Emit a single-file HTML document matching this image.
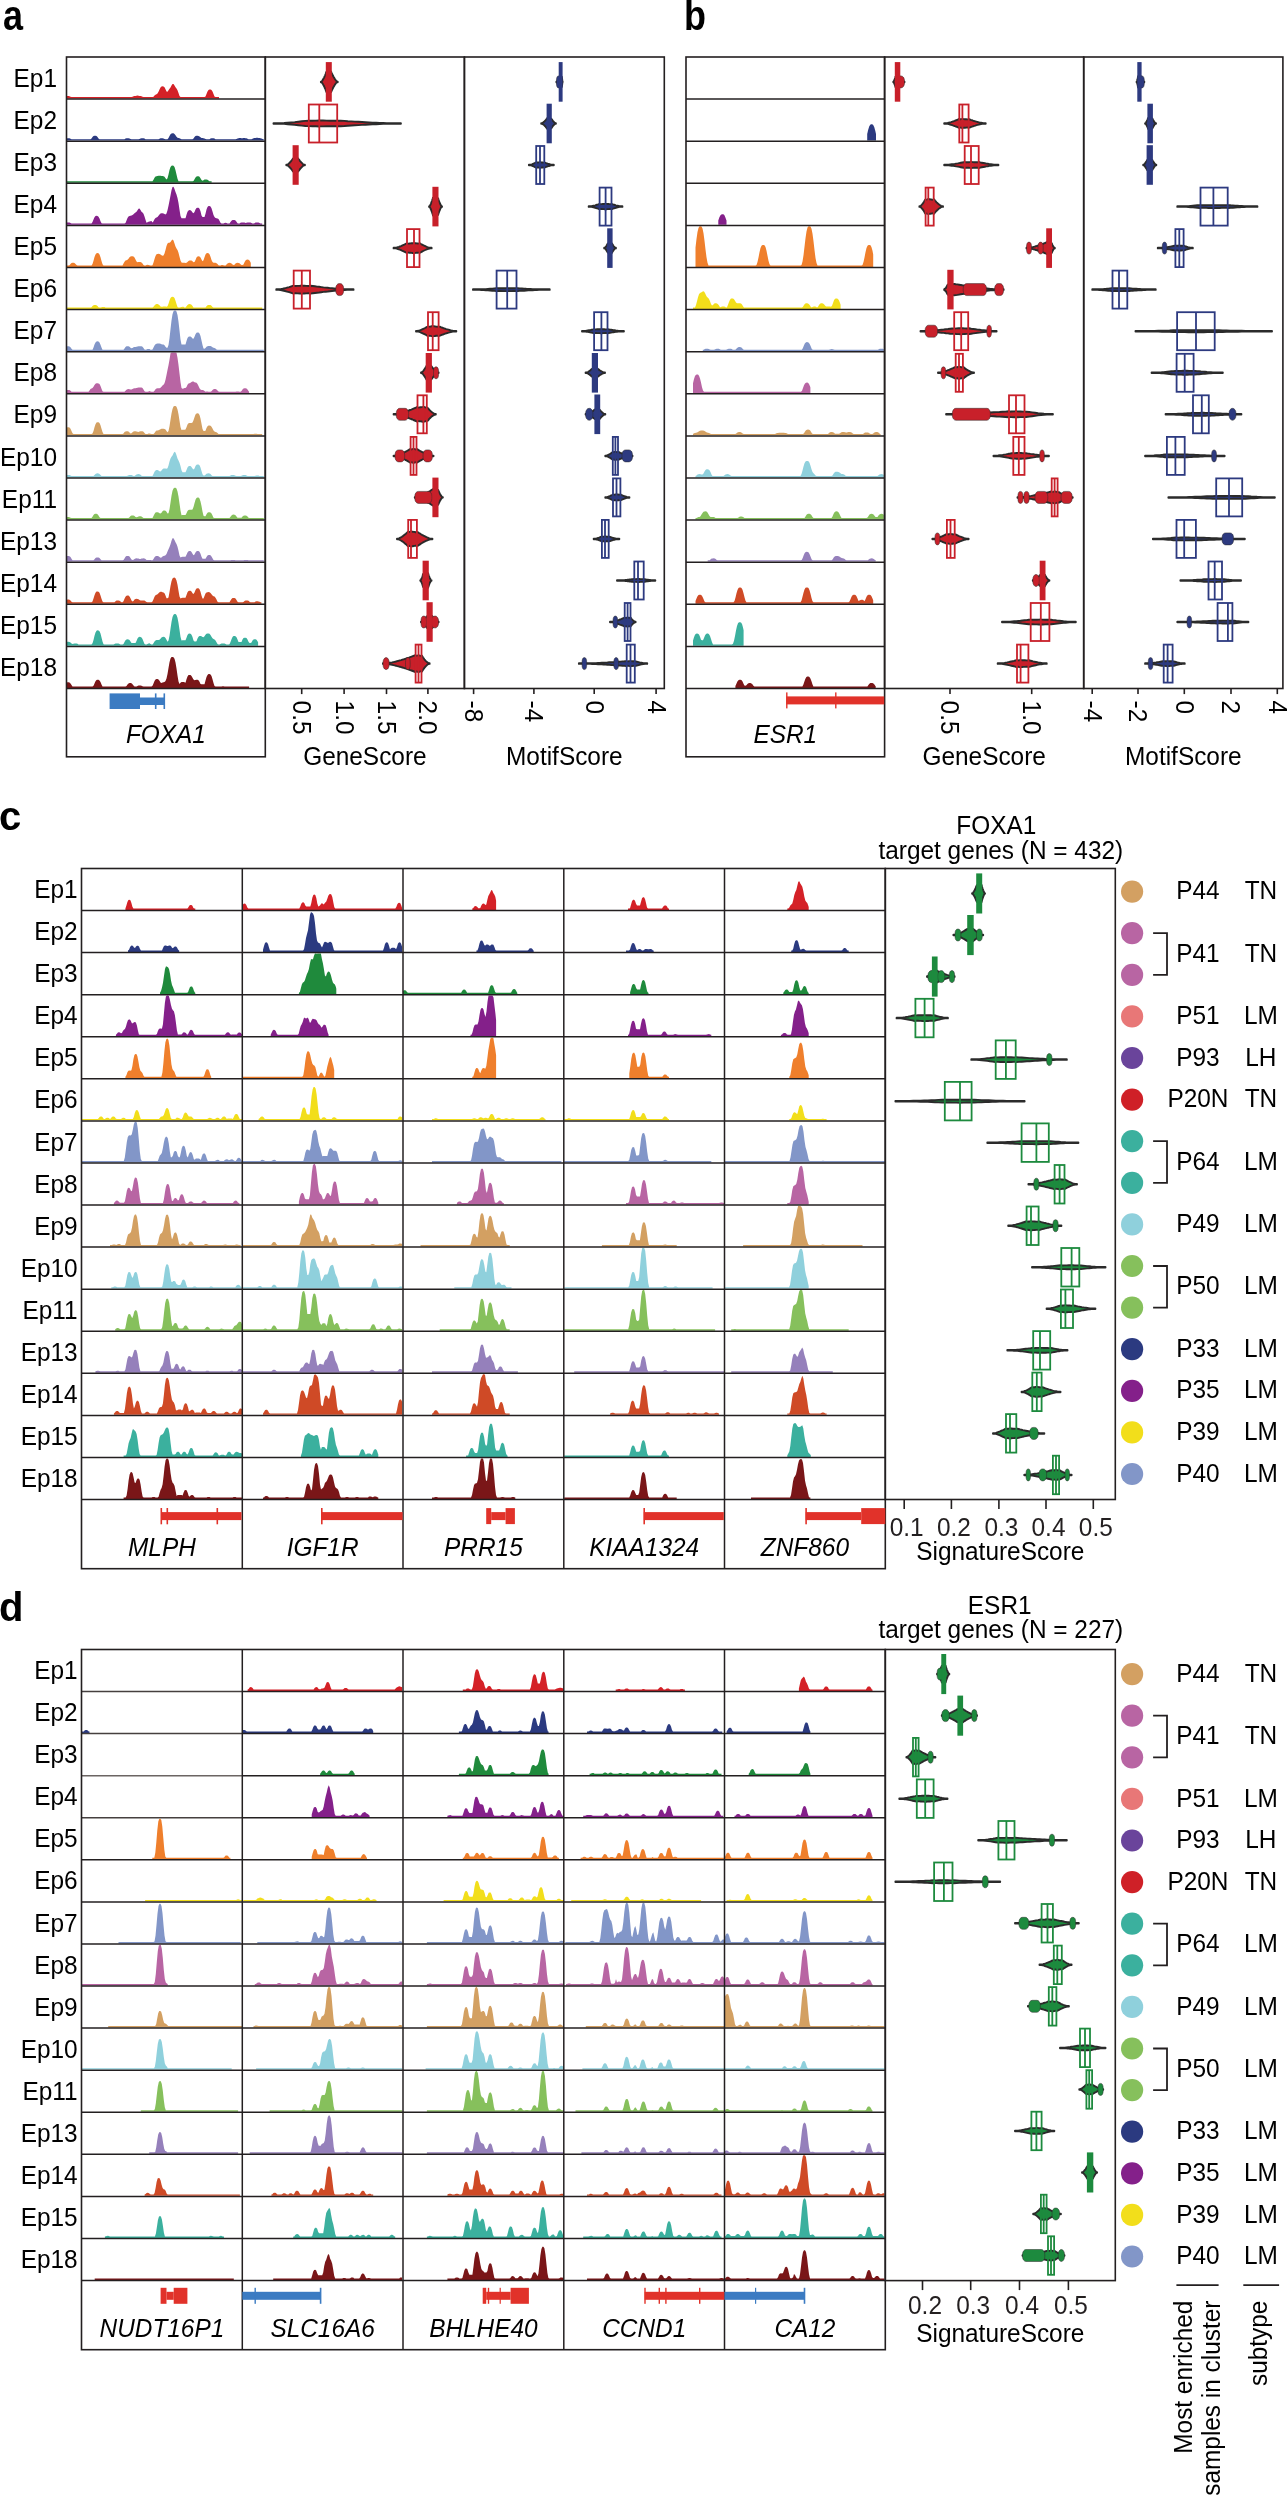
<!DOCTYPE html>
<html><head><meta charset="utf-8"><style>
html,body{margin:0;padding:0;background:#fff;}
svg{display:block;font-family:"Liberation Sans", sans-serif;will-change:transform;}
</style></head><body>
<svg width="1288" height="2495" viewBox="0 0 1288 2495">
<rect width="1288" height="2495" fill="#fff"/>
<text transform="translate(3,30.3) scale(0.9,1.07)" font-size="40" font-weight="bold">a</text>
<text transform="translate(57,86.5) scale(1,1.04)" font-size="24.4" text-anchor="end" font-style="normal" fill="#000" >Ep1</text>
<text transform="translate(57,128.6) scale(1,1.04)" font-size="24.4" text-anchor="end" font-style="normal" fill="#000" >Ep2</text>
<text transform="translate(57,170.8) scale(1,1.04)" font-size="24.4" text-anchor="end" font-style="normal" fill="#000" >Ep3</text>
<text transform="translate(57,212.9) scale(1,1.04)" font-size="24.4" text-anchor="end" font-style="normal" fill="#000" >Ep4</text>
<text transform="translate(57,255) scale(1,1.04)" font-size="24.4" text-anchor="end" font-style="normal" fill="#000" >Ep5</text>
<text transform="translate(57,297.1) scale(1,1.04)" font-size="24.4" text-anchor="end" font-style="normal" fill="#000" >Ep6</text>
<text transform="translate(57,339.2) scale(1,1.04)" font-size="24.4" text-anchor="end" font-style="normal" fill="#000" >Ep7</text>
<text transform="translate(57,381.2) scale(1,1.04)" font-size="24.4" text-anchor="end" font-style="normal" fill="#000" >Ep8</text>
<text transform="translate(57,423.4) scale(1,1.04)" font-size="24.4" text-anchor="end" font-style="normal" fill="#000" >Ep9</text>
<text transform="translate(57,465.5) scale(1,1.04)" font-size="24.4" text-anchor="end" font-style="normal" fill="#000" >Ep10</text>
<text transform="translate(57,507.6) scale(1,1.04)" font-size="24.4" text-anchor="end" font-style="normal" fill="#000" >Ep11</text>
<text transform="translate(57,549.6) scale(1,1.04)" font-size="24.4" text-anchor="end" font-style="normal" fill="#000" >Ep13</text>
<text transform="translate(57,591.8) scale(1,1.04)" font-size="24.4" text-anchor="end" font-style="normal" fill="#000" >Ep14</text>
<text transform="translate(57,633.9) scale(1,1.04)" font-size="24.4" text-anchor="end" font-style="normal" fill="#000" >Ep15</text>
<text transform="translate(57,675.9) scale(1,1.04)" font-size="24.4" text-anchor="end" font-style="normal" fill="#000" >Ep18</text>
<path d="M66.5,98.5L66.5,96.3 67.5,96.1 68.5,96.1 69.5,96.2 70.5,96.7 71.5,97.1 131.5,97.1 132.5,96.7 133.5,96.2 134.5,96 135.5,95.9 136.5,95.7 137.5,95.6 138.5,95.7 139.5,96 140.5,96.1 141.5,96.3 142.5,96.8 143.5,97.1 152.5,97.1 153.5,96.8 154.5,95.5 155.5,94.7 156.5,94.3 157.5,93.6 158.5,91.8 159.5,89.4 160.5,87.4 161.5,86.4 162.5,86.3 163.5,86.4 164.5,87.2 165.5,89.2 166.5,91.4 167.5,91.7 168.5,90.2 169.5,88.8 170.5,87.5 171.5,85.6 172.5,84 173.5,84.1 174.5,85.6 175.5,87.2 176.5,88.4 177.5,90.3 178.5,93.1 179.5,96 180.5,97.1 204.5,97.1 205.5,96.4 206.5,94 207.5,91.5 208.5,90 209.5,89.5 210.5,89.6 211.5,90 212.5,91.5 213.5,94 214.5,96.4 215.5,97.1 219,97.1 219,98.5Z" fill="#d42127"/>
<path d="M66.5,140.6L66.5,138.4 67.5,138.2 68.5,138.2 69.5,138.3 70.5,138.8 71.5,139.2 90.5,139.2 91.5,138.5 92.5,137 93.5,136 94.5,135.7 95.5,135.7 96.5,136 97.5,136.9 98.5,138.4 99.5,139.2 124.5,139.2 125.5,138.6 126.5,138.2 127.5,138.2 128.5,138.2 129.5,138.5 130.5,139.1 131.5,139.2 138.5,139.2 139.5,139.1 140.5,138.5 141.5,138.2 142.5,138.2 143.5,138.2 144.5,138.6 145.5,139.2 158.5,139.2 159.5,138.8 160.5,138.3 161.5,138.2 162.5,138.2 163.5,138.4 164.5,138.9 165.5,139.2 167.5,139.2 168.5,138.1 169.5,136 170.5,134.2 171.5,133.4 172.5,133.3 173.5,133.3 174.5,134 175.5,135.3 176.5,136.8 177.5,137.8 178.5,138.1 179.5,138.3 180.5,138.7 181.5,139.2 192.5,139.2 193.5,138.4 194.5,136.9 195.5,136 196.5,135.7 197.5,135.7 198.5,135.9 199.5,136.5 200.5,137.3 201.5,137.9 202.5,138.1 203.5,138.2 204.5,138.5 205.5,139.1 206.5,139.2 209.5,139.2 210.5,138.5 211.5,138.2 212.5,138.2 213.5,138.2 214.5,138.6 215.5,139.2 235.5,139.2 236.5,139.1 237.5,138.5 238.5,138.2 239.5,138.1 240.5,138.1 241.5,138.2 242.5,138.2 243.5,138.1 244.5,138.1 245.5,138.2 246.5,138.3 247.5,138.8 248.5,139.2 251.5,139.2 252.5,138.7 253.5,138.3 254.5,138.1 255.5,138 256.5,137.8 257.5,137.7 258.5,137.9 259.5,138.1 260.5,138.2 261.5,138.4 262.5,139.1 263.5,139.2 263.8,139.2 263.8,140.6Z" fill="#2b3a80"/>
<path d="M66.5,182.7L66.5,181.3 152.5,181.3 153.5,179.7 154.5,177.8 155.5,176.6 156.5,176.2 157.5,176.1 158.5,175.8 159.5,175.7 160.5,175.7 161.5,175.9 162.5,176.1 163.5,176.2 164.5,176.8 165.5,178.2 166.5,179.4 167.5,178.2 168.5,174.4 169.5,170.1 170.5,167 171.5,165.8 172.5,165.6 173.5,165.8 174.5,167.1 175.5,170.2 176.5,174.6 177.5,178.7 178.5,181.3 192.5,181.3 193.5,181.1 194.5,179.2 195.5,177.4 196.5,176.4 197.5,176.2 198.5,176.2 199.5,176.8 200.5,178.2 201.5,179.9 202.5,180.7 203.5,180.2 204.5,179.6 205.5,179.4 206.5,179.5 207.5,179.7 208.5,180.4 209.5,181.3 211.6,181.3 211.6,182.7Z" fill="#1f8a3c"/>
<path d="M66.5,224.8L66.5,222.6 67.5,222.4 68.5,222.4 69.5,222.5 70.5,223 71.5,223.4 91.5,223.4 92.5,222 93.5,219.4 94.5,217.2 95.5,216.1 96.5,215.8 97.5,215.9 98.5,216.7 99.5,218.6 100.5,221.2 101.5,223.3 102.5,223.4 124.5,223.4 125.5,222.9 126.5,220.5 127.5,218 128.5,216.4 129.5,215.9 130.5,215.7 131.5,215.5 132.5,215 133.5,214.2 134.5,213.2 135.5,212.5 136.5,211.8 137.5,210.3 138.5,208.7 139.5,208.6 140.5,210.1 141.5,211.7 142.5,212.6 143.5,213.8 144.5,216.4 145.5,219.8 146.5,222.7 147.5,222.3 148.5,221.7 149.5,221.5 150.5,221.3 151.5,221 152.5,222.5 153.5,221.3 154.5,219.2 155.5,217.9 156.5,217.4 157.5,216.9 158.5,215.8 159.5,214.4 160.5,213.4 161.5,213.2 162.5,213.3 163.5,213.4 164.5,213.9 165.5,214.5 166.5,213.6 167.5,210.3 168.5,205.8 169.5,200.8 170.5,195.5 171.5,190.3 172.5,186.9 173.5,186.7 174.5,189.1 175.5,192 176.5,194.6 177.5,197.9 178.5,203.1 179.5,209.7 180.5,216.1 181.5,218.3 182.5,218.2 183.5,218.2 184.5,218.2 185.5,218.2 186.5,214.7 187.5,211.8 188.5,210.4 189.5,210.1 190.5,210.2 191.5,211.1 192.5,212.6 193.5,213.3 194.5,211.9 195.5,209.5 196.5,208 197.5,207.7 198.5,207.8 199.5,208.7 200.5,211.3 201.5,215.4 202.5,217.1 203.5,217.1 204.5,217.1 205.5,213.8 206.5,209.5 207.5,207 208.5,206.1 209.5,206.1 210.5,206.5 211.5,208.3 212.5,211.5 213.5,214.9 214.5,217.1 215.5,218 216.5,218.2 217.5,218.4 218.5,219.1 219.5,220.8 220.5,222.7 221.5,223.4 223.5,223.4 224.5,223 225.5,222.7 226.5,223 227.5,223.4 229.5,223.4 230.5,222.1 231.5,220.7 232.5,220 233.5,219.9 234.5,220 235.5,220.5 236.5,221.7 237.5,223.2 238.5,223.4 239.5,223.4 240.5,222.8 241.5,222.4 242.5,222.4 243.5,222.4 244.5,222.6 245.5,222.9 246.5,222.8 247.5,222.5 248.5,222.4 249.5,222.4 250.5,222.5 251.5,223 252.5,223.4 253.5,223.4 254.5,223.2 255.5,222.6 256.5,222.4 257.5,222.4 258.5,222.5 259.5,222.9 260.5,223.4 262.2,223.4 262.2,224.8Z" fill="#84208a"/>
<path d="M66.5,266.9L66.5,265.5 68.5,265.5 69.5,265.2 70.5,263.9 71.5,263.1 72.5,262.8 73.5,262.8 74.5,263.1 75.5,263.9 76.5,265.1 77.5,265.5 91.5,265.5 92.5,264.1 93.5,260.8 94.5,257.1 95.5,254.4 96.5,253.2 97.5,253 98.5,253.2 99.5,254.5 100.5,257.2 101.5,261 102.5,264.2 103.5,265.5 121.5,265.5 122.5,265.4 123.5,263.5 124.5,261.7 125.5,260.6 126.5,260.3 127.5,259.8 128.5,258.7 129.5,257.3 130.5,256.4 131.5,256.2 132.5,256.3 133.5,256.4 134.5,257.4 135.5,259.4 136.5,261.5 137.5,262.3 138.5,262.1 139.5,262 140.5,262 141.5,262.4 142.5,263.4 143.5,264.9 144.5,265.5 145.5,265.5 146.5,264.9 147.5,264.7 148.5,264.9 149.5,265.3 150.5,265.5 151.5,265.5 152.5,265.2 153.5,262.5 154.5,258.9 155.5,255.9 156.5,254.2 157.5,253.9 158.5,253.8 159.5,254 160.5,254.6 161.5,255.3 162.5,255.7 163.5,255.4 164.5,253.6 165.5,250 166.5,246.1 167.5,243.6 168.5,242.8 169.5,242.7 170.5,242 171.5,240.5 172.5,239.5 173.5,240.6 174.5,243.5 175.5,246.6 176.5,248.4 177.5,249.9 178.5,252.7 179.5,256.8 180.5,260.6 181.5,262.6 182.5,262.8 183.5,262.8 184.5,262.8 185.5,262.9 186.5,262.7 187.5,262 188.5,261 189.5,260.5 190.5,260.4 191.5,260.5 192.5,261.3 193.5,262.3 194.5,262 195.5,259.9 196.5,257.6 197.5,256.5 198.5,256.3 199.5,256.4 200.5,257.4 201.5,259.4 202.5,261.2 203.5,260.3 204.5,257.2 205.5,254.5 206.5,253.2 207.5,253 208.5,253.2 209.5,254.3 210.5,256.8 211.5,259.9 212.5,262 213.5,262.7 214.5,262.8 215.5,262.8 216.5,263.2 217.5,264.1 218.5,265.3 219.5,265.5 220.5,265.4 221.5,265.1 222.5,265.1 223.5,265.2 224.5,265.5 225.5,265.5 226.5,264.6 227.5,263.5 228.5,262.9 229.5,262.8 230.5,262.9 231.5,263.4 232.5,264.4 233.5,265.1 234.5,264.7 235.5,263.6 236.5,263 237.5,262.8 238.5,262.9 239.5,263.3 240.5,264.3 241.5,265.1 242.5,265.1 243.5,264.4 244.5,262.3 245.5,260.5 246.5,259.7 247.5,259.6 248.5,259.7 249.5,260.5 250.5,262.3 250.8,262.9 250.8,266.9Z" fill="#ef7f2c"/>
<path d="M66.5,309L66.5,307.4 67.5,307.4 68.5,307.4 69.5,307.6 90.5,307.6 91.5,307.3 92.5,306.1 93.5,305.2 94.5,304.9 95.5,304.9 96.5,305.2 97.5,306 98.5,307.2 99.5,307.6 100.5,307.6 101.5,307.2 102.5,307.1 103.5,307 104.5,307.1 105.5,307.5 106.5,307.6 152.5,307.6 153.5,306.8 154.5,305.4 155.5,304.4 156.5,304.1 157.5,304.1 158.5,304.4 159.5,305.3 160.5,306.5 161.5,306.8 162.5,306.8 163.5,306.6 164.5,306.6 165.5,306.6 166.5,306.8 167.5,306.2 168.5,303.8 169.5,300.5 170.5,298 171.5,296.9 172.5,296.8 173.5,296.9 174.5,298.1 175.5,300.7 176.5,304 177.5,306.9 178.5,307.6 179.5,307.6 180.5,307.2 181.5,306.9 182.5,306.8 183.5,306.8 184.5,307.6 185.5,307.6 186.5,306.3 187.5,304.9 188.5,304.2 189.5,304.1 190.5,304.2 191.5,304.7 192.5,305.9 193.5,307.4 194.5,307.6 204.5,307.6 205.5,307.5 206.5,306.2 207.5,305.3 208.5,304.9 209.5,304.9 210.5,305.1 211.5,305.8 212.5,307.1 213.5,307.6 262.2,307.6 262.2,309Z" fill="#f2de1b"/>
<path d="M66.5,351.1L66.5,346.6 67.5,346.2 68.5,346.2 69.5,346.4 70.5,347.3 71.5,348.8 72.5,349.7 92.5,349.7 93.5,347.4 94.5,344.6 95.5,342.4 96.5,341.5 97.5,341.3 98.5,341.5 99.5,342.5 100.5,344.7 101.5,347.5 102.5,349.7 123.5,349.7 124.5,348.4 125.5,347.1 126.5,346.3 127.5,346.2 128.5,346.3 129.5,346.7 130.5,347.7 131.5,348.3 132.5,347.9 133.5,347.3 134.5,347 135.5,346.9 136.5,346.8 137.5,346.5 138.5,346.3 139.5,346.2 140.5,346.2 141.5,346.3 142.5,346.7 143.5,347.9 144.5,349.4 145.5,349.7 146.5,349.5 147.5,348.9 148.5,348.9 149.5,349.1 150.5,349.7 151.5,349.7 152.5,349.6 153.5,347.6 154.5,345.5 155.5,344.2 156.5,343.8 157.5,343.6 158.5,343.5 159.5,343.5 160.5,343.7 161.5,344.2 162.5,344.5 163.5,344.6 164.5,345.2 165.5,346.7 166.5,347.7 167.5,347.8 168.5,345.1 169.5,338.3 170.5,329.3 171.5,320.6 172.5,314.3 173.5,311.2 174.5,310.5 175.5,310.5 176.5,311.5 177.5,315 178.5,321.7 179.5,330.6 180.5,339.4 181.5,344.6 182.5,344.5 183.5,344.5 184.5,344.5 185.5,344.5 186.5,341 187.5,338.1 188.5,336.7 189.5,336.4 190.5,336.5 191.5,337.3 192.5,338.5 193.5,338.7 194.5,336.8 195.5,334.3 196.5,332.7 197.5,332.4 198.5,332.4 199.5,333.4 200.5,336.1 201.5,340.4 202.5,345.1 203.5,348.5 204.5,348.8 205.5,348 206.5,346.8 207.5,346.3 208.5,346.1 209.5,345.9 210.5,345.9 211.5,346.5 212.5,347.3 213.5,347.7 214.5,348 215.5,348.5 216.5,349.5 217.5,349.7 263.8,349.7 263.8,351.1Z" fill="#8296c8"/>
<path d="M66.5,393.2L66.5,390.2 67.5,390 68.5,389.9 69.5,390.1 70.5,390.7 71.5,391.7 72.5,391.8 88.5,391.8 89.5,390.4 90.5,389.1 91.5,388.4 92.5,388 93.5,386.8 94.5,385.1 95.5,383.7 96.5,383.2 97.5,383.3 98.5,383.5 99.5,384.1 100.5,386 101.5,388.7 102.5,391.2 103.5,391.8 124.5,391.8 125.5,390.8 126.5,389.7 127.5,389.2 128.5,389.1 129.5,389.2 130.5,389.4 131.5,389.5 132.5,389.1 133.5,388.5 134.5,388.3 135.5,388.2 136.5,388 137.5,387.7 138.5,387.4 139.5,387.4 140.5,387.5 141.5,387.5 142.5,388.1 143.5,389.4 144.5,391.2 145.5,391.8 147.5,391.8 148.5,391.5 149.5,391.1 150.5,391.5 151.5,391.8 153.5,391.8 154.5,390.8 155.5,389.3 156.5,388.5 157.5,388.3 158.5,388.3 159.5,388.2 160.5,387.8 161.5,386.8 162.5,385.6 163.5,384.7 164.5,383.2 165.5,379.8 166.5,375.1 167.5,370.1 168.5,365.3 169.5,359.7 170.5,353.2 171.5,352.6 172.5,352.6 173.5,352.6 174.5,352.6 175.5,352.6 176.5,352.7 177.5,357.8 178.5,364.9 179.5,373.5 180.5,382 181.5,388.1 182.5,388.7 183.5,388.5 184.5,388.1 185.5,387.9 186.5,387 187.5,384.7 188.5,383.6 189.5,383.3 190.5,382.8 191.5,382 192.5,381.4 193.5,381.6 194.5,382.2 195.5,382.5 196.5,382.8 197.5,384 198.5,386.1 199.5,388.2 200.5,389.5 201.5,389.9 202.5,390 203.5,390.2 204.5,391 205.5,391.8 206.5,391.5 207.5,391.5 208.5,391.7 209.5,391.7 210.5,391.8 211.5,391.3 212.5,390.1 213.5,389.3 214.5,389.1 215.5,389.1 216.5,389.5 217.5,390.4 218.5,391.6 219.5,391.8 235.5,391.8 236.5,391.6 237.5,391.6 238.5,391.6 239.5,391.7 240.5,391.7 241.5,390.9 242.5,389.6 243.5,388.6 244.5,388.3 245.5,388.3 246.5,388.6 247.5,389.5 248.5,391 249.1,391.8 249.1,393.2Z" fill="#b865a3"/>
<path d="M66.5,435.3L66.5,427.7 67.5,427.2 68.5,427.2 69.5,427.5 70.5,428.8 71.5,431 72.5,433.3 73.5,433.9 91.5,433.9 92.5,433.6 93.5,430.9 94.5,427.3 95.5,424.2 96.5,422.6 97.5,422.3 98.5,422.3 99.5,423.1 100.5,425.3 101.5,428.7 102.5,432.1 103.5,433.9 122.5,433.9 123.5,433.4 124.5,432.1 125.5,431.4 126.5,431.2 127.5,431.2 128.5,431.6 129.5,432.5 130.5,433.4 131.5,433.3 132.5,432.3 133.5,431.5 134.5,431.2 135.5,431.2 136.5,431.4 137.5,431.8 138.5,431.9 139.5,431.6 140.5,431.3 141.5,431.2 142.5,431.3 143.5,431.8 144.5,432.9 145.5,433.9 147.5,433.9 148.5,433.6 149.5,433.5 150.5,433.7 151.5,433.9 153.5,433.9 154.5,432.9 155.5,431.4 156.5,430.6 157.5,430.4 158.5,430.2 159.5,429.8 160.5,429.3 161.5,428.8 162.5,428.7 163.5,428.8 164.5,428.9 165.5,429.6 166.5,431.1 167.5,432.3 168.5,430.9 169.5,426.3 170.5,419.8 171.5,413.5 172.5,408.9 173.5,406.6 174.5,406 175.5,406 176.5,406.8 177.5,409.4 178.5,414.3 179.5,420.8 180.5,427.1 181.5,429.9 182.5,429.8 183.5,429.7 184.5,429.7 185.5,429.5 186.5,427.2 187.5,424.6 188.5,423.3 189.5,423 190.5,423 191.5,422.9 192.5,422.4 193.5,420.3 194.5,417.2 195.5,414.6 196.5,413.4 197.5,413.3 198.5,413.5 199.5,415.1 200.5,418.6 201.5,423.7 202.5,428.9 203.5,430.9 204.5,430.9 205.5,430.7 206.5,428 207.5,426.2 208.5,425.6 209.5,425.5 210.5,425.7 211.5,426.7 212.5,428.5 213.5,430.5 214.5,431.6 215.5,432 216.5,432.3 217.5,433.1 218.5,433.9 253.5,433.9 254.5,433.7 255.5,433.7 256.5,433.7 257.5,433.9 262.2,433.9 262.2,435.3Z" fill="#d3a062"/>
<path d="M66.5,477.4L66.5,475.2 67.5,475 68.5,475 69.5,475.1 70.5,475.6 71.5,476 93.5,476 94.5,475 95.5,473.9 96.5,473.4 97.5,473.3 98.5,473.4 99.5,473.9 100.5,475 101.5,476 126.5,476 127.5,475.7 128.5,475.2 129.5,475 130.5,475 131.5,475.1 132.5,475.6 133.5,476 134.5,476 135.5,475.3 136.5,474.5 137.5,474.2 138.5,474.1 139.5,474.3 140.5,474.8 141.5,475.8 142.5,476 151.5,476 152.5,475.9 153.5,473.9 154.5,471.8 155.5,470.5 156.5,470.1 157.5,470.1 158.5,470.4 159.5,471.2 160.5,471.5 161.5,470.6 162.5,469.2 163.5,468.5 164.5,468.4 165.5,468.5 166.5,468.8 167.5,468.2 168.5,465.5 169.5,461.6 170.5,458.5 171.5,456.8 172.5,455.5 173.5,453.3 174.5,451.7 175.5,452.4 176.5,455.3 177.5,458.5 178.5,460.6 179.5,462.7 180.5,466 181.5,470.3 182.5,472.3 183.5,472.3 184.5,472.3 185.5,472.3 186.5,470 187.5,467.4 188.5,466.2 189.5,466 190.5,466.1 191.5,467 192.5,468.6 193.5,469.6 194.5,468.4 195.5,466.1 196.5,464.7 197.5,464.4 198.5,464.4 199.5,465.3 200.5,467.5 201.5,471 202.5,474.3 203.5,475.6 204.5,475.6 205.5,474.8 206.5,473.8 207.5,473.4 208.5,473.3 209.5,473.4 210.5,474.1 211.5,475.2 212.5,476 229.5,476 230.5,475.5 231.5,475.1 232.5,475 233.5,475 234.5,475.2 235.5,475.8 236.5,476 240.5,476 241.5,475.8 242.5,475.2 243.5,475 244.5,475 245.5,475.1 246.5,475.5 247.5,476 254.5,476 255.5,475.7 256.5,475.5 257.5,475.4 258.5,475.5 259.5,475.9 260.5,476 263.8,476 263.8,477.4Z" fill="#8fd0dc"/>
<path d="M66.5,519.5L66.5,517.3 67.5,517.1 68.5,517.1 69.5,517.2 70.5,517.7 71.5,518.1 91.5,518.1 92.5,516.7 93.5,515 94.5,514 95.5,513.8 96.5,513.8 97.5,514.2 98.5,515.5 99.5,517.2 100.5,518.1 128.5,518.1 129.5,517.2 130.5,516.1 131.5,515.5 132.5,515.4 133.5,515.5 134.5,516 135.5,516.9 136.5,517.3 137.5,516.9 138.5,516.4 139.5,516.2 140.5,516.3 141.5,516.5 142.5,517.3 143.5,518.1 145.5,518.1 146.5,518 147.5,518 148.5,518.1 151.5,518.1 152.5,518 153.5,516 154.5,513.9 155.5,512.6 156.5,512.2 157.5,512.2 158.5,512.5 159.5,513.3 160.5,513.6 161.5,512.7 162.5,511.3 163.5,510.6 164.5,510.5 165.5,510.8 166.5,511.8 167.5,513.4 168.5,513.3 169.5,509.2 170.5,502.5 171.5,495.7 172.5,490.8 173.5,488.4 174.5,487.7 175.5,487.7 176.5,488.6 177.5,491.4 178.5,496.6 179.5,503.5 180.5,510.4 181.5,515.2 182.5,515.1 183.5,515.1 184.5,515.1 185.5,515 186.5,513.3 187.5,511 188.5,509.9 189.5,509.7 190.5,509.7 191.5,509.8 192.5,509.5 193.5,507.1 194.5,503.2 195.5,499.7 196.5,497.9 197.5,497.5 198.5,497.6 199.5,498.6 200.5,501.4 201.5,506.1 202.5,511.5 203.5,515.8 204.5,516.2 205.5,516.2 206.5,514.2 207.5,512.7 208.5,512.2 209.5,512.2 210.5,512.5 211.5,513.6 212.5,515.6 213.5,517.7 214.5,518.1 229.5,518.1 230.5,516.8 231.5,515.4 232.5,514.7 233.5,514.6 234.5,514.7 235.5,515.2 236.5,516.4 237.5,517.7 238.5,517.7 239.5,517.7 240.5,517.7 241.5,517.7 242.5,516.6 243.5,515.7 244.5,515.4 245.5,515.4 246.5,515.7 247.5,516.5 248.5,517.7 249.5,518.1 258.5,518.1 259.5,517.9 260.5,517.9 261.5,517.9 262.5,518.1 263.8,518.1 263.8,519.5Z" fill="#86c05c"/>
<path d="M66.5,561.6L66.5,556.3 67.5,555.9 68.5,555.9 69.5,556.2 70.5,557.1 71.5,558.8 72.5,560.2 93.5,560.2 94.5,559.2 95.5,558.1 96.5,557.6 97.5,557.5 98.5,557.6 99.5,558.1 100.5,559.2 101.5,560.2 122.5,560.2 123.5,560.1 124.5,558.4 125.5,556.8 126.5,556 127.5,555.9 128.5,556 129.5,556.5 130.5,557.9 131.5,559.6 132.5,560.1 133.5,559.8 134.5,558.9 135.5,558.4 136.5,558.3 137.5,558.4 138.5,558.6 139.5,559 140.5,558.9 141.5,558.5 142.5,558.4 143.5,558.3 144.5,558.5 145.5,559.1 146.5,560.1 147.5,560.1 148.5,560.1 149.5,560.1 150.5,560.1 151.5,560.2 152.5,560.2 153.5,559 154.5,557.3 155.5,556.2 156.5,555.9 157.5,555.9 158.5,556.2 159.5,557.1 160.5,557.8 161.5,557.4 162.5,556.5 163.5,555.9 164.5,555.8 165.5,555.2 166.5,553.9 167.5,551.6 168.5,549.2 169.5,546.9 170.5,544.2 171.5,540.8 172.5,538.3 173.5,538.2 174.5,540.1 175.5,542.3 176.5,544.1 177.5,546.7 178.5,550.8 179.5,555.4 180.5,557.5 181.5,556.9 182.5,556.8 183.5,556.8 184.5,556.8 185.5,556.8 186.5,554.8 187.5,552.4 188.5,551.2 189.5,551 190.5,551.1 191.5,552 192.5,553.8 193.5,555.2 194.5,554.5 195.5,552.6 196.5,551.3 197.5,551 198.5,551.1 199.5,551.8 200.5,553.8 201.5,556.8 202.5,558.7 203.5,558.7 204.5,558.7 205.5,558.7 206.5,557 207.5,555.6 208.5,555.1 209.5,555.1 210.5,555.3 211.5,556.4 212.5,558.2 213.5,560.1 214.5,560.2 230.5,560.2 231.5,560.1 232.5,560 233.5,560 234.5,560.1 235.5,560.2 243.5,560.2 244.5,560.1 245.5,560 246.5,560 247.5,560.1 248.5,560.2 263.8,560.2 263.8,561.6Z" fill="#9580bb"/>
<path d="M66.5,603.7L66.5,600 67.5,599.6 68.5,599.6 69.5,599.8 70.5,600.6 71.5,601.8 72.5,602.3 91.5,602.3 92.5,601.5 93.5,598.6 94.5,595.2 95.5,592.7 96.5,591.6 97.5,591.5 98.5,591.7 99.5,592.8 100.5,595.4 101.5,598.8 102.5,601.6 103.5,602.3 113.5,602.3 114.5,602.2 115.5,601.2 116.5,600.6 117.5,600.4 118.5,600.5 119.5,600.7 120.5,601.5 121.5,602.2 122.5,602.2 123.5,601.2 124.5,598.8 125.5,596.8 126.5,595.7 127.5,595.5 128.5,595.6 129.5,596.4 130.5,598.2 131.5,600.4 132.5,601.5 133.5,600.9 134.5,599.6 135.5,598.9 136.5,598.8 137.5,598.9 138.5,599.3 139.5,600.1 140.5,600.6 141.5,600.5 142.5,600.4 143.5,600.4 144.5,600.6 145.5,601.2 146.5,602.1 147.5,602.2 148.5,602.2 149.5,602.2 150.5,602.2 151.5,602.3 152.5,601.6 153.5,599.2 154.5,596.7 155.5,595.2 156.5,594.7 157.5,594.2 158.5,593.2 159.5,592.2 160.5,591.7 161.5,591.8 162.5,592.2 163.5,592.4 164.5,593.2 165.5,595.4 166.5,598.3 167.5,598.3 168.5,597.4 169.5,592.1 170.5,586 171.5,581.2 172.5,578.5 173.5,577.7 174.5,577.6 175.5,578.2 176.5,580.4 177.5,584.8 178.5,590.7 179.5,596.5 180.5,598.5 181.5,597.9 182.5,597.8 183.5,597.8 184.5,597.8 185.5,597.8 186.5,595 187.5,592.2 188.5,590.9 189.5,590.7 190.5,590.8 191.5,591.6 192.5,593.2 193.5,593.9 194.5,592.4 195.5,590.1 196.5,588.6 197.5,588.2 198.5,588.3 199.5,589.2 200.5,591.7 201.5,595.4 202.5,598.5 203.5,598.5 204.5,596 205.5,593.6 206.5,592.5 207.5,592.2 208.5,592.1 209.5,592.2 210.5,593 211.5,594.3 212.5,595.6 213.5,596.2 214.5,596.6 215.5,597.7 216.5,599.6 217.5,601.8 218.5,602.3 222.5,602.3 223.5,602.2 224.5,602.3 228.5,602.3 229.5,602.2 230.5,600.5 231.5,598.9 232.5,598.1 233.5,598 234.5,598.1 235.5,598.6 236.5,600 237.5,601.8 238.5,602.3 239.5,602.2 240.5,602.2 241.5,602.2 242.5,602.2 243.5,602 244.5,601.1 245.5,600.5 246.5,600.4 247.5,600.5 248.5,600.8 249.5,601.7 250.5,602.3 253.5,602.3 254.5,602.2 255.5,601.5 256.5,601.3 257.5,601.3 258.5,601.4 259.5,601.8 260.5,602.3 261.4,602.3 261.4,603.7Z" fill="#cf4a26"/>
<path d="M66.5,645.8L66.5,642.1 67.5,641.7 68.5,641.7 69.5,641.9 70.5,642.6 71.5,643.6 72.5,644 73.5,643.7 74.5,643.4 75.5,643.4 76.5,643.4 77.5,643.8 78.5,644.4 91.5,644.4 92.5,643.3 93.5,640 94.5,635.8 95.5,632.5 96.5,630.7 97.5,630.3 98.5,630.4 99.5,631.2 100.5,633.6 101.5,637.4 102.5,641.4 103.5,644.2 104.5,644.4 113.5,644.4 114.5,644.1 115.5,643.5 116.5,643.4 117.5,643.4 118.5,643.5 119.5,644 120.5,644.4 122.5,644.4 123.5,644 124.5,642.1 125.5,640.3 126.5,639.5 127.5,639.3 128.5,639.4 129.5,640 130.5,641.5 131.5,642.9 132.5,642.9 133.5,642.9 134.5,642.9 135.5,642.9 136.5,641 137.5,638.6 138.5,637.2 139.5,636.8 140.5,636.9 141.5,637.4 142.5,639.1 143.5,641.6 144.5,644 145.5,644.4 146.5,644.4 147.5,643.9 148.5,643.4 149.5,643.2 150.5,643.9 151.5,644.4 152.5,644.4 153.5,643.2 154.5,641.5 155.5,640.4 156.5,640.1 157.5,640 158.5,640 159.5,639.7 160.5,638.8 161.5,637.6 162.5,636.9 163.5,636.8 164.5,637 165.5,637.9 166.5,639.8 167.5,641.7 168.5,640.6 169.5,635.7 170.5,628.8 171.5,622 172.5,617.1 173.5,614.7 174.5,614 175.5,614 176.5,614.9 177.5,617.7 178.5,622.9 179.5,629.8 180.5,636.7 181.5,640.4 182.5,640.3 183.5,640.3 184.5,640.3 185.5,640.3 186.5,637.7 187.5,635.1 188.5,633.8 189.5,633.6 190.5,633.7 191.5,634.7 192.5,637.1 193.5,640.4 194.5,641.4 195.5,641.4 196.5,641.3 197.5,638.6 198.5,636.7 199.5,636.1 200.5,636 201.5,636.2 202.5,636.9 203.5,637.2 204.5,636.2 205.5,634.7 206.5,633.7 207.5,633.5 208.5,633.5 209.5,633.8 210.5,634.9 211.5,636.7 212.5,638.3 213.5,639.1 214.5,639.5 215.5,640.5 216.5,642.3 217.5,644.1 218.5,644.4 219.5,644.4 220.5,644.1 221.5,643.5 222.5,643.4 223.5,643.4 224.5,643.5 225.5,644 226.5,644.4 228.5,644.4 229.5,644.3 230.5,642 231.5,639.2 232.5,637.1 233.5,636.1 234.5,636 235.5,636.2 236.5,637.2 237.5,639.5 238.5,642.1 239.5,642.1 240.5,642.1 241.5,641.9 242.5,639.6 243.5,638.1 244.5,637.7 245.5,637.7 246.5,638.1 247.5,639.4 248.5,641.7 249.5,642.9 250.5,642.9 251.5,642.4 252.5,640.6 253.5,639.5 254.5,639.3 255.5,639.3 256.5,639.8 257.5,641.2 258.1,642.3 258.1,645.8Z" fill="#3bb09e"/>
<path d="M66.5,687.9L66.5,682.6 67.5,682.2 68.5,682.2 69.5,682.5 70.5,683.4 71.5,685.1 72.5,686.5 92.5,686.5 93.5,685.7 94.5,683.4 95.5,681.3 96.5,680 97.5,679.8 98.5,679.8 99.5,680.4 100.5,682 101.5,684.4 102.5,686.4 103.5,686.5 125.5,686.5 126.5,685.9 127.5,684.4 128.5,683.4 129.5,683 130.5,683 131.5,683.3 132.5,684.2 133.5,685.6 134.5,686.5 136.5,686.5 137.5,686.1 138.5,685.6 139.5,685.5 140.5,685.5 141.5,685.7 142.5,686.2 143.5,686.5 151.5,686.5 152.5,685.8 153.5,683.4 154.5,680.9 155.5,679.4 156.5,678.9 157.5,678.9 158.5,679.4 159.5,680.7 160.5,682.4 161.5,683.1 162.5,682.6 163.5,682.2 164.5,681.9 165.5,681 166.5,678.6 167.5,673.9 168.5,667.9 169.5,662.3 170.5,658.6 171.5,657.1 172.5,656.9 173.5,657.2 174.5,658.7 175.5,662.5 176.5,668.5 177.5,675.4 178.5,681.5 179.5,684 180.5,682.7 181.5,682.1 182.5,682 183.5,682 184.5,682.3 185.5,682.8 186.5,679.2 187.5,676.4 188.5,675.1 189.5,674.9 190.5,675 191.5,675.9 192.5,677.8 193.5,679.6 194.5,680.2 195.5,679.9 196.5,679.7 197.5,679.8 198.5,680.2 199.5,681.7 200.5,684 201.5,684.2 202.5,684.2 203.5,684.2 204.5,684.2 205.5,680.6 206.5,677.1 207.5,674.9 208.5,674.1 209.5,674 210.5,674.5 211.5,676.1 212.5,679.3 213.5,683.1 214.5,686 215.5,686.5 220.5,686.5 221.5,686.4 222.5,686.3 223.5,686.3 224.5,686.4 225.5,686.5 249.1,686.5 249.1,687.9Z" fill="#7a1618"/>
<line x1="66.5" y1="99.1" x2="265.3" y2="99.1" stroke="#231f20" stroke-width="1.5"/>
<line x1="66.5" y1="141.2" x2="265.3" y2="141.2" stroke="#231f20" stroke-width="1.5"/>
<line x1="66.5" y1="183.3" x2="265.3" y2="183.3" stroke="#231f20" stroke-width="1.5"/>
<line x1="66.5" y1="225.4" x2="265.3" y2="225.4" stroke="#231f20" stroke-width="1.5"/>
<line x1="66.5" y1="267.5" x2="265.3" y2="267.5" stroke="#231f20" stroke-width="1.5"/>
<line x1="66.5" y1="309.6" x2="265.3" y2="309.6" stroke="#231f20" stroke-width="1.5"/>
<line x1="66.5" y1="351.7" x2="265.3" y2="351.7" stroke="#231f20" stroke-width="1.5"/>
<line x1="66.5" y1="393.8" x2="265.3" y2="393.8" stroke="#231f20" stroke-width="1.5"/>
<line x1="66.5" y1="435.9" x2="265.3" y2="435.9" stroke="#231f20" stroke-width="1.5"/>
<line x1="66.5" y1="478" x2="265.3" y2="478" stroke="#231f20" stroke-width="1.5"/>
<line x1="66.5" y1="520.1" x2="265.3" y2="520.1" stroke="#231f20" stroke-width="1.5"/>
<line x1="66.5" y1="562.2" x2="265.3" y2="562.2" stroke="#231f20" stroke-width="1.5"/>
<line x1="66.5" y1="604.3" x2="265.3" y2="604.3" stroke="#231f20" stroke-width="1.5"/>
<line x1="66.5" y1="646.4" x2="265.3" y2="646.4" stroke="#231f20" stroke-width="1.5"/>
<line x1="66.5" y1="688.5" x2="265.3" y2="688.5" stroke="#231f20" stroke-width="1.5"/>
<path d="M320.9,81.6 L321.4,81.6 L321.8,81.2 L322.3,80.6 L322.8,79.9 L323.2,79.1 L323.7,78.3 L324.2,77.3 L324.6,76.3 L325.1,75.3 L325.6,74.1 L326,72.9 L326.5,71.7 L326.6,72.7 L327,72.5 L327.4,72.2 L327.9,72 L328.4,71.7 L328.8,71.5 L329,71.4 L329.3,71.6 L329.8,71.9 L330.2,72.2 L330.7,72.5 L331,72.7 L331.2,71.8 L331.6,72.9 L332.1,73.9 L332.6,74.9 L333,75.8 L333.5,76.7 L334,77.5 L334.4,78.3 L334.9,79.1 L335.4,79.7 L335.8,80.4 L336.3,80.9 L336.8,81.4 L337.2,81.6 L337.7,81.6 L337.7,82.2 L337.2,82.2 L336.8,82.4 L336.3,82.9 L335.8,83.4 L335.4,84.1 L334.9,84.7 L334.4,85.5 L334,86.3 L333.5,87.1 L333,88 L332.6,88.9 L332.1,89.9 L331.6,90.9 L331.2,92 L331,91.1 L330.7,91.3 L330.2,91.6 L329.8,91.9 L329.3,92.2 L329,92.4 L328.8,92.3 L328.4,92.1 L327.9,91.8 L327.4,91.6 L327,91.3 L326.6,91.1 L326.5,92.1 L326,90.9 L325.6,89.7 L325.1,88.5 L324.6,87.5 L324.2,86.5 L323.7,85.5 L323.2,84.7 L322.8,83.9 L322.3,83.2 L321.8,82.6 L321.4,82.2 L320.9,82.2 Z" fill="#c8202a" stroke="#2b2b2b" stroke-width="1.9" stroke-linejoin="round"/>
<rect x="326.6" y="62.9" width="4.4" height="38" fill="#c8202a" stroke="#c8202a" stroke-width="1.6"/>
<path d="M556.4,81.6 L556.6,81.6 L556.7,81.6 L556.9,81.5 L557.1,81.3 L557.3,81.1 L557.4,80.8 L557.6,80.5 L557.8,80.2 L558,79.8 L558.1,79.5 L558.3,79.1 L558.5,78.7 L558.6,78.3 L558.8,77.9 L559,77.5 L559.2,77 L559.3,76.6 L559.5,76.8 L559.7,76.7 L559.8,76.6 L560,76.5 L560.2,76.4 L560.4,76.3 L560.5,76.1 L560.6,76.1 L560.7,76.2 L560.9,76.3 L561,76.4 L561.2,76.5 L561.4,76.6 L561.6,76.7 L561.7,76.8 L561.8,76.8 L561.9,77.3 L562.1,78.9 L562.3,80.3 L562.4,81.3 L562.6,81.6 L562.6,82.2 L562.4,82.5 L562.3,83.5 L562.1,84.9 L561.9,86.5 L561.8,87 L561.7,87 L561.6,87.1 L561.4,87.2 L561.2,87.3 L561,87.4 L560.9,87.5 L560.7,87.6 L560.6,87.7 L560.5,87.7 L560.4,87.5 L560.2,87.4 L560,87.3 L559.8,87.2 L559.7,87.1 L559.5,87 L559.3,87.2 L559.2,86.8 L559,86.3 L558.8,85.9 L558.6,85.5 L558.5,85.1 L558.3,84.7 L558.1,84.3 L558,84 L557.8,83.6 L557.6,83.3 L557.4,83 L557.3,82.7 L557.1,82.5 L556.9,82.3 L556.7,82.2 L556.6,82.2 L556.4,82.2 Z" fill="#2d3a80" stroke="#2b2b2b" stroke-width="1.9" stroke-linejoin="round"/>
<rect x="556.4" y="75.9" width="4.2" height="12" rx="2.1" ry="5" fill="#2d3a80" stroke="#2b2b2b" stroke-width="0.5"/>
<rect x="559.5" y="62.9" width="2.3" height="38" fill="#2d3a80" stroke="#2d3a80" stroke-width="1.6"/>
<path d="M273.5,123.2 L277,123.2 L280.6,123.2 L284.1,123 L287.7,122.7 L291.2,122.4 L294.7,122.1 L298.3,121.7 L301.8,121.3 L305.4,120.9 L308.8,120.8 L308.9,120.8 L312.4,120.7 L316,120.6 L319.3,120.5 L319.5,120.5 L323,120.5 L326.6,120.6 L330.1,120.7 L333.7,120.7 L337.2,120.8 L340.7,120.7 L344.3,120.9 L347.8,121.2 L351.4,121.4 L354.9,121.6 L358.4,121.8 L362,122 L365.5,122.2 L369,122.4 L372.6,122.6 L376.1,122.7 L379.7,122.9 L383.2,123 L386.7,123.1 L390.3,123.2 L393.8,123.2 L397.4,123.2 L400.9,123.2 L400.9,123.8 L397.4,123.8 L393.8,123.8 L390.3,123.8 L386.7,123.8 L383.2,123.9 L379.7,124 L376.1,124.2 L372.6,124.3 L369,124.5 L365.5,124.7 L362,124.9 L358.4,125.1 L354.9,125.3 L351.4,125.5 L347.8,125.7 L344.3,126 L340.7,126.2 L337.2,126.1 L333.7,126.2 L330.1,126.2 L326.6,126.3 L323,126.4 L319.5,126.4 L319.3,126.5 L316,126.3 L312.4,126.2 L308.9,126.1 L308.8,126.1 L305.4,126 L301.8,125.6 L298.3,125.2 L294.7,124.8 L291.2,124.5 L287.7,124.2 L284.1,123.9 L280.6,123.8 L277,123.8 L273.5,123.8 Z" fill="#c8202a" stroke="#2b2b2b" stroke-width="1.9" stroke-linejoin="round"/>
<rect x="308.8" y="104.5" width="28.4" height="38" fill="none" stroke="#c8202a" stroke-width="1.8"/>
<line x1="319.3" y1="104.5" x2="319.3" y2="142.4" stroke="#c8202a" stroke-width="1.8"/>
<path d="M541.2,123.2 L541.6,123.2 L542,123.2 L542.4,123 L542.8,122.7 L543.2,122.4 L543.7,122.1 L544.1,121.7 L544.5,121.3 L544.9,120.9 L545.3,120.5 L545.7,120.1 L546.1,119.6 L546.5,119.1 L546.9,118.6 L547.3,118 L547.4,118.6 L547.7,118.5 L548.1,118.3 L548.5,118.2 L549,118 L549.2,118 L549.4,118 L549.8,118.2 L550.2,118.3 L550.6,118.5 L551,118.6 L551.4,118.6 L551.8,119.3 L552.2,119.9 L552.6,120.5 L553,121 L553.5,121.5 L553.9,122 L554.3,122.4 L554.7,122.8 L555.1,123.1 L555.5,123.2 L555.9,123.2 L555.9,123.8 L555.5,123.8 L555.1,123.8 L554.7,124.1 L554.3,124.5 L553.9,124.9 L553.5,125.4 L553,125.9 L552.6,126.4 L552.2,127 L551.8,127.6 L551.4,128.3 L551,128.3 L550.6,128.4 L550.2,128.6 L549.8,128.7 L549.4,128.9 L549.2,128.9 L549,128.9 L548.5,128.7 L548.1,128.6 L547.7,128.4 L547.4,128.3 L547.3,128.9 L546.9,128.3 L546.5,127.8 L546.1,127.3 L545.7,126.8 L545.3,126.4 L544.9,126 L544.5,125.6 L544.1,125.2 L543.7,124.8 L543.2,124.5 L542.8,124.2 L542.4,123.9 L542,123.8 L541.6,123.8 L541.2,123.8 Z" fill="#2d3a80" stroke="#2b2b2b" stroke-width="1.9" stroke-linejoin="round"/>
<rect x="547.4" y="104.5" width="3.6" height="38" fill="#2d3a80" stroke="#2d3a80" stroke-width="1.6"/>
<path d="M286.3,164.7 L286.8,164.7 L287.3,164.6 L287.9,164.3 L288.4,163.9 L288.9,163.5 L289.4,163 L289.9,162.5 L290.4,161.9 L290.9,161.3 L291.5,160.7 L292,160 L292.5,159.3 L293,158.6 L293.4,158.8 L293.5,158.8 L294.1,158.6 L294.6,158.4 L295.1,158.2 L295.6,158 L296.1,158.2 L296.6,158.4 L297.1,158.6 L297.7,158.8 L297.9,158.8 L298.2,158.4 L298.7,159.2 L299.2,159.9 L299.7,160.6 L300.2,161.2 L300.8,161.8 L301.3,162.4 L301.8,162.9 L302.3,163.4 L302.8,163.9 L303.3,164.3 L303.9,164.6 L304.4,164.7 L304.9,164.7 L304.9,165.3 L304.4,165.3 L303.9,165.4 L303.3,165.7 L302.8,166.1 L302.3,166.6 L301.8,167.1 L301.3,167.6 L300.8,168.2 L300.2,168.8 L299.7,169.4 L299.2,170.1 L298.7,170.8 L298.2,171.6 L297.9,171.2 L297.7,171.2 L297.1,171.4 L296.6,171.6 L296.1,171.8 L295.6,172 L295.1,171.8 L294.6,171.6 L294.1,171.4 L293.5,171.2 L293.4,171.2 L293,171.4 L292.5,170.7 L292,170 L291.5,169.3 L290.9,168.7 L290.4,168.1 L289.9,167.5 L289.4,167 L288.9,166.5 L288.4,166.1 L287.9,165.7 L287.3,165.4 L286.8,165.3 L286.3,165.3 Z" fill="#c8202a" stroke="#2b2b2b" stroke-width="1.9" stroke-linejoin="round"/>
<rect x="293.4" y="146" width="4.5" height="38" fill="#c8202a" stroke="#c8202a" stroke-width="1.6"/>
<path d="M528.9,164.7 L529.6,164.7 L530.3,164.7 L531,164.6 L531.7,164.4 L532.4,164.1 L533,163.8 L533.7,163.5 L534.4,163.2 L535.1,162.9 L535.8,162.5 L536.2,162.6 L536.5,162.6 L537.2,162.5 L537.9,162.5 L538.6,162.4 L539.3,162.4 L540,162.3 L540,162.3 L540.7,162.3 L541.3,162.4 L542,162.5 L542.7,162.5 L543.4,162.6 L544.1,162.6 L544.3,162.6 L544.8,162.5 L545.5,162.8 L546.2,163.1 L546.9,163.3 L547.6,163.6 L548.3,163.8 L549,164 L549.6,164.2 L550.3,164.4 L551,164.6 L551.7,164.7 L552.4,164.7 L553.1,164.7 L553.8,164.7 L553.8,165.3 L553.1,165.3 L552.4,165.3 L551.7,165.3 L551,165.4 L550.3,165.6 L549.6,165.8 L549,166 L548.3,166.2 L547.6,166.4 L546.9,166.7 L546.2,166.9 L545.5,167.2 L544.8,167.5 L544.3,167.4 L544.1,167.4 L543.4,167.4 L542.7,167.5 L542,167.5 L541.3,167.6 L540.7,167.7 L540,167.7 L540,167.7 L539.3,167.6 L538.6,167.6 L537.9,167.5 L537.2,167.5 L536.5,167.4 L536.2,167.4 L535.8,167.5 L535.1,167.1 L534.4,166.8 L533.7,166.5 L533,166.2 L532.4,165.9 L531.7,165.6 L531,165.4 L530.3,165.3 L529.6,165.3 L528.9,165.3 Z" fill="#2d3a80" stroke="#2b2b2b" stroke-width="1.9" stroke-linejoin="round"/>
<rect x="536.2" y="146" width="8.1" height="38" fill="none" stroke="#2d3a80" stroke-width="1.8"/>
<line x1="540" y1="146" x2="540" y2="184" stroke="#2d3a80" stroke-width="1.8"/>
<path d="M429.1,206.2 L429.5,206.2 L429.8,205.9 L430.2,205.3 L430.5,204.6 L430.9,203.8 L431.2,202.9 L431.6,202 L432,201 L432.3,199.9 L432.7,198.8 L433,197.6 L433.2,198.2 L433.4,198.1 L433.8,197.9 L434.1,197.7 L434.5,197.6 L434.8,197.4 L435.2,197.2 L435.5,197.1 L435.6,197.1 L435.9,197.3 L436.3,197.4 L436.6,197.6 L437,197.8 L437.3,198 L437.7,198.2 L438.1,198.2 L438.4,199.3 L438.8,200.4 L439.1,201.4 L439.5,202.3 L439.9,203.2 L440.2,204 L440.6,204.7 L440.9,205.4 L441.3,205.9 L441.6,206.2 L442,206.2 L442,206.9 L441.6,206.9 L441.3,207.2 L440.9,207.7 L440.6,208.4 L440.2,209.1 L439.9,209.9 L439.5,210.8 L439.1,211.7 L438.8,212.7 L438.4,213.8 L438.1,214.9 L437.7,214.9 L437.3,215.1 L437,215.3 L436.6,215.5 L436.3,215.7 L435.9,215.8 L435.6,216 L435.5,216.1 L435.2,215.9 L434.8,215.7 L434.5,215.5 L434.1,215.4 L433.8,215.2 L433.4,215 L433.2,214.9 L433,215.5 L432.7,214.3 L432.3,213.2 L432,212.1 L431.6,211.1 L431.2,210.2 L430.9,209.3 L430.5,208.5 L430.2,207.8 L429.8,207.2 L429.5,206.9 L429.1,206.9 Z" fill="#c8202a" stroke="#2b2b2b" stroke-width="1.9" stroke-linejoin="round"/>
<rect x="433.2" y="187.6" width="4.5" height="38" fill="#c8202a" stroke="#c8202a" stroke-width="1.6"/>
<path d="M588.7,206.2 L589.6,206.2 L590.6,206.2 L591.5,206.2 L592.4,206 L593.4,205.8 L594.3,205.6 L595.3,205.3 L596.2,205 L597.1,204.7 L598.1,204.4 L599,204.1 L599.6,204.2 L599.9,204.2 L600.9,204.1 L601.8,204.1 L602.7,204 L603.7,204 L604.6,203.9 L605.5,203.9 L605.6,203.9 L606.5,203.9 L607.4,204 L608.4,204 L609.3,204.1 L610.2,204.1 L611.2,204.2 L611.5,204.2 L612.1,204.1 L613,204.4 L614,204.7 L614.9,205 L615.8,205.3 L616.8,205.6 L617.7,205.8 L618.7,206 L619.6,206.2 L620.5,206.2 L621.5,206.2 L622.4,206.2 L622.4,206.9 L621.5,206.9 L620.5,206.9 L619.6,206.9 L618.7,207.1 L617.7,207.3 L616.8,207.5 L615.8,207.8 L614.9,208.1 L614,208.4 L613,208.7 L612.1,209 L611.5,208.9 L611.2,208.9 L610.2,209 L609.3,209 L608.4,209.1 L607.4,209.1 L606.5,209.2 L605.6,209.2 L605.5,209.2 L604.6,209.2 L603.7,209.1 L602.7,209.1 L601.8,209 L600.9,209 L599.9,208.9 L599.6,208.9 L599,209 L598.1,208.7 L597.1,208.4 L596.2,208.1 L595.3,207.8 L594.3,207.5 L593.4,207.3 L592.4,207.1 L591.5,206.9 L590.6,206.9 L589.6,206.9 L588.7,206.9 Z" fill="#2d3a80" stroke="#2b2b2b" stroke-width="1.9" stroke-linejoin="round"/>
<rect x="599.6" y="187.6" width="11.9" height="38" fill="none" stroke="#2d3a80" stroke-width="1.8"/>
<line x1="605.6" y1="187.6" x2="605.6" y2="225.6" stroke="#2d3a80" stroke-width="1.8"/>
<path d="M393.6,247.8 L394.7,247.8 L395.7,247.8 L396.8,247.5 L397.8,247.2 L398.9,246.9 L399.9,246.5 L401,246.1 L402,245.6 L403.1,245.1 L404.2,244.6 L405.2,244.1 L406.3,243.5 L407,243.7 L407.3,243.7 L408.4,243.6 L409.4,243.5 L410.5,243.4 L411.5,243.3 L412.6,243.2 L413.7,243.1 L414,243.1 L414.7,243.2 L415.8,243.3 L416.8,243.4 L417.9,243.5 L418.9,243.6 L419.5,243.7 L420,243.4 L421,244 L422.1,244.6 L423.2,245.2 L424.2,245.7 L425.3,246.2 L426.3,246.7 L427.4,247.1 L428.4,247.4 L429.5,247.7 L430.5,247.8 L431.6,247.8 L431.6,248.4 L430.5,248.4 L429.5,248.5 L428.4,248.8 L427.4,249.1 L426.3,249.5 L425.3,250 L424.2,250.5 L423.2,251 L422.1,251.6 L421,252.2 L420,252.8 L419.5,252.5 L418.9,252.6 L417.9,252.7 L416.8,252.8 L415.8,252.9 L414.7,253 L414,253.1 L413.7,253.1 L412.6,253 L411.5,252.9 L410.5,252.8 L409.4,252.7 L408.4,252.6 L407.3,252.5 L407,252.5 L406.3,252.7 L405.2,252.1 L404.2,251.6 L403.1,251.1 L402,250.6 L401,250.1 L399.9,249.7 L398.9,249.3 L397.8,249 L396.8,248.7 L395.7,248.4 L394.7,248.4 L393.6,248.4 Z" fill="#c8202a" stroke="#2b2b2b" stroke-width="1.9" stroke-linejoin="round"/>
<rect x="407" y="229.1" width="12.5" height="38" fill="none" stroke="#c8202a" stroke-width="1.8"/>
<line x1="414" y1="229.1" x2="414" y2="267.1" stroke="#c8202a" stroke-width="1.8"/>
<path d="M604.2,247.8 L604.5,247.8 L604.9,247.7 L605.2,247.5 L605.5,247.1 L605.8,246.7 L606.2,246.3 L606.5,245.8 L606.8,245.3 L607.1,244.7 L607.5,244.1 L607.8,243.5 L608,243.7 L608.1,243.7 L608.4,243.6 L608.8,243.5 L609.1,243.4 L609.4,243.3 L609.7,243.2 L610,243.1 L610,243.1 L610.4,243.2 L610.7,243.3 L611,243.4 L611.4,243.6 L611.7,243.7 L611.8,243.7 L612,243.5 L612.3,244 L612.6,244.6 L613,245.1 L613.3,245.6 L613.6,246 L614,246.5 L614.3,246.9 L614.6,247.2 L614.9,247.5 L615.2,247.8 L615.6,247.8 L615.9,247.8 L615.9,248.4 L615.6,248.4 L615.2,248.4 L614.9,248.7 L614.6,249 L614.3,249.3 L614,249.7 L613.6,250.2 L613.3,250.6 L613,251.1 L612.6,251.6 L612.3,252.2 L612,252.7 L611.8,252.5 L611.7,252.5 L611.4,252.6 L611,252.8 L610.7,252.9 L610.4,253 L610,253.1 L610,253.1 L609.7,253 L609.4,252.9 L609.1,252.8 L608.8,252.7 L608.4,252.6 L608.1,252.5 L608,252.5 L607.8,252.7 L607.5,252.1 L607.1,251.5 L606.8,250.9 L606.5,250.4 L606.2,249.9 L605.8,249.5 L605.5,249.1 L605.2,248.7 L604.9,248.5 L604.5,248.4 L604.2,248.4 Z" fill="#2d3a80" stroke="#2b2b2b" stroke-width="1.9" stroke-linejoin="round"/>
<rect x="608" y="229.1" width="3.8" height="38" fill="#2d3a80" stroke="#2d3a80" stroke-width="1.6"/>
<path d="M276.3,289.3 L278.4,289.3 L280.6,289.2 L282.7,288.8 L284.9,288.3 L287,287.7 L289.2,287.1 L291.3,286.4 L293.5,285.7 L293.7,286.1 L295.6,286 L297.7,285.9 L299.9,285.8 L301.8,285.6 L302,285.7 L304.2,285.8 L306.3,285.9 L308.5,286 L310,286.1 L310.6,285.7 L312.8,286 L314.9,286.3 L317,286.6 L319.2,286.8 L321.3,287.1 L323.5,287.4 L325.6,287.6 L327.8,287.8 L329.9,288.1 L332.1,288.3 L334.2,288.5 L336.3,288.7 L338.5,288.8 L340.6,289 L342.8,289.2 L344.9,289.3 L347.1,289.3 L349.2,289.3 L351.4,289.3 L353.5,289.3 L353.5,289.9 L351.4,289.9 L349.2,289.9 L347.1,289.9 L344.9,290 L342.8,290.1 L340.6,290.3 L338.5,290.5 L336.3,290.6 L334.2,290.8 L332.1,291 L329.9,291.2 L327.8,291.5 L325.6,291.7 L323.5,291.9 L321.3,292.2 L319.2,292.5 L317,292.7 L314.9,293 L312.8,293.3 L310.6,293.6 L310,293.2 L308.5,293.3 L306.3,293.4 L304.2,293.5 L302,293.6 L301.8,293.6 L299.9,293.5 L297.7,293.4 L295.6,293.3 L293.7,293.2 L293.5,293.6 L291.3,292.9 L289.2,292.2 L287,291.6 L284.9,291 L282.7,290.5 L280.6,290.1 L278.4,289.9 L276.3,289.9 Z" fill="#c8202a" stroke="#2b2b2b" stroke-width="1.9" stroke-linejoin="round"/>
<rect x="335.7" y="283.6" width="8" height="12" rx="3.5" ry="5" fill="#c8202a" stroke="#2b2b2b" stroke-width="0.5"/>
<rect x="293.7" y="270.6" width="16.3" height="38" fill="none" stroke="#c8202a" stroke-width="1.8"/>
<line x1="301.8" y1="270.6" x2="301.8" y2="308.6" stroke="#c8202a" stroke-width="1.8"/>
<path d="M473,289.3 L475.1,289.3 L477.3,289.3 L479.4,289.3 L481.5,289.3 L483.7,289.2 L485.8,289.1 L487.9,288.9 L490,288.7 L492.2,288.6 L494.3,288.4 L496.4,288.2 L496.6,288.3 L498.6,288.3 L500.7,288.3 L502.8,288.2 L505,288.2 L507.1,288.2 L507.2,288.1 L509.2,288.2 L511.4,288.2 L513.5,288.3 L515.6,288.3 L516.5,288.3 L517.7,288.2 L519.9,288.4 L522,288.5 L524.1,288.6 L526.3,288.8 L528.4,288.9 L530.5,289 L532.7,289.1 L534.8,289.2 L536.9,289.3 L539,289.3 L541.2,289.3 L543.3,289.3 L545.4,289.3 L547.6,289.3 L549.7,289.3 L549.7,289.9 L547.6,289.9 L545.4,289.9 L543.3,289.9 L541.2,289.9 L539,289.9 L536.9,290 L534.8,290.1 L532.7,290.2 L530.5,290.3 L528.4,290.4 L526.3,290.5 L524.1,290.7 L522,290.8 L519.9,290.9 L517.7,291.1 L516.5,291 L515.6,291 L513.5,291 L511.4,291.1 L509.2,291.1 L507.2,291.1 L507.1,291.1 L505,291.1 L502.8,291.1 L500.7,291 L498.6,291 L496.6,291 L496.4,291.1 L494.3,290.9 L492.2,290.7 L490,290.6 L487.9,290.4 L485.8,290.2 L483.7,290.1 L481.5,290 L479.4,289.9 L477.3,289.9 L475.1,289.9 L473,289.9 Z" fill="#2d3a80" stroke="#2b2b2b" stroke-width="1.9" stroke-linejoin="round"/>
<rect x="496.6" y="270.6" width="19.9" height="38" fill="none" stroke="#2d3a80" stroke-width="1.8"/>
<line x1="507.2" y1="270.6" x2="507.2" y2="308.6" stroke="#2d3a80" stroke-width="1.8"/>
<path d="M416,330.9 L417.1,330.9 L418.2,330.8 L419.4,330.5 L420.5,330.1 L421.6,329.6 L422.7,329.1 L423.8,328.6 L425,328 L426.1,327.4 L427.2,326.7 L428,326.8 L428.3,326.8 L429.4,326.6 L430.6,326.5 L431.7,326.3 L432.7,326.2 L432.8,326.2 L433.9,326.3 L435,326.4 L436.1,326.6 L437.3,326.7 L438.4,326.8 L438.6,326.8 L439.5,326.6 L440.6,327 L441.7,327.5 L442.9,327.9 L444,328.3 L445.1,328.7 L446.2,329.1 L447.3,329.4 L448.5,329.7 L449.6,330 L450.7,330.3 L451.8,330.6 L452.9,330.8 L454.1,330.9 L455.2,330.9 L456.3,330.9 L456.3,331.5 L455.2,331.5 L454.1,331.5 L452.9,331.6 L451.8,331.8 L450.7,332.1 L449.6,332.4 L448.5,332.7 L447.3,333 L446.2,333.3 L445.1,333.7 L444,334.1 L442.9,334.5 L441.7,334.9 L440.6,335.4 L439.5,335.8 L438.6,335.6 L438.4,335.6 L437.3,335.7 L436.1,335.8 L435,336 L433.9,336.1 L432.8,336.2 L432.7,336.2 L431.7,336.1 L430.6,335.9 L429.4,335.8 L428.3,335.6 L428,335.6 L427.2,335.7 L426.1,335 L425,334.4 L423.8,333.8 L422.7,333.3 L421.6,332.8 L420.5,332.3 L419.4,331.9 L418.2,331.6 L417.1,331.5 L416,331.5 Z" fill="#c8202a" stroke="#2b2b2b" stroke-width="1.9" stroke-linejoin="round"/>
<rect x="428" y="312.2" width="10.6" height="38" fill="none" stroke="#c8202a" stroke-width="1.8"/>
<line x1="432.7" y1="312.2" x2="432.7" y2="350.2" stroke="#c8202a" stroke-width="1.8"/>
<path d="M582,330.9 L583.2,330.9 L584.3,330.9 L585.5,330.9 L586.7,330.7 L587.8,330.5 L589,330.3 L590.1,330.1 L591.3,329.8 L592.5,329.6 L593.6,329.3 L594.1,329.4 L594.8,329.4 L596,329.4 L597.1,329.3 L598.3,329.3 L599.5,329.3 L600.6,329.2 L601.4,329.2 L601.8,329.2 L603,329.3 L604.1,329.3 L605.3,329.4 L606.4,329.4 L607.5,329.4 L607.6,329.2 L608.8,329.4 L609.9,329.6 L611.1,329.8 L612.3,330 L613.4,330.2 L614.6,330.3 L615.8,330.5 L616.9,330.6 L618.1,330.8 L619.2,330.9 L620.4,330.9 L621.6,330.9 L622.7,330.9 L623.9,330.9 L623.9,331.5 L622.7,331.5 L621.6,331.5 L620.4,331.5 L619.2,331.5 L618.1,331.6 L616.9,331.8 L615.8,331.9 L614.6,332.1 L613.4,332.2 L612.3,332.4 L611.1,332.6 L609.9,332.8 L608.8,333 L607.6,333.2 L607.5,333 L606.4,333 L605.3,333 L604.1,333.1 L603,333.1 L601.8,333.2 L601.4,333.2 L600.6,333.2 L599.5,333.1 L598.3,333.1 L597.1,333.1 L596,333 L594.8,333 L594.1,333 L593.6,333.1 L592.5,332.8 L591.3,332.6 L590.1,332.3 L589,332.1 L587.8,331.9 L586.7,331.7 L585.5,331.5 L584.3,331.5 L583.2,331.5 L582,331.5 Z" fill="#2d3a80" stroke="#2b2b2b" stroke-width="1.9" stroke-linejoin="round"/>
<rect x="594.1" y="312.2" width="13.4" height="38" fill="none" stroke="#2d3a80" stroke-width="1.8"/>
<line x1="601.4" y1="312.2" x2="601.4" y2="350.2" stroke="#2d3a80" stroke-width="1.8"/>
<path d="M421,372.4 L421.5,372.4 L422,372.2 L422.5,371.8 L423,371.3 L423.4,370.7 L423.9,370 L424.4,369.3 L424.9,368.6 L425.4,367.7 L425.9,366.9 L426.4,366 L426.5,366.6 L426.9,366.5 L427.4,366.3 L427.8,366.1 L428.3,365.9 L428.8,365.8 L428.8,365.8 L429.3,365.9 L429.8,366.1 L430.3,366.3 L430.8,366.5 L431.1,366.6 L431.3,366 L431.8,366.6 L432.2,367.3 L432.7,367.9 L433.2,368.5 L433.7,369.1 L434.2,369.6 L434.7,370.1 L435.2,370.6 L435.7,371 L436.2,371.4 L436.6,371.8 L437.1,372.1 L437.6,372.4 L438.1,372.4 L438.6,372.4 L438.6,373.1 L438.1,373.1 L437.6,373.1 L437.1,373.4 L436.6,373.7 L436.2,374.1 L435.7,374.5 L435.2,374.9 L434.7,375.4 L434.2,375.9 L433.7,376.4 L433.2,377 L432.7,377.6 L432.2,378.2 L431.8,378.9 L431.3,379.5 L431.1,378.9 L430.8,379 L430.3,379.2 L429.8,379.4 L429.3,379.6 L428.8,379.7 L428.8,379.8 L428.3,379.6 L427.8,379.4 L427.4,379.2 L426.9,379 L426.5,378.9 L426.4,379.5 L425.9,378.6 L425.4,377.8 L424.9,376.9 L424.4,376.2 L423.9,375.5 L423.4,374.8 L423,374.2 L422.5,373.7 L422,373.3 L421.5,373.1 L421,373.1 Z" fill="#c8202a" stroke="#2b2b2b" stroke-width="1.9" stroke-linejoin="round"/>
<rect x="433.5" y="366.8" width="5.1" height="12" rx="2.6" ry="5" fill="#c8202a" stroke="#2b2b2b" stroke-width="0.5"/>
<rect x="426.5" y="353.8" width="4.6" height="38" fill="#c8202a" stroke="#c8202a" stroke-width="1.6"/>
<path d="M585.6,372.4 L586.1,372.4 L586.7,372.4 L587.2,372.3 L587.8,372 L588.3,371.7 L588.8,371.3 L589.4,371 L589.9,370.6 L590.5,370.2 L591,369.7 L591.5,369.2 L592.1,368.8 L592.6,368.8 L592.6,368.8 L593.1,368.7 L593.7,368.5 L594.2,368.4 L594.8,368.3 L594.9,368.2 L595.3,368.3 L595.8,368.5 L596.4,368.6 L596.9,368.7 L597.2,368.8 L597.5,368.5 L598,368.9 L598.5,369.4 L599.1,369.8 L599.6,370.2 L600.1,370.5 L600.7,370.9 L601.2,371.2 L601.8,371.5 L602.3,371.8 L602.8,372.1 L603.4,372.3 L603.9,372.4 L604.5,372.4 L605,372.4 L605,373.1 L604.5,373.1 L603.9,373.1 L603.4,373.2 L602.8,373.4 L602.3,373.7 L601.8,374 L601.2,374.3 L600.7,374.6 L600.1,375 L599.6,375.3 L599.1,375.7 L598.5,376.1 L598,376.6 L597.5,377 L597.2,376.7 L596.9,376.8 L596.4,376.9 L595.8,377 L595.3,377.2 L594.9,377.2 L594.8,377.2 L594.2,377.1 L593.7,377 L593.1,376.8 L592.6,376.7 L592.6,376.7 L592.1,376.7 L591.5,376.3 L591,375.8 L590.5,375.3 L589.9,374.9 L589.4,374.5 L588.8,374.2 L588.3,373.8 L587.8,373.5 L587.2,373.2 L586.7,373.1 L586.1,373.1 L585.6,373.1 Z" fill="#2d3a80" stroke="#2b2b2b" stroke-width="1.9" stroke-linejoin="round"/>
<rect x="592.6" y="353.8" width="4.6" height="38" fill="#2d3a80" stroke="#2d3a80" stroke-width="1.6"/>
<path d="M393.6,414 L394.8,414 L395.9,414 L397.1,413.9 L398.3,413.6 L399.5,413.4 L400.6,413.1 L401.8,412.8 L403,412.5 L404.2,412.1 L405.3,411.7 L406.5,411.3 L407.7,410.9 L408.8,410.5 L410,410 L411.2,409.6 L412.4,409.1 L413.5,408.6 L414.7,408.1 L415.9,407.6 L417,407 L417.5,407.7 L418.2,407.6 L419.4,407.4 L420.6,407.2 L421.7,407.1 L422.9,406.9 L423.4,406.8 L424.1,407 L425.2,407.3 L426.4,407.6 L426.8,407.7 L427.6,407.8 L428.8,409.1 L429.9,410.4 L431.1,411.5 L432.3,412.5 L433.5,413.3 L434.6,413.9 L435.8,414 L435.8,414.6 L434.6,414.7 L433.5,415.3 L432.3,416.1 L431.1,417.1 L429.9,418.2 L428.8,419.5 L427.6,420.8 L426.8,420.9 L426.4,421 L425.2,421.3 L424.1,421.6 L423.4,421.8 L422.9,421.7 L421.7,421.5 L420.6,421.4 L419.4,421.2 L418.2,421 L417.5,420.9 L417,421.6 L415.9,421 L414.7,420.5 L413.5,420 L412.4,419.5 L411.2,419 L410,418.6 L408.8,418.1 L407.7,417.7 L406.5,417.3 L405.3,416.9 L404.2,416.5 L403,416.1 L401.8,415.8 L400.6,415.5 L399.5,415.2 L398.3,415 L397.1,414.7 L395.9,414.6 L394.8,414.6 L393.6,414.6 Z" fill="#c8202a" stroke="#2b2b2b" stroke-width="1.9" stroke-linejoin="round"/>
<rect x="396.2" y="408.3" width="12.4" height="12" rx="3.5" ry="5" fill="#c8202a" stroke="#2b2b2b" stroke-width="0.5"/>
<rect x="417.5" y="395.3" width="9.3" height="38" fill="none" stroke="#c8202a" stroke-width="1.8"/>
<line x1="423.4" y1="395.3" x2="423.4" y2="433.3" stroke="#c8202a" stroke-width="1.8"/>
<path d="M585.6,414 L586.1,414 L586.7,414 L587.2,413.9 L587.8,413.8 L588.3,413.5 L588.9,413.3 L589.4,413 L590,412.8 L590.5,412.5 L591.1,412.1 L591.6,411.8 L592.2,411.5 L592.7,411.1 L593.3,410.7 L593.8,410.3 L594.4,409.9 L594.9,409.5 L595.2,409.9 L595.5,409.8 L596,409.7 L596.5,409.5 L597.1,409.4 L597.3,409.3 L597.6,409.4 L598.2,409.6 L598.7,409.7 L599.3,409.9 L599.4,409.9 L599.8,409.8 L600.4,410.5 L600.9,411.1 L601.5,411.7 L602,412.2 L602.6,412.7 L603.1,413.2 L603.7,413.6 L604.2,413.9 L604.8,414 L605.3,414 L605.3,414.6 L604.8,414.6 L604.2,414.7 L603.7,415 L603.1,415.4 L602.6,415.9 L602,416.4 L601.5,416.9 L600.9,417.5 L600.4,418.1 L599.8,418.8 L599.4,418.7 L599.3,418.7 L598.7,418.9 L598.2,419 L597.6,419.2 L597.3,419.3 L597.1,419.2 L596.5,419.1 L596,418.9 L595.5,418.8 L595.2,418.7 L594.9,419.1 L594.4,418.7 L593.8,418.3 L593.3,417.9 L592.7,417.5 L592.2,417.1 L591.6,416.8 L591.1,416.5 L590.5,416.1 L590,415.8 L589.4,415.6 L588.9,415.3 L588.3,415.1 L587.8,414.8 L587.2,414.7 L586.7,414.6 L586.1,414.6 L585.6,414.6 Z" fill="#2d3a80" stroke="#2b2b2b" stroke-width="1.9" stroke-linejoin="round"/>
<rect x="585.6" y="408.3" width="7.3" height="12" rx="3.5" ry="5" fill="#2d3a80" stroke="#2b2b2b" stroke-width="0.5"/>
<rect x="595.2" y="395.3" width="4.2" height="38" fill="#2d3a80" stroke="#2d3a80" stroke-width="1.6"/>
<path d="M393.6,455.6 L394.7,455.6 L395.8,455.5 L396.9,455.2 L398,454.9 L399.1,454.5 L400.2,454.1 L401.4,453.7 L402.5,453.2 L403.6,452.7 L404.7,452.2 L405.8,451.6 L406.9,451 L408,450.4 L409.1,449.7 L410.2,449.1 L410.6,449.7 L411.3,449.5 L412.4,449.2 L413.5,448.9 L413.6,448.9 L414.7,449.2 L415.8,449.5 L416.5,449.7 L416.9,449.1 L418,449.7 L419.1,450.4 L420.2,451 L421.3,451.6 L422.4,452.2 L423.5,452.7 L424.6,453.2 L425.7,453.7 L426.9,454.1 L428,454.5 L429.1,454.9 L430.2,455.2 L431.3,455.5 L432.4,455.6 L433.5,455.6 L433.5,456.2 L432.4,456.2 L431.3,456.2 L430.2,456.5 L429.1,456.8 L428,457.2 L426.9,457.6 L425.7,458 L424.6,458.5 L423.5,459 L422.4,459.5 L421.3,460.1 L420.2,460.7 L419.1,461.3 L418,462 L416.9,462.6 L416.5,462 L415.8,462.2 L414.7,462.5 L413.6,462.8 L413.5,462.9 L412.4,462.5 L411.3,462.2 L410.6,462 L410.2,462.6 L409.1,462 L408,461.3 L406.9,460.7 L405.8,460.1 L404.7,459.5 L403.6,459 L402.5,458.5 L401.4,458 L400.2,457.6 L399.1,457.2 L398,456.8 L396.9,456.5 L395.8,456.2 L394.7,456.2 L393.6,456.2 Z" fill="#c8202a" stroke="#2b2b2b" stroke-width="1.9" stroke-linejoin="round"/>
<rect x="395" y="449.9" width="9.7" height="12" rx="3.5" ry="5" fill="#c8202a" stroke="#2b2b2b" stroke-width="0.5"/>
<rect x="423" y="449.9" width="9.4" height="12" rx="3.5" ry="5" fill="#c8202a" stroke="#2b2b2b" stroke-width="0.5"/>
<rect x="410.6" y="436.9" width="5.9" height="38" fill="none" stroke="#c8202a" stroke-width="1.8"/>
<line x1="413.5" y1="436.9" x2="413.5" y2="474.9" stroke="#c8202a" stroke-width="1.8"/>
<path d="M605.3,455.6 L606.1,455.6 L606.8,455.5 L607.6,455.2 L608.3,454.8 L609.1,454.4 L609.8,454 L610.6,453.5 L611.3,453 L612.1,452.4 L612.8,452.3 L612.9,452.3 L613.6,452.2 L614.4,452 L615.1,451.9 L615.4,451.9 L615.9,451.9 L616.6,452.1 L617.4,452.2 L618,452.3 L618.1,451.9 L618.9,452.2 L619.7,452.5 L620.4,452.8 L621.2,453.1 L621.9,453.4 L622.7,453.6 L623.4,453.9 L624.2,454.1 L624.9,454.3 L625.7,454.6 L626.5,454.8 L627.2,455 L628,455.2 L628.7,455.3 L629.5,455.5 L630.2,455.6 L631,455.6 L631.7,455.6 L632.5,455.6 L632.5,456.2 L631.7,456.2 L631,456.2 L630.2,456.2 L629.5,456.2 L628.7,456.4 L628,456.5 L627.2,456.7 L626.5,456.9 L625.7,457.1 L624.9,457.4 L624.2,457.6 L623.4,457.8 L622.7,458.1 L621.9,458.3 L621.2,458.6 L620.4,458.9 L619.7,459.2 L618.9,459.5 L618.1,459.8 L618,459.4 L617.4,459.5 L616.6,459.6 L615.9,459.8 L615.4,459.9 L615.1,459.8 L614.4,459.7 L613.6,459.5 L612.9,459.4 L612.8,459.4 L612.1,459.3 L611.3,458.7 L610.6,458.2 L609.8,457.7 L609.1,457.3 L608.3,456.9 L607.6,456.5 L606.8,456.2 L606.1,456.2 L605.3,456.2 Z" fill="#2d3a80" stroke="#2b2b2b" stroke-width="1.9" stroke-linejoin="round"/>
<rect x="622" y="449.9" width="10.5" height="12" rx="3.5" ry="5" fill="#2d3a80" stroke="#2b2b2b" stroke-width="0.5"/>
<rect x="612.8" y="436.9" width="5.2" height="38" fill="none" stroke="#2d3a80" stroke-width="1.8"/>
<line x1="615.4" y1="436.9" x2="615.4" y2="474.9" stroke="#2d3a80" stroke-width="1.8"/>
<path d="M414.8,497.1 L415.6,497.1 L416.4,497.1 L417.1,497 L417.9,496.8 L418.7,496.6 L419.5,496.3 L420.2,496 L421,495.7 L421.8,495.4 L422.6,495.1 L423.4,494.7 L424.1,494.3 L424.9,493.9 L425.7,493.5 L426.5,493.1 L427.2,492.7 L428,492.2 L428.8,491.8 L429.6,491.3 L430.4,490.8 L431.1,490.3 L431.9,489.8 L432.7,489.3 L433.2,489.9 L433.5,489.8 L434.2,489.5 L435,489.1 L435.5,488.9 L435.8,489 L436.6,489.4 L437.4,489.8 L437.7,489.9 L438.1,490 L438.9,491.7 L439.7,493.4 L440.5,494.8 L441.2,496 L442,496.9 L442.8,497.1 L442.8,497.7 L442,497.9 L441.2,498.8 L440.5,500 L439.7,501.4 L438.9,503.1 L438.1,504.8 L437.7,504.9 L437.4,505 L436.6,505.4 L435.8,505.8 L435.5,505.9 L435,505.7 L434.2,505.3 L433.5,505 L433.2,504.9 L432.7,505.5 L431.9,505 L431.1,504.5 L430.4,504 L429.6,503.5 L428.8,503 L428,502.6 L427.2,502.1 L426.5,501.7 L425.7,501.3 L424.9,500.9 L424.1,500.5 L423.4,500.1 L422.6,499.7 L421.8,499.4 L421,499.1 L420.2,498.8 L419.5,498.5 L418.7,498.2 L417.9,498 L417.1,497.8 L416.4,497.7 L415.6,497.7 L414.8,497.7 Z" fill="#c8202a" stroke="#2b2b2b" stroke-width="1.9" stroke-linejoin="round"/>
<rect x="414.8" y="491.4" width="17.2" height="12" rx="3.5" ry="5" fill="#c8202a" stroke="#2b2b2b" stroke-width="0.5"/>
<rect x="433.2" y="478.4" width="4.5" height="38" fill="#c8202a" stroke="#c8202a" stroke-width="1.6"/>
<path d="M605.3,497.1 L606,497.1 L606.6,497.1 L607.3,497 L608,496.8 L608.6,496.5 L609.3,496.3 L610,496 L610.7,495.7 L611.3,495.3 L612,495 L612.7,494.6 L613,494.8 L613.3,494.7 L614,494.7 L614.7,494.6 L615.3,494.5 L616,494.5 L616.5,494.4 L616.7,494.4 L617.3,494.5 L618,494.5 L618.7,494.6 L619.4,494.7 L620,494.7 L620.4,494.8 L620.7,494.5 L621.4,494.9 L622,495.2 L622.7,495.5 L623.4,495.8 L624,496 L624.7,496.3 L625.4,496.5 L626.1,496.7 L626.7,496.9 L627.4,497.1 L628.1,497.1 L628.7,497.1 L629.4,497.1 L629.4,497.7 L628.7,497.7 L628.1,497.7 L627.4,497.7 L626.7,497.9 L626.1,498.1 L625.4,498.3 L624.7,498.5 L624,498.8 L623.4,499 L622.7,499.3 L622,499.6 L621.4,499.9 L620.7,500.3 L620.4,500 L620,500.1 L619.4,500.1 L618.7,500.2 L618,500.3 L617.3,500.3 L616.7,500.4 L616.5,500.4 L616,500.3 L615.3,500.3 L614.7,500.2 L614,500.1 L613.3,500.1 L613,500 L612.7,500.2 L612,499.8 L611.3,499.5 L610.7,499.1 L610,498.8 L609.3,498.5 L608.6,498.3 L608,498 L607.3,497.8 L606.6,497.7 L606,497.7 L605.3,497.7 Z" fill="#2d3a80" stroke="#2b2b2b" stroke-width="1.9" stroke-linejoin="round"/>
<rect x="613" y="478.4" width="7.4" height="38" fill="none" stroke="#2d3a80" stroke-width="1.8"/>
<line x1="616.5" y1="478.4" x2="616.5" y2="516.4" stroke="#2d3a80" stroke-width="1.8"/>
<path d="M397,538.6 L398,538.6 L399,538.4 L399.9,537.9 L400.9,537.4 L401.9,536.8 L402.9,536.1 L403.9,535.3 L404.9,534.5 L405.9,533.7 L406.8,532.8 L407.8,531.8 L408.2,532.3 L408.8,532.2 L409.8,531.8 L410.8,531.5 L411,531.4 L411.8,531.6 L412.7,531.7 L413.7,531.9 L414.7,532 L415.7,532.2 L416.7,532.3 L416.9,532.3 L417.6,532 L418.6,532.7 L419.6,533.3 L420.6,534 L421.6,534.6 L422.6,535.2 L423.5,535.7 L424.5,536.2 L425.5,536.7 L426.5,537.2 L427.5,537.6 L428.5,538 L429.4,538.3 L430.4,538.6 L431.4,538.6 L432.4,538.6 L432.4,539.2 L431.4,539.2 L430.4,539.3 L429.4,539.6 L428.5,539.9 L427.5,540.3 L426.5,540.7 L425.5,541.2 L424.5,541.7 L423.5,542.2 L422.6,542.7 L421.6,543.3 L420.6,543.9 L419.6,544.6 L418.6,545.2 L417.6,545.9 L416.9,545.5 L416.7,545.6 L415.7,545.7 L414.7,545.9 L413.7,546 L412.7,546.2 L411.8,546.3 L411,546.4 L410.8,546.4 L409.8,546.1 L408.8,545.7 L408.2,545.5 L407.8,546.1 L406.8,545.1 L405.9,544.2 L404.9,543.4 L403.9,542.6 L402.9,541.8 L401.9,541.1 L400.9,540.5 L399.9,540 L399,539.5 L398,539.2 L397,539.2 Z" fill="#c8202a" stroke="#2b2b2b" stroke-width="1.9" stroke-linejoin="round"/>
<rect x="408.2" y="519.9" width="8.7" height="38" fill="none" stroke="#c8202a" stroke-width="1.8"/>
<line x1="411" y1="519.9" x2="411" y2="557.9" stroke="#c8202a" stroke-width="1.8"/>
<path d="M593.7,538.6 L594.4,538.6 L595.1,538.6 L595.8,538.6 L596.5,538.4 L597.3,538.2 L598,538 L598.7,537.8 L599.4,537.5 L600.1,537.2 L600.8,536.9 L601.5,536.6 L601.9,536.7 L602.2,536.7 L602.9,536.6 L603.7,536.6 L604.4,536.5 L605,536.4 L605.1,536.5 L605.8,536.5 L606.5,536.6 L607.2,536.6 L607.9,536.7 L608.6,536.7 L608.7,536.7 L609.3,536.7 L610.1,536.9 L610.8,537.1 L611.5,537.4 L612.2,537.6 L612.9,537.8 L613.6,538 L614.3,538.1 L615,538.3 L615.7,538.5 L616.5,538.6 L617.2,538.6 L617.9,538.6 L618.6,538.6 L619.3,538.6 L619.3,539.2 L618.6,539.2 L617.9,539.2 L617.2,539.2 L616.5,539.3 L615.7,539.4 L615,539.6 L614.3,539.8 L613.6,539.9 L612.9,540.1 L612.2,540.3 L611.5,540.5 L610.8,540.8 L610.1,541 L609.3,541.2 L608.7,541.1 L608.6,541.2 L607.9,541.2 L607.2,541.3 L606.5,541.3 L605.8,541.4 L605.1,541.4 L605,541.4 L604.4,541.4 L603.7,541.3 L602.9,541.3 L602.2,541.2 L601.9,541.1 L601.5,541.3 L600.8,541 L600.1,540.7 L599.4,540.4 L598.7,540.1 L598,539.9 L597.3,539.7 L596.5,539.5 L595.8,539.3 L595.1,539.2 L594.4,539.2 L593.7,539.2 Z" fill="#2d3a80" stroke="#2b2b2b" stroke-width="1.9" stroke-linejoin="round"/>
<rect x="601.9" y="519.9" width="6.8" height="38" fill="none" stroke="#2d3a80" stroke-width="1.8"/>
<line x1="605" y1="519.9" x2="605" y2="557.9" stroke="#2d3a80" stroke-width="1.8"/>
<path d="M420.3,580.2 L420.6,580.2 L420.9,579.8 L421.2,579.3 L421.5,578.6 L421.9,577.8 L422.2,577 L422.5,576.1 L422.8,575.1 L423.1,574.1 L423.4,573.9 L423.4,573.9 L423.7,573.8 L424,573.7 L424.3,573.5 L424.7,573.4 L425,573.3 L425.3,573.2 L425.6,573 L425.7,573 L425.9,573.1 L426.2,573.2 L426.5,573.3 L426.8,573.4 L427.1,573.6 L427.5,573.7 L427.8,573.8 L428,573.9 L428.1,573.2 L428.4,574.2 L428.7,575.1 L429,576 L429.3,576.8 L429.6,577.6 L429.9,578.3 L430.3,578.9 L430.6,579.5 L430.9,579.9 L431.2,580.2 L431.5,580.2 L431.5,580.8 L431.2,580.8 L430.9,581.1 L430.6,581.5 L430.3,582.1 L429.9,582.7 L429.6,583.4 L429.3,584.2 L429,585 L428.7,585.9 L428.4,586.8 L428.1,587.8 L428,587.1 L427.8,587.2 L427.5,587.3 L427.1,587.4 L426.8,587.6 L426.5,587.7 L426.2,587.8 L425.9,587.9 L425.7,588 L425.6,588 L425.3,587.8 L425,587.7 L424.7,587.6 L424.3,587.5 L424,587.3 L423.7,587.2 L423.4,587.1 L423.4,587.1 L423.1,586.9 L422.8,585.9 L422.5,584.9 L422.2,584 L421.9,583.2 L421.5,582.4 L421.2,581.7 L420.9,581.2 L420.6,580.8 L420.3,580.8 Z" fill="#c8202a" stroke="#2b2b2b" stroke-width="1.9" stroke-linejoin="round"/>
<rect x="423.4" y="561.5" width="4.6" height="38" fill="#c8202a" stroke="#c8202a" stroke-width="1.6"/>
<path d="M617,580.2 L618.1,580.2 L619.1,580.2 L620.2,580.2 L621.3,580.2 L622.3,580.2 L623.4,580.2 L624.4,580.1 L625.5,580 L626.6,579.9 L627.6,579.8 L628.7,579.7 L629.8,579.5 L630.8,579.4 L631.9,579.3 L633,579.2 L634,579 L634.3,579.2 L635.1,579.1 L636.1,579.1 L637.2,579 L638,579 L638.3,579 L639.3,579 L640.4,579.1 L641.5,579.1 L642.5,579.1 L643.6,579.2 L643.7,579.2 L644.7,579.2 L645.7,579.4 L646.8,579.6 L647.9,579.7 L648.9,579.9 L650,580 L651,580.2 L652.1,580.2 L653.2,580.2 L654.2,580.2 L655.3,580.2 L655.3,580.8 L654.2,580.8 L653.2,580.8 L652.1,580.8 L651,580.8 L650,581 L648.9,581.1 L647.9,581.3 L646.8,581.4 L645.7,581.6 L644.7,581.8 L643.7,581.8 L643.6,581.8 L642.5,581.9 L641.5,581.9 L640.4,581.9 L639.3,582 L638.3,582 L638,582 L637.2,582 L636.1,581.9 L635.1,581.9 L634.3,581.8 L634,582 L633,581.8 L631.9,581.7 L630.8,581.6 L629.8,581.5 L628.7,581.3 L627.6,581.2 L626.6,581.1 L625.5,581 L624.4,580.9 L623.4,580.8 L622.3,580.8 L621.3,580.8 L620.2,580.8 L619.1,580.8 L618.1,580.8 L617,580.8 Z" fill="#2d3a80" stroke="#2b2b2b" stroke-width="1.9" stroke-linejoin="round"/>
<rect x="634.3" y="561.5" width="9.4" height="38" fill="none" stroke="#2d3a80" stroke-width="1.8"/>
<line x1="638" y1="561.5" x2="638" y2="599.5" stroke="#2d3a80" stroke-width="1.8"/>
<path d="M421,621.8 L421.5,621.8 L422,621.7 L422.5,621.3 L423,620.9 L423.4,620.5 L423.9,620 L424.4,619.4 L424.9,618.9 L425.4,618.3 L425.9,617.6 L426.4,616.9 L426.9,616.2 L427.3,616.3 L427.4,616.3 L427.8,616.1 L428.3,616 L428.8,615.8 L429.3,615.6 L429.6,615.5 L429.8,615.6 L430.3,615.8 L430.8,615.9 L431.3,616.1 L431.8,616.3 L431.9,616.3 L432.2,616 L432.7,616.7 L433.2,617.4 L433.7,618 L434.2,618.6 L434.7,619.2 L435.2,619.7 L435.7,620.2 L436.2,620.6 L436.6,621 L437.1,621.4 L437.6,621.7 L438.1,621.8 L438.6,621.8 L438.6,622.3 L438.1,622.3 L437.6,622.4 L437.1,622.7 L436.6,623.1 L436.2,623.5 L435.7,623.9 L435.2,624.4 L434.7,624.9 L434.2,625.5 L433.7,626.1 L433.2,626.7 L432.7,627.4 L432.2,628.1 L431.9,627.8 L431.8,627.8 L431.3,628 L430.8,628.2 L430.3,628.3 L429.8,628.5 L429.6,628.5 L429.3,628.5 L428.8,628.3 L428.3,628.1 L427.8,628 L427.4,627.8 L427.3,627.8 L426.9,627.9 L426.4,627.2 L425.9,626.5 L425.4,625.8 L424.9,625.2 L424.4,624.7 L423.9,624.1 L423.4,623.6 L423,623.2 L422.5,622.8 L422,622.4 L421.5,622.3 L421,622.3 Z" fill="#c8202a" stroke="#2b2b2b" stroke-width="1.9" stroke-linejoin="round"/>
<rect x="421" y="616" width="5.5" height="12" rx="2.8" ry="5" fill="#c8202a" stroke="#2b2b2b" stroke-width="0.5"/>
<rect x="431.5" y="616" width="7.1" height="12" rx="3.5" ry="5" fill="#c8202a" stroke="#2b2b2b" stroke-width="0.5"/>
<rect x="427.3" y="603" width="4.6" height="38" fill="#c8202a" stroke="#c8202a" stroke-width="1.6"/>
<path d="M610,621.8 L610.7,621.8 L611.4,621.8 L612.1,621.8 L612.8,621.7 L613.6,621.5 L614.3,621.3 L615,621.2 L615.7,621 L616.4,620.8 L617.1,620.5 L617.8,620.3 L618.5,620.1 L619.2,619.8 L620,619.5 L620.7,619.3 L621.4,619 L622.1,618.7 L622.8,618.4 L623.5,618.1 L624.2,617.8 L624.7,618.1 L624.9,618 L625.6,617.9 L626.4,617.8 L627.1,617.6 L627.6,617.5 L627.8,617.6 L628.5,617.7 L629.2,617.8 L629.9,618 L630.5,618.1 L630.6,617.7 L631.3,618.6 L632,619.4 L632.8,620.2 L633.5,620.8 L634.2,621.4 L634.9,621.8 L635.6,621.8 L635.6,622.3 L634.9,622.3 L634.2,622.7 L633.5,623.3 L632.8,623.9 L632,624.7 L631.3,625.5 L630.6,626.4 L630.5,626 L629.9,626.1 L629.2,626.3 L628.5,626.4 L627.8,626.5 L627.6,626.5 L627.1,626.5 L626.4,626.3 L625.6,626.2 L624.9,626.1 L624.7,626 L624.2,626.3 L623.5,626 L622.8,625.7 L622.1,625.4 L621.4,625.1 L620.7,624.8 L620,624.6 L619.2,624.3 L618.5,624 L617.8,623.8 L617.1,623.6 L616.4,623.3 L615.7,623.1 L615,622.9 L614.3,622.8 L613.6,622.6 L612.8,622.4 L612.1,622.3 L611.4,622.3 L610.7,622.3 L610,622.3 Z" fill="#2d3a80" stroke="#2b2b2b" stroke-width="1.9" stroke-linejoin="round"/>
<rect x="613" y="616" width="4.7" height="12" rx="2.4" ry="5" fill="#2d3a80" stroke="#2b2b2b" stroke-width="0.5"/>
<rect x="624.7" y="603" width="5.8" height="38" fill="none" stroke="#2d3a80" stroke-width="1.8"/>
<line x1="627.6" y1="603" x2="627.6" y2="641" stroke="#2d3a80" stroke-width="1.8"/>
<path d="M383,663.3 L384.3,663.3 L385.6,663.3 L386.9,663.3 L388.2,663.1 L389.5,662.8 L390.8,662.6 L392.1,662.4 L393.4,662.1 L394.6,661.8 L395.9,661.5 L397.2,661.1 L398.5,660.8 L399.8,660.4 L401.1,660.1 L402.4,659.7 L403.7,659.3 L405,658.9 L406.3,658.5 L407.6,658 L408.9,657.6 L410.2,657.1 L411.5,656.7 L412.8,656.2 L414.1,655.7 L415.4,655.2 L415.6,656.1 L416.7,655.7 L418,655.3 L418.5,655.1 L419.2,655.4 L420.5,655.8 L421.5,656.1 L421.8,655.6 L423.1,657.5 L424.4,659.3 L425.7,660.8 L427,662.1 L428.3,663.1 L429.6,663.3 L429.6,663.9 L428.3,664.1 L427,665.1 L425.7,666.4 L424.4,667.9 L423.1,669.7 L421.8,671.6 L421.5,671.1 L420.5,671.4 L419.2,671.8 L418.5,672.1 L418,671.9 L416.7,671.5 L415.6,671.1 L415.4,672 L414.1,671.5 L412.8,671 L411.5,670.5 L410.2,670.1 L408.9,669.6 L407.6,669.2 L406.3,668.7 L405,668.3 L403.7,667.9 L402.4,667.5 L401.1,667.1 L399.8,666.8 L398.5,666.4 L397.2,666.1 L395.9,665.7 L394.6,665.4 L393.4,665.1 L392.1,664.8 L390.8,664.6 L389.5,664.4 L388.2,664.1 L386.9,663.9 L385.6,663.9 L384.3,663.9 L383,663.9 Z" fill="#c8202a" stroke="#2b2b2b" stroke-width="1.9" stroke-linejoin="round"/>
<rect x="383" y="657.6" width="6.2" height="12" rx="3.1" ry="5" fill="#c8202a" stroke="#2b2b2b" stroke-width="0.5"/>
<rect x="405.5" y="657.6" width="4.7" height="12" rx="2.3" ry="5" fill="#c8202a" stroke="#2b2b2b" stroke-width="0.5"/>
<rect x="415.6" y="644.6" width="5.9" height="38" fill="none" stroke="#c8202a" stroke-width="1.8"/>
<line x1="418.5" y1="644.6" x2="418.5" y2="682.6" stroke="#c8202a" stroke-width="1.8"/>
<path d="M578.9,663.3 L580.8,663.3 L582.7,663.3 L584.6,663.3 L586.5,663.3 L588.4,663.3 L590.3,663.3 L592.2,663.2 L594.1,663.2 L596,663.1 L597.9,663 L599.8,662.9 L601.7,662.8 L603.6,662.7 L605.5,662.6 L607.4,662.5 L609.3,662.3 L611.2,662.2 L613,662.1 L614.9,662 L616.8,661.8 L618.7,661.7 L620.6,661.6 L622.5,661.4 L624.4,661.3 L626.3,661.1 L626.7,661.4 L628.2,661.3 L630.1,661.1 L630.5,661.1 L632,661.2 L633.9,661.3 L634.8,661.4 L635.8,661.4 L637.7,661.9 L639.6,662.4 L641.5,662.8 L643.4,663.2 L645.3,663.3 L647.2,663.3 L647.2,663.9 L645.3,663.9 L643.4,664 L641.5,664.4 L639.6,664.8 L637.7,665.3 L635.8,665.8 L634.8,665.8 L633.9,665.9 L632,666 L630.5,666.1 L630.1,666.1 L628.2,665.9 L626.7,665.8 L626.3,666.1 L624.4,665.9 L622.5,665.8 L620.6,665.6 L618.7,665.5 L616.8,665.4 L614.9,665.2 L613,665.1 L611.2,665 L609.3,664.9 L607.4,664.7 L605.5,664.6 L603.6,664.5 L601.7,664.4 L599.8,664.3 L597.9,664.2 L596,664.1 L594.1,664 L592.2,664 L590.3,663.9 L588.4,663.9 L586.5,663.9 L584.6,663.9 L582.7,663.9 L580.8,663.9 L578.9,663.9 Z" fill="#2d3a80" stroke="#2b2b2b" stroke-width="1.9" stroke-linejoin="round"/>
<rect x="582" y="657.6" width="4.7" height="12" rx="2.4" ry="5" fill="#2d3a80" stroke="#2b2b2b" stroke-width="0.5"/>
<rect x="613.8" y="657.6" width="4.7" height="12" rx="2.4" ry="5" fill="#2d3a80" stroke="#2b2b2b" stroke-width="0.5"/>
<rect x="626.7" y="644.6" width="8.1" height="38" fill="none" stroke="#2d3a80" stroke-width="1.8"/>
<line x1="630.5" y1="644.6" x2="630.5" y2="682.6" stroke="#2d3a80" stroke-width="1.8"/>
<rect x="66.5" y="57" width="198.8" height="699.8" fill="none" stroke="#231f20" stroke-width="1.6"/>
<rect x="265.3" y="57" width="199.1" height="631.5" fill="none" stroke="#231f20" stroke-width="1.6"/>
<rect x="464.4" y="57" width="199.9" height="631.5" fill="none" stroke="#231f20" stroke-width="1.6"/>
<text transform="translate(684,30.3) scale(0.9,1.07)" font-size="40" font-weight="bold">b</text>
<path d="M867.2,140.6L867.2,133.9 868.2,129.8 869.2,126.5 870.2,124.8 871.2,124.3 872.2,124.3 873.2,125 874.2,127 875.2,130.6 876,133.9 876,140.6Z" fill="#2b3a80"/>
<path d="M718.3,224.8L718.3,220.5 719.3,217.6 720.3,215.4 721.3,214.4 722.3,214.2 723.3,214.3 724.3,215.1 725.3,217.2 726.3,220 726.5,220.5 726.5,224.8Z" fill="#84208a"/>
<path d="M695.5,266.9L695.5,247.5 696.5,238.9 697.5,231.9 698.5,227.9 699.5,226.3 700.5,226.3 701.5,226.5 702.5,228.5 703.5,233.2 704.5,240.7 705.5,249.4 706.5,257.3 707.5,262.7 708.5,265.5 755.5,265.5 756.5,265.1 757.5,262.1 758.5,257.5 759.5,252.3 760.5,248.1 761.5,245.7 762.5,244.9 763.5,244.9 764.5,245.3 765.5,247.1 766.5,250.8 767.5,255.8 768.5,260.7 769.5,264.3 770.5,265.5 800.5,265.5 801.5,264.9 802.5,261.4 803.5,255.2 804.5,246.8 805.5,238.2 806.5,231.5 807.5,227.6 808.5,226.3 809.5,226.3 810.5,226.6 811.5,228.8 812.5,233.7 813.5,241.3 814.5,250.1 815.5,257.9 816.5,263.1 817.5,265.5 861.5,265.5 862.5,265 863.5,262.1 864.5,257.4 865.5,252.3 866.5,248.1 867.5,245.7 868.5,244.9 869.5,244.9 870.5,245.3 871.5,247.2 872.5,250.8 873.2,254.4 873.2,266.9Z" fill="#ef7f2c"/>
<path d="M693,309L693,307.6 695,307.6 696,305.1 697,301.3 698,297.2 699,294.3 700,292.9 701,292.5 702,291.9 703,291.2 704,291.4 705,293 706,295.2 707,296.9 708,297.7 709,298.9 710,301.3 711,304 712,305.5 713,304.9 714,303.8 715,303.3 716,303.3 717,303.4 718,304.2 719,305.6 720,307.3 721,307.1 722,306.4 723,306.4 724,306.5 725,306.8 726,307.5 727,307.2 728,304.8 729,301.9 730,299.7 731,298.6 732,298.4 733,298.5 734,299.2 735,300.8 736,302.5 737,303.3 738,303.3 739,303.3 740,303.3 741,303.6 742,304.6 743,306.2 744,307.6 802,307.6 803,306.7 804,305 805,303.8 806,303.3 807,303.3 808,303.4 809,304.2 810,305.6 811,307.3 812,307.2 813,306.7 814,306.5 815,306.5 816,306.8 817,307.5 818,306.7 819,305 820,303.8 821,303.3 822,303.3 823,303.4 824,304.2 825,305.6 826,306.4 827,306.4 828,306.4 829,306.4 830,306.5 831,306.8 832,305.8 833,302.9 834,300.3 835,298.8 836,298.4 837,298.4 838,298.9 839,300.4 840,303 840.6,304.7 840.6,309Z" fill="#f2de1b"/>
<path d="M702.8,351.1L702.8,349.7 703.8,349.7 704.8,349 705.8,348.7 706.8,348.7 707.8,348.7 708.8,349 709.8,349.6 710.8,349.7 713.8,349.7 714.8,349.4 715.8,348.9 716.8,348.7 717.8,348.7 718.8,348.8 719.8,349.2 720.8,349.7 725.8,349.7 726.8,349.6 727.8,349 728.8,348.7 729.8,348.7 730.8,348.7 731.8,349 732.8,349.7 734.8,349.7 735.8,349.4 736.8,348.2 737.8,347.4 738.8,347 739.8,347 740.8,347.2 741.8,347.8 742.8,349 743.8,349.7 801.8,349.7 802.8,348.3 803.8,345.8 804.8,343.6 805.8,342.4 806.8,342.1 807.8,342.2 808.8,342.7 809.8,344.2 810.8,346.6 811.8,348.9 812.8,349.7 828.8,349.7 829.8,349.4 830.8,349.2 831.8,349.1 832.8,349.2 833.8,349.5 834.8,349.7 877.8,349.7 878.8,349.3 879.8,348.8 880.8,348.7 881.8,348.7 882.8,348.8 883.8,349.2 883.8,351.1Z" fill="#8296c8"/>
<path d="M693,393.2L693,383.3 694,379 695,376 696,374.7 697,374.4 698,374.6 699,375.7 700,378.4 701,382.6 702,387.2 703,390.6 704,391.8 801,391.8 802,390.8 803,388.1 804,385.3 805,383.4 806,382.7 807,382.6 808,382.8 809,384 810,386.3 810.4,387.4 810.4,393.2Z" fill="#b865a3"/>
<path d="M693,435.3L693,433.9 694,433.3 695,432.9 696,432.8 697,432.6 698,432.1 699,431.3 700,430.7 701,430.4 702,430.4 703,430.4 704,430.7 705,431.3 706,432.1 707,432.6 708,432.8 709,433 710,433.4 711,433.9 735,433.9 736,433.8 737,432.8 738,432.2 739,432 740,432 741,432.2 742,432.9 743,433.8 744,433.9 775,433.9 776,433.6 777,433 778,432.9 779,432.8 780,432.8 781,432.7 782,432.7 783,432.8 784,432.8 785,432.9 786,433.1 787,433.6 788,433.9 803,433.9 804,433.2 805,431.5 806,430.2 807,429.7 808,429.6 809,429.7 810,430.3 811,431.7 812,433.4 813,433.9 828,433.9 829,432.9 830,432.3 831,432.1 832,432 833,432.2 834,432.8 835,433.7 836,433.8 837,433.8 838,433.8 839,433.8 840,433.3 841,432.5 842,432.1 843,432 844,432.1 845,432.3 846,432.5 847,432.4 848,432.1 849,432 850,432 851,432.2 852,432.8 853,433.8 854,433.9 863,433.9 864,433.2 865,432.6 866,432.4 867,432.4 868,432.5 869,433 870,433.8 871,433.9 872,433.9 873,433.7 874,432.8 875,432.2 876,432 877,432 878,432.3 879,432.9 880,433.9 880.6,433.9 880.6,435.3Z" fill="#d3a062"/>
<path d="M695.5,477.4L695.5,476 696.5,475.5 697.5,474.6 698.5,474.2 699.5,474.1 700.5,474.2 701.5,474.4 702.5,474.5 703.5,473.5 704.5,471.6 705.5,470 706.5,469.3 707.5,469.2 708.5,469.4 709.5,470.3 710.5,472.1 711.5,474.4 712.5,476 723.5,476 724.5,475.2 725.5,474.5 726.5,474.2 727.5,474.1 728.5,474.2 729.5,474.7 730.5,475.6 731.5,476 800.5,476 801.5,474.1 802.5,470.5 803.5,466.4 804.5,463.2 805.5,461.5 806.5,461.1 807.5,461 808.5,461.3 809.5,462.8 810.5,465.7 811.5,469.3 812.5,471.9 813.5,473.2 814.5,474.2 815.5,475.4 816.5,476 831.5,476 832.5,475.5 833.5,473.8 834.5,472.4 835.5,471.8 836.5,471.7 837.5,471.7 838.5,471.9 839.5,472.4 840.5,473.2 841.5,473.9 842.5,474.1 843.5,474.3 844.5,474.8 845.5,475.7 846.5,476 877.5,476 878.5,475.3 879.5,474.5 880.5,474.2 881.5,474.1 882.5,474.2 883.5,474.7 883.8,474.9 883.8,477.4Z" fill="#8fd0dc"/>
<path d="M695.5,519.5L695.5,518.1 696.5,518.1 697.5,517.4 698.5,517.1 699.5,516.9 700.5,516.2 701.5,514.6 702.5,512.9 703.5,511.8 704.5,511.4 705.5,511.3 706.5,511.6 707.5,512.5 708.5,514.3 709.5,516.1 710.5,516.9 711.5,517 712.5,517.1 713.5,517.1 714.5,517.3 715.5,517.9 716.5,518.1 737.5,518.1 738.5,517.4 739.5,516.8 740.5,516.6 741.5,516.6 742.5,516.7 743.5,517.2 744.5,518 745.5,518.1 803.5,518.1 804.5,518 805.5,516.4 806.5,514.8 807.5,514 808.5,513.8 809.5,513.8 810.5,514.2 811.5,515.3 812.5,517 813.5,518.1 831.5,518.1 832.5,516.4 833.5,514.1 834.5,512.3 835.5,511.5 836.5,511.3 837.5,511.5 838.5,512.2 839.5,513.9 840.5,516.2 841.5,518.1 866.5,518.1 867.5,517.6 868.5,516 869.5,514.6 870.5,513.9 871.5,513.8 872.5,513.9 873.5,514.4 874.5,515.7 875.5,516.9 876.5,516.9 877.5,516.9 878.5,515.6 879.5,514.4 880.5,513.9 881.5,513.8 882.5,513.9 883.5,514.6 883.8,515 883.8,519.5Z" fill="#86c05c"/>
<path d="M707.7,561.6L707.7,560.2 709.7,560.2 710.7,559.3 711.7,558.6 712.7,558.4 713.7,558.3 714.7,558.5 715.7,559 716.7,559.9 717.7,560.2 800.7,560.2 801.7,560.1 802.7,557.9 803.7,555.2 804.7,553 805.7,552 806.7,551.8 807.7,551.9 808.7,552.6 809.7,554.5 810.7,557.1 811.7,559.6 812.7,560.2 831.7,560.2 832.7,559.3 833.7,557.6 834.7,556.4 835.7,555.9 836.7,555.9 837.7,555.9 838.7,556.2 839.7,556.8 840.7,557.6 841.7,558.1 842.7,558.3 843.7,558.5 844.7,559.1 845.7,560.1 846.7,560.2 867.7,560.2 868.7,559.5 869.7,558.7 870.7,558.4 871.7,558.3 872.7,558.4 873.7,558.9 874.7,559.7 875.7,560.2 875.7,561.6Z" fill="#9580bb"/>
<path d="M695.5,603.7L695.5,601 696.5,598.6 697.5,596.3 698.5,595.1 699.5,594.7 700.5,594.8 701.5,595.2 702.5,596.7 703.5,599.1 704.5,601.4 705.5,602.3 733.5,602.3 734.5,600.9 735.5,597.4 736.5,593.3 737.5,589.9 738.5,588 739.5,587.4 740.5,587.4 741.5,587.9 742.5,589.8 743.5,593.2 744.5,597.3 745.5,600.8 746.5,602.3 800.5,602.3 801.5,600.4 802.5,596.8 803.5,592.7 804.5,589.5 805.5,587.8 806.5,587.4 807.5,587.4 808.5,588.1 809.5,590.2 810.5,593.8 811.5,597.9 812.5,601.2 813.5,602.3 848.5,602.3 849.5,601.5 850.5,599.2 851.5,596.8 852.5,595.3 853.5,594.8 854.5,594.7 855.5,595 856.5,596.2 857.5,598.4 858.5,600.9 859.5,600.6 860.5,599.9 861.5,599.7 862.5,599.8 863.5,600.3 864.5,601.3 865.5,599.2 866.5,596.8 867.5,595.3 868.5,594.8 869.5,594.7 870.5,595 871.5,596.2 872.5,598.4 873.2,600.3 873.2,603.7Z" fill="#cf4a26"/>
<path d="M693,645.8L693,640.5 694,637.2 695,634.8 696,633.8 697,633.6 698,633.7 699,634.6 700,636.8 701,639.8 702,640.3 703,640.3 704,638.1 705,635.4 706,633.9 707,633.6 708,633.6 709,634.2 710,636.1 711,639.1 712,642.2 713,644.4 732,644.4 733,643.8 734,640.7 735,635.9 736,630.5 737,625.9 738,623.2 739,622.3 740,622.2 741,622.5 742,624.1 743,627.6 743.6,630.2 743.6,645.8Z" fill="#3bb09e"/>
<path d="M735.4,687.9L735.4,685.9 736.4,683.7 737.4,681.5 738.4,680.2 739.4,679.8 740.4,679.8 741.4,680.1 742.4,681.3 743.4,683.4 744.4,685.5 745.4,685.7 746.4,685.3 747.4,684 748.4,683.2 749.4,683 750.4,683 751.4,683.4 752.4,684.3 753.4,685.8 754.4,686.5 802.4,686.5 803.4,684.5 804.4,681.5 805.4,678.7 806.4,677 807.4,676.5 808.4,676.5 809.4,676.9 810.4,678.4 811.4,681.1 812.4,684.2 813.4,686.4 814.4,686.5 866.4,686.5 867.4,686.4 868.4,685 869.4,683.8 870.4,683.1 871.4,683 872.4,683.1 873.4,683.5 874.4,684.6 875.4,686 875.7,686.3 875.7,687.9Z" fill="#7a1618"/>
<line x1="686" y1="99.1" x2="884.6" y2="99.1" stroke="#231f20" stroke-width="1.5"/>
<line x1="686" y1="141.2" x2="884.6" y2="141.2" stroke="#231f20" stroke-width="1.5"/>
<line x1="686" y1="183.3" x2="884.6" y2="183.3" stroke="#231f20" stroke-width="1.5"/>
<line x1="686" y1="225.4" x2="884.6" y2="225.4" stroke="#231f20" stroke-width="1.5"/>
<line x1="686" y1="267.5" x2="884.6" y2="267.5" stroke="#231f20" stroke-width="1.5"/>
<line x1="686" y1="309.6" x2="884.6" y2="309.6" stroke="#231f20" stroke-width="1.5"/>
<line x1="686" y1="351.7" x2="884.6" y2="351.7" stroke="#231f20" stroke-width="1.5"/>
<line x1="686" y1="393.8" x2="884.6" y2="393.8" stroke="#231f20" stroke-width="1.5"/>
<line x1="686" y1="435.9" x2="884.6" y2="435.9" stroke="#231f20" stroke-width="1.5"/>
<line x1="686" y1="478" x2="884.6" y2="478" stroke="#231f20" stroke-width="1.5"/>
<line x1="686" y1="520.1" x2="884.6" y2="520.1" stroke="#231f20" stroke-width="1.5"/>
<line x1="686" y1="562.2" x2="884.6" y2="562.2" stroke="#231f20" stroke-width="1.5"/>
<line x1="686" y1="604.3" x2="884.6" y2="604.3" stroke="#231f20" stroke-width="1.5"/>
<line x1="686" y1="646.4" x2="884.6" y2="646.4" stroke="#231f20" stroke-width="1.5"/>
<line x1="686" y1="688.5" x2="884.6" y2="688.5" stroke="#231f20" stroke-width="1.5"/>
<path d="M893.3,81.6 L893.6,81.6 L893.9,81.1 L894.2,80.4 L894.5,79.6 L894.9,78.7 L895.2,77.7 L895.5,76.6 L895.6,76.8 L895.8,76.7 L896.1,76.6 L896.4,76.5 L896.7,76.4 L897,76.3 L897.3,76.2 L897.5,76.1 L897.7,76.2 L898,76.3 L898.3,76.4 L898.6,76.5 L898.9,76.6 L899.2,76.7 L899.5,76.8 L899.5,76.1 L899.8,76.7 L900.1,77.2 L900.5,77.7 L900.8,78.2 L901.1,78.6 L901.4,79.1 L901.7,79.5 L902,79.9 L902.3,80.2 L902.6,80.6 L902.9,80.9 L903.3,81.2 L903.6,81.4 L903.9,81.6 L904.2,81.6 L904.5,81.6 L904.5,82.2 L904.2,82.2 L903.9,82.2 L903.6,82.4 L903.3,82.6 L902.9,82.9 L902.6,83.2 L902.3,83.6 L902,83.9 L901.7,84.3 L901.4,84.7 L901.1,85.2 L900.8,85.6 L900.5,86.1 L900.1,86.6 L899.8,87.1 L899.5,87.7 L899.5,87 L899.2,87.1 L898.9,87.2 L898.6,87.3 L898.3,87.4 L898,87.5 L897.7,87.6 L897.5,87.7 L897.3,87.6 L897,87.5 L896.7,87.4 L896.4,87.3 L896.1,87.2 L895.8,87.1 L895.6,87 L895.5,87.2 L895.2,86.1 L894.9,85.1 L894.5,84.2 L894.2,83.4 L893.9,82.7 L893.6,82.2 L893.3,82.2 Z" fill="#c8202a" stroke="#2b2b2b" stroke-width="1.9" stroke-linejoin="round"/>
<rect x="897.5" y="75.9" width="7" height="12" rx="3.5" ry="5" fill="#c8202a" stroke="#2b2b2b" stroke-width="0.5"/>
<rect x="895.6" y="62.9" width="3.9" height="38" fill="#c8202a" stroke="#c8202a" stroke-width="1.6"/>
<path d="M1136.6,81.6 L1136.8,81.6 L1137,81 L1137.2,80.3 L1137.5,79.4 L1137.7,78.4 L1137.9,77.3 L1138.1,76.1 L1138.1,76.8 L1138.3,76.7 L1138.5,76.6 L1138.7,76.5 L1139,76.4 L1139.2,76.3 L1139.4,76.2 L1139.5,76.1 L1139.6,76.2 L1139.8,76.3 L1140,76.4 L1140.2,76.5 L1140.4,76.6 L1140.7,76.7 L1140.8,76.8 L1140.9,76.3 L1141.1,76.8 L1141.3,77.3 L1141.5,77.8 L1141.7,78.3 L1141.9,78.7 L1142.2,79.1 L1142.4,79.5 L1142.6,79.9 L1142.8,80.3 L1143,80.6 L1143.2,80.9 L1143.4,81.2 L1143.7,81.4 L1143.9,81.6 L1144.1,81.6 L1144.3,81.6 L1144.3,82.2 L1144.1,82.2 L1143.9,82.2 L1143.7,82.4 L1143.4,82.6 L1143.2,82.9 L1143,83.2 L1142.8,83.5 L1142.6,83.9 L1142.4,84.3 L1142.2,84.7 L1141.9,85.1 L1141.7,85.5 L1141.5,86 L1141.3,86.5 L1141.1,87 L1140.9,87.5 L1140.8,87 L1140.7,87.1 L1140.4,87.2 L1140.2,87.3 L1140,87.4 L1139.8,87.5 L1139.6,87.6 L1139.5,87.7 L1139.4,87.6 L1139.2,87.5 L1139,87.4 L1138.7,87.3 L1138.5,87.2 L1138.3,87.1 L1138.1,87 L1138.1,87.7 L1137.9,86.5 L1137.7,85.4 L1137.5,84.4 L1137.2,83.5 L1137,82.8 L1136.8,82.2 L1136.6,82.2 Z" fill="#2d3a80" stroke="#2b2b2b" stroke-width="1.9" stroke-linejoin="round"/>
<rect x="1139.5" y="75.9" width="4.8" height="12" rx="2.4" ry="5" fill="#2d3a80" stroke="#2b2b2b" stroke-width="0.5"/>
<rect x="1138.1" y="62.9" width="2.7" height="38" fill="#2d3a80" stroke="#2d3a80" stroke-width="1.6"/>
<path d="M944.2,123.2 L945.4,123.2 L946.5,123.2 L947.7,123 L948.8,122.7 L950,122.4 L951.1,122.1 L952.3,121.7 L953.4,121.3 L954.6,120.9 L955.7,120.4 L956.9,120 L958,119.5 L959.2,119 L959.3,119.5 L960.3,119.3 L961.5,119.1 L962.4,119 L962.6,119 L963.8,119.1 L965,119.2 L966.1,119.3 L967.3,119.4 L968.4,119.5 L968.6,119.5 L969.6,119.3 L970.7,119.8 L971.9,120.2 L973,120.6 L974.2,121 L975.3,121.3 L976.5,121.7 L977.6,122 L978.8,122.3 L979.9,122.6 L981.1,122.8 L982.2,123 L983.4,123.2 L984.5,123.2 L985.7,123.2 L985.7,123.8 L984.5,123.8 L983.4,123.8 L982.2,123.9 L981.1,124.1 L979.9,124.3 L978.8,124.6 L977.6,124.9 L976.5,125.2 L975.3,125.6 L974.2,125.9 L973,126.3 L971.9,126.7 L970.7,127.1 L969.6,127.6 L968.6,127.4 L968.4,127.4 L967.3,127.5 L966.1,127.6 L965,127.7 L963.8,127.8 L962.6,127.9 L962.4,128 L961.5,127.8 L960.3,127.6 L959.3,127.4 L959.2,127.9 L958,127.4 L956.9,126.9 L955.7,126.5 L954.6,126 L953.4,125.6 L952.3,125.2 L951.1,124.8 L950,124.5 L948.8,124.2 L947.7,123.9 L946.5,123.8 L945.4,123.8 L944.2,123.8 Z" fill="#c8202a" stroke="#2b2b2b" stroke-width="1.9" stroke-linejoin="round"/>
<rect x="959.3" y="104.5" width="9.3" height="38" fill="none" stroke="#c8202a" stroke-width="1.8"/>
<line x1="962.4" y1="104.5" x2="962.4" y2="142.4" stroke="#c8202a" stroke-width="1.8"/>
<path d="M1145.1,123.2 L1145.4,123.2 L1145.7,123 L1146,122.6 L1146.3,122.1 L1146.6,121.6 L1146.9,121 L1147.2,120.3 L1147.5,119.7 L1147.8,118.9 L1148.1,118.1 L1148.2,118.6 L1148.4,118.5 L1148.7,118.4 L1149,118.3 L1149.3,118.2 L1149.6,118.1 L1149.9,118 L1150.1,118 L1150.2,118 L1150.5,118.1 L1150.9,118.2 L1151.2,118.3 L1151.5,118.4 L1151.8,118.5 L1152.1,118.6 L1152.1,118.6 L1152.4,118.5 L1152.7,119.1 L1153,119.7 L1153.3,120.2 L1153.6,120.8 L1153.9,121.2 L1154.2,121.7 L1154.5,122.1 L1154.8,122.5 L1155.1,122.8 L1155.4,123.1 L1155.7,123.2 L1156,123.2 L1156,123.8 L1155.7,123.8 L1155.4,123.8 L1155.1,124.1 L1154.8,124.4 L1154.5,124.8 L1154.2,125.2 L1153.9,125.7 L1153.6,126.1 L1153.3,126.7 L1153,127.2 L1152.7,127.8 L1152.4,128.4 L1152.1,128.3 L1152.1,128.3 L1151.8,128.4 L1151.5,128.5 L1151.2,128.6 L1150.9,128.7 L1150.5,128.8 L1150.2,128.9 L1150.1,128.9 L1149.9,128.9 L1149.6,128.8 L1149.3,128.7 L1149,128.6 L1148.7,128.5 L1148.4,128.4 L1148.2,128.3 L1148.1,128.8 L1147.8,128 L1147.5,127.2 L1147.2,126.6 L1146.9,125.9 L1146.6,125.3 L1146.3,124.8 L1146,124.3 L1145.7,123.9 L1145.4,123.8 L1145.1,123.8 Z" fill="#2d3a80" stroke="#2b2b2b" stroke-width="1.9" stroke-linejoin="round"/>
<rect x="1148.2" y="104.5" width="3.9" height="38" fill="#2d3a80" stroke="#2d3a80" stroke-width="1.6"/>
<path d="M944.2,164.7 L945.7,164.7 L947.2,164.7 L948.7,164.7 L950.2,164.5 L951.7,164.3 L953.2,164.1 L954.7,163.9 L956.2,163.6 L957.8,163.4 L959.3,163.1 L960.8,162.8 L962.3,162.5 L963.8,162.2 L964.7,162.4 L965.3,162.3 L966.8,162.2 L968.3,162.2 L969.8,162.1 L971,162 L971.3,162 L972.8,162.1 L974.3,162.2 L975.8,162.2 L977.3,162.3 L978.7,162.4 L978.8,162 L980.3,162.4 L981.8,162.7 L983.3,163 L984.9,163.3 L986.4,163.6 L987.9,163.8 L989.4,164.1 L990.9,164.3 L992.4,164.5 L993.9,164.7 L995.4,164.7 L996.9,164.7 L998.4,164.7 L998.4,165.3 L996.9,165.3 L995.4,165.3 L993.9,165.3 L992.4,165.5 L990.9,165.7 L989.4,165.9 L987.9,166.2 L986.4,166.4 L984.9,166.7 L983.3,167 L981.8,167.3 L980.3,167.6 L978.8,168 L978.7,167.6 L977.3,167.7 L975.8,167.8 L974.3,167.8 L972.8,167.9 L971.3,168 L971,168 L969.8,167.9 L968.3,167.8 L966.8,167.8 L965.3,167.7 L964.7,167.6 L963.8,167.8 L962.3,167.5 L960.8,167.2 L959.3,166.9 L957.8,166.6 L956.2,166.4 L954.7,166.1 L953.2,165.9 L951.7,165.7 L950.2,165.5 L948.7,165.3 L947.2,165.3 L945.7,165.3 L944.2,165.3 Z" fill="#c8202a" stroke="#2b2b2b" stroke-width="1.9" stroke-linejoin="round"/>
<rect x="964.7" y="146" width="14" height="38" fill="none" stroke="#c8202a" stroke-width="1.8"/>
<line x1="971" y1="146" x2="971" y2="184" stroke="#c8202a" stroke-width="1.8"/>
<path d="M1143.2,164.7 L1143.6,164.7 L1143.9,164.6 L1144.3,164.3 L1144.7,163.9 L1145,163.4 L1145.4,162.9 L1145.7,162.4 L1146.1,161.8 L1146.5,161.2 L1146.8,160.6 L1147.2,159.9 L1147.4,160.2 L1147.6,160.1 L1147.9,160 L1148.3,159.9 L1148.7,159.8 L1149,159.7 L1149.4,159.6 L1149.8,159.5 L1149.8,159.5 L1150.1,159.6 L1150.5,159.7 L1150.8,159.8 L1151.2,159.9 L1151.6,160 L1151.9,160.1 L1152.1,160.2 L1152.3,159.9 L1152.7,160.6 L1153,161.2 L1153.4,161.8 L1153.8,162.4 L1154.1,162.9 L1154.5,163.4 L1154.8,163.9 L1155.2,164.3 L1155.6,164.6 L1155.9,164.7 L1156.3,164.7 L1156.3,165.3 L1155.9,165.3 L1155.6,165.4 L1155.2,165.7 L1154.8,166.1 L1154.5,166.6 L1154.1,167.1 L1153.8,167.6 L1153.4,168.2 L1153,168.8 L1152.7,169.4 L1152.3,170.1 L1152.1,169.8 L1151.9,169.9 L1151.6,170 L1151.2,170.1 L1150.8,170.2 L1150.5,170.3 L1150.1,170.4 L1149.8,170.5 L1149.8,170.5 L1149.4,170.4 L1149,170.3 L1148.7,170.2 L1148.3,170.1 L1147.9,170 L1147.6,169.9 L1147.4,169.8 L1147.2,170.1 L1146.8,169.4 L1146.5,168.8 L1146.1,168.2 L1145.7,167.6 L1145.4,167.1 L1145,166.6 L1144.7,166.1 L1144.3,165.7 L1143.9,165.4 L1143.6,165.3 L1143.2,165.3 Z" fill="#2d3a80" stroke="#2b2b2b" stroke-width="1.9" stroke-linejoin="round"/>
<rect x="1147.4" y="146" width="4.7" height="38" fill="#2d3a80" stroke="#2d3a80" stroke-width="1.6"/>
<path d="M919.4,206.2 L920.1,206.2 L920.7,205.8 L921.4,205.2 L922,204.5 L922.7,203.7 L923.3,202.8 L924,201.8 L924.6,200.7 L925.3,199.6 L925.6,200 L926,199.8 L926.6,199.6 L927.3,199.4 L927.9,199.2 L928.3,199.1 L928.6,199.1 L929.2,199.2 L929.9,199.3 L930.5,199.4 L931.2,199.5 L931.9,199.6 L932.5,199.8 L933.2,199.9 L933.7,200 L933.8,199.2 L934.5,200 L935.1,200.7 L935.8,201.4 L936.4,202.1 L937.1,202.8 L937.8,203.4 L938.4,204 L939.1,204.5 L939.7,205 L940.4,205.4 L941,205.8 L941.7,206.2 L942.3,206.2 L943,206.2 L943,206.9 L942.3,206.9 L941.7,206.9 L941,207.3 L940.4,207.7 L939.7,208.1 L939.1,208.6 L938.4,209.1 L937.8,209.7 L937.1,210.3 L936.4,211 L935.8,211.7 L935.1,212.4 L934.5,213.1 L933.8,213.9 L933.7,213.2 L933.2,213.2 L932.5,213.3 L931.9,213.5 L931.2,213.6 L930.5,213.7 L929.9,213.8 L929.2,213.9 L928.6,214 L928.3,214.1 L927.9,213.9 L927.3,213.7 L926.6,213.5 L926,213.3 L925.6,213.2 L925.3,213.5 L924.6,212.4 L924,211.3 L923.3,210.3 L922.7,209.4 L922,208.6 L921.4,207.9 L920.7,207.3 L920.1,206.9 L919.4,206.9 Z" fill="#c8202a" stroke="#2b2b2b" stroke-width="1.9" stroke-linejoin="round"/>
<rect x="925.6" y="187.6" width="8.1" height="38" fill="none" stroke="#c8202a" stroke-width="1.8"/>
<line x1="928.3" y1="187.6" x2="928.3" y2="225.6" stroke="#c8202a" stroke-width="1.8"/>
<path d="M1177.3,206.2 L1179.5,206.2 L1181.8,206.2 L1184,206.2 L1186.2,206.2 L1188.4,206.1 L1190.7,205.9 L1192.9,205.7 L1195.1,205.5 L1197.3,205.3 L1199.5,205.1 L1200.5,205.2 L1201.8,205.2 L1204,205.2 L1206.2,205.2 L1208.5,205.1 L1210.7,205.1 L1212.9,205.1 L1213.4,205.1 L1215.1,205.1 L1217.3,205.1 L1219.6,205.1 L1221.8,205.2 L1224,205.2 L1226.2,205.2 L1227.7,205.2 L1228.5,205.1 L1230.7,205.3 L1232.9,205.4 L1235.2,205.6 L1237.4,205.7 L1239.6,205.9 L1241.8,206 L1244.1,206.1 L1246.3,206.2 L1248.5,206.2 L1250.7,206.2 L1253,206.2 L1255.2,206.2 L1257.4,206.2 L1257.4,206.9 L1255.2,206.9 L1253,206.9 L1250.7,206.9 L1248.5,206.9 L1246.3,206.9 L1244.1,207 L1241.8,207.1 L1239.6,207.2 L1237.4,207.4 L1235.2,207.5 L1232.9,207.7 L1230.7,207.8 L1228.5,208 L1227.7,207.9 L1226.2,207.9 L1224,207.9 L1221.8,207.9 L1219.6,208 L1217.3,208 L1215.1,208 L1213.4,208.1 L1212.9,208 L1210.7,208 L1208.5,208 L1206.2,207.9 L1204,207.9 L1201.8,207.9 L1200.5,207.9 L1199.5,208 L1197.3,207.8 L1195.1,207.6 L1192.9,207.4 L1190.7,207.2 L1188.4,207 L1186.2,206.9 L1184,206.9 L1181.8,206.9 L1179.5,206.9 L1177.3,206.9 Z" fill="#2d3a80" stroke="#2b2b2b" stroke-width="1.9" stroke-linejoin="round"/>
<rect x="1200.5" y="187.6" width="27.2" height="38" fill="none" stroke="#2d3a80" stroke-width="1.8"/>
<line x1="1213.4" y1="187.6" x2="1213.4" y2="225.6" stroke="#2d3a80" stroke-width="1.8"/>
<path d="M1026.5,247.8 L1027.3,247.8 L1028.1,247.8 L1028.9,247.8 L1029.6,247.7 L1030.4,247.6 L1031.2,247.4 L1032,247.3 L1032.8,247.1 L1033.6,246.9 L1034.4,246.7 L1035.1,246.5 L1035.9,246.2 L1036.7,246 L1037.5,245.7 L1038.3,245.5 L1039.1,245.2 L1039.9,244.9 L1040.7,244.7 L1041.4,244.4 L1042.2,244.1 L1043,243.8 L1043.8,243.5 L1044.6,243.1 L1045.4,242.8 L1046.2,242.5 L1046.9,242.1 L1047,242.8 L1047.7,242.6 L1048.5,242.3 L1049,242.1 L1049.3,242.2 L1050.1,242.5 L1050.9,242.7 L1051.2,242.8 L1051.7,243.2 L1052.4,244.9 L1053.2,246.4 L1054,247.5 L1054.8,247.8 L1054.8,248.4 L1054,248.7 L1053.2,249.8 L1052.4,251.3 L1051.7,253 L1051.2,253.4 L1050.9,253.5 L1050.1,253.7 L1049.3,254 L1049,254.1 L1048.5,253.9 L1047.7,253.6 L1047,253.4 L1046.9,254.1 L1046.2,253.7 L1045.4,253.4 L1044.6,253.1 L1043.8,252.7 L1043,252.4 L1042.2,252.1 L1041.4,251.8 L1040.7,251.5 L1039.9,251.3 L1039.1,251 L1038.3,250.7 L1037.5,250.5 L1036.7,250.2 L1035.9,250 L1035.1,249.7 L1034.4,249.5 L1033.6,249.3 L1032.8,249.1 L1032,248.9 L1031.2,248.8 L1030.4,248.6 L1029.6,248.5 L1028.9,248.4 L1028.1,248.4 L1027.3,248.4 L1026.5,248.4 Z" fill="#c8202a" stroke="#2b2b2b" stroke-width="1.9" stroke-linejoin="round"/>
<rect x="1026.5" y="242.1" width="5" height="12" rx="2.5" ry="5" fill="#c8202a" stroke="#2b2b2b" stroke-width="0.5"/>
<rect x="1038" y="242.1" width="5.2" height="12" rx="2.6" ry="5" fill="#c8202a" stroke="#2b2b2b" stroke-width="0.5"/>
<rect x="1047" y="229.1" width="4.2" height="38" fill="#c8202a" stroke="#c8202a" stroke-width="1.6"/>
<path d="M1157.8,247.8 L1158.8,247.8 L1159.7,247.8 L1160.7,247.8 L1161.7,247.8 L1162.7,247.7 L1163.6,247.6 L1164.6,247.5 L1165.6,247.4 L1166.5,247.2 L1167.5,247.1 L1168.5,246.9 L1169.5,246.8 L1170.4,246.6 L1171.4,246.4 L1172.4,246.2 L1173.4,246 L1174.3,245.8 L1175.3,245.6 L1175.4,245.9 L1176.3,245.8 L1177.2,245.8 L1178.2,245.7 L1179.2,245.6 L1179.3,245.6 L1180.2,245.7 L1181.1,245.7 L1182.1,245.8 L1183.1,245.9 L1183.6,245.9 L1184,245.8 L1185,246.2 L1186,246.5 L1187,246.8 L1187.9,247.1 L1188.9,247.4 L1189.9,247.7 L1190.9,247.8 L1191.8,247.8 L1192.8,247.8 L1192.8,248.4 L1191.8,248.4 L1190.9,248.4 L1189.9,248.5 L1188.9,248.8 L1187.9,249.1 L1187,249.4 L1186,249.7 L1185,250 L1184,250.4 L1183.6,250.3 L1183.1,250.3 L1182.1,250.4 L1181.1,250.5 L1180.2,250.5 L1179.3,250.6 L1179.2,250.6 L1178.2,250.5 L1177.2,250.4 L1176.3,250.4 L1175.4,250.3 L1175.3,250.6 L1174.3,250.4 L1173.4,250.2 L1172.4,250 L1171.4,249.8 L1170.4,249.6 L1169.5,249.4 L1168.5,249.3 L1167.5,249.1 L1166.5,249 L1165.6,248.8 L1164.6,248.7 L1163.6,248.6 L1162.7,248.5 L1161.7,248.4 L1160.7,248.4 L1159.7,248.4 L1158.8,248.4 L1157.8,248.4 Z" fill="#2d3a80" stroke="#2b2b2b" stroke-width="1.9" stroke-linejoin="round"/>
<rect x="1162.2" y="242.1" width="4.7" height="12" rx="2.4" ry="5" fill="#2d3a80" stroke="#2b2b2b" stroke-width="0.5"/>
<rect x="1175.4" y="229.1" width="8.2" height="38" fill="none" stroke="#2d3a80" stroke-width="1.8"/>
<line x1="1179.3" y1="229.1" x2="1179.3" y2="267.1" stroke="#2d3a80" stroke-width="1.8"/>
<path d="M944.2,289.3 L945.9,288 L947.5,285 L948.1,284.4 L949.2,284.1 L950.5,283.6 L950.8,283.7 L952.5,284.3 L952.8,284.4 L954.1,283.9 L955.8,284.2 L957.4,284.4 L959.1,284.7 L960.7,285 L962.4,285.3 L964,285.5 L965.7,285.8 L967.3,286 L969,286.3 L970.6,286.5 L972.2,286.7 L973.9,287 L975.6,287.2 L977.2,287.4 L978.9,287.6 L980.5,287.8 L982.1,288 L983.8,288.2 L985.5,288.4 L987.1,288.5 L988.8,288.7 L990.4,288.9 L992.1,289 L993.7,289.1 L995.4,289.3 L997,289.3 L998.6,289.3 L1000.3,289.3 L1002,289.3 L1003.6,289.3 L1003.6,289.9 L1002,289.9 L1000.3,289.9 L998.6,289.9 L997,289.9 L995.4,290 L993.7,290.2 L992.1,290.3 L990.4,290.4 L988.8,290.6 L987.1,290.8 L985.5,290.9 L983.8,291.1 L982.1,291.3 L980.5,291.5 L978.9,291.7 L977.2,291.9 L975.6,292.1 L973.9,292.3 L972.2,292.6 L970.6,292.8 L969,293 L967.3,293.3 L965.7,293.5 L964,293.8 L962.4,294 L960.7,294.3 L959.1,294.6 L957.4,294.9 L955.8,295.1 L954.1,295.4 L952.8,294.9 L952.5,295 L950.8,295.6 L950.5,295.6 L949.2,295.2 L948.1,294.9 L947.5,294.3 L945.9,291.3 L944.2,289.9 Z" fill="#c8202a" stroke="#2b2b2b" stroke-width="1.9" stroke-linejoin="round"/>
<rect x="963.2" y="283.6" width="23.3" height="12" rx="3.5" ry="5" fill="#c8202a" stroke="#2b2b2b" stroke-width="0.5"/>
<rect x="994.6" y="283.6" width="9" height="12" rx="3.5" ry="5" fill="#c8202a" stroke="#2b2b2b" stroke-width="0.5"/>
<rect x="948.1" y="270.6" width="4.7" height="38" fill="#c8202a" stroke="#c8202a" stroke-width="1.6"/>
<path d="M1092.3,289.3 L1094.1,289.3 L1095.8,289.3 L1097.6,289.3 L1099.3,289.3 L1101.1,289.2 L1102.9,289.1 L1104.6,288.9 L1106.4,288.8 L1108.2,288.6 L1109.9,288.4 L1111.7,288.2 L1112.5,288.3 L1113.4,288.3 L1115.2,288.3 L1117,288.2 L1118.7,288.2 L1119,288.1 L1120.5,288.2 L1122.2,288.2 L1124,288.3 L1125.8,288.3 L1127.3,288.3 L1127.5,288.2 L1129.3,288.3 L1131,288.4 L1132.8,288.6 L1134.6,288.7 L1136.3,288.8 L1138.1,288.9 L1139.8,289 L1141.6,289.1 L1143.4,289.2 L1145.1,289.3 L1146.9,289.3 L1148.7,289.3 L1150.4,289.3 L1152.2,289.3 L1153.9,289.3 L1155.7,289.3 L1155.7,289.9 L1153.9,289.9 L1152.2,289.9 L1150.4,289.9 L1148.7,289.9 L1146.9,289.9 L1145.1,290 L1143.4,290.1 L1141.6,290.2 L1139.8,290.3 L1138.1,290.4 L1136.3,290.5 L1134.6,290.6 L1132.8,290.7 L1131,290.9 L1129.3,291 L1127.5,291.1 L1127.3,291 L1125.8,291 L1124,291 L1122.2,291.1 L1120.5,291.1 L1119,291.1 L1118.7,291.1 L1117,291.1 L1115.2,291 L1113.4,291 L1112.5,291 L1111.7,291.1 L1109.9,290.9 L1108.2,290.7 L1106.4,290.5 L1104.6,290.4 L1102.9,290.2 L1101.1,290.1 L1099.3,290 L1097.6,289.9 L1095.8,289.9 L1094.1,289.9 L1092.3,289.9 Z" fill="#2d3a80" stroke="#2b2b2b" stroke-width="1.9" stroke-linejoin="round"/>
<rect x="1112.5" y="270.6" width="14.8" height="38" fill="none" stroke="#2d3a80" stroke-width="1.8"/>
<line x1="1119" y1="270.6" x2="1119" y2="308.6" stroke="#2d3a80" stroke-width="1.8"/>
<path d="M920.5,330.9 L922.6,330.9 L924.7,330.9 L926.8,330.9 L929,330.8 L931.1,330.7 L933.2,330.5 L935.3,330.3 L937.4,330.1 L939.5,329.9 L941.6,329.7 L943.8,329.5 L945.9,329.2 L948,329 L950.1,328.7 L952.2,328.5 L954.2,328.6 L954.3,328.6 L956.4,328.4 L958.5,328.3 L960.7,328.2 L961.2,328.2 L962.8,328.3 L964.9,328.4 L967,328.5 L968.2,328.6 L969.1,328.3 L971.2,328.7 L973.3,329 L975.5,329.3 L977.6,329.6 L979.7,329.8 L981.8,330.1 L983.9,330.3 L986,330.5 L988.1,330.7 L990.3,330.9 L992.4,330.9 L994.5,330.9 L996.6,330.9 L996.6,331.5 L994.5,331.5 L992.4,331.5 L990.3,331.5 L988.1,331.7 L986,331.9 L983.9,332.1 L981.8,332.3 L979.7,332.6 L977.6,332.8 L975.5,333.1 L973.3,333.4 L971.2,333.7 L969.1,334.1 L968.2,333.8 L967,333.9 L964.9,334 L962.8,334.1 L961.2,334.2 L960.7,334.2 L958.5,334.1 L956.4,334 L954.3,333.8 L954.2,333.8 L952.2,333.9 L950.1,333.7 L948,333.4 L945.9,333.2 L943.8,332.9 L941.6,332.7 L939.5,332.5 L937.4,332.3 L935.3,332.1 L933.2,331.9 L931.1,331.7 L929,331.6 L926.8,331.5 L924.7,331.5 L922.6,331.5 L920.5,331.5 Z" fill="#c8202a" stroke="#2b2b2b" stroke-width="1.9" stroke-linejoin="round"/>
<rect x="925.1" y="325.2" width="12.5" height="12" rx="3.5" ry="5" fill="#c8202a" stroke="#2b2b2b" stroke-width="0.5"/>
<rect x="986.8" y="325.2" width="4.7" height="12" rx="2.4" ry="5" fill="#c8202a" stroke="#2b2b2b" stroke-width="0.5"/>
<rect x="954.2" y="312.2" width="14" height="38" fill="none" stroke="#c8202a" stroke-width="1.8"/>
<line x1="961.2" y1="312.2" x2="961.2" y2="350.2" stroke="#c8202a" stroke-width="1.8"/>
<path d="M1135.5,330.9 L1139.3,330.9 L1143.1,330.9 L1146.9,330.9 L1150.7,330.9 L1154.5,330.9 L1158.2,330.8 L1162,330.7 L1165.8,330.6 L1169.6,330.5 L1173.4,330.3 L1177.1,330.3 L1177.2,330.3 L1181,330.3 L1184.8,330.3 L1188.6,330.2 L1192.4,330.2 L1196,330.2 L1196.2,330.2 L1200,330.2 L1203.8,330.2 L1207.5,330.3 L1211.3,330.3 L1214.7,330.3 L1215.1,330.2 L1218.9,330.3 L1222.7,330.4 L1226.5,330.5 L1230.3,330.6 L1234.1,330.7 L1237.9,330.7 L1241.7,330.8 L1245.5,330.9 L1249.2,330.9 L1253,330.9 L1256.8,330.9 L1260.6,330.9 L1264.4,330.9 L1268.2,330.9 L1272,330.9 L1272,331.5 L1268.2,331.5 L1264.4,331.5 L1260.6,331.5 L1256.8,331.5 L1253,331.5 L1249.2,331.5 L1245.5,331.5 L1241.7,331.6 L1237.9,331.7 L1234.1,331.7 L1230.3,331.8 L1226.5,331.9 L1222.7,332 L1218.9,332.1 L1215.1,332.2 L1214.7,332.1 L1211.3,332.1 L1207.5,332.1 L1203.8,332.2 L1200,332.2 L1196.2,332.2 L1196,332.2 L1192.4,332.2 L1188.6,332.2 L1184.8,332.1 L1181,332.1 L1177.2,332.1 L1177.1,332.1 L1173.4,332.1 L1169.6,331.9 L1165.8,331.8 L1162,331.7 L1158.2,331.6 L1154.5,331.5 L1150.7,331.5 L1146.9,331.5 L1143.1,331.5 L1139.3,331.5 L1135.5,331.5 Z" fill="#2d3a80" stroke="#2b2b2b" stroke-width="1.9" stroke-linejoin="round"/>
<rect x="1177.1" y="312.2" width="37.6" height="38" fill="none" stroke="#2d3a80" stroke-width="1.8"/>
<line x1="1196" y1="312.2" x2="1196" y2="350.2" stroke="#2d3a80" stroke-width="1.8"/>
<path d="M938,372.4 L939,372.4 L940,372.4 L941,372.3 L942,372.1 L943,371.8 L944,371.6 L945,371.3 L946,370.9 L947,370.6 L948,370.2 L949,369.8 L950,369.4 L951,369 L952,368.5 L953,368.1 L954,367.6 L955,367.1 L955.7,367.5 L956,367.4 L957,367.2 L958,367 L959,366.8 L960,366.9 L961,367.1 L962,367.3 L962.9,367.5 L963,366.8 L964,367.6 L965,368.4 L966,369.1 L967,369.7 L968,370.4 L969,370.9 L970,371.5 L971,371.9 L972,372.3 L973,372.4 L974,372.4 L974,373.1 L973,373.1 L972,373.2 L971,373.6 L970,374 L969,374.6 L968,375.1 L967,375.8 L966,376.4 L965,377.1 L964,377.9 L963,378.7 L962.9,378 L962,378.2 L961,378.4 L960,378.6 L959,378.8 L958,378.5 L957,378.3 L956,378.1 L955.7,378 L955,378.4 L954,377.9 L953,377.4 L952,377 L951,376.5 L950,376.1 L949,375.7 L948,375.3 L947,374.9 L946,374.6 L945,374.2 L944,373.9 L943,373.7 L942,373.4 L941,373.2 L940,373.1 L939,373.1 L938,373.1 Z" fill="#c8202a" stroke="#2b2b2b" stroke-width="1.9" stroke-linejoin="round"/>
<rect x="941.1" y="366.8" width="4.7" height="12" rx="2.3" ry="5" fill="#c8202a" stroke="#2b2b2b" stroke-width="0.5"/>
<rect x="955.7" y="353.8" width="7.2" height="38" fill="none" stroke="#c8202a" stroke-width="1.8"/>
<line x1="959" y1="353.8" x2="959" y2="391.8" stroke="#c8202a" stroke-width="1.8"/>
<path d="M1151.6,372.4 L1153.6,372.4 L1155.6,372.4 L1157.5,372.4 L1159.5,372.4 L1161.5,372.3 L1163.5,372.1 L1165.4,371.9 L1167.4,371.7 L1169.4,371.5 L1171.4,371.3 L1173.4,371.1 L1175.3,370.9 L1176.6,371 L1177.3,371 L1179.3,370.9 L1181.3,370.9 L1183.2,370.8 L1184.7,370.8 L1185.2,370.8 L1187.2,370.8 L1189.2,370.9 L1191.2,370.9 L1193.1,371 L1193.6,371 L1195.1,370.9 L1197.1,371.1 L1199.1,371.3 L1201,371.5 L1203,371.6 L1205,371.8 L1207,372 L1209,372.1 L1210.9,372.2 L1212.9,372.4 L1214.9,372.4 L1216.9,372.4 L1218.8,372.4 L1220.8,372.4 L1222.8,372.4 L1222.8,373.1 L1220.8,373.1 L1218.8,373.1 L1216.9,373.1 L1214.9,373.1 L1212.9,373.1 L1210.9,373.3 L1209,373.4 L1207,373.5 L1205,373.7 L1203,373.9 L1201,374 L1199.1,374.2 L1197.1,374.4 L1195.1,374.6 L1193.6,374.5 L1193.1,374.5 L1191.2,374.6 L1189.2,374.6 L1187.2,374.7 L1185.2,374.7 L1184.7,374.8 L1183.2,374.7 L1181.3,374.6 L1179.3,374.6 L1177.3,374.5 L1176.6,374.5 L1175.3,374.6 L1173.4,374.4 L1171.4,374.2 L1169.4,374 L1167.4,373.8 L1165.4,373.6 L1163.5,373.4 L1161.5,373.2 L1159.5,373.1 L1157.5,373.1 L1155.6,373.1 L1153.6,373.1 L1151.6,373.1 Z" fill="#2d3a80" stroke="#2b2b2b" stroke-width="1.9" stroke-linejoin="round"/>
<rect x="1176.6" y="353.8" width="17" height="38" fill="none" stroke="#2d3a80" stroke-width="1.8"/>
<line x1="1184.7" y1="353.8" x2="1184.7" y2="391.8" stroke="#2d3a80" stroke-width="1.8"/>
<path d="M946.1,414 L949.1,414 L952,414 L955,414 L958,414 L960.9,414 L963.9,413.8 L966.9,413.7 L969.8,413.6 L972.8,413.5 L975.8,413.3 L978.7,413.2 L981.7,413 L984.7,412.9 L987.6,412.7 L990.6,412.5 L993.6,412.3 L996.5,412.1 L999.5,412 L1002.5,411.8 L1005.4,411.6 L1008.4,411.3 L1009,411.7 L1011.4,411.5 L1014.3,411.4 L1016,411.3 L1017.3,411.4 L1020.3,411.5 L1023.2,411.6 L1024.5,411.7 L1026.2,411.6 L1029.2,412 L1032.1,412.4 L1035.1,412.8 L1038.1,413.2 L1041,413.5 L1044,413.8 L1047,414 L1049.9,414 L1052.9,414 L1052.9,414.6 L1049.9,414.6 L1047,414.6 L1044,414.8 L1041,415.1 L1038.1,415.4 L1035.1,415.8 L1032.1,416.2 L1029.2,416.6 L1026.2,417 L1024.5,416.9 L1023.2,417 L1020.3,417.1 L1017.3,417.2 L1016,417.3 L1014.3,417.2 L1011.4,417.1 L1009,416.9 L1008.4,417.3 L1005.4,417 L1002.5,416.8 L999.5,416.6 L996.5,416.5 L993.6,416.3 L990.6,416.1 L987.6,415.9 L984.7,415.7 L981.7,415.6 L978.7,415.4 L975.8,415.3 L972.8,415.1 L969.8,415 L966.9,414.9 L963.9,414.8 L960.9,414.6 L958,414.6 L955,414.6 L952,414.6 L949.1,414.6 L946.1,414.6 Z" fill="#c8202a" stroke="#2b2b2b" stroke-width="1.9" stroke-linejoin="round"/>
<rect x="952.3" y="408.3" width="38.1" height="12" rx="3.5" ry="5" fill="#c8202a" stroke="#2b2b2b" stroke-width="0.5"/>
<rect x="1009" y="395.3" width="15.5" height="38" fill="none" stroke="#c8202a" stroke-width="1.8"/>
<line x1="1016" y1="395.3" x2="1016" y2="433.3" stroke="#c8202a" stroke-width="1.8"/>
<path d="M1165.6,414 L1167.7,414 L1169.8,414 L1171.9,414 L1174,414 L1176.1,413.9 L1178.2,413.8 L1180.3,413.7 L1182.4,413.6 L1184.5,413.4 L1186.7,413.3 L1188.8,413.1 L1190.9,413 L1193,412.8 L1193,413 L1195.1,412.9 L1197.2,412.9 L1199.3,412.9 L1201.4,412.8 L1201.8,412.8 L1203.5,412.8 L1205.6,412.9 L1207.7,413 L1208.8,413 L1209.8,412.9 L1211.9,413 L1214,413.1 L1216.1,413.3 L1218.2,413.4 L1220.3,413.5 L1222.5,413.6 L1224.6,413.7 L1226.7,413.8 L1228.8,413.9 L1230.9,414 L1233,414 L1235.1,414 L1237.2,414 L1239.3,414 L1241.4,414 L1241.4,414.6 L1239.3,414.6 L1237.2,414.6 L1235.1,414.6 L1233,414.6 L1230.9,414.6 L1228.8,414.7 L1226.7,414.8 L1224.6,414.9 L1222.5,415 L1220.3,415.1 L1218.2,415.2 L1216.1,415.3 L1214,415.5 L1211.9,415.6 L1209.8,415.7 L1208.8,415.6 L1207.7,415.6 L1205.6,415.7 L1203.5,415.8 L1201.8,415.8 L1201.4,415.8 L1199.3,415.7 L1197.2,415.7 L1195.1,415.7 L1193,415.6 L1193,415.8 L1190.9,415.6 L1188.8,415.5 L1186.7,415.3 L1184.5,415.2 L1182.4,415 L1180.3,414.9 L1178.2,414.8 L1176.1,414.7 L1174,414.6 L1171.9,414.6 L1169.8,414.6 L1167.7,414.6 L1165.6,414.6 Z" fill="#2d3a80" stroke="#2b2b2b" stroke-width="1.9" stroke-linejoin="round"/>
<rect x="1229" y="408.3" width="7" height="12" rx="3.5" ry="5" fill="#2d3a80" stroke="#2b2b2b" stroke-width="0.5"/>
<rect x="1193" y="395.3" width="15.8" height="38" fill="none" stroke="#2d3a80" stroke-width="1.8"/>
<line x1="1201.8" y1="395.3" x2="1201.8" y2="433.3" stroke="#2d3a80" stroke-width="1.8"/>
<path d="M993.5,455.6 L995,455.6 L996.6,455.6 L998.1,455.5 L999.7,455.3 L1001.2,455.1 L1002.7,454.9 L1004.3,454.6 L1005.8,454.4 L1007.4,454.1 L1008.9,453.8 L1010.4,453.5 L1012,453.1 L1013.3,453.2 L1013.5,453.2 L1015,453.1 L1016.6,453 L1018.1,452.9 L1018.8,452.9 L1019.7,452.9 L1021.2,453 L1022.7,453.1 L1024.3,453.2 L1024.5,453.2 L1025.8,453.1 L1027.4,453.4 L1028.9,453.6 L1030.4,453.9 L1032,454.1 L1033.5,454.3 L1035.1,454.6 L1036.6,454.8 L1038.1,455 L1039.7,455.2 L1041.2,455.3 L1042.7,455.5 L1044.3,455.6 L1045.8,455.6 L1047.4,455.6 L1048.9,455.6 L1048.9,456.2 L1047.4,456.2 L1045.8,456.2 L1044.3,456.2 L1042.7,456.2 L1041.2,456.4 L1039.7,456.5 L1038.1,456.7 L1036.6,456.9 L1035.1,457.1 L1033.5,457.4 L1032,457.6 L1030.4,457.8 L1028.9,458.1 L1027.4,458.3 L1025.8,458.6 L1024.5,458.5 L1024.3,458.5 L1022.7,458.6 L1021.2,458.7 L1019.7,458.8 L1018.8,458.9 L1018.1,458.8 L1016.6,458.7 L1015,458.6 L1013.5,458.5 L1013.3,458.5 L1012,458.6 L1010.4,458.2 L1008.9,457.9 L1007.4,457.6 L1005.8,457.3 L1004.3,457.1 L1002.7,456.8 L1001.2,456.6 L999.7,456.4 L998.1,456.2 L996.6,456.2 L995,456.2 L993.5,456.2 Z" fill="#c8202a" stroke="#2b2b2b" stroke-width="1.9" stroke-linejoin="round"/>
<rect x="1039.7" y="449.9" width="4.7" height="12" rx="2.4" ry="5" fill="#c8202a" stroke="#2b2b2b" stroke-width="0.5"/>
<rect x="1013.3" y="436.9" width="11.2" height="38" fill="none" stroke="#c8202a" stroke-width="1.8"/>
<line x1="1018.8" y1="436.9" x2="1018.8" y2="474.9" stroke="#c8202a" stroke-width="1.8"/>
<path d="M1145.1,455.6 L1147.3,455.6 L1149.5,455.6 L1151.7,455.6 L1153.9,455.5 L1156.1,455.3 L1158.3,455.1 L1160.6,455 L1162.8,454.8 L1165,454.5 L1166.9,454.5 L1167.2,454.5 L1169.4,454.5 L1171.6,454.4 L1173.8,454.4 L1175.4,454.4 L1176,454.4 L1178.2,454.4 L1180.4,454.4 L1182.6,454.5 L1184.7,454.5 L1184.8,454.4 L1187.1,454.5 L1189.3,454.6 L1191.5,454.7 L1193.7,454.8 L1195.9,454.9 L1198.1,455 L1200.3,455.1 L1202.5,455.2 L1204.7,455.3 L1206.9,455.4 L1209.1,455.5 L1211.3,455.6 L1213.6,455.6 L1215.8,455.6 L1218,455.6 L1220.2,455.6 L1222.4,455.6 L1224.6,455.6 L1224.6,456.2 L1222.4,456.2 L1220.2,456.2 L1218,456.2 L1215.8,456.2 L1213.6,456.2 L1211.3,456.2 L1209.1,456.2 L1206.9,456.3 L1204.7,456.4 L1202.5,456.5 L1200.3,456.6 L1198.1,456.7 L1195.9,456.8 L1193.7,456.9 L1191.5,457 L1189.3,457.1 L1187.1,457.2 L1184.8,457.3 L1184.7,457.2 L1182.6,457.2 L1180.4,457.3 L1178.2,457.3 L1176,457.3 L1175.4,457.4 L1173.8,457.3 L1171.6,457.3 L1169.4,457.2 L1167.2,457.2 L1166.9,457.2 L1165,457.2 L1162.8,456.9 L1160.6,456.7 L1158.3,456.6 L1156.1,456.4 L1153.9,456.2 L1151.7,456.2 L1149.5,456.2 L1147.3,456.2 L1145.1,456.2 Z" fill="#2d3a80" stroke="#2b2b2b" stroke-width="1.9" stroke-linejoin="round"/>
<rect x="1211.6" y="449.9" width="4.9" height="12" rx="2.5" ry="5" fill="#2d3a80" stroke="#2b2b2b" stroke-width="0.5"/>
<rect x="1166.9" y="436.9" width="17.8" height="38" fill="none" stroke="#2d3a80" stroke-width="1.8"/>
<line x1="1175.4" y1="436.9" x2="1175.4" y2="474.9" stroke="#2d3a80" stroke-width="1.8"/>
<path d="M1017.5,497.1 L1019,497.1 L1020.6,497.1 L1022.1,497.1 L1023.6,496.9 L1025.2,496.8 L1026.7,496.6 L1028.2,496.3 L1029.8,496.1 L1031.3,495.9 L1032.8,495.6 L1034.4,495.3 L1035.9,495 L1037.4,494.7 L1039,494.4 L1040.5,494.1 L1042,493.8 L1043.6,493.4 L1045.1,493.1 L1046.6,492.7 L1048.2,492.3 L1049.7,491.9 L1051.2,491.5 L1051.7,492.1 L1052.8,491.9 L1054.3,491.5 L1054.6,491.4 L1055.8,491.7 L1057.4,492.1 L1057.6,492.1 L1058.9,492.2 L1060.4,493 L1062,493.8 L1063.5,494.5 L1065,495.2 L1066.6,495.8 L1068.1,496.4 L1069.6,496.9 L1071.2,497.1 L1072.7,497.1 L1072.7,497.7 L1071.2,497.7 L1069.6,497.9 L1068.1,498.4 L1066.6,499 L1065,499.6 L1063.5,500.3 L1062,501 L1060.4,501.8 L1058.9,502.6 L1057.6,502.7 L1057.4,502.7 L1055.8,503.1 L1054.6,503.4 L1054.3,503.3 L1052.8,502.9 L1051.7,502.7 L1051.2,503.3 L1049.7,502.9 L1048.2,502.5 L1046.6,502.1 L1045.1,501.7 L1043.6,501.4 L1042,501 L1040.5,500.7 L1039,500.4 L1037.4,500.1 L1035.9,499.8 L1034.4,499.5 L1032.8,499.2 L1031.3,498.9 L1029.8,498.7 L1028.2,498.5 L1026.7,498.2 L1025.2,498 L1023.6,497.9 L1022.1,497.7 L1020.6,497.7 L1019,497.7 L1017.5,497.7 Z" fill="#c8202a" stroke="#2b2b2b" stroke-width="1.9" stroke-linejoin="round"/>
<rect x="1017.9" y="491.4" width="5.1" height="12" rx="2.6" ry="5" fill="#c8202a" stroke="#2b2b2b" stroke-width="0.5"/>
<rect x="1023.8" y="491.4" width="5.4" height="12" rx="2.7" ry="5" fill="#c8202a" stroke="#2b2b2b" stroke-width="0.5"/>
<rect x="1035" y="491.4" width="12.8" height="12" rx="3.5" ry="5" fill="#c8202a" stroke="#2b2b2b" stroke-width="0.5"/>
<rect x="1061" y="491.4" width="11.2" height="12" rx="3.5" ry="5" fill="#c8202a" stroke="#2b2b2b" stroke-width="0.5"/>
<rect x="1051.7" y="478.4" width="5.9" height="38" fill="none" stroke="#c8202a" stroke-width="1.8"/>
<line x1="1054.6" y1="478.4" x2="1054.6" y2="516.4" stroke="#c8202a" stroke-width="1.8"/>
<path d="M1168.4,497.1 L1171.4,497.1 L1174.3,497.1 L1177.3,497.1 L1180.2,497.1 L1183.2,497.1 L1186.1,497.1 L1189.1,497 L1192,496.9 L1195,496.8 L1198,496.7 L1200.9,496.6 L1203.9,496.4 L1206.8,496.3 L1209.8,496.2 L1212.7,496.1 L1215.7,495.9 L1216.2,496.1 L1218.6,496 L1221.6,496 L1224.6,496 L1227.5,495.9 L1229,495.9 L1230.5,495.9 L1233.4,496 L1236.4,496 L1239.3,496 L1242.2,496.1 L1242.3,495.9 L1245.2,496.1 L1248.2,496.3 L1251.2,496.5 L1254.1,496.6 L1257.1,496.8 L1260,496.9 L1263,497.1 L1265.9,497.1 L1268.9,497.1 L1271.8,497.1 L1274.8,497.1 L1274.8,497.7 L1271.8,497.7 L1268.9,497.7 L1265.9,497.7 L1263,497.7 L1260,497.9 L1257.1,498 L1254.1,498.2 L1251.2,498.3 L1248.2,498.5 L1245.2,498.7 L1242.3,498.9 L1242.2,498.7 L1239.3,498.8 L1236.4,498.8 L1233.4,498.8 L1230.5,498.9 L1229,498.9 L1227.5,498.9 L1224.6,498.8 L1221.6,498.8 L1218.6,498.8 L1216.2,498.7 L1215.7,498.9 L1212.7,498.7 L1209.8,498.6 L1206.8,498.5 L1203.9,498.4 L1200.9,498.2 L1198,498.1 L1195,498 L1192,497.9 L1189.1,497.8 L1186.1,497.7 L1183.2,497.7 L1180.2,497.7 L1177.3,497.7 L1174.3,497.7 L1171.4,497.7 L1168.4,497.7 Z" fill="#2d3a80" stroke="#2b2b2b" stroke-width="1.9" stroke-linejoin="round"/>
<rect x="1216.2" y="478.4" width="26" height="38" fill="none" stroke="#2d3a80" stroke-width="1.8"/>
<line x1="1229" y1="478.4" x2="1229" y2="516.4" stroke="#2d3a80" stroke-width="1.8"/>
<path d="M932.4,538.6 L933.4,538.6 L934.4,538.6 L935.4,538.5 L936.4,538.2 L937.4,537.9 L938.4,537.6 L939.4,537.3 L940.4,536.9 L941.5,536.5 L942.5,536.1 L943.5,535.6 L944.5,535.2 L945.5,534.7 L946.5,534.2 L946.9,534.5 L947.5,534.5 L948.5,534.3 L949.5,534.1 L950.5,533.9 L951.5,534.1 L952.5,534.2 L953.5,534.4 L954.5,534.5 L954.7,534.5 L955.5,534.4 L956.5,534.9 L957.5,535.4 L958.5,535.9 L959.5,536.3 L960.6,536.7 L961.6,537.1 L962.6,537.5 L963.6,537.9 L964.6,538.2 L965.6,538.4 L966.6,538.6 L967.6,538.6 L968.6,538.6 L968.6,539.2 L967.6,539.2 L966.6,539.2 L965.6,539.5 L964.6,539.7 L963.6,540 L962.6,540.4 L961.6,540.8 L960.6,541.2 L959.5,541.6 L958.5,542 L957.5,542.5 L956.5,543 L955.5,543.5 L954.7,543.3 L954.5,543.4 L953.5,543.5 L952.5,543.7 L951.5,543.8 L950.5,543.9 L949.5,543.8 L948.5,543.6 L947.5,543.4 L946.9,543.3 L946.5,543.7 L945.5,543.2 L944.5,542.7 L943.5,542.3 L942.5,541.8 L941.5,541.4 L940.4,541 L939.4,540.6 L938.4,540.3 L937.4,540 L936.4,539.7 L935.4,539.4 L934.4,539.2 L933.4,539.2 L932.4,539.2 Z" fill="#c8202a" stroke="#2b2b2b" stroke-width="1.9" stroke-linejoin="round"/>
<rect x="934.9" y="532.9" width="5" height="12" rx="2.5" ry="5" fill="#c8202a" stroke="#2b2b2b" stroke-width="0.5"/>
<rect x="946.9" y="519.9" width="7.8" height="38" fill="none" stroke="#c8202a" stroke-width="1.8"/>
<line x1="950.5" y1="519.9" x2="950.5" y2="557.9" stroke="#c8202a" stroke-width="1.8"/>
<path d="M1152.9,538.6 L1155.5,538.6 L1158,538.6 L1160.6,538.6 L1163.1,538.5 L1165.7,538.4 L1168.2,538.2 L1170.8,538 L1173.3,537.7 L1175.9,537.5 L1176.5,537.6 L1178.4,537.6 L1181,537.5 L1183.5,537.5 L1184.2,537.4 L1186.1,537.5 L1188.6,537.5 L1191.2,537.6 L1193.7,537.6 L1195.9,537.6 L1196.3,537.5 L1198.8,537.6 L1201.4,537.7 L1204,537.8 L1206.5,537.9 L1209.1,538 L1211.6,538.1 L1214.2,538.2 L1216.7,538.3 L1219.3,538.4 L1221.8,538.5 L1224.4,538.5 L1226.9,538.6 L1229.5,538.6 L1232,538.6 L1234.6,538.6 L1237.1,538.6 L1239.7,538.6 L1242.2,538.6 L1244.8,538.6 L1244.8,539.2 L1242.2,539.2 L1239.7,539.2 L1237.1,539.2 L1234.6,539.2 L1232,539.2 L1229.5,539.2 L1226.9,539.3 L1224.4,539.4 L1221.8,539.4 L1219.3,539.5 L1216.7,539.6 L1214.2,539.7 L1211.6,539.8 L1209.1,539.9 L1206.5,540 L1204,540.1 L1201.4,540.2 L1198.8,540.3 L1196.3,540.4 L1195.9,540.3 L1193.7,540.3 L1191.2,540.3 L1188.6,540.4 L1186.1,540.4 L1184.2,540.4 L1183.5,540.4 L1181,540.4 L1178.4,540.3 L1176.5,540.3 L1175.9,540.4 L1173.3,540.2 L1170.8,539.9 L1168.2,539.7 L1165.7,539.5 L1163.1,539.4 L1160.6,539.2 L1158,539.2 L1155.5,539.2 L1152.9,539.2 Z" fill="#2d3a80" stroke="#2b2b2b" stroke-width="1.9" stroke-linejoin="round"/>
<rect x="1222" y="532.9" width="11.6" height="12" rx="3.5" ry="5" fill="#2d3a80" stroke="#2b2b2b" stroke-width="0.5"/>
<rect x="1176.5" y="519.9" width="19.4" height="38" fill="none" stroke="#2d3a80" stroke-width="1.8"/>
<line x1="1184.2" y1="519.9" x2="1184.2" y2="557.9" stroke="#2d3a80" stroke-width="1.8"/>
<path d="M1032.8,580.2 L1033.3,580.2 L1033.7,580.2 L1034.2,580 L1034.6,579.8 L1035.1,579.5 L1035.6,579.2 L1036,578.9 L1036.5,578.5 L1037,578.1 L1037.4,577.7 L1037.9,577.3 L1038.3,576.8 L1038.8,576.4 L1039.3,575.9 L1039.7,575.4 L1040.2,574.9 L1040.5,575.2 L1040.6,575.2 L1041.1,575 L1041.6,574.9 L1042,574.7 L1042.5,574.5 L1042.6,574.5 L1042.9,574.6 L1043.4,574.8 L1043.9,574.9 L1044.3,575.1 L1044.7,575.2 L1044.8,574.7 L1045.2,575.5 L1045.7,576.3 L1046.2,577.1 L1046.6,577.8 L1047.1,578.4 L1047.6,579 L1048,579.5 L1048.5,580 L1048.9,580.2 L1049.4,580.2 L1049.4,580.8 L1048.9,580.8 L1048.5,581 L1048,581.5 L1047.6,582 L1047.1,582.6 L1046.6,583.2 L1046.2,583.9 L1045.7,584.7 L1045.2,585.5 L1044.8,586.3 L1044.7,585.8 L1044.3,585.9 L1043.9,586.1 L1043.4,586.2 L1042.9,586.4 L1042.6,586.5 L1042.5,586.5 L1042,586.3 L1041.6,586.1 L1041.1,586 L1040.6,585.8 L1040.5,585.8 L1040.2,586.1 L1039.7,585.6 L1039.3,585.1 L1038.8,584.6 L1038.3,584.2 L1037.9,583.7 L1037.4,583.3 L1037,582.9 L1036.5,582.5 L1036,582.1 L1035.6,581.8 L1035.1,581.5 L1034.6,581.2 L1034.2,581 L1033.7,580.8 L1033.3,580.8 L1032.8,580.8 Z" fill="#c8202a" stroke="#2b2b2b" stroke-width="1.9" stroke-linejoin="round"/>
<rect x="1032.8" y="574.5" width="6.5" height="12" rx="3.2" ry="5" fill="#c8202a" stroke="#2b2b2b" stroke-width="0.5"/>
<rect x="1040.5" y="561.5" width="4.2" height="38" fill="#c8202a" stroke="#c8202a" stroke-width="1.6"/>
<path d="M1180.4,580.2 L1182.1,580.2 L1183.8,580.2 L1185.5,580.2 L1187.1,580.2 L1188.8,580.2 L1190.5,580.2 L1192.2,580.1 L1193.9,580 L1195.6,579.9 L1197.2,579.8 L1198.9,579.7 L1200.6,579.6 L1202.3,579.5 L1204,579.3 L1205.7,579.2 L1207.3,579.1 L1208.5,579.2 L1209,579.2 L1210.7,579.1 L1212.4,579.1 L1214.1,579 L1214.7,579 L1215.8,579 L1217.4,579.1 L1219.1,579.1 L1220.8,579.2 L1222,579.2 L1222.5,579.1 L1224.2,579.2 L1225.8,579.4 L1227.5,579.6 L1229.2,579.8 L1230.9,579.9 L1232.6,580.1 L1234.3,580.2 L1236,580.2 L1237.6,580.2 L1239.3,580.2 L1241,580.2 L1241,580.8 L1239.3,580.8 L1237.6,580.8 L1236,580.8 L1234.3,580.8 L1232.6,580.9 L1230.9,581.1 L1229.2,581.2 L1227.5,581.4 L1225.8,581.6 L1224.2,581.8 L1222.5,581.9 L1222,581.8 L1220.8,581.8 L1219.1,581.9 L1217.4,581.9 L1215.8,582 L1214.7,582 L1214.1,582 L1212.4,581.9 L1210.7,581.9 L1209,581.8 L1208.5,581.8 L1207.3,581.9 L1205.7,581.8 L1204,581.7 L1202.3,581.5 L1200.6,581.4 L1198.9,581.3 L1197.2,581.2 L1195.6,581.1 L1193.9,581 L1192.2,580.9 L1190.5,580.8 L1188.8,580.8 L1187.1,580.8 L1185.5,580.8 L1183.8,580.8 L1182.1,580.8 L1180.4,580.8 Z" fill="#2d3a80" stroke="#2b2b2b" stroke-width="1.9" stroke-linejoin="round"/>
<rect x="1208.5" y="561.5" width="13.5" height="38" fill="none" stroke="#2d3a80" stroke-width="1.8"/>
<line x1="1214.7" y1="561.5" x2="1214.7" y2="599.5" stroke="#2d3a80" stroke-width="1.8"/>
<path d="M1002,621.8 L1004,621.8 L1006.1,621.8 L1008.1,621.8 L1010.2,621.7 L1012.2,621.5 L1014.3,621.3 L1016.4,621.2 L1018.4,621 L1020.5,620.8 L1022.5,620.5 L1024.5,620.3 L1026.6,620.1 L1028.7,619.8 L1030.7,619.8 L1032.8,619.8 L1034.8,619.7 L1036.8,619.7 L1038.9,619.6 L1040.8,619.5 L1041,619.6 L1043,619.6 L1045,619.7 L1047.1,619.8 L1049.1,619.8 L1049.4,619.8 L1051.2,619.8 L1053.2,620.1 L1055.3,620.3 L1057.3,620.6 L1059.4,620.8 L1061.5,621 L1063.5,621.3 L1065.5,621.4 L1067.6,621.6 L1069.6,621.8 L1071.7,621.8 L1073.8,621.8 L1075.8,621.8 L1075.8,622.3 L1073.8,622.3 L1071.7,622.3 L1069.6,622.3 L1067.6,622.5 L1065.5,622.7 L1063.5,622.8 L1061.5,623.1 L1059.4,623.3 L1057.3,623.5 L1055.3,623.8 L1053.2,624 L1051.2,624.3 L1049.4,624.2 L1049.1,624.3 L1047.1,624.3 L1045,624.4 L1043,624.5 L1041,624.5 L1040.8,624.5 L1038.9,624.5 L1036.8,624.4 L1034.8,624.4 L1032.8,624.3 L1030.7,624.2 L1028.7,624.3 L1026.6,624 L1024.5,623.8 L1022.5,623.6 L1020.5,623.3 L1018.4,623.1 L1016.4,622.9 L1014.3,622.8 L1012.2,622.6 L1010.2,622.4 L1008.1,622.3 L1006.1,622.3 L1004,622.3 L1002,622.3 Z" fill="#c8202a" stroke="#2b2b2b" stroke-width="1.9" stroke-linejoin="round"/>
<rect x="1030.7" y="603" width="18.7" height="38" fill="none" stroke="#c8202a" stroke-width="1.8"/>
<line x1="1040.8" y1="603" x2="1040.8" y2="641" stroke="#c8202a" stroke-width="1.8"/>
<path d="M1177.3,621.8 L1179.3,621.8 L1181.2,621.8 L1183.2,621.8 L1185.2,621.8 L1187.2,621.8 L1189.2,621.8 L1191.1,621.7 L1193.1,621.7 L1195.1,621.6 L1197,621.5 L1199,621.5 L1201,621.4 L1203,621.3 L1205,621.2 L1206.9,621.1 L1208.9,621 L1210.9,620.9 L1212.8,620.8 L1214.8,620.7 L1216.8,620.6 L1217.6,620.7 L1218.8,620.7 L1220.8,620.7 L1222.7,620.6 L1224.7,620.6 L1226.7,620.6 L1227.9,620.5 L1228.7,620.6 L1230.6,620.7 L1232.4,620.7 L1232.6,620.6 L1234.6,620.8 L1236.6,621.1 L1238.5,621.3 L1240.5,621.5 L1242.5,621.7 L1244.5,621.8 L1246.4,621.8 L1248.4,621.8 L1248.4,622.3 L1246.4,622.3 L1244.5,622.3 L1242.5,622.4 L1240.5,622.6 L1238.5,622.8 L1236.6,623 L1234.6,623.3 L1232.6,623.5 L1232.4,623.4 L1230.6,623.4 L1228.7,623.5 L1227.9,623.5 L1226.7,623.5 L1224.7,623.5 L1222.7,623.5 L1220.8,623.4 L1218.8,623.4 L1217.6,623.4 L1216.8,623.5 L1214.8,623.4 L1212.8,623.3 L1210.9,623.2 L1208.9,623.1 L1206.9,623 L1205,622.9 L1203,622.8 L1201,622.7 L1199,622.6 L1197,622.6 L1195.1,622.5 L1193.1,622.4 L1191.1,622.4 L1189.2,622.3 L1187.2,622.3 L1185.2,622.3 L1183.2,622.3 L1181.2,622.3 L1179.3,622.3 L1177.3,622.3 Z" fill="#2d3a80" stroke="#2b2b2b" stroke-width="1.9" stroke-linejoin="round"/>
<rect x="1187" y="616" width="4.7" height="12" rx="2.4" ry="5" fill="#2d3a80" stroke="#2b2b2b" stroke-width="0.5"/>
<rect x="1217.6" y="603" width="14.8" height="38" fill="none" stroke="#2d3a80" stroke-width="1.8"/>
<line x1="1227.9" y1="603" x2="1227.9" y2="641" stroke="#2d3a80" stroke-width="1.8"/>
<path d="M997.7,663.3 L999.1,663.3 L1000.4,663.3 L1001.8,663.3 L1003.1,663.1 L1004.5,662.9 L1005.9,662.6 L1007.2,662.4 L1008.6,662.1 L1010,661.8 L1011.3,661.5 L1012.7,661.2 L1014,660.9 L1015.4,660.5 L1016.8,660.2 L1017,660.5 L1018.1,660.4 L1019.5,660.2 L1020.6,660.1 L1020.8,660.1 L1022.2,660.2 L1023.6,660.3 L1024.9,660.3 L1026.3,660.4 L1027.6,660.5 L1028.4,660.5 L1029,660.3 L1030.4,660.6 L1031.7,661 L1033.1,661.4 L1034.5,661.7 L1035.8,662 L1037.2,662.3 L1038.5,662.6 L1039.9,662.8 L1041.3,663 L1042.6,663.2 L1044,663.3 L1045.3,663.3 L1046.7,663.3 L1046.7,663.9 L1045.3,663.9 L1044,663.9 L1042.6,664 L1041.3,664.2 L1039.9,664.4 L1038.5,664.6 L1037.2,664.9 L1035.8,665.2 L1034.5,665.5 L1033.1,665.8 L1031.7,666.2 L1030.4,666.6 L1029,666.9 L1028.4,666.7 L1027.6,666.7 L1026.3,666.8 L1024.9,666.9 L1023.6,666.9 L1022.2,667 L1020.8,667.1 L1020.6,667.1 L1019.5,667 L1018.1,666.8 L1017,666.7 L1016.8,667 L1015.4,666.7 L1014,666.3 L1012.7,666 L1011.3,665.7 L1010,665.4 L1008.6,665.1 L1007.2,664.8 L1005.9,664.6 L1004.5,664.3 L1003.1,664.1 L1001.8,663.9 L1000.4,663.9 L999.1,663.9 L997.7,663.9 Z" fill="#c8202a" stroke="#2b2b2b" stroke-width="1.9" stroke-linejoin="round"/>
<rect x="1017" y="644.6" width="11.4" height="38" fill="none" stroke="#c8202a" stroke-width="1.8"/>
<line x1="1020.6" y1="644.6" x2="1020.6" y2="682.6" stroke="#c8202a" stroke-width="1.8"/>
<path d="M1145.1,663.3 L1146.2,663.3 L1147.3,663.3 L1148.4,663.3 L1149.5,663.3 L1150.6,663.2 L1151.7,663.1 L1152.8,662.9 L1153.9,662.8 L1155,662.6 L1156.1,662.5 L1157.2,662.3 L1158.3,662.1 L1159.4,661.9 L1160.5,661.7 L1161.6,661.5 L1162.7,661.3 L1163.7,661.4 L1163.8,661.4 L1164.9,661.3 L1166,661.2 L1167.1,661.1 L1167.6,661.1 L1168.2,661.1 L1169.3,661.2 L1170.4,661.3 L1171.5,661.3 L1172.6,661.4 L1173.7,661.4 L1174.8,661.7 L1175.9,662 L1177,662.3 L1178.1,662.6 L1179.2,662.8 L1180.3,663.1 L1181.4,663.2 L1182.5,663.3 L1183.6,663.3 L1184.7,663.3 L1184.7,663.9 L1183.6,663.9 L1182.5,663.9 L1181.4,664 L1180.3,664.1 L1179.2,664.4 L1178.1,664.6 L1177,664.9 L1175.9,665.2 L1174.8,665.5 L1173.7,665.8 L1172.6,665.8 L1171.5,665.9 L1170.4,665.9 L1169.3,666 L1168.2,666.1 L1167.6,666.1 L1167.1,666.1 L1166,666 L1164.9,665.9 L1163.8,665.8 L1163.7,665.8 L1162.7,665.9 L1161.6,665.7 L1160.5,665.5 L1159.4,665.3 L1158.3,665.1 L1157.2,664.9 L1156.1,664.7 L1155,664.6 L1153.9,664.4 L1152.8,664.3 L1151.7,664.1 L1150.6,664 L1149.5,663.9 L1148.4,663.9 L1147.3,663.9 L1146.2,663.9 L1145.1,663.9 Z" fill="#2d3a80" stroke="#2b2b2b" stroke-width="1.9" stroke-linejoin="round"/>
<rect x="1148.2" y="657.6" width="4.7" height="12" rx="2.4" ry="5" fill="#2d3a80" stroke="#2b2b2b" stroke-width="0.5"/>
<rect x="1163.7" y="644.6" width="8.9" height="38" fill="none" stroke="#2d3a80" stroke-width="1.8"/>
<line x1="1167.6" y1="644.6" x2="1167.6" y2="682.6" stroke="#2d3a80" stroke-width="1.8"/>
<rect x="686" y="57" width="198.6" height="699.8" fill="none" stroke="#231f20" stroke-width="1.6"/>
<rect x="884.6" y="57" width="199.1" height="631.5" fill="none" stroke="#231f20" stroke-width="1.6"/>
<rect x="1083.7" y="57" width="199.2" height="631.5" fill="none" stroke="#231f20" stroke-width="1.6"/>
<line x1="301.7" y1="688.6" x2="301.7" y2="694.1" stroke="#231f20" stroke-width="1.6"/>
<text transform="translate(293.1,700.6) rotate(90) scale(1,1.04)" font-size="24.4" fill="#000">0.5</text>
<line x1="344.1" y1="688.6" x2="344.1" y2="694.1" stroke="#231f20" stroke-width="1.6"/>
<text transform="translate(335.5,700.6) rotate(90) scale(1,1.04)" font-size="24.4" fill="#000">1.0</text>
<line x1="386.5" y1="688.6" x2="386.5" y2="694.1" stroke="#231f20" stroke-width="1.6"/>
<text transform="translate(377.9,700.6) rotate(90) scale(1,1.04)" font-size="24.4" fill="#000">1.5</text>
<line x1="427.9" y1="688.6" x2="427.9" y2="694.1" stroke="#231f20" stroke-width="1.6"/>
<text transform="translate(419.3,700.6) rotate(90) scale(1,1.04)" font-size="24.4" fill="#000">2.0</text>
<line x1="473.6" y1="688.6" x2="473.6" y2="694.1" stroke="#231f20" stroke-width="1.6"/>
<text transform="translate(465,700.6) rotate(90) scale(1,1.04)" font-size="24.4" fill="#000">-8</text>
<line x1="533.9" y1="688.6" x2="533.9" y2="694.1" stroke="#231f20" stroke-width="1.6"/>
<text transform="translate(525.3,700.6) rotate(90) scale(1,1.04)" font-size="24.4" fill="#000">-4</text>
<line x1="594.2" y1="688.6" x2="594.2" y2="694.1" stroke="#231f20" stroke-width="1.6"/>
<text transform="translate(585.6,700.6) rotate(90) scale(1,1.04)" font-size="24.4" fill="#000">0</text>
<line x1="656.1" y1="688.6" x2="656.1" y2="694.1" stroke="#231f20" stroke-width="1.6"/>
<text transform="translate(647.5,700.6) rotate(90) scale(1,1.04)" font-size="24.4" fill="#000">4</text>
<line x1="950" y1="688.6" x2="950" y2="694.1" stroke="#231f20" stroke-width="1.6"/>
<text transform="translate(941.4,700.6) rotate(90) scale(1,1.04)" font-size="24.4" fill="#000">0.5</text>
<line x1="1031.7" y1="688.6" x2="1031.7" y2="694.1" stroke="#231f20" stroke-width="1.6"/>
<text transform="translate(1023.1,700.6) rotate(90) scale(1,1.04)" font-size="24.4" fill="#000">1.0</text>
<line x1="1092.2" y1="688.6" x2="1092.2" y2="694.1" stroke="#231f20" stroke-width="1.6"/>
<text transform="translate(1083.6,700.6) rotate(90) scale(1,1.04)" font-size="24.4" fill="#000">-4</text>
<line x1="1138" y1="688.6" x2="1138" y2="694.1" stroke="#231f20" stroke-width="1.6"/>
<text transform="translate(1129.4,700.6) rotate(90) scale(1,1.04)" font-size="24.4" fill="#000">-2</text>
<line x1="1184.3" y1="688.6" x2="1184.3" y2="694.1" stroke="#231f20" stroke-width="1.6"/>
<text transform="translate(1175.7,700.6) rotate(90) scale(1,1.04)" font-size="24.4" fill="#000">0</text>
<line x1="1231" y1="688.6" x2="1231" y2="694.1" stroke="#231f20" stroke-width="1.6"/>
<text transform="translate(1222.4,700.6) rotate(90) scale(1,1.04)" font-size="24.4" fill="#000">2</text>
<line x1="1277.3" y1="688.6" x2="1277.3" y2="694.1" stroke="#231f20" stroke-width="1.6"/>
<text transform="translate(1268.7,700.6) rotate(90) scale(1,1.04)" font-size="24.4" fill="#000">4</text>
<text transform="translate(364.9,764.6) scale(1,1.04)" font-size="24.4" text-anchor="middle" font-style="normal" fill="#000" >GeneScore</text>
<text transform="translate(564.3,764.6) scale(1,1.04)" font-size="24.4" text-anchor="middle" font-style="normal" fill="#000" >MotifScore</text>
<text transform="translate(984.2,764.6) scale(1,1.04)" font-size="24.4" text-anchor="middle" font-style="normal" fill="#000" >GeneScore</text>
<text transform="translate(1183.3,764.6) scale(1,1.04)" font-size="24.4" text-anchor="middle" font-style="normal" fill="#000" >MotifScore</text>
<rect x="109.6" y="693.4" width="30.4" height="15.6" fill="#3b7bc2"/>
<rect x="140" y="697.5" width="24.5" height="7.5" fill="#3b7bc2"/>
<rect x="154.9" y="693.4" width="1.6" height="15.6" fill="#3b7bc2"/>
<rect x="163.5" y="693.4" width="1.6" height="15.6" fill="#3b7bc2"/>
<text transform="translate(165.9,742.7) scale(1,1.04)" font-size="24.4" text-anchor="middle" font-style="italic" fill="#000" >FOXA1</text>
<rect x="786.2" y="696.4" width="98" height="8" fill="#e1322a"/>
<rect x="786.1" y="692.4" width="1.4" height="16" fill="#e1322a"/>
<rect x="835.1" y="692.4" width="1.4" height="16" fill="#e1322a"/>
<text transform="translate(785.3,743) scale(1,1.04)" font-size="24.4" text-anchor="middle" font-style="italic" fill="#000" >ESR1</text>
<text x="-1" y="829.8" font-size="40" text-anchor="start" font-weight="bold" font-style="normal" fill="#000" >c</text>
<text transform="translate(996.3,834.2) scale(1,1.04)" font-size="24.4" text-anchor="middle" font-style="normal" fill="#000" >FOXA1</text>
<text transform="translate(1000.8,859) scale(1,1.04)" font-size="24.4" text-anchor="middle" font-style="normal" fill="#000" >target genes (N = 432)</text>
<text transform="translate(77.6,898) scale(1,1.04)" font-size="24.4" text-anchor="end" font-style="normal" fill="#000" >Ep1</text>
<text transform="translate(77.6,940.1) scale(1,1.04)" font-size="24.4" text-anchor="end" font-style="normal" fill="#000" >Ep2</text>
<text transform="translate(77.6,982.2) scale(1,1.04)" font-size="24.4" text-anchor="end" font-style="normal" fill="#000" >Ep3</text>
<text transform="translate(77.6,1024.2) scale(1,1.04)" font-size="24.4" text-anchor="end" font-style="normal" fill="#000" >Ep4</text>
<text transform="translate(77.6,1066.3) scale(1,1.04)" font-size="24.4" text-anchor="end" font-style="normal" fill="#000" >Ep5</text>
<text transform="translate(77.6,1108.4) scale(1,1.04)" font-size="24.4" text-anchor="end" font-style="normal" fill="#000" >Ep6</text>
<text transform="translate(77.6,1150.5) scale(1,1.04)" font-size="24.4" text-anchor="end" font-style="normal" fill="#000" >Ep7</text>
<text transform="translate(77.6,1192.5) scale(1,1.04)" font-size="24.4" text-anchor="end" font-style="normal" fill="#000" >Ep8</text>
<text transform="translate(77.6,1234.6) scale(1,1.04)" font-size="24.4" text-anchor="end" font-style="normal" fill="#000" >Ep9</text>
<text transform="translate(77.6,1276.7) scale(1,1.04)" font-size="24.4" text-anchor="end" font-style="normal" fill="#000" >Ep10</text>
<text transform="translate(77.6,1318.7) scale(1,1.04)" font-size="24.4" text-anchor="end" font-style="normal" fill="#000" >Ep11</text>
<text transform="translate(77.6,1360.8) scale(1,1.04)" font-size="24.4" text-anchor="end" font-style="normal" fill="#000" >Ep13</text>
<text transform="translate(77.6,1402.9) scale(1,1.04)" font-size="24.4" text-anchor="end" font-style="normal" fill="#000" >Ep14</text>
<text transform="translate(77.6,1444.9) scale(1,1.04)" font-size="24.4" text-anchor="end" font-style="normal" fill="#000" >Ep15</text>
<text transform="translate(77.6,1487) scale(1,1.04)" font-size="24.4" text-anchor="end" font-style="normal" fill="#000" >Ep18</text>
<path d="M125.4,910L125.4,908.6 126.4,905.6 127.4,901.9 128.4,899.9 129.4,899.7 130.4,900.3 131.4,902.9 132.4,906.8 133.4,908.6 187.4,908.6 188.4,907.2 189.4,905.4 190.4,904.9 191.4,904.9 192.4,905.8 193.4,907.9 194.4,908.6 195.3,908.6 195.3,910Z" fill="#d42127"/>
<path d="M128,952L128,950.6 129,949.7 130,947.2 131,945.8 132,945.6 133,946 134,947.6 135,948 136,946.4 137,945.7 138,945.7 139,946.6 140,948.9 141,950.6 161,950.6 162,950.4 163,947.9 164,946.1 165,945.6 166,945.6 167,945.9 168,945.9 169,945.6 170,945.6 171,946.1 172,947.8 173,948.3 174,947 175,946.4 176,946.5 177,947.4 178,949.5 179,950.6 179.2,950.6 179.2,952Z" fill="#2b3a80"/>
<path d="M160,994.1L160,992.7 161,991.1 162,987.5 163,982.7 164,975.8 165,969 166,966.2 167,966.7 168,967.2 169,968.9 170,973.8 171,980.6 172,985.1 173,987.2 174,990 175,992.7 187,992.7 188,992.3 189,989.4 190,987 191,986.4 192,986.6 193,988 194,990.9 195,992.7 195.3,992.7 195.3,994.1Z" fill="#1f8a3c"/>
<path d="M115.9,1036.2L115.9,1034.8 116.9,1033.7 117.9,1032.6 118.9,1032.3 119.9,1032.5 120.9,1033.2 121.9,1033 122.9,1031 123.9,1029.8 124.9,1029.1 125.9,1026.7 126.9,1022.9 127.9,1020.3 128.9,1019.5 129.9,1019.6 130.9,1021 131.9,1023.2 132.9,1023.3 133.9,1022.3 134.9,1022.1 135.9,1022.6 136.9,1025.4 137.9,1030.5 138.9,1034.5 139.9,1034.8 155.9,1034.8 156.9,1033.9 157.9,1030.9 158.9,1028.9 159.9,1028.5 160.9,1028.6 161.9,1028.8 162.9,1024.6 163.9,1013.8 164.9,1002.7 165.9,996.6 166.9,995.6 167.9,995.6 168.9,996.1 169.9,999.7 170.9,1004.7 171.9,1008.6 172.9,1010.3 173.9,1011.3 174.9,1015.2 175.9,1022.5 176.9,1030.2 177.9,1034.5 178.9,1034.5 179.9,1034.5 180.9,1034.5 181.9,1034.3 182.9,1032.8 183.9,1032.3 184.9,1032.4 185.9,1033 186.9,1034.5 187.9,1034.5 188.9,1032.5 189.9,1030.4 190.9,1029.8 191.9,1029.9 192.9,1031 193.9,1033.4 194.9,1034.8 224.9,1034.8 225.9,1033.6 226.9,1032.5 227.9,1032.3 228.9,1032.5 229.9,1033.7 230.9,1034.7 231.9,1034.5 232.9,1034.5 233.9,1034.5 234.9,1034.5 235.9,1034.5 236.9,1034.4 237.9,1032.9 238.9,1032.4 239.9,1032.4 240.9,1032.9 241.9,1034.4 242,1034.5 242,1036.2Z" fill="#84208a"/>
<path d="M125.4,1078.2L125.4,1076.8 126.4,1075.3 127.4,1072.3 128.4,1070.8 129.4,1070.5 130.4,1070.7 131.4,1070.3 132.4,1066 133.4,1059.2 134.4,1054.9 135.4,1053.9 136.4,1054.1 137.4,1056.3 138.4,1061.4 139.4,1067.2 140.4,1070.8 141.4,1071.8 142.4,1073 143.4,1075.4 144.4,1076.8 161.4,1076.8 162.4,1072.5 163.4,1062.9 164.4,1051 165.4,1042.2 166.4,1038.9 167.4,1038.5 168.4,1039.8 169.4,1045.4 170.4,1055 171.4,1064.2 172.4,1069.1 173.4,1070.5 174.4,1071.8 175.4,1074.6 176.4,1076.8 203.4,1076.8 204.4,1075.1 205.4,1071.7 206.4,1069.6 207.4,1069.3 208.4,1069.6 209.4,1071.8 210.4,1075.2 211.2,1076.8 211.2,1078.2Z" fill="#ef7f2c"/>
<path d="M81.8,1120.3L81.8,1118.9 97.8,1118.9 98.8,1118.1 99.8,1116.8 100.8,1116.5 101.8,1116.6 102.8,1117.4 103.8,1118.9 104.8,1118.9 105.8,1118.3 106.8,1117.8 107.8,1117.8 108.8,1118.1 109.8,1118.9 110.8,1118.5 111.8,1117.1 112.8,1116.5 113.8,1116.5 114.8,1117.1 115.8,1118.5 116.8,1118.9 120.8,1118.9 121.8,1118.4 122.8,1117.8 123.8,1117.8 124.8,1118 125.8,1118.9 132.8,1118.9 133.8,1116.9 134.8,1113 135.8,1110.6 136.8,1110.1 137.8,1110.4 138.8,1112.4 139.8,1116.3 140.8,1118.9 158.8,1118.9 159.8,1118.1 160.8,1116.8 161.8,1116.5 162.8,1116.3 163.8,1115.1 164.8,1111.9 165.8,1108.9 166.8,1108 167.8,1108.2 168.8,1109.9 169.8,1114 170.8,1118.1 171.8,1118.9 174.8,1118.9 175.8,1118.7 176.8,1117.6 177.8,1117.8 178.8,1117.9 179.8,1118.6 180.8,1118.9 181.8,1118.9 182.8,1117.2 183.8,1114.2 184.8,1112.8 185.8,1112.6 186.8,1113.2 187.8,1115.1 188.8,1116.5 189.8,1116.5 190.8,1116.5 191.8,1116.7 192.8,1117.9 193.8,1118.9 206.8,1118.9 207.8,1118.8 208.8,1117.9 209.8,1117.8 210.8,1117.9 211.8,1118.5 212.8,1118.9 214.8,1118.9 215.8,1118.4 216.8,1117.8 217.8,1117.8 218.8,1118 219.8,1118.9 220.8,1118.9 221.8,1118.1 222.8,1116.8 223.8,1116.5 224.8,1116.6 225.8,1117.5 226.8,1118.9 227.8,1118.6 228.8,1118.6 229.8,1118.6 230.8,1118.6 231.8,1118.6 232.8,1118.9 233.8,1117.1 234.8,1114.8 235.8,1113.9 236.8,1114 237.8,1114.8 238.8,1117.1 239.8,1118.9 242,1118.9 242,1120.3Z" fill="#f2de1b"/>
<path d="M81.8,1162.4L81.8,1161 123.8,1161 124.8,1157.4 125.8,1150.1 126.8,1141.9 127.8,1136.9 128.8,1135.5 129.8,1135.3 130.8,1135.4 131.8,1134.2 132.8,1129.7 133.8,1124.4 134.8,1121.8 135.8,1121.8 136.8,1122.6 137.8,1128.5 138.8,1139.5 139.8,1151.4 140.8,1159 141.8,1161 157.8,1161 158.8,1158.2 159.8,1155.6 160.8,1154.5 161.8,1152.9 162.8,1148.6 163.8,1142.8 164.8,1138.4 165.8,1136.8 166.8,1136.8 167.8,1138.3 168.8,1143.5 169.8,1151.5 170.8,1157.2 171.8,1157.2 172.8,1155.8 173.8,1152.2 174.8,1150.9 175.8,1150.9 176.8,1152.1 177.8,1155.7 178.8,1157.2 179.8,1157.2 180.8,1153.1 181.8,1148 182.8,1145.9 183.8,1145.7 184.8,1146.7 185.8,1150.6 186.8,1156 187.8,1157.4 188.8,1154.4 189.8,1152.4 190.8,1152.1 191.8,1152.7 192.8,1155.2 193.8,1159.1 194.8,1159.8 195.8,1158.6 196.8,1158.4 197.8,1158.4 198.8,1158.4 199.8,1159.1 200.8,1160 201.8,1156.6 202.8,1154 203.8,1153.4 204.8,1153.6 205.8,1155.2 206.8,1158.6 207.8,1161 214.8,1161 215.8,1160.5 216.8,1159.9 217.8,1159.8 218.8,1160.1 219.8,1160.9 223.8,1161 224.8,1160.1 225.8,1159.4 226.8,1159.3 227.8,1159.6 228.8,1160.2 229.8,1160 230.8,1159.4 231.8,1159.3 232.8,1159.5 233.8,1160.5 234.8,1161 235.8,1161 236.8,1159.4 237.8,1158 238.8,1157.8 239.8,1158 240.8,1159.2 241.8,1161 242,1161 242,1162.4Z" fill="#8296c8"/>
<path d="M113.9,1204.5L113.9,1203.1 114.9,1202 115.9,1200.8 116.9,1200.6 117.9,1200.8 118.9,1201.8 119.9,1202.7 120.9,1202.7 121.9,1202.7 122.9,1202.7 123.9,1202.7 124.9,1201.3 125.9,1196 126.9,1190.6 127.9,1188.1 128.9,1187.8 129.9,1188.4 130.9,1190.7 131.9,1191.3 132.9,1186.2 133.9,1180.4 134.9,1177.8 135.9,1177.6 136.9,1178.5 137.9,1182.8 138.9,1190.6 139.9,1198.4 140.9,1202.9 141.9,1203.1 162.9,1203.1 163.9,1199.3 164.9,1192.6 165.9,1186.8 166.9,1184.2 167.9,1184 168.9,1184.8 169.9,1188.7 170.9,1195.4 171.9,1200.8 172.9,1200.9 173.9,1198.9 174.9,1198.1 175.9,1198.1 176.9,1198.9 177.9,1200.4 178.9,1200 179.9,1196.5 180.9,1194.5 181.9,1194.2 182.9,1194.7 183.9,1197.2 184.9,1201.1 185.9,1203.1 187.9,1203.1 188.9,1202.3 189.9,1201.5 190.9,1201.4 191.9,1201.6 192.9,1202.6 193.9,1203.1 200.9,1203.1 201.9,1202.2 202.9,1200.9 203.9,1200.6 204.9,1200.7 205.9,1201.6 206.9,1203.1 232.9,1203 233.9,1201.5 234.9,1200.7 235.9,1200.6 236.9,1201 237.9,1202.4 238.9,1203.1 239.4,1203.1 239.4,1204.5Z" fill="#b865a3"/>
<path d="M110,1246.5L110,1245.1 111,1245.1 112,1245.1 113,1244.5 114,1244.5 115,1244.6 116,1245 117,1244.7 118,1244.1 119,1244 120,1244.1 121,1244.9 122,1245.1 125,1245.1 126,1242.4 127,1237.7 128,1234.5 129,1233.7 130,1233.2 131,1231.8 132,1227.4 133,1220.7 134,1215.9 135,1214.5 136,1214.6 137,1216.9 138,1223.4 139,1233 140,1241.1 141,1245.1 157,1245.1 158,1242.5 159,1237.8 160,1234.5 161,1233.6 162,1232.8 163,1230.3 164,1225.2 165,1219.1 166,1215.3 167,1214.5 168,1214.9 169,1218 170,1225.5 171,1234.8 172,1239.6 173,1236.9 174,1233.5 175,1232.5 176,1232.6 177,1234.4 178,1238.8 179,1243.6 180,1245.1 181,1244.5 182,1243.6 183,1243.5 184,1243.6 185,1244.2 186,1245.1 187,1245.1 188,1244.5 189,1242.5 190,1241.5 191,1241.4 192,1241.9 193,1243.6 194,1245.1 203,1245.1 204,1244.9 205,1244.1 206,1244 207,1244.1 208,1244.8 209,1245.1 223,1245.1 224,1244.7 225,1244.5 226,1244.5 227,1245 228,1245.1 234,1245.1 235,1245.1 236,1244.5 237,1244.5 238,1244.7 239,1245.1 240.7,1245.1 240.7,1246.5Z" fill="#d3a062"/>
<path d="M111.3,1288.6L111.3,1287.2 112.3,1287.2 113.3,1287.1 114.3,1286.6 115.3,1286.6 116.3,1286.7 117.3,1287.2 124.3,1287.2 125.3,1285.7 126.3,1280.6 127.3,1275.1 128.3,1272.3 129.3,1271.9 130.3,1272.5 131.3,1275.2 132.3,1278 133.3,1276.2 134.3,1273 135.3,1272 136.3,1272.1 137.3,1274 138.3,1278.9 139.3,1284.6 140.3,1287.2 161.3,1287.2 162.3,1286.6 163.3,1281.6 164.3,1273.9 165.3,1267.4 166.3,1264.6 167.3,1264.3 168.3,1265 169.3,1269 170.3,1276 171.3,1281.7 172.3,1282 173.3,1281 174.3,1280.9 175.3,1281.5 176.3,1283.8 177.3,1284.6 178.3,1285.1 179.3,1285.1 180.3,1285.1 181.3,1282.9 182.3,1280.3 183.3,1279.6 184.3,1279.8 185.3,1281.3 186.3,1284.7 187.3,1287.2 192.3,1287.2 193.3,1286.8 194.3,1286.6 195.3,1286.6 196.3,1287.1 197.3,1287.2 209.3,1287.2 210.3,1286.6 211.3,1286.6 212.3,1286.7 213.3,1287.2 235.3,1287.2 236.3,1285.8 237.3,1284.9 238.3,1284.8 239.3,1285.1 240.3,1286.3 241.3,1287.2 242,1287.2 242,1288.6Z" fill="#8fd0dc"/>
<path d="M115.2,1330.7L115.2,1329.3 116.2,1328.6 117.2,1328.1 118.2,1328.1 119.2,1328.5 120.2,1329.3 124.2,1329.3 125.2,1328.4 126.2,1323.6 127.2,1317.9 128.2,1314.6 129.2,1314 130.2,1314.3 131.2,1316.3 132.2,1318.2 133.2,1315.7 134.2,1311.7 135.2,1310.2 136.2,1310.2 137.2,1311.8 138.2,1316.8 139.2,1323.7 140.2,1328.6 141.2,1329.3 161.2,1329.3 162.2,1327.3 163.2,1320.6 164.2,1311 165.2,1303 166.2,1299.2 167.2,1298.6 168.2,1299.2 169.2,1302.8 170.2,1310.8 171.2,1320.3 172.2,1326.2 173.2,1325.6 174.2,1323.5 175.2,1323 176.2,1323.1 177.2,1324.6 178.2,1327.6 179.2,1328.4 180.2,1328.4 181.2,1328.4 182.2,1328.4 183.2,1328.1 184.2,1326.2 185.2,1325.6 186.2,1325.6 187.2,1326.4 188.2,1328.3 189.2,1329.3 204.2,1329.3 205.2,1328.5 206.2,1327.2 207.2,1326.8 208.2,1326.9 209.2,1327.7 210.2,1329.3 219.2,1329.3 220.2,1328.9 221.2,1328.6 222.2,1328.7 223.2,1329.1 224.2,1329.3 232.2,1329.3 233.2,1328 234.2,1326.2 235.2,1325.5 236.2,1325.2 237.2,1324 238.2,1322.5 239.2,1321.7 240.2,1321.7 241.2,1322.3 242,1324.3 242,1330.7Z" fill="#86c05c"/>
<path d="M95.4,1372.7L95.4,1371.3 96.4,1371.1 97.4,1370.7 98.4,1370.7 99.4,1371 100.4,1371.3 115.4,1371.3 116.4,1370.9 117.4,1370.7 118.4,1370.7 119.4,1371.2 120.4,1371.3 124.4,1371.3 125.4,1369.4 126.4,1364 127.4,1358.8 128.4,1356.3 129.4,1356.1 130.4,1356.5 131.4,1357.6 132.4,1356.6 133.4,1352.8 134.4,1350.1 135.4,1349.7 136.4,1350.2 137.4,1353.7 138.4,1360.5 139.4,1367.5 140.4,1371.3 158.4,1371.3 159.4,1371.1 160.4,1368.6 161.4,1366.7 162.4,1365.6 163.4,1362.5 164.4,1357.2 165.4,1352.9 166.4,1351.1 167.4,1351 168.4,1352 169.4,1356.2 170.4,1363.2 171.4,1368.7 172.4,1368.7 173.4,1368.7 174.4,1366.9 175.4,1364.4 176.4,1363.8 177.4,1363.9 178.4,1365.6 179.4,1368.6 180.4,1369.4 181.4,1367.4 182.4,1366.4 183.4,1366.3 184.4,1367 185.4,1369.2 186.4,1371.2 187.4,1370.7 188.4,1369.8 189.4,1369.7 190.4,1369.8 191.4,1370.7 192.4,1371.3 205.4,1371.3 206.4,1370.8 207.4,1370.7 208.4,1370.8 209.4,1371.3 229.4,1371.3 230.4,1370.9 231.4,1370.7 232.4,1370.7 233.4,1371.2 234.4,1371.3 236.4,1371.3 237.4,1371 238.4,1369.5 239.4,1368.9 240.4,1368.9 241.4,1369.5 242,1370.2 242,1372.7Z" fill="#9580bb"/>
<path d="M113.9,1414.8L113.9,1413.4 114.9,1412.4 115.9,1411.2 116.9,1411 117.9,1411.1 118.9,1412.1 119.9,1413.1 120.9,1413.1 121.9,1413.1 122.9,1413.1 123.9,1413.1 124.9,1409.1 125.9,1401.2 126.9,1392.9 127.9,1388 128.9,1386.7 129.9,1386.8 130.9,1388.8 131.9,1394.8 132.9,1403.3 133.9,1408.5 134.9,1406.3 135.9,1402.4 136.9,1400.8 137.9,1400.8 138.9,1402 139.9,1405.9 140.9,1410.9 141.9,1413.4 143.9,1413.4 144.9,1413.2 145.9,1412.1 146.9,1411.7 147.9,1411.8 148.9,1412.4 149.9,1413.4 156.9,1413.4 157.9,1411.2 158.9,1408.4 159.9,1407.2 160.9,1407 161.9,1406.7 162.9,1403.5 163.9,1394.8 164.9,1384.8 165.9,1379.1 166.9,1377.7 167.9,1377.9 168.9,1380.5 169.9,1386.7 170.9,1394.1 171.9,1399.5 172.9,1401.6 173.9,1402.5 174.9,1405.3 175.9,1410 176.9,1410.5 177.9,1409.7 178.9,1409.6 179.9,1409.6 180.9,1409.6 181.9,1410.5 182.9,1409.3 183.9,1405.3 184.9,1403.4 185.9,1403.3 186.9,1404.1 187.9,1407.1 188.9,1410.9 189.9,1411.3 190.9,1410 191.9,1409.7 192.9,1409.8 193.9,1411 194.9,1413 195.9,1412.5 196.9,1412.5 197.9,1412.5 198.9,1412.5 199.9,1412.6 200.9,1413.1 201.9,1410.8 202.9,1408.9 203.9,1408.4 204.9,1408.6 205.9,1409.9 206.9,1412.4 207.9,1413.1 208.9,1413.1 209.9,1413.1 210.9,1413.1 211.9,1412.1 212.9,1411.1 213.9,1411 214.9,1411.2 215.9,1412.4 216.9,1413.4 223.9,1413.4 224.9,1412.5 225.9,1411.8 226.9,1411.7 227.9,1412 228.9,1413.1 229.9,1413.4 230.9,1413.4 231.9,1413.3 232.9,1412.2 233.9,1411.7 234.9,1411.8 235.9,1412.3 236.9,1413.3 237.9,1412.4 238.9,1409.9 239.9,1408.6 240.9,1408.4 241.9,1408.9 242,1409 242,1414.8Z" fill="#cf4a26"/>
<path d="M123.6,1456.9L123.6,1455.5 125.6,1455.5 126.6,1454 127.6,1448.8 128.6,1443.3 129.6,1440.3 130.6,1438 131.6,1433.5 132.6,1429.6 133.6,1429.3 134.6,1430.6 135.6,1431.4 136.6,1433.9 137.6,1440.1 138.6,1448.1 139.6,1454 140.6,1455.5 155.6,1455.5 156.6,1454.9 157.6,1450.1 158.6,1443 159.6,1437.4 160.6,1435.2 161.6,1434.8 162.6,1434.2 163.6,1433 164.6,1430.8 165.6,1428.4 166.6,1427.4 167.6,1427.5 168.6,1429 169.6,1434.3 170.6,1442.9 171.6,1450.9 172.6,1454.6 173.6,1454.6 174.6,1454.6 175.6,1454 176.6,1452.3 177.6,1451.8 178.6,1451.8 179.6,1452.8 180.6,1454.6 181.6,1454.6 182.6,1452.8 183.6,1451.8 184.6,1451.8 185.6,1452.2 186.6,1453.9 187.6,1454.6 188.6,1452.5 189.6,1449.4 190.6,1448 191.6,1447.9 192.6,1448.8 193.6,1451.6 194.6,1454.9 195.6,1455.5 212.6,1455.5 213.6,1454.2 214.6,1452.7 215.6,1452.3 216.6,1452.4 217.6,1453.3 218.6,1455.2 219.6,1455.5 220.6,1455 221.6,1454.8 222.6,1454.8 223.6,1454.8 224.6,1455.3 225.6,1455.5 226.6,1454.6 227.6,1452.6 228.6,1451.8 229.6,1451.8 230.6,1452.4 231.6,1454.3 232.6,1454.6 233.6,1454.6 234.6,1452.9 235.6,1451.9 236.6,1451.7 237.6,1451.9 238.6,1452.4 239.6,1452.9 240.6,1453 241.6,1453.2 242,1453.4 242,1456.9Z" fill="#3bb09e"/>
<path d="M123.6,1499L123.6,1497.5 125.6,1497.5 126.6,1495.5 127.6,1489 128.6,1480.6 129.6,1474.5 130.6,1472.2 131.6,1472.1 132.6,1473.2 133.6,1477.4 134.6,1482.6 135.6,1483.1 136.6,1480.1 137.6,1478.5 138.6,1478.5 139.6,1479.8 140.6,1484.4 141.6,1491.2 142.6,1496.5 143.6,1497.5 151.6,1497.5 152.6,1497 153.6,1496.9 154.6,1497 155.6,1497.5 157.6,1497.5 158.6,1496.7 159.6,1493 160.6,1489.7 161.6,1488 162.6,1484.3 163.6,1476.1 164.6,1466.6 165.6,1460.2 166.6,1458.4 167.6,1458.4 168.6,1459.8 169.6,1465.3 170.6,1473.2 171.6,1479.7 172.6,1482.8 173.6,1483.8 174.6,1486.1 175.6,1491.1 176.6,1496 177.6,1495.1 178.6,1494.9 179.6,1494.9 180.6,1494.9 181.6,1494.9 182.6,1495.4 183.6,1492.4 184.6,1490.3 185.6,1490 186.6,1490.3 187.6,1492.4 188.6,1495.7 189.6,1496.7 190.6,1495.6 191.6,1495.1 192.6,1495.1 193.6,1495.8 194.6,1497.3 195.6,1497.5 206.6,1497.5 207.6,1497 208.6,1496.9 209.6,1497 210.6,1497.5 231.6,1497.5 232.6,1497.4 233.6,1496.9 234.6,1496.9 235.6,1497.1 236.6,1497.5 242,1497.5 242,1499Z" fill="#7a1618"/>
<path d="M242.3,910L242.3,906.2 243.3,904.1 244.3,903.6 245.3,903.7 246.3,904.9 247.3,907.4 248.3,908.6 299.3,908.6 300.3,906.6 301.3,903.7 302.3,902.4 303.3,902.3 304.3,903 305.3,905.4 306.3,906.5 307.3,906.5 308.3,906.5 309.3,906.5 310.3,906.5 311.3,903 312.3,897.8 313.3,895 314.3,894.6 315.3,895.1 316.3,898.1 317.3,903.4 318.3,906.5 319.3,906.1 320.3,905 321.3,903.5 322.3,903.3 323.3,904.6 324.3,903.8 325.3,902.4 326.3,901.5 327.3,898.8 328.3,895.7 329.3,894.2 330.3,894 331.3,894.4 332.3,897 333.3,902.2 334.3,907.2 335.3,908.6 395.3,908.6 396.3,907.1 397.3,904.3 398.3,902.9 399.3,902.8 400.3,903.3 401.3,905.5 402.1,907.9 402.1,910Z" fill="#d42127"/>
<path d="M263,952L263,949.7 264,946.1 265,943.1 266,942.3 267,942.4 268,943.9 269,947.4 270,950.6 271,950.6 303,950.6 304,949.3 305,944.1 306,938.1 307,934.1 308,930.2 309,922.5 310,914.8 311,912 312,912.7 313,913.6 314,916.1 315,923.3 316,933.4 317,940.5 318,942.6 319,943 320,943.6 321,945.8 322,947.4 323,945.3 324,942.5 325,941.8 326,941.9 327,942.6 328,943.1 329,942.3 330,941.8 331,941.9 332,943.3 333,946.8 334,950.3 335,950.6 383,950.6 384,947.7 385,944.1 386,942.5 387,942.3 388,943 389,945.8 390,949.4 391,948.3 392,947.7 393,947.7 394,947.7 395,948 396,949.2 397,946.9 398,943.6 399,942.4 400,942.3 401,943.4 402,946.5 402.1,946.9 402.1,952Z" fill="#2b3a80"/>
<path d="M298.9,994.1L298.9,992.7 299.9,992 300.9,988 301.9,984.2 302.9,982.6 303.9,982 304.9,980.2 305.9,977 306.9,973.9 307.9,971.9 308.9,969 309.9,963.6 310.9,959.4 311.9,959.1 312.9,959.5 313.9,955.9 314.9,953.5 315.9,953.5 316.9,953.8 317.9,953.5 318.9,953.5 319.9,953.5 320.9,953.5 321.9,959 322.9,963.2 323.9,969 324.9,975.4 325.9,976.6 326.9,973.6 327.9,971.7 328.9,971.6 329.9,972.4 330.9,975.2 331.9,979.3 332.9,982.4 333.9,983.7 334.9,984.4 335.9,987.1 336.3,988.7 336.3,994.1Z" fill="#1f8a3c"/>
<path d="M270.7,1036.2L270.7,1034.8 271.7,1032.5 272.7,1030.4 273.7,1029.8 274.7,1029.9 275.7,1031 276.7,1033.4 277.7,1034.8 297.7,1034.8 298.7,1033.7 299.7,1029.6 300.7,1026 301.7,1024.2 302.7,1021.9 303.7,1018.4 304.7,1017.4 305.7,1018.5 306.7,1018.2 307.7,1017.4 308.7,1019.3 309.7,1022.5 310.7,1022.5 311.7,1020.1 312.7,1018.8 313.7,1019.1 314.7,1019.3 315.7,1019.4 316.7,1020.6 317.7,1022.7 318.7,1024.3 319.7,1024.8 320.7,1026.3 321.7,1027.7 322.7,1026.3 323.7,1024.8 324.7,1024.7 325.7,1025.3 326.7,1028.3 327.7,1032.6 328.6,1034.8 328.6,1036.2Z" fill="#84208a"/>
<path d="M242.3,1078.2L242.3,1076.8 302.3,1076.8 303.3,1075.3 304.3,1069.3 305.3,1061 306.3,1054.4 307.3,1051.6 308.3,1051.3 309.3,1052.1 310.3,1055.3 311.3,1059.9 312.3,1063.4 313.3,1064.9 314.3,1065.5 315.3,1066.9 316.3,1070.9 317.3,1075.4 318.3,1076.8 319.3,1075.2 320.3,1072.9 321.3,1072.5 322.3,1073.2 323.3,1074.9 324.3,1076.8 325.3,1075.9 326.3,1071.4 327.3,1066.4 328.3,1062.7 329.3,1059.1 330.3,1056.7 331.3,1058.3 332.3,1061.9 333.3,1065.5 334.2,1070 334.2,1078.2Z" fill="#ef7f2c"/>
<path d="M258.6,1120.3L258.6,1118.9 259.6,1118.3 260.6,1116.9 261.6,1116.5 262.6,1116.5 263.6,1117.3 264.6,1118.8 265.6,1118.9 299.6,1118.9 300.6,1116.7 301.6,1112.1 302.6,1108.5 303.6,1107.5 304.6,1107.6 305.6,1109.3 306.6,1113.5 307.6,1114.6 308.6,1114.6 309.6,1114.5 310.6,1105.8 311.6,1096 312.6,1089.4 313.6,1087.1 314.6,1087.1 315.6,1088.6 316.6,1094.3 317.6,1103.8 318.6,1113.1 319.6,1118.3 320.6,1118.9 321.6,1118.7 322.6,1117.6 323.6,1117.3 324.6,1117.3 325.6,1117.9 326.6,1118.9 331.6,1118.9 332.6,1117.8 333.6,1117.3 334.6,1117.3 335.6,1117.7 336.6,1118.8 337.6,1118.9 396.6,1118.9 397.6,1118.9 398.6,1117.3 399.6,1116.5 400.6,1116.5 401.6,1116.9 402.1,1117.4 402.1,1120.3Z" fill="#f2de1b"/>
<path d="M242.3,1162.4L242.3,1161 260.3,1161 261.3,1160.1 262.3,1159.8 263.3,1159.9 264.3,1160.5 265.3,1161 271.3,1161 272.3,1160.5 273.3,1159.9 274.3,1159.8 275.3,1160.1 276.3,1161 303.3,1161 304.3,1157.5 305.3,1152.8 306.3,1150.1 307.3,1149.6 308.3,1149.8 309.3,1150.8 310.3,1149.1 311.3,1141.9 312.3,1134.4 313.3,1130.9 314.3,1130.2 315.3,1129.8 316.3,1130.8 317.3,1135.1 318.3,1141.5 319.3,1145.8 320.3,1148.2 321.3,1152.4 322.3,1156.3 323.3,1156 324.3,1156 325.3,1156 326.3,1156 327.3,1156 328.3,1152 329.3,1148.9 330.3,1148.3 331.3,1148.4 332.3,1149.5 333.3,1150.7 334.3,1150.8 335.3,1150.8 336.3,1151 337.3,1152.9 338.3,1157 339.3,1160.7 340.3,1161 370.3,1161 371.3,1159.7 372.3,1155.5 373.3,1152 374.3,1150.9 375.3,1150.9 376.3,1152.3 377.3,1156.1 378.3,1160.1 379.3,1161 398.3,1161 399.3,1160.5 400.3,1160.3 401.3,1160.4 402.1,1160.9 402.1,1162.4Z" fill="#8296c8"/>
<path d="M298.9,1204.5L298.9,1201.4 299.9,1197.1 300.9,1193.9 301.9,1192.9 302.9,1193.1 303.9,1194.7 304.9,1198.6 305.9,1199.3 306.9,1199.3 307.9,1199.3 308.9,1199.3 309.9,1195.3 310.9,1183.8 311.9,1172.2 312.9,1165.3 313.9,1163.9 314.9,1163.9 315.9,1166.4 316.9,1174 317.9,1183.9 318.9,1190.9 319.9,1193.6 320.9,1194.3 321.9,1196 322.9,1199.3 323.9,1199.3 324.9,1198.3 325.9,1195.6 326.9,1193.3 327.9,1192.9 328.9,1193.4 329.9,1195.4 330.9,1195.9 331.9,1190.7 332.9,1184.6 333.9,1181.7 334.9,1181.4 335.9,1182.1 336.9,1185.9 337.9,1193 338.9,1199.8 339.9,1203.1 362.9,1203.1 363.9,1202.9 364.9,1200.4 365.9,1198.5 366.9,1198.1 367.9,1198.2 368.9,1199.6 369.9,1201.6 370.9,1201.6 371.9,1201.6 372.9,1200.9 373.9,1198.7 374.9,1198.1 375.9,1198.1 376.9,1199.2 377.9,1201.7 378.3,1202.7 378.3,1204.5Z" fill="#b865a3"/>
<path d="M242.3,1246.5L242.3,1245.1 270.3,1245.1 271.3,1244.8 272.3,1243 273.3,1242 274.3,1241.9 275.3,1242.3 276.3,1243.9 277.3,1245.1 299.3,1245.1 300.3,1242.3 301.3,1237.6 302.3,1234.5 303.3,1233.7 304.3,1233.1 305.3,1231.8 306.3,1229.7 307.3,1227.4 308.3,1224.5 309.3,1219.1 310.3,1214.5 311.3,1214.7 312.3,1217.7 313.3,1219.3 314.3,1220.7 315.3,1223.5 316.3,1227.2 317.3,1230.1 318.3,1231.2 319.3,1233.3 320.3,1238.1 321.3,1241.3 322.3,1241.3 323.3,1241 324.3,1237 325.3,1235.2 326.3,1235 327.3,1235.8 328.3,1238.8 329.3,1242.5 330.3,1242.5 331.3,1242.5 332.3,1239.9 333.3,1237.9 334.3,1237.6 335.3,1238 336.3,1240.2 337.3,1243.6 338.3,1245.1 370.3,1245.1 371.3,1244.3 372.3,1244 373.3,1244 374.3,1244.5 375.3,1245.1 393.3,1245.1 394.3,1244.8 395.3,1244.5 396.3,1244.5 397.3,1244.5 398.3,1244.2 399.3,1243.6 400.3,1243.5 401.3,1243.6 402.1,1244.3 402.1,1246.5Z" fill="#d3a062"/>
<path d="M242.3,1288.6L242.3,1287.2 257.3,1287.2 258.3,1286.6 259.3,1286.1 260.3,1286 261.3,1286.4 262.3,1287.2 271.3,1287.2 272.3,1285.7 273.3,1284.8 274.3,1284.8 275.3,1285.1 276.3,1286.4 277.3,1287.2 297.3,1287.2 298.3,1282.6 299.3,1273 300.3,1261.5 301.3,1253.4 302.3,1250.4 303.3,1250.2 304.3,1251.7 305.3,1257.7 306.3,1268.4 307.3,1275.1 308.3,1275.1 309.3,1272.1 310.3,1264.2 311.3,1260 312.3,1259.1 313.3,1258.6 314.3,1258.5 315.3,1260.1 316.3,1263.5 317.3,1266.7 318.3,1268.1 319.3,1270.5 320.3,1276 321.3,1281.3 322.3,1279.5 323.3,1277.6 324.3,1274.9 325.3,1274.5 326.3,1274.5 327.3,1274.5 328.3,1272.3 329.3,1268.3 330.3,1265.9 331.3,1265.3 332.3,1264.8 333.3,1265.6 334.3,1269.3 335.3,1273.6 336.3,1275.7 337.3,1277.9 338.3,1282.3 339.3,1286.5 340.3,1287.2 370.3,1287.2 371.3,1286.4 372.3,1282.6 373.3,1279.4 374.3,1278.4 375.3,1278.4 376.3,1279.7 377.3,1283.2 378.3,1286.7 379.3,1287.2 398.3,1287.2 399.3,1286.7 400.3,1286.6 401.3,1286.6 402.1,1287.1 402.1,1288.6Z" fill="#8fd0dc"/>
<path d="M242.3,1330.7L242.3,1329.3 262.3,1329.3 263.3,1329.2 264.3,1328.7 265.3,1328.6 266.3,1328.8 267.3,1329.3 270.3,1329.3 271.3,1328.7 272.3,1326.7 273.3,1325.6 274.3,1325.5 275.3,1326 276.3,1327.7 277.3,1329.3 297.3,1329.3 298.3,1327.5 299.3,1320.2 300.3,1308.6 301.3,1297.9 302.3,1292.2 303.3,1291 304.3,1291.3 305.3,1294.8 306.3,1303.8 307.3,1313.9 308.3,1313.9 309.3,1313.9 310.3,1313.9 311.3,1307.4 312.3,1298.3 313.3,1294.1 314.3,1293.5 315.3,1294 316.3,1297.6 317.3,1305.3 318.3,1314.8 319.3,1321 320.3,1323.6 321.3,1325 322.3,1323.5 323.3,1323.2 324.3,1323.2 325.3,1323.5 326.3,1326.3 327.3,1323.7 328.3,1318 329.3,1314.7 330.3,1314 331.3,1314.4 332.3,1317 333.3,1322 334.3,1324.9 335.3,1323.9 336.3,1323 337.3,1323 338.3,1324 339.3,1326.6 340.3,1329.3 344.3,1329.3 345.3,1328.8 346.3,1328.6 347.3,1328.7 348.3,1329.1 349.3,1329.3 369.3,1329.3 370.3,1328.5 371.3,1325.9 372.3,1324.5 373.3,1324.3 374.3,1324.6 375.3,1326.4 376.3,1329 377.3,1329.3 379.3,1329.3 380.3,1328.6 381.3,1328.4 382.3,1328.8 383.3,1329.3 385.3,1329.3 386.3,1327.7 387.3,1326 388.3,1325.6 389.3,1325.6 390.3,1326.7 391.3,1328.7 392.3,1329.3 397.3,1329.3 398.3,1328.8 399.3,1328.6 400.3,1328.7 401.3,1329.1 402.1,1329.3 402.1,1330.7Z" fill="#86c05c"/>
<path d="M242.3,1372.7L242.3,1371.3 271.3,1371.3 272.3,1370.4 273.3,1369.7 274.3,1369.7 275.3,1370 276.3,1371 277.3,1371.3 298.3,1371.3 299.3,1371.2 300.3,1369.1 301.3,1367.8 302.3,1367.5 303.3,1366.5 304.3,1364.4 305.3,1362.9 306.3,1362.5 307.3,1362.6 308.3,1363.7 309.3,1364.1 310.3,1359.4 311.3,1353.2 312.3,1350.1 313.3,1349.7 314.3,1350.3 315.3,1353.8 316.3,1360.5 317.3,1365.6 318.3,1365.4 319.3,1364 320.3,1363.8 321.3,1364.2 322.3,1364.2 323.3,1365.1 324.3,1361.9 325.3,1360.1 326.3,1359.5 327.3,1358 328.3,1355.3 329.3,1352.6 330.3,1351.1 331.3,1350.9 332.3,1350.8 333.3,1352.2 334.3,1356.2 335.3,1360.5 336.3,1362.4 337.3,1364.4 338.3,1368.1 339.3,1371.3 369.3,1371.3 370.3,1370.6 371.3,1369.8 372.3,1369.7 373.3,1369.9 374.3,1370.9 375.3,1371.3 397.3,1371.3 398.3,1370.3 399.3,1369.1 400.3,1368.9 401.3,1369.1 402.1,1369.9 402.1,1372.7Z" fill="#9580bb"/>
<path d="M263,1414.8L263,1413.4 264,1412 265,1410.2 266,1409.7 267,1409.8 268,1410.7 269,1412.7 270,1413.4 297,1413.4 298,1409.9 299,1402.9 300,1395.5 301,1391.4 302,1390.5 303,1390.5 304,1391.7 305,1394.5 306,1397.6 307,1398.3 308,1394.3 309,1388.5 310,1385.8 311,1385.7 312,1384.7 313,1380.3 314,1375.3 315,1374.2 316,1374.7 317,1376.1 318,1377.5 319,1383 320,1393.4 321,1404.4 322,1406.2 323,1405.4 324,1399.4 325,1396.1 326,1395.6 327,1395.9 328,1397.9 329,1399 330,1394.9 331,1388.9 332,1385.8 333,1385.3 334,1386 335,1389.6 336,1397.3 337,1405.9 338,1410.7 339,1410.5 340,1409.7 341,1409.7 342,1410.3 343,1412.1 344,1413.4 396,1413.4 397,1409.8 398,1404.3 399,1400.5 400,1399.5 401,1399.6 402,1401.5 402.1,1401.9 402.1,1414.8Z" fill="#cf4a26"/>
<path d="M300.9,1456.9L300.9,1455.5 301.9,1452.8 302.9,1446.3 303.9,1439.5 304.9,1435.8 305.9,1435 306.9,1434.2 307.9,1433.2 308.9,1433 309.9,1433.9 310.9,1434.8 311.9,1435 312.9,1435.5 313.9,1435.9 314.9,1435.5 315.9,1435 316.9,1435.1 317.9,1435.8 318.9,1439.5 319.9,1446.3 320.9,1449.7 321.9,1447 322.9,1447 323.9,1447.1 324.9,1447.4 325.9,1449.1 326.9,1449.5 327.9,1440.9 328.9,1432.8 329.9,1428.4 330.9,1427.4 331.9,1427.2 332.9,1428.3 333.9,1432.5 334.9,1439.4 335.9,1444.7 336.9,1447.4 337.9,1450.8 338.9,1454.6 339.9,1455.5 358.9,1455.5 359.9,1452.9 360.9,1450.2 361.9,1449.2 362.9,1449.2 363.9,1450.2 364.9,1452.9 365.9,1454.8 366.9,1453.7 367.9,1453.4 368.9,1453.4 369.9,1453.4 370.9,1453.9 371.9,1455.1 372.9,1452.3 373.9,1449.9 374.9,1449.2 375.9,1449.3 376.9,1450.6 377.9,1453.5 378.3,1454.6 378.3,1456.9Z" fill="#3bb09e"/>
<path d="M263,1499L263,1497.5 264,1497.4 265,1496.2 266,1495.9 267,1495.9 268,1496.5 269,1497.5 284,1497.5 285,1497.5 286,1497 287,1496.9 288,1497.1 289,1497.5 303,1497.5 304,1497 305,1492.7 306,1487.3 307,1484.2 308,1483.6 309,1483.9 310,1486.4 311,1490.5 312,1489.2 313,1479.9 314,1470 315,1464.4 316,1463.1 317,1463.3 318,1466.1 319,1473.8 320,1484.5 321,1489.5 322,1488.5 323,1488 324,1485.9 325,1482.8 326,1482 327,1480.5 328,1477.9 329,1475.6 330,1474.6 331,1474.5 332,1474.9 333,1477.4 334,1482.2 335,1486.4 336,1488.1 337,1488.6 338,1489.4 339,1492.1 340,1496 341,1497.5 345,1497.5 346,1497 347,1496.9 348,1497 349,1497.5 355,1497.5 356,1497.1 357,1496.9 358,1496.9 359,1497.4 360,1497.5 367,1497.5 368,1497.4 369,1496.6 370,1496.4 371,1496.5 372,1497 373,1497.2 374,1496.6 375,1496.4 376,1496.5 377,1497.1 378,1497.5 378.3,1497.5 378.3,1499Z" fill="#7a1618"/>
<path d="M472.3,910L472.3,908.6 473.3,907.9 474.3,906.6 475.3,906.1 476.3,906.2 477.3,906.9 478.3,908.2 479.3,908.2 480.3,908.1 481.3,905.5 482.3,903.9 483.3,903.6 484.3,903.8 485.3,905 486.3,904.5 487.3,899.9 488.3,895.9 489.3,894.2 490.3,892.3 491.3,889.9 492.3,890.4 493.3,893.1 494.3,894.6 495.3,896.8 496.1,900.8 496.1,910Z" fill="#d42127"/>
<path d="M476.4,952L476.4,950.6 477.4,950.6 478.4,948.1 479.4,943.8 480.4,941.1 481.4,940.5 482.4,940.8 483.4,942.7 484.4,945.3 485.4,945.4 486.4,944.5 487.4,944.4 488.4,944.8 489.4,945.7 490.4,945.4 491.4,944.5 492.4,944.4 493.4,944.8 494.4,946.9 495.4,949.9 496.4,950.6 527.4,950.6 528.4,950 529.4,948.6 530.4,948.2 531.4,948.3 532.4,949 533.4,950.6 533.7,950.6 533.7,952Z" fill="#2b3a80"/>
<path d="M403.1,994.1L403.1,990.9 404.1,990.3 405.1,990.3 406.1,990.8 407.1,992.3 408.1,992.7 461.1,992.7 462.1,990.9 463.1,989.7 464.1,989.5 465.1,989.7 466.1,991 467.1,992.7 488.1,992.7 489.1,989.8 490.1,986.6 491.1,985.2 492.1,985.2 493.1,986 494.1,988.8 495.1,992.1 496.1,992.7 510.1,992.7 511.1,992.6 512.1,990.5 513.1,989.2 514.1,989 515.1,989.3 516.1,990.7 517.1,992.7 517.3,992.7 517.3,994.1Z" fill="#1f8a3c"/>
<path d="M470.5,1036.2L470.5,1034.8 471.5,1034.8 472.5,1032.3 473.5,1028 474.5,1025.2 475.5,1024.6 476.5,1024.6 477.5,1024.5 478.5,1021.6 479.5,1015.1 480.5,1009.8 481.5,1008.1 482.5,1008 483.5,1009.6 484.5,1013.9 485.5,1016.9 486.5,1011.5 487.5,1001.7 488.5,995.6 489.5,995.6 490.5,995.6 491.5,995.6 492.5,995.6 493.5,997.5 494.5,1005.9 495.5,1014.3 496.1,1020.2 496.1,1036.2Z" fill="#84208a"/>
<path d="M472.3,1078.2L472.3,1076.8 473.3,1076.5 474.3,1073 475.3,1069.5 476.3,1068.1 477.3,1068 478.3,1069 479.3,1071.8 480.3,1073.3 481.3,1070.6 482.3,1068.4 483.3,1068 484.3,1068.2 485.3,1068.8 486.3,1066.1 487.3,1058.4 488.3,1050.6 489.3,1044.8 490.3,1038.8 491.3,1037.7 492.3,1037.7 493.3,1037.7 494.3,1043.7 495.3,1049.4 496.1,1055.3 496.1,1078.2Z" fill="#ef7f2c"/>
<path d="M432,1120.3L432,1118.9 433,1118.9 434,1118.9 435,1118.3 436,1118.3 437,1118.4 438,1118.9 472,1118.9 473,1118.5 474,1118.3 475,1118.3 476,1118.8 477,1118.9 478,1118.9 479,1117.9 480,1117.3 481,1117.3 482,1117.6 483,1118.3 484,1118.3 485,1117.8 486,1117.8 487,1118 488,1118.5 489,1117.5 490,1115.2 491,1114 492,1113.9 493,1114.5 494,1116.6 495,1118.9 496,1118.9 497,1118.3 498,1117.8 499,1117.8 500,1118.1 501,1118.9 504,1118.9 505,1118.5 506,1118.3 507,1118.3 508,1118.8 509,1118.9 510,1118.9 511,1118.8 512,1118.3 513,1118.3 514,1118.5 515,1118.9 539,1118.9 540,1118.5 541,1117.5 542,1117.2 543,1117.3 544,1118.1 545,1118.9 545.5,1118.9 545.5,1120.3Z" fill="#f2de1b"/>
<path d="M432,1162.4L432,1161 470,1161 471,1160.5 472,1155.7 473,1148.9 474,1143.7 475,1142 476,1141.8 477,1142 478,1141.6 479,1138.1 480,1132.7 481,1129.6 482,1128.9 483,1128.4 484,1128.7 485,1131.4 486,1136 487,1139.2 488,1139 489,1137.3 490,1136.4 491,1137 492,1137.8 493,1138.3 494,1140.9 495,1147.1 496,1154 497,1157 498,1157.2 499,1157.2 500,1157.2 501,1158 502,1159 503,1159.3 504,1159.8 505,1161 561.4,1161 561.4,1162.4Z" fill="#8296c8"/>
<path d="M456.9,1204.5L456.9,1203.1 457.9,1201.9 458.9,1201.4 459.9,1201.4 460.9,1201.8 461.9,1203 466.9,1203.1 467.9,1202.8 468.9,1201.3 469.9,1200.7 470.9,1200.5 471.9,1199.8 472.9,1197.1 473.9,1193.5 474.9,1191.8 475.9,1191.5 476.9,1191.2 477.9,1188.9 478.9,1182.1 479.9,1174 480.9,1169.4 481.9,1168.6 482.9,1169 483.9,1172.7 484.9,1181.1 485.9,1190.6 486.9,1193 487.9,1188 488.9,1183.8 489.9,1182.7 490.9,1182.9 491.9,1185.1 492.9,1190.8 493.9,1197.9 494.9,1202.6 495.9,1202.7 496.9,1202.7 497.9,1202 498.9,1200.8 499.9,1200.6 500.9,1200.8 501.9,1201.8 502.9,1203.1 503.8,1203.1 503.8,1204.5Z" fill="#b865a3"/>
<path d="M420.5,1246.5L420.5,1245.1 469.5,1245.1 470.5,1244.5 471.5,1240.4 472.5,1236 473.5,1233.9 474.5,1233.7 475.5,1234.4 476.5,1236.9 477.5,1237.5 478.5,1230.7 479.5,1221.3 480.5,1215.1 481.5,1213.3 482.5,1213.3 483.5,1215.2 484.5,1221.2 485.5,1229 486.5,1230.6 487.5,1224.4 488.5,1218.3 489.5,1216 490.5,1215.8 491.5,1216.9 492.5,1220.8 493.5,1226.2 494.5,1230.1 495.5,1231.8 496.5,1232.4 497.5,1233.6 498.5,1236.7 499.5,1237.6 500.5,1234.2 501.5,1231.6 502.5,1231.2 503.5,1231.6 504.5,1234.5 505.5,1239.8 506.5,1244.4 507.5,1245.1 509.7,1245.1 509.7,1246.5Z" fill="#d3a062"/>
<path d="M454.3,1288.6L454.3,1287.2 471.3,1287.2 472.3,1284 473.3,1278.9 474.3,1275.4 475.3,1274.5 476.3,1274.4 477.3,1274.5 478.3,1272.6 479.3,1266.9 480.3,1261.5 481.3,1259.3 482.3,1259.2 483.3,1260.4 484.3,1265 485.3,1271.6 486.3,1272.3 487.3,1264.6 488.3,1256.7 489.3,1253.1 490.3,1252.7 491.3,1253.6 492.3,1258.4 493.3,1267.9 494.3,1278.4 495.3,1284.8 496.3,1284.7 497.3,1282.8 498.3,1282.2 499.3,1282.3 500.3,1283.3 501.3,1284.8 502.3,1285 503.3,1284.8 504.3,1284.8 505.3,1285.4 506.3,1286.9 507.3,1287.2 511.5,1287.2 511.5,1288.6Z" fill="#8fd0dc"/>
<path d="M439.7,1330.7L439.7,1329.3 469.7,1329.3 470.7,1328.9 471.7,1325.3 472.7,1321.9 473.7,1320.5 474.7,1320.4 475.7,1321.4 476.7,1323.5 477.7,1321.8 478.7,1313.5 479.7,1304.7 480.7,1299.8 481.7,1298.7 482.7,1298.9 483.7,1301.4 484.7,1308.1 485.7,1315.5 486.7,1315.7 487.7,1309.3 488.7,1304.1 489.7,1302.5 490.7,1302.6 491.7,1304.3 492.7,1309.2 493.7,1315.2 494.7,1318.8 495.7,1320.1 496.7,1320.5 497.7,1321.9 498.7,1324.7 499.7,1324.5 500.7,1321.2 501.7,1319.3 502.7,1319.1 503.7,1319.9 504.7,1322.9 505.7,1327.2 506.7,1329.3 509.7,1329.3 509.7,1330.7Z" fill="#86c05c"/>
<path d="M432,1372.7L432,1371.3 471,1371.3 472,1370.8 473,1367.3 474,1363.8 475,1362.6 476,1362.4 477,1362.4 478,1360.7 479,1354.8 480,1348.3 481,1345 482,1344.6 483,1345.1 484,1348.5 485,1354.1 486,1357.7 487,1357.6 488,1357.1 489,1356.1 490,1355 491,1356.6 492,1359.7 493,1361.2 494,1363.3 495,1367.4 496,1369.9 497,1369.9 498,1369.3 499,1367.1 500,1366.4 501,1366.4 502,1367.4 503,1369.8 504,1371.3 517.9,1371.3 517.9,1372.7Z" fill="#9580bb"/>
<path d="M432,1414.8L432,1413.4 433,1413.3 434,1411.4 435,1410.3 436,1410.2 437,1410.5 438,1412 439,1413.4 470,1413.4 471,1411.5 472,1407.2 473,1404.1 474,1403.3 475,1403.4 476,1405 477,1406.7 478,1402 479,1391.4 480,1382.3 481,1378.1 482,1376.3 483,1374.2 484,1374.2 485,1374.8 486,1381.2 487,1385.1 488,1385.8 489,1386.5 490,1389 491,1392.2 492,1394 493,1395.4 494,1399.7 495,1406.5 496,1409 497,1409 498,1409 499,1405.8 500,1402.7 501,1402 502,1402.2 503,1404.4 504,1408.8 505,1412.9 506,1413.4 509.7,1413.4 509.7,1414.8Z" fill="#cf4a26"/>
<path d="M466.1,1456.9L466.1,1455.5 468.1,1455.5 469.1,1452.5 470.1,1449.3 471.1,1448 472.1,1447.9 473.1,1448.8 474.1,1451.6 475.1,1452.9 476.1,1452.9 477.1,1452.9 478.1,1450.1 479.1,1442.4 480.1,1435.8 481.1,1432.9 482.1,1432.5 483.1,1433.3 484.1,1437 485.1,1444 486.1,1445.9 487.1,1444.5 488.1,1434.9 489.1,1427.1 490.1,1423.9 491.1,1423.6 492.1,1424.5 493.1,1429 494.1,1437.8 495.1,1447.6 496.1,1450.6 497.1,1450.6 498.1,1450.6 499.1,1450.6 500.1,1447.7 501.1,1443.9 502.1,1442.8 503.1,1442.9 504.1,1444.6 505.1,1448.9 506.1,1453.8 507.1,1455.5 507.6,1455.5 507.6,1456.9Z" fill="#3bb09e"/>
<path d="M432,1499L432,1497.5 433,1497.5 434,1497.5 435,1497 436,1496.9 437,1497.1 438,1497.5 471,1497.5 472,1495 473,1489.7 474,1485.2 475,1483.6 476,1483.4 477,1482.8 478,1479.3 479,1470.8 480,1461.8 481,1458.4 482,1458.4 483,1458.4 484,1462.6 485,1473.1 486,1480.7 487,1480.7 488,1472.6 489,1462.9 490,1458.5 491,1458.4 492,1458.8 493,1464 494,1474.5 495,1486.7 496,1495 497,1497.5 500,1497.5 501,1497.2 502,1496.9 503,1496.9 504,1497.3 505,1497.5 510,1497.5 511,1497.4 512,1496.9 513,1496.9 514,1497.1 515,1497.5 515.3,1497.5 515.3,1499Z" fill="#7a1618"/>
<path d="M628,910L628,908.6 629,908.6 630,908.3 631,904.8 632,901.3 633,899.8 634,899.7 635,900.7 636,903.7 637,905.4 638,905.4 639,905.4 640,905.4 641,901.8 642,898.2 643,897.2 644,897.3 645,898.9 646,903 647,907.4 648,908.6 662,908.6 663,907.1 664,905.7 665,905.4 666,905.5 667,906.6 668,908.5 669,908.6 669,910Z" fill="#d42127"/>
<path d="M626,952L626,950.6 629,950.6 630,949.5 631,946.1 632,943.6 633,943.1 634,943.3 635,945 636,948.3 637,950.2 638,949.5 639,949 640,949 641,949.4 642,950.5 643,950.6 644,950 645,949.1 646,949 647,949.1 648,949.3 649,949.2 650,949 651,949 652,949.4 653,950.5 653.7,950.6 653.7,952Z" fill="#2b3a80"/>
<path d="M630.1,994.1L630.1,992.3 631.1,988.8 632.1,985.3 633.1,983.9 634.1,983.9 635.1,984.9 636.1,988.1 637.1,989.5 638.1,989.5 639.1,989.5 640.1,989.5 641.1,984.7 642.1,981 643.1,980 644.1,980.2 645.1,982 646.1,986.5 647.1,991.2 648.1,992.7 648.5,992.7 648.5,994.1Z" fill="#1f8a3c"/>
<path d="M628,1036.2L628,1034.8 629,1034.4 630,1030.1 631,1024.7 632,1021.5 633,1020.8 634,1021.1 635,1023.6 636,1028.7 637,1029.3 638,1029.3 639,1029.3 640,1029.3 641,1023.8 642,1019.5 643,1018.3 644,1018.4 645,1020.3 646,1025.3 647,1031.4 648,1034.8 661,1034.8 662,1033.8 663,1032.1 664,1031.6 665,1031.6 666,1032.4 667,1034.2 668,1034.8 673,1034.8 674,1034.4 675,1034.1 676,1034.2 677,1034.5 678,1034.8 706,1034.8 707,1034.6 708,1034.2 709,1034.1 710,1034.4 711,1034.8 711.3,1034.8 711.3,1036.2Z" fill="#84208a"/>
<path d="M629.3,1078.2L629.3,1073.6 630.3,1066.6 631.3,1058.7 632.3,1053.9 633.3,1052.7 634.3,1052.8 635.3,1054.9 636.3,1060.8 637.3,1066.7 638.3,1066.7 639.3,1066.7 640.3,1064.4 641.3,1057.1 642.3,1053.3 643.3,1052.6 644.3,1053 645.3,1056.1 646.3,1062.9 647.3,1070.8 648.3,1076 649.3,1076.8 662.3,1076.8 663.3,1075.5 664.3,1074.5 665.3,1074.4 666.3,1074.7 667.3,1075.9 668.3,1076.8 669,1076.8 669,1078.2Z" fill="#ef7f2c"/>
<path d="M564.2,1120.3L564.2,1118.9 567.2,1118.9 568.2,1118.3 569.2,1118.3 570.2,1118.4 571.2,1118.9 629.2,1118.9 630.2,1116.3 631.2,1112.5 632.2,1110.4 633.2,1110.1 634.2,1110.5 635.2,1113 636.2,1116.9 637.2,1117.1 638.2,1117.1 639.2,1117.1 640.2,1117.1 641.2,1115.7 642.2,1113.6 643.2,1113.1 644.2,1113.3 645.2,1114.8 646.2,1117.6 647.2,1118.9 662.2,1118.9 663.2,1117.7 664.2,1116.6 665.2,1116.5 666.2,1116.7 667.2,1117.8 668.2,1118.9 669,1118.9 669,1120.3Z" fill="#f2de1b"/>
<path d="M564.2,1162.4L564.2,1161 628.2,1161 629.2,1159.9 630.2,1155.2 631.2,1150 632.2,1147.4 633.2,1147 634.2,1147.6 635.2,1150.7 636.2,1155.5 637.2,1155.5 638.2,1155.5 639.2,1154.5 640.2,1145.9 641.2,1137.9 642.2,1133.8 643.2,1132.9 644.2,1133.2 645.2,1136 646.2,1142.9 647.2,1151.8 648.2,1158.6 649.2,1161 662.2,1161 663.2,1160.7 664.2,1159.9 665.2,1159.8 666.2,1160 667.2,1160.8 668.2,1161 711.3,1161 711.3,1162.4Z" fill="#8296c8"/>
<path d="M626,1204.5L626,1203.1 628,1203.1 629,1202 630,1197 631,1190.9 632,1187.3 633,1186.5 634,1186.8 635,1189.3 636,1194.8 637,1196.4 638,1196.4 639,1196.4 640,1196.4 641,1190.4 642,1183.7 643,1180.5 644,1180.1 645,1180.8 646,1184.4 647,1191.4 648,1198.8 649,1203 662,1203.1 663,1202.7 664,1201.6 665,1201.4 666,1201.5 667,1202.2 668,1203.1 670,1203.1 671,1203 672,1201.4 673,1200.7 674,1200.6 675,1201.1 676,1202.4 677,1203.1 680,1203 681,1202.5 682,1202.4 683,1202.6 684,1203.1 719,1203.1 720,1202.8 721,1202.4 722,1202.4 723,1202.7 724,1203.1 724.1,1203.1 724.1,1204.5Z" fill="#b865a3"/>
<path d="M601.9,1246.5L601.9,1245.1 628.9,1245.1 629.9,1241.9 630.9,1236.8 631.9,1233.3 632.9,1232.4 633.9,1232.6 634.9,1234.6 635.9,1239.2 636.9,1240.2 637.9,1240.2 638.9,1240.2 639.9,1240.2 640.9,1233.1 641.9,1226.2 642.9,1222.7 643.9,1222.2 644.9,1222.7 645.9,1226 646.9,1232.8 647.9,1240.3 648.9,1244.9 649.9,1245.1 662.9,1245.1 663.9,1244.7 664.9,1244.5 665.9,1244.5 666.9,1245 667.9,1245.1 676.7,1245.1 676.7,1246.5Z" fill="#d3a062"/>
<path d="M564.2,1288.6L564.2,1287.2 628.2,1287.2 629.2,1285.7 630.2,1280.5 631.2,1275 632.2,1272.3 633.2,1271.9 634.2,1272.5 635.2,1275.8 636.2,1281.1 637.2,1281.1 638.2,1281.1 639.2,1277 640.2,1264.7 641.2,1253.4 642.2,1248 643.2,1248 644.2,1248 645.2,1250.7 646.2,1260.4 647.2,1273.1 648.2,1283 649.2,1287.2 662.2,1287.2 663.2,1286.9 664.2,1286.2 665.2,1286 666.2,1286.2 667.2,1287 668.2,1287.2 673.2,1287.2 674.2,1286.7 675.2,1286.6 676.2,1286.6 677.2,1287.1 678.2,1287.2 712.6,1287.2 712.6,1288.6Z" fill="#8fd0dc"/>
<path d="M564.2,1330.7L564.2,1329.3 628.2,1329.3 629.2,1325.5 630.2,1318.6 631.2,1312.3 632.2,1309.3 633.2,1308.9 634.2,1309.5 635.2,1313.1 636.2,1319.8 637.2,1320.9 638.2,1320.9 639.2,1319.4 640.2,1307.5 641.2,1296.5 642.2,1290.8 643.2,1290.1 644.2,1290.1 645.2,1293.9 646.2,1303.3 647.2,1315.6 648.2,1325.2 649.2,1329.3 672.2,1329.3 673.2,1328.7 674.2,1328.6 675.2,1328.8 676.2,1329.3 715.1,1329.3 715.1,1330.7Z" fill="#86c05c"/>
<path d="M574.2,1372.7L574.2,1371.3 629.2,1371.3 630.2,1368 631.2,1363.8 632.2,1361.5 633.2,1361.2 634.2,1361.7 635.2,1364.3 636.2,1367.6 637.2,1367.6 638.2,1367.6 639.2,1367.6 640.2,1366.2 641.2,1360.4 642.2,1356.9 643.2,1356.1 644.2,1356.4 645.2,1358.8 646.2,1364 647.2,1369.4 648.2,1371.3 662.2,1371.3 663.2,1371 664.2,1370.3 665.2,1370.2 666.2,1370.3 667.2,1371.1 668.2,1371.3 724.1,1371.3 724.1,1372.7Z" fill="#9580bb"/>
<path d="M610.1,1414.8L610.1,1413.4 611.1,1413.1 612.1,1412.8 613.1,1412.8 614.1,1413.1 615.1,1413.4 628.1,1413.4 629.1,1411.4 630.1,1406.5 631.1,1402.3 632.1,1400.8 633.1,1400.8 634.1,1402 635.1,1406 636.1,1408.5 637.1,1408.5 638.1,1408.5 639.1,1408.5 640.1,1404.1 641.1,1395.2 642.1,1388.4 643.1,1385.6 644.1,1385.3 645.1,1386.2 646.1,1390.4 647.1,1398.4 648.1,1407 649.1,1412.5 650.1,1413.4 665.1,1413.4 666.1,1412.8 667.1,1412.3 668.1,1412.3 669.1,1412.6 670.1,1413.4 686.1,1413.4 687.1,1412.9 688.1,1412.8 689.1,1412.8 690.1,1413.4 692.1,1413.4 693.1,1413.1 694.1,1412.8 695.1,1412.8 696.1,1413.1 697.1,1413.4 703.1,1413.4 704.1,1413.2 705.1,1412.4 706.1,1412.2 707.1,1412.4 708.1,1413.1 709.1,1413.4 714.1,1413.4 715.1,1413 716.1,1412.8 717.1,1412.8 718.1,1413.2 719,1413.4 719,1414.8Z" fill="#cf4a26"/>
<path d="M564.2,1456.9L564.2,1455.5 629.2,1455.5 630.2,1452.1 631.2,1447.9 632.2,1445.7 633.2,1445.4 634.2,1445.9 635.2,1448.5 636.2,1451.7 637.2,1451.7 638.2,1451.7 639.2,1451.7 640.2,1450.3 641.2,1444.5 642.2,1441 643.2,1440.2 644.2,1440.5 645.2,1442.9 646.2,1448.2 647.2,1453.6 648.2,1455.5 660.2,1455.5 661.2,1455.3 662.2,1452.8 663.2,1450.9 664.2,1450.5 665.2,1450.6 666.2,1452 667.2,1454.5 668.2,1455.5 669,1455.5 669,1456.9Z" fill="#3bb09e"/>
<path d="M564.2,1499L564.2,1497.5 629.2,1497.5 630.2,1495.6 631.2,1492.2 632.2,1490.3 633.2,1490 634.2,1490.4 635.2,1492.7 636.2,1494.9 637.2,1494.9 638.2,1494.9 639.2,1492.6 640.2,1484.7 641.2,1477 642.2,1472.9 643.2,1472.1 644.2,1472.4 645.2,1475.1 646.2,1481.8 647.2,1490.1 648.2,1496.1 649.2,1497.5 661.2,1497.5 662.2,1497.4 663.2,1495.3 664.2,1494 665.2,1493.8 666.2,1494.1 667.2,1495.5 668.2,1497.5 676.7,1497.5 676.7,1499Z" fill="#7a1618"/>
<path d="M787.3,910L787.3,908.6 788.3,908.6 789.3,907.6 790.3,905.6 791.3,904.6 792.3,903.4 793.3,899.7 794.3,895 795.3,891.9 796.3,889.9 797.3,885.8 798.3,881.7 799.3,881.3 800.3,883.5 801.3,884.9 802.3,886.7 803.3,891.1 804.3,896.6 805.3,900.5 806.3,901.9 807.3,903 808.3,905.8 808.7,907.1 808.7,910Z" fill="#d42127"/>
<path d="M791.2,952L791.2,950.6 792.2,950.6 793.2,948.7 794.2,944.3 795.2,941 796.2,940.2 797.2,940.3 798.2,942 799.2,946 800.2,949.5 801.2,949.6 802.2,948.9 803.2,948.7 804.2,949 805.2,950 806.2,950.6 841.2,950.6 842.2,950.2 843.2,948.7 844.2,948.1 845.2,948.1 846.2,948.7 847.2,950.2 848.2,950.6 848.7,950.6 848.7,952Z" fill="#2b3a80"/>
<path d="M783.3,994.1L783.3,992.7 784.3,991.6 785.3,990 786.3,989.5 787.3,989.6 788.3,990.5 789.3,992 790.3,992 791.3,992 792.3,992 793.3,989.3 794.3,984.3 795.3,981 796.3,980.2 797.3,980.4 798.3,982.6 799.3,987.3 800.3,990.5 801.3,990.5 802.3,989 803.3,986.7 804.3,986.1 805.3,986.3 806.3,987.8 807.3,990.9 808.3,992.7 808.7,992.7 808.7,994.1Z" fill="#1f8a3c"/>
<path d="M780.9,1036.2L780.9,1034.8 781.9,1034.8 782.9,1033.6 783.9,1032.9 784.9,1032.9 785.9,1033.2 786.9,1034.4 787.9,1034.7 788.9,1034.7 789.9,1034.7 790.9,1034.4 791.9,1029.7 792.9,1022.1 793.9,1015.1 794.9,1011.5 795.9,1009.6 796.9,1005.6 797.9,1001.3 798.9,1000.4 799.9,1002.4 800.9,1004.1 801.9,1005.3 802.9,1009.1 803.9,1015.8 804.9,1022.9 805.9,1027 806.9,1028.5 807.9,1030.7 808.7,1033.3 808.7,1036.2Z" fill="#84208a"/>
<path d="M789.3,1078.2L789.3,1076.8 790.3,1075.3 791.3,1069.7 792.3,1063.2 793.3,1059.3 794.3,1058.4 795.3,1058.1 796.3,1057.3 797.3,1054.3 798.3,1048.7 799.3,1044.1 800.3,1042.7 801.3,1042.8 802.3,1044.9 803.3,1050.8 804.3,1059.3 805.3,1066.6 806.3,1069.7 807.3,1071.3 808.3,1074.1 808.7,1075.3 808.7,1078.2Z" fill="#ef7f2c"/>
<path d="M789.3,1120.3L789.3,1118.9 790.3,1118.9 791.3,1118.3 792.3,1115.2 793.3,1112.9 794.3,1112.3 795.3,1112.5 796.3,1113.6 797.3,1113.9 798.3,1110.2 799.3,1106.3 800.3,1105.1 801.3,1105.2 802.3,1106.9 803.3,1111.2 804.3,1115.8 805.3,1118 806.3,1118.3 807.3,1118.7 808.3,1118.9 821.3,1118.9 822.3,1118.7 823.3,1118.7 824.3,1118.9 826.6,1118.9 826.6,1120.3Z" fill="#f2de1b"/>
<path d="M724.5,1162.4L724.5,1161 789.5,1161 790.5,1157.6 791.5,1150.9 792.5,1144.4 793.5,1141.1 794.5,1140.5 795.5,1140.1 796.5,1139.1 797.5,1135.7 798.5,1130.2 799.5,1126.3 800.5,1125.3 801.5,1125 802.5,1126.3 803.5,1131.7 804.5,1140.4 805.5,1147 806.5,1150.2 807.5,1154.2 808.5,1158.9 809.5,1161 821.5,1161 822.5,1160.8 823.5,1160.8 824.5,1161 885.3,1161 885.3,1162.4Z" fill="#8296c8"/>
<path d="M787.3,1204.5L787.3,1203.1 789.3,1203.1 790.3,1201.8 791.3,1196.5 792.3,1190.1 793.3,1186.3 794.3,1185.4 795.3,1185 796.3,1183.8 797.3,1179.8 798.3,1173.1 799.3,1167.8 800.3,1166.2 801.3,1165.8 802.3,1166.7 803.3,1171.5 804.3,1180.2 805.3,1188 806.3,1191.7 807.3,1195.3 808.3,1200.1 808.7,1201.7 808.7,1204.5Z" fill="#b865a3"/>
<path d="M743.1,1246.5L743.1,1245.1 790.1,1245.1 791.1,1243.3 792.1,1236.9 793.1,1228.4 794.1,1221.8 795.1,1218.7 796.1,1216 797.1,1210.1 798.1,1206 799.1,1206 800.1,1206 801.1,1206.5 802.1,1208.2 803.1,1213.5 804.1,1223.3 805.1,1232.9 806.1,1237.8 807.1,1240.7 808.1,1243.9 809.1,1245.1 820.1,1245.1 821.1,1245.1 822.1,1244.6 823.1,1244.5 824.1,1244.7 825.1,1245.1 862.5,1245.1 862.5,1246.5Z" fill="#d3a062"/>
<path d="M725,1288.6L725,1287.2 789,1287.2 790,1285 791,1278.5 792,1270.7 793,1265.3 794,1263.6 795,1263.3 796,1262.8 797,1260.7 798,1256.1 799,1251.3 800,1249.1 801,1248.8 802,1249 803,1252.6 804,1261 805,1270 806,1274.9 807,1278.2 808,1282.9 808.7,1285.9 808.7,1288.6Z" fill="#8fd0dc"/>
<path d="M731.2,1330.7L731.2,1329.3 733.2,1329.3 734.2,1329.1 735.2,1329.1 736.2,1329.3 789.2,1329.3 790.2,1325.7 791.2,1318.5 792.2,1310.7 793.2,1306.1 794.2,1304.9 795.2,1304.6 796.2,1303.8 797.2,1301 798.2,1295.8 799.2,1291.3 800.2,1290.1 801.2,1290.1 802.2,1290.2 803.2,1295 804.2,1304.4 805.2,1313.2 806.2,1317.5 807.2,1321.1 808.2,1325.9 809.2,1329.3 848.7,1329.3 848.7,1330.7Z" fill="#86c05c"/>
<path d="M731.2,1372.7L731.2,1371.3 789.2,1371.3 790.2,1370.4 791.2,1365.4 792.2,1359 793.2,1354.8 794.2,1353.8 795.2,1353.8 796.2,1355.2 797.2,1356.9 798.2,1355.5 799.2,1352.3 800.2,1350.7 801.2,1349.2 802.2,1347.6 803.2,1349.3 804.2,1354.1 805.2,1357.5 806.2,1360.2 807.2,1364.9 808.2,1369.8 809.2,1371.3 832.8,1371.3 832.8,1372.7Z" fill="#9580bb"/>
<path d="M787.3,1414.8L787.3,1413.4 789.3,1413.4 790.3,1410.8 791.3,1404.4 792.3,1397.3 793.3,1393.3 794.3,1392.4 795.3,1392.2 796.3,1392.1 797.3,1390.9 798.3,1387.5 799.3,1384.1 800.3,1381.9 801.3,1378.6 802.3,1375.8 803.3,1378.2 804.3,1384.8 805.3,1390.4 806.3,1394.9 807.3,1401.3 808.3,1408.6 809.3,1413.1 810.3,1413.4 820.3,1413.4 821.3,1412.9 822.3,1412.4 823.3,1412.4 824.3,1412.7 825.3,1413.4 826.6,1413.4 826.6,1414.8Z" fill="#cf4a26"/>
<path d="M787.3,1456.9L787.3,1455.2 788.3,1453.5 789.3,1451.4 790.3,1445.9 791.3,1436.9 792.3,1428.5 793.3,1424.1 794.3,1423.2 795.3,1423.1 796.3,1424.1 797.3,1425.9 798.3,1427 799.3,1427 800.3,1426.8 801.3,1425.9 802.3,1425.2 803.3,1428.6 804.3,1435.7 805.3,1441.5 806.3,1445.1 807.3,1449 808.3,1452.4 809.3,1453.6 810.3,1454.6 810.8,1455.3 810.8,1456.9Z" fill="#3bb09e"/>
<path d="M751,1499L751,1497.5 790,1497.5 791,1495 792,1488.5 793,1481.5 794,1477.4 795,1476.2 796,1474.2 797,1469.7 798,1464.2 799,1460.5 800,1459.2 801,1459.1 802,1459.4 803,1463 804,1471.3 805,1480.4 806,1485.2 807,1488.5 808,1493.2 809,1497.2 810,1497.5 810.4,1497.5 810.4,1499Z" fill="#7a1618"/>
<line x1="81.5" y1="910.6" x2="885.3" y2="910.6" stroke="#231f20" stroke-width="1.5"/>
<line x1="81.5" y1="952.6" x2="885.3" y2="952.6" stroke="#231f20" stroke-width="1.5"/>
<line x1="81.5" y1="994.7" x2="885.3" y2="994.7" stroke="#231f20" stroke-width="1.5"/>
<line x1="81.5" y1="1036.8" x2="885.3" y2="1036.8" stroke="#231f20" stroke-width="1.5"/>
<line x1="81.5" y1="1078.8" x2="885.3" y2="1078.8" stroke="#231f20" stroke-width="1.5"/>
<line x1="81.5" y1="1120.9" x2="885.3" y2="1120.9" stroke="#231f20" stroke-width="1.5"/>
<line x1="81.5" y1="1163" x2="885.3" y2="1163" stroke="#231f20" stroke-width="1.5"/>
<line x1="81.5" y1="1205.1" x2="885.3" y2="1205.1" stroke="#231f20" stroke-width="1.5"/>
<line x1="81.5" y1="1247.1" x2="885.3" y2="1247.1" stroke="#231f20" stroke-width="1.5"/>
<line x1="81.5" y1="1289.2" x2="885.3" y2="1289.2" stroke="#231f20" stroke-width="1.5"/>
<line x1="81.5" y1="1331.3" x2="885.3" y2="1331.3" stroke="#231f20" stroke-width="1.5"/>
<line x1="81.5" y1="1373.3" x2="885.3" y2="1373.3" stroke="#231f20" stroke-width="1.5"/>
<line x1="81.5" y1="1415.4" x2="885.3" y2="1415.4" stroke="#231f20" stroke-width="1.5"/>
<line x1="81.5" y1="1457.5" x2="885.3" y2="1457.5" stroke="#231f20" stroke-width="1.5"/>
<line x1="81.5" y1="1499.5" x2="885.3" y2="1499.5" stroke="#231f20" stroke-width="1.5"/>
<line x1="242.3" y1="868.5" x2="242.3" y2="1568.8" stroke="#231f20" stroke-width="1.5"/>
<line x1="403" y1="868.5" x2="403" y2="1568.8" stroke="#231f20" stroke-width="1.5"/>
<line x1="563.8" y1="868.5" x2="563.8" y2="1568.8" stroke="#231f20" stroke-width="1.5"/>
<line x1="724.5" y1="868.5" x2="724.5" y2="1568.8" stroke="#231f20" stroke-width="1.5"/>
<path d="M972.1,893.2 L972.5,893.2 L972.8,893 L973.2,892.6 L973.5,892.1 L973.9,891.5 L974.2,890.9 L974.6,890.2 L975,889.5 L975.3,888.7 L975.7,887.9 L976,887 L976.4,886.1 L976.8,885.2 L977,885.6 L977.1,885.5 L977.5,885.3 L977.8,885.2 L978.2,885 L978.5,884.8 L978.9,884.6 L979.2,884.5 L979.3,884.5 L979.6,884.7 L980,884.9 L980.3,885.1 L980.7,885.2 L981.1,885.4 L981.4,885.6 L981.4,884.6 L981.8,885.9 L982.1,887.1 L982.5,888.3 L982.9,889.3 L983.2,890.3 L983.6,891.2 L983.9,892 L984.3,892.7 L984.6,893.2 L985,893.2 L985,893.8 L984.6,893.8 L984.3,894.3 L983.9,895 L983.6,895.8 L983.2,896.7 L982.9,897.7 L982.5,898.7 L982.1,899.9 L981.8,901.1 L981.4,902.4 L981.4,901.4 L981.1,901.6 L980.7,901.8 L980.3,901.9 L980,902.1 L979.6,902.3 L979.3,902.5 L979.2,902.5 L978.9,902.4 L978.5,902.2 L978.2,902 L977.8,901.8 L977.5,901.7 L977.1,901.5 L977,901.4 L976.8,901.8 L976.4,900.9 L976,900 L975.7,899.1 L975.3,898.3 L975,897.5 L974.6,896.8 L974.2,896.1 L973.9,895.5 L973.5,894.9 L973.2,894.4 L972.8,894 L972.5,893.8 L972.1,893.8 Z" fill="#1d8a3e" stroke="#2b2b2b" stroke-width="1.9" stroke-linejoin="round"/>
<rect x="977" y="874.2" width="4.4" height="38.5" fill="#1d8a3e" stroke="#1d8a3e" stroke-width="1.6"/>
<path d="M953.4,934.7 L954.2,934.7 L955.1,934.7 L955.9,934.6 L956.7,934.3 L957.5,934 L958.4,933.7 L959.2,933.4 L960,933 L960.9,932.7 L961.7,932.3 L962.5,931.8 L963.3,931.4 L964.2,930.9 L965,930.4 L965.8,929.9 L966.6,929.4 L967.5,928.9 L968,929.3 L968.3,929.2 L969.1,928.9 L970,928.7 L970.4,928.5 L970.8,928.6 L971.6,928.9 L972.4,929.2 L972.9,929.3 L973.3,928.9 L974.1,929.6 L974.9,930.3 L975.8,931 L976.6,931.7 L977.4,932.3 L978.2,932.9 L979.1,933.4 L979.9,933.8 L980.7,934.3 L981.5,934.6 L982.4,934.7 L983.2,934.7 L983.2,935.3 L982.4,935.3 L981.5,935.4 L980.7,935.8 L979.9,936.2 L979.1,936.7 L978.2,937.2 L977.4,937.8 L976.6,938.4 L975.8,939 L974.9,939.7 L974.1,940.4 L973.3,941.2 L972.9,940.8 L972.4,940.9 L971.6,941.2 L970.8,941.4 L970.4,941.5 L970,941.4 L969.1,941.1 L968.3,940.8 L968,940.8 L967.5,941.2 L966.6,940.6 L965.8,940.1 L965,939.6 L964.2,939.1 L963.3,938.7 L962.5,938.2 L961.7,937.8 L960.9,937.4 L960,937 L959.2,936.7 L958.4,936.3 L957.5,936 L956.7,935.7 L955.9,935.5 L955.1,935.3 L954.2,935.3 L953.4,935.3 Z" fill="#1d8a3e" stroke="#2b2b2b" stroke-width="1.9" stroke-linejoin="round"/>
<rect x="955" y="929" width="5.9" height="12" rx="2.9" ry="5" fill="#1d8a3e" stroke="#2b2b2b" stroke-width="0.5"/>
<rect x="976.4" y="929" width="5.9" height="12" rx="2.9" ry="5" fill="#1d8a3e" stroke="#2b2b2b" stroke-width="0.5"/>
<rect x="968" y="915.8" width="4.9" height="38.5" fill="#1d8a3e" stroke="#1d8a3e" stroke-width="1.6"/>
<path d="M927,976.3 L927.8,976.3 L928.5,975.7 L929.3,975 L930.1,974.2 L930.8,973.3 L931.6,972.2 L932.4,971.1 L932.7,971.3 L933.1,971.1 L933.9,970.8 L934.7,970.6 L934.7,970.6 L935.4,970.8 L936.2,971.1 L936.8,971.3 L937,970.6 L937.7,971 L938.5,971.4 L939.3,971.8 L940,972.1 L940.8,972.5 L941.6,972.8 L942.3,973.1 L943.1,973.4 L943.9,973.8 L944.6,974 L945.4,974.3 L946.2,974.6 L946.9,974.9 L947.7,975.1 L948.5,975.3 L949.2,975.6 L950,975.8 L950.8,976 L951.5,976.1 L952.3,976.3 L953.1,976.3 L953.8,976.3 L954.6,976.3 L954.6,976.9 L953.8,976.9 L953.1,976.9 L952.3,976.9 L951.5,977 L950.8,977.2 L950,977.3 L949.2,977.6 L948.5,977.8 L947.7,978 L946.9,978.3 L946.2,978.5 L945.4,978.8 L944.6,979.1 L943.9,979.4 L943.1,979.7 L942.3,980 L941.6,980.3 L940.8,980.7 L940,981 L939.3,981.4 L938.5,981.7 L937.7,982.1 L937,982.5 L936.8,981.8 L936.2,982 L935.4,982.3 L934.7,982.6 L934.7,982.5 L933.9,982.3 L933.1,982 L932.7,981.8 L932.4,982 L931.6,980.9 L930.8,979.9 L930.1,978.9 L929.3,978.1 L928.5,977.4 L927.8,976.9 L927,976.9 Z" fill="#1d8a3e" stroke="#2b2b2b" stroke-width="1.9" stroke-linejoin="round"/>
<rect x="927.9" y="970.6" width="8" height="12" rx="3.5" ry="5" fill="#1d8a3e" stroke="#2b2b2b" stroke-width="0.5"/>
<rect x="937.7" y="970.6" width="7.1" height="12" rx="3.5" ry="5" fill="#1d8a3e" stroke="#2b2b2b" stroke-width="0.5"/>
<rect x="949.3" y="970.6" width="5.3" height="12" rx="2.7" ry="5" fill="#1d8a3e" stroke="#2b2b2b" stroke-width="0.5"/>
<rect x="932.7" y="957.3" width="4.1" height="38.5" fill="#1d8a3e" stroke="#1d8a3e" stroke-width="1.6"/>
<path d="M896.6,1017.8 L898,1017.8 L899.5,1017.8 L900.9,1017.8 L902.3,1017.6 L903.7,1017.4 L905.1,1017.2 L906.6,1016.9 L908,1016.7 L909.4,1016.4 L910.9,1016.1 L912.3,1015.8 L913.7,1015.5 L915.1,1015.2 L915.4,1015.5 L916.5,1015.4 L918,1015.3 L919.4,1015.3 L920.8,1015.2 L922.2,1015.2 L923.7,1015.1 L924.6,1015.1 L925.1,1015.1 L926.5,1015.2 L928,1015.2 L929.4,1015.3 L930.8,1015.3 L932.2,1015.4 L933.6,1015.5 L933.6,1015.1 L935.1,1015.5 L936.5,1016 L937.9,1016.3 L939.4,1016.7 L940.8,1017 L942.2,1017.3 L943.6,1017.6 L945,1017.8 L946.5,1017.8 L947.9,1017.8 L947.9,1018.4 L946.5,1018.4 L945,1018.4 L943.6,1018.6 L942.2,1018.8 L940.8,1019.1 L939.4,1019.5 L937.9,1019.8 L936.5,1020.2 L935.1,1020.6 L933.6,1021.1 L933.6,1020.7 L932.2,1020.8 L930.8,1020.8 L929.4,1020.9 L928,1021 L926.5,1021 L925.1,1021.1 L924.6,1021.1 L923.7,1021.1 L922.2,1021 L920.8,1020.9 L919.4,1020.9 L918,1020.8 L916.5,1020.8 L915.4,1020.7 L915.1,1021 L913.7,1020.7 L912.3,1020.4 L910.9,1020.1 L909.4,1019.8 L908,1019.5 L906.6,1019.2 L905.1,1019 L903.7,1018.8 L902.3,1018.6 L900.9,1018.4 L899.5,1018.4 L898,1018.4 L896.6,1018.4 Z" fill="#1d8a3e" stroke="#2b2b2b" stroke-width="1.9" stroke-linejoin="round"/>
<rect x="915.4" y="998.8" width="18.2" height="38.5" fill="none" stroke="#1d8a3e" stroke-width="1.8"/>
<line x1="924.6" y1="998.8" x2="924.6" y2="1037.3" stroke="#1d8a3e" stroke-width="1.8"/>
<path d="M971.3,1059.3 L974,1059.3 L976.6,1059.3 L979.3,1059.2 L981.9,1058.9 L984.6,1058.6 L987.2,1058.3 L989.9,1058 L992.5,1057.6 L995.2,1057.2 L995.7,1057.4 L997.8,1057.4 L1000.5,1057.3 L1003.1,1057.2 L1005.8,1057.1 L1005.9,1057.1 L1008.4,1057.2 L1011.1,1057.3 L1013.7,1057.4 L1015.7,1057.4 L1016.4,1057.2 L1019,1057.4 L1021.7,1057.5 L1024.4,1057.7 L1027,1057.9 L1029.7,1058.1 L1032.3,1058.2 L1035,1058.4 L1037.6,1058.5 L1040.3,1058.7 L1042.9,1058.8 L1045.6,1059 L1048.2,1059.1 L1050.9,1059.2 L1053.5,1059.3 L1056.2,1059.3 L1058.8,1059.3 L1061.5,1059.3 L1064.1,1059.3 L1066.8,1059.3 L1066.8,1059.9 L1064.1,1059.9 L1061.5,1059.9 L1058.8,1059.9 L1056.2,1059.9 L1053.5,1060 L1050.9,1060.1 L1048.2,1060.2 L1045.6,1060.3 L1042.9,1060.4 L1040.3,1060.6 L1037.6,1060.7 L1035,1060.8 L1032.3,1061 L1029.7,1061.2 L1027,1061.3 L1024.4,1061.5 L1021.7,1061.7 L1019,1061.9 L1016.4,1062.1 L1015.7,1061.8 L1013.7,1061.9 L1011.1,1062 L1008.4,1062 L1005.9,1062.1 L1005.8,1062.1 L1003.1,1062 L1000.5,1062 L997.8,1061.9 L995.7,1061.8 L995.2,1062 L992.5,1061.6 L989.9,1061.3 L987.2,1060.9 L984.6,1060.6 L981.9,1060.3 L979.3,1060.1 L976.6,1059.9 L974,1059.9 L971.3,1059.9 Z" fill="#1d8a3e" stroke="#2b2b2b" stroke-width="1.9" stroke-linejoin="round"/>
<rect x="1046.6" y="1053.6" width="5.4" height="12" rx="2.7" ry="5" fill="#1d8a3e" stroke="#2b2b2b" stroke-width="0.5"/>
<rect x="995.7" y="1040.4" width="20" height="38.5" fill="none" stroke="#1d8a3e" stroke-width="1.8"/>
<line x1="1005.9" y1="1040.4" x2="1005.9" y2="1078.9" stroke="#1d8a3e" stroke-width="1.8"/>
<path d="M895.4,1100.9 L899,1100.9 L902.6,1100.9 L906.2,1100.9 L909.8,1100.9 L913.3,1100.8 L916.9,1100.7 L920.5,1100.6 L924.1,1100.5 L927.7,1100.4 L931.3,1100.2 L934.9,1100.1 L938.5,1099.9 L942.1,1099.8 L944.8,1099.8 L945.6,1099.8 L949.2,1099.8 L952.8,1099.7 L956.4,1099.7 L960,1099.7 L963.6,1099.7 L967.2,1099.8 L970.8,1099.8 L971.6,1099.8 L974.4,1099.8 L977.9,1099.9 L981.5,1100.1 L985.1,1100.2 L988.7,1100.3 L992.3,1100.4 L995.9,1100.6 L999.5,1100.7 L1003.1,1100.8 L1006.7,1100.9 L1010.2,1100.9 L1013.8,1100.9 L1017.4,1100.9 L1021,1100.9 L1024.6,1100.9 L1024.6,1101.5 L1021,1101.5 L1017.4,1101.5 L1013.8,1101.5 L1010.2,1101.5 L1006.7,1101.5 L1003.1,1101.5 L999.5,1101.6 L995.9,1101.7 L992.3,1101.9 L988.7,1102 L985.1,1102.1 L981.5,1102.2 L977.9,1102.4 L974.4,1102.5 L971.6,1102.5 L970.8,1102.5 L967.2,1102.5 L963.6,1102.6 L960,1102.7 L956.4,1102.6 L952.8,1102.6 L949.2,1102.5 L945.6,1102.5 L944.8,1102.5 L942.1,1102.5 L938.5,1102.4 L934.9,1102.2 L931.3,1102.1 L927.7,1101.9 L924.1,1101.8 L920.5,1101.7 L916.9,1101.6 L913.3,1101.5 L909.8,1101.5 L906.2,1101.5 L902.6,1101.5 L899,1101.5 L895.4,1101.5 Z" fill="#1d8a3e" stroke="#2b2b2b" stroke-width="1.9" stroke-linejoin="round"/>
<rect x="944.8" y="1081.9" width="26.8" height="38.5" fill="none" stroke="#1d8a3e" stroke-width="1.8"/>
<line x1="960" y1="1081.9" x2="960" y2="1120.4" stroke="#1d8a3e" stroke-width="1.8"/>
<path d="M987.3,1142.4 L989.8,1142.4 L992.4,1142.4 L994.9,1142.4 L997.4,1142.4 L1000,1142.3 L1002.5,1142.2 L1005,1142.1 L1007.5,1142 L1010.1,1141.9 L1012.6,1141.7 L1015.1,1141.6 L1017.7,1141.4 L1020.2,1141.3 L1021.6,1141.4 L1022.7,1141.3 L1025.3,1141.3 L1027.8,1141.3 L1030.3,1141.3 L1032.8,1141.2 L1035.4,1141.2 L1036.4,1141.2 L1037.9,1141.2 L1040.4,1141.2 L1043,1141.3 L1045.5,1141.3 L1048,1141.3 L1048.8,1141.4 L1050.6,1141.3 L1053.1,1141.5 L1055.6,1141.7 L1058.2,1141.8 L1060.7,1142 L1063.2,1142.1 L1065.7,1142.3 L1068.3,1142.4 L1070.8,1142.4 L1073.3,1142.4 L1075.9,1142.4 L1078.4,1142.4 L1078.4,1143 L1075.9,1143 L1073.3,1143 L1070.8,1143 L1068.3,1143 L1065.7,1143.1 L1063.2,1143.2 L1060.7,1143.4 L1058.2,1143.5 L1055.6,1143.7 L1053.1,1143.9 L1050.6,1144 L1048.8,1144 L1048,1144 L1045.5,1144 L1043,1144.1 L1040.4,1144.1 L1037.9,1144.2 L1036.4,1144.2 L1035.4,1144.2 L1032.8,1144.1 L1030.3,1144.1 L1027.8,1144.1 L1025.3,1144 L1022.7,1144 L1021.6,1144 L1020.2,1144.1 L1017.7,1143.9 L1015.1,1143.8 L1012.6,1143.6 L1010.1,1143.5 L1007.5,1143.4 L1005,1143.2 L1002.5,1143.1 L1000,1143 L997.4,1143 L994.9,1143 L992.4,1143 L989.8,1143 L987.3,1143 Z" fill="#1d8a3e" stroke="#2b2b2b" stroke-width="1.9" stroke-linejoin="round"/>
<rect x="1021.6" y="1123.4" width="27.2" height="38.5" fill="none" stroke="#1d8a3e" stroke-width="1.8"/>
<line x1="1036.4" y1="1123.4" x2="1036.4" y2="1161.9" stroke="#1d8a3e" stroke-width="1.8"/>
<path d="M1028.4,1183.9 L1029.8,1183.9 L1031.1,1183.9 L1032.5,1183.9 L1033.8,1183.7 L1035.2,1183.6 L1036.5,1183.4 L1037.9,1183.1 L1039.2,1182.9 L1040.6,1182.6 L1041.9,1182.4 L1043.2,1182.1 L1044.6,1181.8 L1046,1181.5 L1047.3,1181.1 L1048.7,1180.8 L1050,1180.5 L1051.4,1180.1 L1052.7,1179.7 L1054,1179.4 L1054.6,1179.8 L1055.4,1179.7 L1056.8,1179.6 L1058.1,1179.4 L1059.5,1179.2 L1059.6,1179.2 L1060.8,1179.4 L1062.2,1179.5 L1063.5,1179.7 L1064.5,1179.8 L1064.8,1179.4 L1066.2,1180.2 L1067.5,1180.9 L1068.9,1181.6 L1070.2,1182.2 L1071.6,1182.8 L1073,1183.3 L1074.3,1183.7 L1075.7,1183.9 L1077,1183.9 L1077,1184.5 L1075.7,1184.5 L1074.3,1184.7 L1073,1185.1 L1071.6,1185.6 L1070.2,1186.2 L1068.9,1186.8 L1067.5,1187.5 L1066.2,1188.2 L1064.8,1189 L1064.5,1188.6 L1063.5,1188.7 L1062.2,1188.9 L1060.8,1189.1 L1059.6,1189.2 L1059.5,1189.2 L1058.1,1189 L1056.8,1188.9 L1055.4,1188.7 L1054.6,1188.6 L1054,1189.1 L1052.7,1188.7 L1051.4,1188.3 L1050,1188 L1048.7,1187.6 L1047.3,1187.3 L1046,1187 L1044.6,1186.6 L1043.2,1186.3 L1041.9,1186.1 L1040.6,1185.8 L1039.2,1185.5 L1037.9,1185.3 L1036.5,1185.1 L1035.2,1184.9 L1033.8,1184.7 L1032.5,1184.5 L1031.1,1184.5 L1029.8,1184.5 L1028.4,1184.5 Z" fill="#1d8a3e" stroke="#2b2b2b" stroke-width="1.9" stroke-linejoin="round"/>
<rect x="1033.8" y="1178.2" width="5.1" height="12" rx="2.6" ry="5" fill="#1d8a3e" stroke="#2b2b2b" stroke-width="0.5"/>
<rect x="1054.6" y="1165" width="9.9" height="38.5" fill="none" stroke="#1d8a3e" stroke-width="1.8"/>
<line x1="1059.6" y1="1165" x2="1059.6" y2="1203.5" stroke="#1d8a3e" stroke-width="1.8"/>
<path d="M1008.2,1225.4 L1009.7,1225.4 L1011.2,1225.4 L1012.6,1225.2 L1014.1,1224.9 L1015.6,1224.6 L1017.1,1224.2 L1018.5,1223.8 L1020,1223.4 L1021.5,1223 L1023,1222.5 L1024.5,1222 L1025.9,1221.5 L1026.6,1221.8 L1027.4,1221.7 L1028.9,1221.5 L1030.4,1221.3 L1031,1221.2 L1031.8,1221.3 L1033.3,1221.4 L1034.8,1221.5 L1036.3,1221.6 L1037.8,1221.7 L1038.6,1221.8 L1039.2,1221.4 L1040.7,1221.9 L1042.2,1222.3 L1043.7,1222.7 L1045.1,1223 L1046.6,1223.4 L1048.1,1223.7 L1049.6,1224.1 L1051.1,1224.4 L1052.5,1224.6 L1054,1224.9 L1055.5,1225.1 L1057,1225.4 L1058.4,1225.4 L1059.9,1225.4 L1061.4,1225.4 L1061.4,1226 L1059.9,1226 L1058.4,1226 L1057,1226.1 L1055.5,1226.3 L1054,1226.6 L1052.5,1226.8 L1051.1,1227.1 L1049.6,1227.4 L1048.1,1227.7 L1046.6,1228.1 L1045.1,1228.4 L1043.7,1228.8 L1042.2,1229.2 L1040.7,1229.6 L1039.2,1230.1 L1038.6,1229.7 L1037.8,1229.8 L1036.3,1229.9 L1034.8,1230 L1033.3,1230.1 L1031.8,1230.2 L1031,1230.2 L1030.4,1230.2 L1028.9,1230 L1027.4,1229.8 L1026.6,1229.7 L1025.9,1230 L1024.5,1229.5 L1023,1229 L1021.5,1228.5 L1020,1228.1 L1018.5,1227.6 L1017.1,1227.2 L1015.6,1226.9 L1014.1,1226.6 L1012.6,1226.3 L1011.2,1226 L1009.7,1226 L1008.2,1226 Z" fill="#1d8a3e" stroke="#2b2b2b" stroke-width="1.9" stroke-linejoin="round"/>
<rect x="1052.9" y="1219.7" width="5.3" height="12" rx="2.6" ry="5" fill="#1d8a3e" stroke="#2b2b2b" stroke-width="0.5"/>
<rect x="1026.6" y="1206.5" width="12" height="38.5" fill="none" stroke="#1d8a3e" stroke-width="1.8"/>
<line x1="1031" y1="1206.5" x2="1031" y2="1245" stroke="#1d8a3e" stroke-width="1.8"/>
<path d="M1032,1267 L1034,1267 L1036.1,1267 L1038.1,1267 L1040.2,1267 L1042.2,1266.9 L1044.2,1266.7 L1046.3,1266.6 L1048.3,1266.4 L1050.4,1266.3 L1052.4,1266.1 L1054.5,1265.9 L1056.5,1265.7 L1058.5,1265.5 L1060.6,1265.3 L1061.3,1265.5 L1062.6,1265.5 L1064.7,1265.4 L1066.7,1265.4 L1068.8,1265.3 L1070.8,1265.3 L1071.6,1265.3 L1072.8,1265.3 L1074.9,1265.4 L1076.9,1265.4 L1079,1265.5 L1079.3,1265.5 L1081,1265.5 L1083,1265.7 L1085.1,1265.9 L1087.1,1266.1 L1089.2,1266.3 L1091.2,1266.5 L1093.2,1266.6 L1095.3,1266.8 L1097.3,1266.9 L1099.4,1267 L1101.4,1267 L1103.5,1267 L1105.5,1267 L1105.5,1267.6 L1103.5,1267.6 L1101.4,1267.6 L1099.4,1267.6 L1097.3,1267.6 L1095.3,1267.8 L1093.2,1267.9 L1091.2,1268.1 L1089.2,1268.3 L1087.1,1268.4 L1085.1,1268.6 L1083,1268.9 L1081,1269.1 L1079.3,1269 L1079,1269 L1076.9,1269.1 L1074.9,1269.2 L1072.8,1269.2 L1071.6,1269.3 L1070.8,1269.3 L1068.8,1269.2 L1066.7,1269.2 L1064.7,1269.1 L1062.6,1269.1 L1061.3,1269 L1060.6,1269.2 L1058.5,1269 L1056.5,1268.8 L1054.5,1268.6 L1052.4,1268.4 L1050.4,1268.3 L1048.3,1268.1 L1046.3,1268 L1044.2,1267.8 L1042.2,1267.7 L1040.2,1267.6 L1038.1,1267.6 L1036.1,1267.6 L1034,1267.6 L1032,1267.6 Z" fill="#1d8a3e" stroke="#2b2b2b" stroke-width="1.9" stroke-linejoin="round"/>
<rect x="1061.3" y="1248" width="18" height="38.5" fill="none" stroke="#1d8a3e" stroke-width="1.8"/>
<line x1="1071.6" y1="1248" x2="1071.6" y2="1286.5" stroke="#1d8a3e" stroke-width="1.8"/>
<path d="M1046.6,1308.5 L1048,1308.5 L1049.3,1308.5 L1050.7,1308.3 L1052,1308 L1053.4,1307.7 L1054.7,1307.3 L1056.1,1306.9 L1057.4,1306.5 L1058.8,1306 L1060.2,1305.6 L1060.9,1305.7 L1061.5,1305.7 L1062.9,1305.5 L1064.2,1305.4 L1065.4,1305.3 L1065.6,1305.3 L1066.9,1305.4 L1068.3,1305.5 L1069.6,1305.5 L1071,1305.6 L1072.4,1305.7 L1073,1305.7 L1073.7,1305.5 L1075.1,1305.8 L1076.4,1306.1 L1077.8,1306.4 L1079.1,1306.6 L1080.5,1306.9 L1081.8,1307.2 L1083.2,1307.4 L1084.6,1307.6 L1085.9,1307.8 L1087.3,1308 L1088.6,1308.2 L1090,1308.4 L1091.3,1308.5 L1092.7,1308.5 L1094,1308.5 L1095.4,1308.5 L1095.4,1309.1 L1094,1309.1 L1092.7,1309.1 L1091.3,1309.1 L1090,1309.2 L1088.6,1309.4 L1087.3,1309.6 L1085.9,1309.8 L1084.6,1310 L1083.2,1310.2 L1081.8,1310.4 L1080.5,1310.7 L1079.1,1311 L1077.8,1311.2 L1076.4,1311.5 L1075.1,1311.8 L1073.7,1312.1 L1073,1311.9 L1072.4,1311.9 L1071,1312 L1069.6,1312.1 L1068.3,1312.1 L1066.9,1312.2 L1065.6,1312.3 L1065.4,1312.3 L1064.2,1312.2 L1062.9,1312.1 L1061.5,1311.9 L1060.9,1311.9 L1060.2,1312 L1058.8,1311.6 L1057.4,1311.1 L1056.1,1310.7 L1054.7,1310.3 L1053.4,1309.9 L1052,1309.6 L1050.7,1309.3 L1049.3,1309.1 L1048,1309.1 L1046.6,1309.1 Z" fill="#1d8a3e" stroke="#2b2b2b" stroke-width="1.9" stroke-linejoin="round"/>
<rect x="1060.9" y="1289.5" width="12.1" height="38.5" fill="none" stroke="#1d8a3e" stroke-width="1.8"/>
<line x1="1065.4" y1="1289.5" x2="1065.4" y2="1328" stroke="#1d8a3e" stroke-width="1.8"/>
<path d="M1007.3,1350 L1009,1350 L1010.6,1350 L1012.3,1350 L1014,1350 L1015.7,1349.9 L1017.3,1349.7 L1019,1349.6 L1020.7,1349.4 L1022.3,1349.2 L1024,1349 L1025.7,1348.8 L1027.4,1348.6 L1029,1348.4 L1030.7,1348.2 L1032.4,1347.9 L1033.2,1348.1 L1034.1,1348.1 L1035.7,1348 L1037.4,1347.9 L1039.1,1347.9 L1040,1347.8 L1040.7,1347.9 L1042.4,1347.9 L1044.1,1348 L1045.8,1348 L1047.4,1348 L1049.1,1348.1 L1050.2,1348.1 L1050.8,1348 L1052.5,1348.3 L1054.1,1348.6 L1055.8,1348.9 L1057.5,1349.2 L1059.1,1349.5 L1060.8,1349.7 L1062.5,1349.9 L1064.2,1350 L1065.8,1350 L1067.5,1350 L1067.5,1350.6 L1065.8,1350.6 L1064.2,1350.6 L1062.5,1350.7 L1060.8,1350.9 L1059.1,1351.2 L1057.5,1351.4 L1055.8,1351.7 L1054.1,1352 L1052.5,1352.4 L1050.8,1352.7 L1050.2,1352.5 L1049.1,1352.6 L1047.4,1352.6 L1045.8,1352.7 L1044.1,1352.7 L1042.4,1352.8 L1040.7,1352.8 L1040,1352.8 L1039.1,1352.8 L1037.4,1352.7 L1035.7,1352.6 L1034.1,1352.6 L1033.2,1352.5 L1032.4,1352.7 L1030.7,1352.5 L1029,1352.3 L1027.4,1352 L1025.7,1351.8 L1024,1351.6 L1022.3,1351.4 L1020.7,1351.3 L1019,1351.1 L1017.3,1350.9 L1015.7,1350.8 L1014,1350.7 L1012.3,1350.6 L1010.6,1350.6 L1009,1350.6 L1007.3,1350.6 Z" fill="#1d8a3e" stroke="#2b2b2b" stroke-width="1.9" stroke-linejoin="round"/>
<rect x="1033.2" y="1331.1" width="17" height="38.5" fill="none" stroke="#1d8a3e" stroke-width="1.8"/>
<line x1="1040" y1="1331.1" x2="1040" y2="1369.6" stroke="#1d8a3e" stroke-width="1.8"/>
<path d="M1021.6,1391.6 L1022.7,1391.6 L1023.8,1391.4 L1024.8,1391 L1025.9,1390.6 L1027,1390.1 L1028.1,1389.5 L1029.2,1388.9 L1030.2,1388.2 L1031.3,1387.5 L1032.3,1387.5 L1032.4,1387.4 L1033.5,1387.3 L1034.6,1387.2 L1035.6,1387 L1036.7,1386.9 L1036.8,1386.9 L1037.8,1387 L1038.9,1387.1 L1040,1387.3 L1041,1387.4 L1041.6,1387.5 L1042.1,1387.1 L1043.2,1387.5 L1044.3,1387.9 L1045.4,1388.3 L1046.5,1388.7 L1047.5,1389 L1048.6,1389.4 L1049.7,1389.7 L1050.8,1390 L1051.9,1390.3 L1052.9,1390.6 L1054,1390.9 L1055.1,1391.1 L1056.2,1391.3 L1057.3,1391.5 L1058.3,1391.6 L1059.4,1391.6 L1060.5,1391.6 L1060.5,1392.2 L1059.4,1392.2 L1058.3,1392.2 L1057.3,1392.2 L1056.2,1392.4 L1055.1,1392.6 L1054,1392.9 L1052.9,1393.1 L1051.9,1393.4 L1050.8,1393.7 L1049.7,1394 L1048.6,1394.4 L1047.5,1394.7 L1046.5,1395.1 L1045.4,1395.4 L1044.3,1395.8 L1043.2,1396.2 L1042.1,1396.7 L1041.6,1396.3 L1041,1396.3 L1040,1396.5 L1038.9,1396.6 L1037.8,1396.7 L1036.8,1396.9 L1036.7,1396.9 L1035.6,1396.7 L1034.6,1396.6 L1033.5,1396.4 L1032.4,1396.3 L1032.3,1396.3 L1031.3,1396.2 L1030.2,1395.5 L1029.2,1394.8 L1028.1,1394.2 L1027,1393.7 L1025.9,1393.1 L1024.8,1392.7 L1023.8,1392.3 L1022.7,1392.2 L1021.6,1392.2 Z" fill="#1d8a3e" stroke="#2b2b2b" stroke-width="1.9" stroke-linejoin="round"/>
<rect x="1032.3" y="1372.6" width="9.3" height="38.5" fill="none" stroke="#1d8a3e" stroke-width="1.8"/>
<line x1="1036.8" y1="1372.6" x2="1036.8" y2="1411.1" stroke="#1d8a3e" stroke-width="1.8"/>
<path d="M993,1433.1 L994.4,1433.1 L995.9,1432.9 L997.3,1432.4 L998.7,1431.9 L1000.1,1431.4 L1001.5,1430.7 L1003,1430 L1004.4,1429.3 L1005.8,1428.5 L1006,1429 L1007.2,1428.8 L1008.7,1428.6 L1010,1428.4 L1010.1,1428.4 L1011.5,1428.5 L1012.9,1428.7 L1014.4,1428.8 L1015.8,1428.9 L1016.3,1429 L1017.2,1428.6 L1018.6,1429 L1020.1,1429.4 L1021.5,1429.7 L1022.9,1430.1 L1024.3,1430.4 L1025.8,1430.7 L1027.2,1431 L1028.6,1431.3 L1030,1431.6 L1031.5,1431.8 L1032.9,1432.1 L1034.3,1432.3 L1035.8,1432.5 L1037.2,1432.7 L1038.6,1432.9 L1040,1433.1 L1041.5,1433.1 L1042.9,1433.1 L1044.3,1433.1 L1044.3,1433.7 L1042.9,1433.7 L1041.5,1433.7 L1040,1433.7 L1038.6,1433.8 L1037.2,1434 L1035.8,1434.2 L1034.3,1434.5 L1032.9,1434.7 L1031.5,1434.9 L1030,1435.2 L1028.6,1435.5 L1027.2,1435.8 L1025.8,1436.1 L1024.3,1436.4 L1022.9,1436.7 L1021.5,1437.1 L1020.1,1437.4 L1018.6,1437.8 L1017.2,1438.1 L1016.3,1437.8 L1015.8,1437.8 L1014.4,1438 L1012.9,1438.1 L1011.5,1438.2 L1010.1,1438.4 L1010,1438.4 L1008.7,1438.2 L1007.2,1438 L1006,1437.8 L1005.8,1438.3 L1004.4,1437.5 L1003,1436.8 L1001.5,1436.1 L1000.1,1435.4 L998.7,1434.8 L997.3,1434.3 L995.9,1433.9 L994.4,1433.7 L993,1433.7 Z" fill="#1d8a3e" stroke="#2b2b2b" stroke-width="1.9" stroke-linejoin="round"/>
<rect x="1029.6" y="1427.4" width="8.6" height="12" rx="3.5" ry="5" fill="#1d8a3e" stroke="#2b2b2b" stroke-width="0.5"/>
<rect x="1006" y="1414.1" width="10.3" height="38.5" fill="none" stroke="#1d8a3e" stroke-width="1.8"/>
<line x1="1010" y1="1414.1" x2="1010" y2="1452.6" stroke="#1d8a3e" stroke-width="1.8"/>
<path d="M1024.3,1474.6 L1025.6,1474.6 L1026.9,1474.6 L1028.2,1474.6 L1029.6,1474.5 L1030.9,1474.4 L1032.2,1474.2 L1033.5,1474 L1034.8,1473.8 L1036.1,1473.6 L1037.4,1473.4 L1038.8,1473.1 L1040.1,1472.9 L1041.4,1472.6 L1042.7,1472.3 L1044,1472.1 L1045.3,1471.8 L1046.6,1471.5 L1047.9,1471.2 L1049.3,1470.8 L1050.6,1470.5 L1051.9,1470.2 L1052.9,1470.5 L1053.2,1470.5 L1054.5,1470.2 L1055.8,1470 L1056,1469.9 L1057.1,1470.1 L1058.5,1470.4 L1059.1,1470.5 L1059.8,1470.3 L1061.1,1471.1 L1062.4,1471.8 L1063.7,1472.4 L1065,1473 L1066.3,1473.6 L1067.7,1474 L1069,1474.4 L1070.3,1474.6 L1071.6,1474.6 L1071.6,1475.2 L1070.3,1475.2 L1069,1475.4 L1067.7,1475.8 L1066.3,1476.3 L1065,1476.8 L1063.7,1477.4 L1062.4,1478.1 L1061.1,1478.8 L1059.8,1479.5 L1059.1,1479.3 L1058.5,1479.4 L1057.1,1479.7 L1056,1479.9 L1055.8,1479.9 L1054.5,1479.6 L1053.2,1479.4 L1052.9,1479.3 L1051.9,1479.7 L1050.6,1479.3 L1049.3,1479 L1047.9,1478.7 L1046.6,1478.4 L1045.3,1478.1 L1044,1477.8 L1042.7,1477.5 L1041.4,1477.2 L1040.1,1477 L1038.8,1476.7 L1037.4,1476.5 L1036.1,1476.2 L1034.8,1476 L1033.5,1475.8 L1032.2,1475.6 L1030.9,1475.5 L1029.6,1475.3 L1028.2,1475.2 L1026.9,1475.2 L1025.6,1475.2 L1024.3,1475.2 Z" fill="#1d8a3e" stroke="#2b2b2b" stroke-width="1.9" stroke-linejoin="round"/>
<rect x="1026" y="1468.9" width="4.5" height="12" rx="2.2" ry="5" fill="#1d8a3e" stroke="#2b2b2b" stroke-width="0.5"/>
<rect x="1039" y="1468.9" width="7.6" height="12" rx="3.5" ry="5" fill="#1d8a3e" stroke="#2b2b2b" stroke-width="0.5"/>
<rect x="1065" y="1468.9" width="4.5" height="12" rx="2.2" ry="5" fill="#1d8a3e" stroke="#2b2b2b" stroke-width="0.5"/>
<rect x="1052.9" y="1455.7" width="6.2" height="38.5" fill="none" stroke="#1d8a3e" stroke-width="1.8"/>
<line x1="1056" y1="1455.7" x2="1056" y2="1494.2" stroke="#1d8a3e" stroke-width="1.8"/>
<rect x="81.5" y="868.5" width="803.8" height="700.2" fill="none" stroke="#231f20" stroke-width="1.6"/>
<rect x="885.3" y="868.5" width="230" height="631" fill="none" stroke="#231f20" stroke-width="1.6"/>
<line x1="904.2" y1="1499.5" x2="904.2" y2="1509" stroke="#231f20" stroke-width="1.6"/>
<text transform="translate(906.7,1536.2) scale(1,1.04)" font-size="24.4" text-anchor="middle" font-style="normal" fill="#231f20" >0.1</text>
<line x1="951.4" y1="1499.5" x2="951.4" y2="1509" stroke="#231f20" stroke-width="1.6"/>
<text transform="translate(953.9,1536.2) scale(1,1.04)" font-size="24.4" text-anchor="middle" font-style="normal" fill="#231f20" >0.2</text>
<line x1="998.9" y1="1499.5" x2="998.9" y2="1509" stroke="#231f20" stroke-width="1.6"/>
<text transform="translate(1001.4,1536.2) scale(1,1.04)" font-size="24.4" text-anchor="middle" font-style="normal" fill="#231f20" >0.3</text>
<line x1="1046" y1="1499.5" x2="1046" y2="1509" stroke="#231f20" stroke-width="1.6"/>
<text transform="translate(1048.5,1536.2) scale(1,1.04)" font-size="24.4" text-anchor="middle" font-style="normal" fill="#231f20" >0.4</text>
<line x1="1093.3" y1="1499.5" x2="1093.3" y2="1509" stroke="#231f20" stroke-width="1.6"/>
<text transform="translate(1095.8,1536.2) scale(1,1.04)" font-size="24.4" text-anchor="middle" font-style="normal" fill="#231f20" >0.5</text>
<text transform="translate(1000.3,1559.5) scale(1,1.04)" font-size="24.4" text-anchor="middle" font-style="normal" fill="#000" >SignatureScore</text>
<rect x="161" y="1512.1" width="80.5" height="8" fill="#e1322a"/>
<rect x="160.5" y="1508" width="1.6" height="16.3" fill="#e1322a"/>
<rect x="166.5" y="1508" width="1.6" height="16.3" fill="#e1322a"/>
<rect x="216.5" y="1508" width="1.6" height="16.3" fill="#e1322a"/>
<rect x="321.4" y="1512.1" width="81.2" height="8" fill="#e1322a"/>
<rect x="321" y="1508" width="1.6" height="16.3" fill="#e1322a"/>
<rect x="486.2" y="1508.1" width="5" height="16" fill="#e1322a"/>
<rect x="491.2" y="1512.1" width="14.4" height="8" fill="#e1322a"/>
<rect x="505.6" y="1508.1" width="9.3" height="16" fill="#e1322a"/>
<rect x="643.8" y="1512.1" width="80" height="8" fill="#e1322a"/>
<rect x="643.4" y="1508" width="1.6" height="16.3" fill="#e1322a"/>
<rect x="805.7" y="1512.1" width="55.5" height="8" fill="#e1322a"/>
<rect x="805.3" y="1508" width="1.6" height="16.3" fill="#e1322a"/>
<rect x="861.2" y="1508.1" width="24.1" height="16" fill="#e1322a"/>
<text transform="translate(161.9,1555.5) scale(1,1.04)" font-size="24.4" text-anchor="middle" font-style="italic" fill="#000" >MLPH</text>
<text transform="translate(322.6,1555.5) scale(1,1.04)" font-size="24.4" text-anchor="middle" font-style="italic" fill="#000" >IGF1R</text>
<text transform="translate(483.4,1555.5) scale(1,1.04)" font-size="24.4" text-anchor="middle" font-style="italic" fill="#000" >PRR15</text>
<text transform="translate(644.2,1555.5) scale(1,1.04)" font-size="24.4" text-anchor="middle" font-style="italic" fill="#000" >KIAA1324</text>
<text transform="translate(804.9,1555.5) scale(1,1.04)" font-size="24.4" text-anchor="middle" font-style="italic" fill="#000" >ZNF860</text>
<circle cx="1132.1" cy="891.6" r="11.1" fill="#d3a062"/>
<circle cx="1132.1" cy="933.2" r="11.1" fill="#b865a3"/>
<circle cx="1132.1" cy="974.8" r="11.1" fill="#b865a3"/>
<circle cx="1132.1" cy="1016.4" r="11.1" fill="#e87777"/>
<circle cx="1132.1" cy="1058" r="11.1" fill="#6a449b"/>
<circle cx="1132.1" cy="1099.6" r="11.1" fill="#cf2027"/>
<circle cx="1132.1" cy="1141.2" r="11.1" fill="#3bb09e"/>
<circle cx="1132.1" cy="1182.8" r="11.1" fill="#3bb09e"/>
<circle cx="1132.1" cy="1224.4" r="11.1" fill="#8fd0dc"/>
<circle cx="1132.1" cy="1266" r="11.1" fill="#86c05c"/>
<circle cx="1132.1" cy="1307.6" r="11.1" fill="#86c05c"/>
<circle cx="1132.1" cy="1349.2" r="11.1" fill="#2b3a80"/>
<circle cx="1132.1" cy="1390.8" r="11.1" fill="#84208a"/>
<circle cx="1132.1" cy="1432.4" r="11.1" fill="#f2de1b"/>
<circle cx="1132.1" cy="1474" r="11.1" fill="#8296c8"/>
<text transform="translate(1197.9,899.2) scale(1,1.04)" font-size="24.4" text-anchor="middle" font-style="normal" fill="#000" >P44</text>
<text transform="translate(1260.9,899.2) scale(1,1.04)" font-size="24.4" text-anchor="middle" font-style="normal" fill="#000" >TN</text>
<text transform="translate(1197.9,1024) scale(1,1.04)" font-size="24.4" text-anchor="middle" font-style="normal" fill="#000" >P51</text>
<text transform="translate(1260.9,1024) scale(1,1.04)" font-size="24.4" text-anchor="middle" font-style="normal" fill="#000" >LM</text>
<text transform="translate(1197.9,1065.6) scale(1,1.04)" font-size="24.4" text-anchor="middle" font-style="normal" fill="#000" >P93</text>
<text transform="translate(1260.9,1065.6) scale(1,1.04)" font-size="24.4" text-anchor="middle" font-style="normal" fill="#000" >LH</text>
<text transform="translate(1197.9,1107.2) scale(1,1.04)" font-size="24.4" text-anchor="middle" font-style="normal" fill="#000" >P20N</text>
<text transform="translate(1260.9,1107.2) scale(1,1.04)" font-size="24.4" text-anchor="middle" font-style="normal" fill="#000" >TN</text>
<text transform="translate(1197.9,1232) scale(1,1.04)" font-size="24.4" text-anchor="middle" font-style="normal" fill="#000" >P49</text>
<text transform="translate(1260.9,1232) scale(1,1.04)" font-size="24.4" text-anchor="middle" font-style="normal" fill="#000" >LM</text>
<text transform="translate(1197.9,1356.8) scale(1,1.04)" font-size="24.4" text-anchor="middle" font-style="normal" fill="#000" >P33</text>
<text transform="translate(1260.9,1356.8) scale(1,1.04)" font-size="24.4" text-anchor="middle" font-style="normal" fill="#000" >LM</text>
<text transform="translate(1197.9,1398.4) scale(1,1.04)" font-size="24.4" text-anchor="middle" font-style="normal" fill="#000" >P35</text>
<text transform="translate(1260.9,1398.4) scale(1,1.04)" font-size="24.4" text-anchor="middle" font-style="normal" fill="#000" >LM</text>
<text transform="translate(1197.9,1440) scale(1,1.04)" font-size="24.4" text-anchor="middle" font-style="normal" fill="#000" >P39</text>
<text transform="translate(1260.9,1440) scale(1,1.04)" font-size="24.4" text-anchor="middle" font-style="normal" fill="#000" >LM</text>
<text transform="translate(1197.9,1481.6) scale(1,1.04)" font-size="24.4" text-anchor="middle" font-style="normal" fill="#000" >P40</text>
<text transform="translate(1260.9,1481.6) scale(1,1.04)" font-size="24.4" text-anchor="middle" font-style="normal" fill="#000" >LM</text>
<text transform="translate(1197.9,961.6) scale(1,1.04)" font-size="24.4" text-anchor="middle" font-style="normal" fill="#000" >P41</text>
<text transform="translate(1260.9,961.6) scale(1,1.04)" font-size="24.4" text-anchor="middle" font-style="normal" fill="#000" >TN</text>
<path d="M1153.1,933.2 H1167 V974.8 H1153.1" fill="none" stroke="#231f20" stroke-width="1.8"/>
<text transform="translate(1197.9,1169.6) scale(1,1.04)" font-size="24.4" text-anchor="middle" font-style="normal" fill="#000" >P64</text>
<text transform="translate(1260.9,1169.6) scale(1,1.04)" font-size="24.4" text-anchor="middle" font-style="normal" fill="#000" >LM</text>
<path d="M1153.1,1141.2 H1167 V1182.8 H1153.1" fill="none" stroke="#231f20" stroke-width="1.8"/>
<text transform="translate(1197.9,1294.4) scale(1,1.04)" font-size="24.4" text-anchor="middle" font-style="normal" fill="#000" >P50</text>
<text transform="translate(1260.9,1294.4) scale(1,1.04)" font-size="24.4" text-anchor="middle" font-style="normal" fill="#000" >LM</text>
<path d="M1153.1,1266 H1167 V1307.6 H1153.1" fill="none" stroke="#231f20" stroke-width="1.8"/>
<text x="-1" y="1620.8" font-size="40" text-anchor="start" font-weight="bold" font-style="normal" fill="#000" >d</text>
<text transform="translate(999.7,1614.3) scale(1,1.04)" font-size="24.4" text-anchor="middle" font-style="normal" fill="#000" >ESR1</text>
<text transform="translate(1000.8,1638.3) scale(1,1.04)" font-size="24.4" text-anchor="middle" font-style="normal" fill="#000" >target genes (N = 227)</text>
<text transform="translate(77.6,1679) scale(1,1.04)" font-size="24.4" text-anchor="end" font-style="normal" fill="#000" >Ep1</text>
<text transform="translate(77.6,1721.1) scale(1,1.04)" font-size="24.4" text-anchor="end" font-style="normal" fill="#000" >Ep2</text>
<text transform="translate(77.6,1763.2) scale(1,1.04)" font-size="24.4" text-anchor="end" font-style="normal" fill="#000" >Ep3</text>
<text transform="translate(77.6,1805.2) scale(1,1.04)" font-size="24.4" text-anchor="end" font-style="normal" fill="#000" >Ep4</text>
<text transform="translate(77.6,1847.3) scale(1,1.04)" font-size="24.4" text-anchor="end" font-style="normal" fill="#000" >Ep5</text>
<text transform="translate(77.6,1889.4) scale(1,1.04)" font-size="24.4" text-anchor="end" font-style="normal" fill="#000" >Ep6</text>
<text transform="translate(77.6,1931.5) scale(1,1.04)" font-size="24.4" text-anchor="end" font-style="normal" fill="#000" >Ep7</text>
<text transform="translate(77.6,1973.5) scale(1,1.04)" font-size="24.4" text-anchor="end" font-style="normal" fill="#000" >Ep8</text>
<text transform="translate(77.6,2015.6) scale(1,1.04)" font-size="24.4" text-anchor="end" font-style="normal" fill="#000" >Ep9</text>
<text transform="translate(77.6,2057.7) scale(1,1.04)" font-size="24.4" text-anchor="end" font-style="normal" fill="#000" >Ep10</text>
<text transform="translate(77.6,2099.7) scale(1,1.04)" font-size="24.4" text-anchor="end" font-style="normal" fill="#000" >Ep11</text>
<text transform="translate(77.6,2141.8) scale(1,1.04)" font-size="24.4" text-anchor="end" font-style="normal" fill="#000" >Ep13</text>
<text transform="translate(77.6,2183.9) scale(1,1.04)" font-size="24.4" text-anchor="end" font-style="normal" fill="#000" >Ep14</text>
<text transform="translate(77.6,2225.9) scale(1,1.04)" font-size="24.4" text-anchor="end" font-style="normal" fill="#000" >Ep15</text>
<text transform="translate(77.6,2268) scale(1,1.04)" font-size="24.4" text-anchor="end" font-style="normal" fill="#000" >Ep18</text>
<path d="M81.8,1733L81.8,1731.6 82.8,1731.6 83.8,1731.5 84.8,1730.3 85.8,1730 86.8,1730 87.8,1730.6 88.8,1731.6 89.5,1731.6 89.5,1733Z" fill="#2b3a80"/>
<path d="M152.3,1859.2L152.3,1857.8 153.3,1857.8 154.3,1857.7 155.3,1852.7 156.3,1842.5 157.3,1830.3 158.3,1821.6 159.3,1818.7 160.3,1818.7 161.3,1819.9 162.3,1826.4 163.3,1837.9 164.3,1849.5 165.3,1856.4 166.3,1857.8 223.3,1857.8 224.3,1857.2 225.3,1855.8 226.3,1855.4 227.3,1855.5 228.3,1856.2 229.3,1857.8 230.4,1857.8 230.4,1859.2Z" fill="#ef7f2c"/>
<path d="M145.1,1901.3L145.1,1899.9 236.1,1899.9 237.1,1899.4 238.1,1899.3 239.1,1899.4 240.1,1899.9 242,1899.9 242,1901.3Z" fill="#f2de1b"/>
<path d="M118.5,1943.4L118.5,1942 153.5,1942 154.5,1941.4 155.5,1935.7 156.5,1925 157.5,1913.4 158.5,1906 159.5,1903.8 160.5,1903.8 161.5,1906 162.5,1913.3 163.5,1924.9 164.5,1935.5 165.5,1941.3 166.5,1942 240.7,1942 240.7,1943.4Z" fill="#8296c8"/>
<path d="M81.8,1985.5L81.8,1984.1 153.8,1984.1 154.8,1981.9 155.8,1974 156.8,1961.9 157.8,1951.1 158.8,1945.6 159.8,1944.9 160.8,1944.9 161.8,1948.8 162.8,1958.1 163.8,1970 164.8,1978.9 165.8,1982.4 166.8,1983.5 167.7,1984.1 167.7,1985.5Z" fill="#b865a3"/>
<path d="M108.2,2027.5L108.2,2026.1 155.2,2026.1 156.2,2023.9 157.2,2018.4 158.2,2013.3 159.2,2011.1 160.2,2010.9 161.2,2011.8 162.2,2015.2 163.2,2020 164.2,2022.9 165.2,2023.6 166.2,2023.9 167.2,2025.1 168.2,2026.1 242,2026.1 242,2027.5Z" fill="#d3a062"/>
<path d="M81.8,2069.6L81.8,2068.2 153.8,2068.2 154.8,2066.9 155.8,2061 156.8,2052 157.8,2043.8 158.8,2039.7 159.8,2038.9 160.8,2039.2 161.8,2042.1 162.8,2048.7 163.8,2057 164.8,2063.2 165.8,2065.5 166.8,2066.6 167.8,2068.2 231.7,2068.2 231.7,2069.6Z" fill="#8fd0dc"/>
<path d="M140.8,2111.7L140.8,2110.3 153.8,2110.3 154.8,2109.2 155.8,2103.6 156.8,2094.7 157.8,2086.4 158.8,2081.9 159.8,2080.9 160.8,2081.2 161.8,2083.9 162.8,2090.8 163.8,2100 164.8,2107.3 165.8,2110.3 238.1,2110.3 238.1,2111.7Z" fill="#86c05c"/>
<path d="M149.2,2153.7L149.2,2152.3 154.2,2152.3 155.2,2152.1 156.2,2147.6 157.2,2140.5 158.2,2134.6 159.2,2132.2 160.2,2132 161.2,2132.9 162.2,2136.9 163.2,2143.4 164.2,2148.8 165.2,2150.9 166.2,2151.3 167.2,2152.2 168.2,2152.3 238.1,2152.3 238.1,2153.7Z" fill="#9580bb"/>
<path d="M144.6,2195.8L144.6,2194.4 145.6,2193.9 146.6,2192.9 147.6,2192.7 148.6,2192.9 149.6,2193.7 150.6,2194.4 153.6,2194.4 154.6,2193.1 155.6,2187.9 156.6,2181.9 157.6,2178.5 158.6,2177.9 159.6,2178.2 160.6,2180.6 161.6,2184.8 162.6,2188 163.6,2189.2 164.6,2189.5 165.6,2190.8 166.6,2193.4 167.6,2194.4 239.9,2194.4 239.9,2195.8Z" fill="#cf4a26"/>
<path d="M104.9,2237.9L104.9,2236.5 105.9,2236.2 106.9,2235.9 107.9,2235.8 108.9,2236.1 109.9,2236.5 154.9,2236.5 155.9,2233.6 156.9,2227.1 157.9,2220.3 158.9,2216.8 159.9,2216.1 160.9,2216.5 161.9,2219.5 162.9,2225.8 163.9,2232.7 164.9,2236.5 208.9,2236.5 209.9,2236.1 210.9,2235.8 211.9,2235.9 212.9,2236.3 213.9,2236.5 218.9,2236.5 219.9,2236 220.9,2235.8 221.9,2235.9 222.9,2236.5 224,2236.5 224,2237.9Z" fill="#3bb09e"/>
<path d="M94.7,2280L94.7,2278.6 233.8,2278.6 233.8,2280Z" fill="#7a1618"/>
<path d="M247.6,1691L247.6,1689.6 248.6,1688.9 249.6,1687.6 250.6,1687.1 251.6,1687.2 252.6,1687.9 253.6,1689.5 254.6,1689.6 312.6,1689.6 313.6,1689.5 314.6,1687.9 315.6,1687.2 316.6,1687.1 317.6,1687.6 318.6,1688.9 319.6,1689.2 320.6,1689.2 321.6,1688.6 322.6,1688.4 323.6,1688.3 324.6,1687.5 325.6,1684.9 326.6,1682.6 327.6,1682 328.6,1682.2 329.6,1683.9 330.6,1687.2 331.6,1689.6 342.6,1689.6 343.6,1689.1 344.6,1688.1 345.6,1687.9 346.6,1688 347.6,1688.8 348.6,1689.6 394.6,1689.6 395.6,1688.6 396.6,1687.4 397.6,1687.1 398.6,1686.6 399.6,1686.2 400.6,1686.7 401.6,1687.1 402.1,1687.2 402.1,1691Z" fill="#d42127"/>
<path d="M242.3,1733L242.3,1730.7 243.3,1730 244.3,1730 245.3,1730.3 246.3,1731.3 247.3,1731.6 286.3,1731.6 287.3,1730.1 288.3,1728.7 289.3,1728.4 290.3,1728.6 291.3,1729.7 292.3,1731.6 311.3,1731.6 312.3,1729.8 313.3,1726.9 314.3,1725.5 315.3,1725.4 316.3,1726 317.3,1728.3 318.3,1729.6 319.3,1729.6 320.3,1729.6 321.3,1728.1 322.3,1725.9 323.3,1725.4 324.3,1725.5 325.3,1727 326.3,1729.2 327.3,1728.3 328.3,1726.1 329.3,1725.4 330.3,1725.4 331.3,1726.7 332.3,1729.5 333.3,1731.6 362.3,1731.6 363.3,1730.3 364.3,1728.8 365.3,1728.4 366.3,1728.5 367.3,1729.2 368.3,1729.6 369.3,1728.8 370.3,1728.4 371.3,1728.5 372.3,1729.3 373.2,1731 373.2,1733Z" fill="#2b3a80"/>
<path d="M320.1,1775.1L320.1,1773.7 321.1,1772.6 322.1,1771 323.1,1770.5 324.1,1770.6 325.1,1771.4 326.1,1773 327.1,1772.7 328.1,1771.2 329.1,1770.5 330.1,1770.5 331.1,1771.2 332.1,1773 333.1,1773.7 348.1,1773.7 349.1,1773 350.1,1771.2 351.1,1770.5 352.1,1770.5 353.1,1771.2 354.1,1772.9 354.7,1773.7 354.7,1775.1Z" fill="#1f8a3c"/>
<path d="M311.7,1817.2L311.7,1814.6 312.7,1810.8 313.7,1807.8 314.7,1806.9 315.7,1807 316.7,1808.6 317.7,1812 318.7,1812.6 319.7,1812.1 320.7,1810.9 321.7,1810.6 322.7,1809.8 323.7,1806.6 324.7,1800.9 325.7,1796.2 326.7,1792.6 327.7,1788 328.7,1785.2 329.7,1787.6 330.7,1792.3 331.7,1795.9 332.7,1800.8 333.7,1807.9 334.7,1813.9 335.7,1815.8 340.7,1815.8 341.7,1815 342.7,1814.6 343.7,1814.6 344.7,1815 345.7,1815.8 348.7,1815.8 349.7,1815.3 350.7,1815.1 351.7,1815.2 352.7,1815.4 353.7,1814.9 354.7,1813.7 355.7,1813.3 356.7,1813.4 357.7,1814.1 358.7,1815.5 359.7,1815.5 360.7,1815.5 361.7,1814.1 362.7,1812.8 363.7,1812.4 364.7,1812.1 365.7,1812.4 366.7,1813.5 367.7,1814.1 368.7,1814.8 369.6,1815.8 369.6,1817.2Z" fill="#84208a"/>
<path d="M311.7,1859.2L311.7,1856.7 312.7,1852.9 313.7,1849.9 314.7,1849 315.7,1849.1 316.7,1850.6 317.7,1854.2 318.7,1854.6 319.7,1854.6 320.7,1854.6 321.7,1854.6 322.7,1854.7 323.7,1855.1 324.7,1850.1 325.7,1846.3 326.7,1845.2 327.7,1845.2 328.7,1846.3 329.7,1848 330.7,1848.8 331.7,1848.9 332.7,1849 333.7,1850.2 334.7,1853.6 335.7,1857.2 336.7,1857.8 360.7,1857.8 361.7,1855.8 362.7,1854.4 363.7,1854.1 364.7,1854.4 365.7,1855.7 366.7,1857.8 367,1857.8 367,1859.2Z" fill="#ef7f2c"/>
<path d="M243.3,1901.3L243.3,1899.9 255.3,1899.9 256.3,1899.8 257.3,1898.6 258.3,1898.2 259.3,1897.8 260.3,1897.4 261.3,1897.7 262.3,1898.2 263.3,1898.6 264.3,1899.7 265.3,1899.9 278.3,1899.9 279.3,1899.4 280.3,1899.3 281.3,1899.3 282.3,1899.9 283.3,1899.9 314.3,1899.9 315.3,1899.4 316.3,1899.3 317.3,1899.4 318.3,1899.9 324.3,1899.9 325.3,1899 326.3,1897 327.3,1896.2 328.3,1896.1 329.3,1895.9 330.3,1896.4 331.3,1897.2 332.3,1897.5 333.3,1898.2 334.3,1899.7 335.3,1899.9 342.3,1899.9 343.3,1899.5 344.3,1899.3 345.3,1899.3 346.3,1899.8 347.3,1899.9 357.3,1899.9 358.3,1899.2 359.3,1898.8 360.3,1898.8 361.3,1899.1 362.3,1899.9 364.3,1899.9 365.3,1899.2 366.3,1897.8 367.3,1897.5 368.3,1897.6 369.3,1898.4 370.3,1899.9 371.3,1899.9 372.3,1899.7 373.3,1899.3 374.3,1899.3 375.3,1899.5 376.3,1899.9 376.5,1899.9 376.5,1901.3Z" fill="#f2de1b"/>
<path d="M257.3,1943.4L257.3,1942 294.3,1942 295.3,1941.8 296.3,1941.4 297.3,1941.3 298.3,1941.6 299.3,1942 310.3,1942 311.3,1941.3 312.3,1937.4 313.3,1933.6 314.3,1932 315.3,1931.9 316.3,1932.8 317.3,1936 318.3,1938.2 319.3,1937.9 320.3,1936.1 321.3,1935.7 322.3,1936 323.3,1937.3 324.3,1936.7 325.3,1929.2 326.3,1918.5 327.3,1910.7 328.3,1907.8 329.3,1907.5 330.3,1908.8 331.3,1914.2 332.3,1924.1 333.3,1934.4 334.3,1940.7 335.3,1942 337.3,1942 338.3,1941.8 339.3,1941.7 340.3,1941.7 341.3,1942 343.3,1942 344.3,1941.1 345.3,1939.8 346.3,1939.5 347.3,1939.6 348.3,1940.1 349.3,1939.9 350.3,1938.7 351.3,1938.3 352.3,1938.4 353.3,1939.3 354.3,1941.1 355.3,1941.1 356.3,1941.1 357.3,1941.1 358.3,1941.1 359.3,1941.1 360.3,1939.6 361.3,1936.8 362.3,1935.8 363.3,1935.7 364.3,1936.6 365.3,1939.2 366.3,1942 398.3,1942 399.3,1941.4 400.3,1941.3 401.3,1941.5 402.1,1941.9 402.1,1943.4Z" fill="#8296c8"/>
<path d="M254.8,1985.5L254.8,1984.1 255.8,1984.1 256.8,1983.2 257.8,1982.5 258.8,1982.4 259.8,1982.6 260.8,1983.6 261.8,1984.1 276.8,1984.1 277.8,1983.2 278.8,1982.9 279.8,1982.9 280.8,1983.5 281.8,1984.1 295.8,1984.1 296.8,1983.9 297.8,1983.1 298.8,1982.9 299.8,1983 300.8,1983.7 301.8,1984.1 310.8,1984.1 311.8,1981.3 312.8,1976.6 313.8,1973.4 314.8,1972.7 315.8,1972.9 316.8,1974.7 317.8,1977.3 318.8,1975.7 319.8,1971.9 320.8,1970.2 321.8,1970 322.8,1969.7 323.8,1967.9 324.8,1961.7 325.8,1954.3 326.8,1949.9 327.8,1947.4 328.8,1944.9 329.8,1944.9 330.8,1948.5 331.8,1956.4 332.8,1961.8 333.8,1966.8 334.8,1974 335.8,1980.8 336.8,1984.1 337.8,1984.1 338.8,1983.9 339.8,1983.7 340.8,1983.7 341.8,1983.7 342.8,1983.7 343.8,1984.1 344.8,1983.3 345.8,1982 346.8,1981.6 347.8,1981.7 348.8,1982.5 349.8,1984.1 353.8,1984.1 354.8,1983.8 355.8,1983.3 356.8,1982.9 357.8,1982.9 358.8,1983.3 359.8,1984.1 360.8,1983.2 361.8,1980.7 362.8,1979.3 363.8,1979 364.8,1979.2 365.8,1980.1 366.8,1981.1 367.8,1981.5 368.8,1981.7 369.8,1982.5 370.8,1984.1 397.8,1984.1 398.8,1983.8 399.8,1982.3 400.8,1981.6 401.8,1981.6 402.1,1981.7 402.1,1985.5Z" fill="#b865a3"/>
<path d="M253.5,2027.5L253.5,2026.1 254.5,2025.9 255.5,2025.5 256.5,2025.5 257.5,2025.8 258.5,2026.1 310.5,2026.1 311.5,2022.7 312.5,2016.9 313.5,2012.4 314.5,2010.9 315.5,2010.9 316.5,2012.5 317.5,2017 318.5,2020.1 319.5,2020.1 320.5,2019.5 321.5,2016.7 322.5,2016 323.5,2015.6 324.5,2013.8 325.5,2007.3 326.5,1997.1 327.5,1989.3 328.5,1987 329.5,1987 330.5,1988.6 331.5,1995.7 332.5,2007.4 333.5,2018.7 334.5,2025.1 335.5,2026.1 337.5,2026.1 338.5,2025.9 339.5,2025.8 340.5,2025.8 341.5,2026.1 343.5,2026.1 344.5,2025 345.5,2023.9 346.5,2023.7 347.5,2023.8 348.5,2024 349.5,2023 350.5,2021.5 351.5,2021.1 352.5,2021.3 353.5,2022.7 354.5,2024.6 355.5,2024.6 356.5,2024.6 357.5,2024.6 358.5,2024.6 359.5,2024.7 360.5,2021.4 361.5,2018.3 362.5,2017.3 363.5,2017.4 364.5,2018.7 365.5,2022.2 366.5,2025.7 367.5,2026.1 397.5,2026.1 398.5,2025.7 399.5,2025 400.5,2025 401.5,2025.2 402.1,2025.6 402.1,2027.5Z" fill="#d3a062"/>
<path d="M256.1,2069.6L256.1,2068.2 311.1,2068.2 312.1,2066.9 313.1,2063.9 314.1,2062.2 315.1,2061.9 316.1,2062.3 317.1,2064.3 318.1,2066.1 319.1,2066.1 320.1,2063.4 321.1,2057.2 322.1,2052.9 323.1,2051.7 324.1,2051.4 325.1,2050.9 326.1,2049.1 327.1,2044.8 328.1,2040.5 329.1,2038.9 330.1,2038.9 331.1,2040.5 332.1,2046.1 333.1,2055 334.1,2063.3 335.1,2067.9 336.1,2068.2 346.1,2068.2 347.1,2067.8 348.1,2067.6 349.1,2067.6 350.1,2068.1 351.1,2068.2 360.1,2068.2 361.1,2068.1 362.1,2067.6 363.1,2067.6 364.1,2067.7 365.1,2068.2 402.1,2068.2 402.1,2069.6Z" fill="#8fd0dc"/>
<path d="M269.6,2111.7L269.6,2110.3 300.6,2110.3 301.6,2110.2 302.6,2109.7 303.6,2109.6 304.6,2109.8 305.6,2110.3 310.6,2110.3 311.6,2110.1 312.6,2107.2 313.6,2104.7 314.6,2104 315.6,2104.1 316.6,2105.3 317.6,2108 318.6,2108.2 319.6,2104.2 320.6,2098.6 321.6,2095.5 322.6,2095 323.6,2094.9 324.6,2095 325.6,2092.7 326.6,2087.1 327.6,2082.5 328.6,2081 329.6,2081 330.6,2082.9 331.6,2088.9 332.6,2097.9 333.6,2106 334.6,2110.2 402.1,2110.3 402.1,2111.7Z" fill="#86c05c"/>
<path d="M249.7,2153.7L249.7,2152.3 309.7,2152.3 310.7,2151.8 311.7,2147.3 312.7,2141.1 313.7,2136.9 314.7,2135.8 315.7,2136 316.7,2137.9 317.7,2143.1 318.7,2145.7 319.7,2145.7 320.7,2145.7 321.7,2143.9 322.7,2143.4 323.7,2143 324.7,2140.8 325.7,2133.6 326.7,2123.8 327.7,2117.2 328.7,2115.4 329.7,2115.4 330.7,2117.9 331.7,2125.4 332.7,2136.7 333.7,2146.8 334.7,2152 335.7,2152.3 344.7,2152.3 345.7,2152 346.7,2151.7 347.7,2151.7 348.7,2152.1 349.7,2152.3 359.7,2152.3 360.7,2149.9 361.7,2147.9 362.7,2147.3 363.7,2147.5 364.7,2148.7 365.7,2151.2 366.7,2152.3 402.1,2152.3 402.1,2153.7Z" fill="#9580bb"/>
<path d="M271.4,2195.8L271.4,2194.4 272.4,2194.2 273.4,2193.1 274.4,2192.7 275.4,2192.8 276.4,2193.4 277.4,2194.4 281.4,2194.4 282.4,2193.9 283.4,2193.3 284.4,2193.2 285.4,2193.5 286.4,2194.3 287.4,2194.4 288.4,2194.4 289.4,2193.5 290.4,2193.2 291.4,2193.3 292.4,2193.9 293.4,2194.4 294.4,2193.6 295.4,2191.6 296.4,2190.7 297.4,2190.7 298.4,2191.3 299.4,2193.1 300.4,2194.4 311.4,2194.4 312.4,2192.8 313.4,2190.4 314.4,2189.5 315.4,2189.4 316.4,2190.2 317.4,2192.3 318.4,2192.7 319.4,2190.2 320.4,2188.4 321.4,2188.1 322.4,2188.5 323.4,2190 324.4,2189.8 325.4,2183.5 326.4,2174.8 327.4,2168.6 328.4,2166.5 329.4,2166.4 330.4,2167.6 331.4,2172.6 332.4,2181 333.4,2189.2 334.4,2194 335.4,2194.4 344.4,2194.4 345.4,2193.7 346.4,2193.3 347.4,2193.3 348.4,2193.5 349.4,2193.9 350.4,2193.3 351.4,2192.8 352.4,2192.7 353.4,2193.1 354.4,2194.2 355.4,2194.4 359.4,2194.4 360.4,2193.3 361.4,2191.4 362.4,2190.7 363.4,2190.7 364.4,2191.5 365.4,2193.4 366.4,2194.4 367.4,2194.4 368.4,2193.9 369.4,2193.8 370.4,2193.8 371.4,2194.4 373.2,2194.4 373.2,2195.8Z" fill="#cf4a26"/>
<path d="M293.2,2237.9L293.2,2236.5 294.2,2236.5 295.2,2235.1 296.2,2234.2 297.2,2234 298.2,2234.3 299.2,2235.6 300.2,2236.5 311.2,2236.5 312.2,2236 313.2,2232.4 314.2,2229 315.2,2227.7 316.2,2227.7 317.2,2228.7 318.2,2232 319.2,2233.3 320.2,2233.3 321.2,2233.3 322.2,2233.3 323.2,2233.3 324.2,2227.1 325.2,2218.8 326.2,2213 327.2,2210.9 328.2,2209.5 329.2,2207.7 330.2,2209.4 331.2,2215.2 332.2,2220.4 333.2,2223.9 334.2,2228.7 335.2,2234 336.2,2236.5 348.2,2236.5 349.2,2235.4 350.2,2234.8 351.2,2234.8 352.2,2235.2 353.2,2236.3 354.2,2236.5 355.2,2235.9 356.2,2235 357.2,2234.8 358.2,2234.9 359.2,2235.7 360.2,2236.3 361.2,2235.5 362.2,2234.9 363.2,2234.8 364.2,2235.1 365.2,2236.2 366.2,2236.4 367.2,2235.4 368.2,2234.8 369.2,2234.8 370.2,2235.2 371.2,2236.4 372.2,2236.5 389.2,2236.5 390.2,2235.4 391.2,2234.8 392.2,2234.8 393.2,2235.2 394.2,2236.3 395.2,2236.5 395.2,2237.9Z" fill="#3bb09e"/>
<path d="M273.2,2280L273.2,2278.6 311.2,2278.6 312.2,2275.3 313.2,2271.6 314.2,2269.9 315.2,2269.7 316.2,2270.4 317.2,2273.2 318.2,2275.3 319.2,2275.3 320.2,2275.3 321.2,2275.3 322.2,2275.3 323.2,2272.4 324.2,2265.9 325.2,2261.7 326.2,2259.7 327.2,2256.6 328.2,2253.9 329.2,2255.1 330.2,2258.7 331.2,2260.8 332.2,2263.7 333.2,2269.6 334.2,2275.7 335.2,2278.6 342.2,2278.6 343.2,2278.1 344.2,2277.9 345.2,2278 346.2,2278.4 347.2,2278.6 349.2,2278.6 350.2,2278.2 351.2,2277.5 352.2,2277.4 353.2,2277.6 354.2,2278.4 355.2,2278.6 359.2,2278.6 360.2,2277.2 361.2,2274.8 362.2,2273.6 363.2,2273.6 364.2,2274.2 365.2,2276.3 366.2,2278.2 367.2,2278.2 368.2,2277.9 369.2,2277.9 370.2,2278.2 371.2,2278.6 398.2,2278.6 399.2,2278.4 400.2,2277.6 401.2,2277.4 402.1,2277.4 402.1,2280Z" fill="#7a1618"/>
<path d="M462.8,1691L462.8,1689.6 464.8,1689.6 465.8,1689.4 466.8,1688.6 467.8,1688.4 468.8,1688.5 469.8,1689.2 470.8,1689.6 471.8,1689.6 472.8,1686.7 473.8,1680.2 474.8,1673.5 475.8,1669.9 476.8,1669.2 477.8,1669.5 478.8,1671.5 479.8,1675.2 480.8,1678.6 481.8,1680.3 482.8,1680.9 483.8,1682.7 484.8,1686.4 485.8,1688.7 486.8,1688.2 487.8,1686.5 488.8,1685.9 489.8,1685.9 490.8,1686.8 491.8,1688.8 492.8,1689.6 496.8,1689.5 497.8,1689 498.8,1688.9 499.8,1689.1 500.8,1689.6 529.8,1689.6 530.8,1687.3 531.8,1681.8 532.8,1676.7 533.8,1674.5 534.8,1674.3 535.8,1675.3 536.8,1679 537.8,1683.5 538.8,1683.5 539.8,1683.5 540.8,1679.5 541.8,1674.1 542.8,1671.9 543.8,1671.8 544.8,1672.8 545.8,1677 546.8,1683.4 547.8,1688.6 548.8,1689.6 551.8,1689.6 552.8,1689.5 553.8,1689.5 554.8,1689.6 555.8,1689.1 556.8,1688.5 557.8,1688.3 558.8,1688 559.8,1687.7 560.8,1687.8 561.8,1687.9 562.8,1688.3 563.8,1689.4 563.8,1689.4 563.8,1691Z" fill="#d42127"/>
<path d="M458.9,1733L458.9,1731.6 460.9,1731.6 461.9,1731.2 462.9,1727.9 463.9,1725 464.9,1724.1 465.9,1724.1 466.9,1725.4 467.9,1728.3 468.9,1729 469.9,1727 470.9,1725.5 471.9,1724.8 472.9,1722.4 473.9,1717.7 474.9,1712.9 475.9,1710.4 476.9,1710 477.9,1710.5 478.9,1713.3 479.9,1717.1 480.9,1719.3 481.9,1720 482.9,1720.2 483.9,1721.4 484.9,1725.1 485.9,1729.5 486.9,1729.8 487.9,1727.3 488.9,1726 489.9,1725.9 490.9,1726.4 491.9,1728.7 492.9,1731.4 493.9,1731.6 496.9,1731.6 497.9,1731.4 498.9,1730.6 499.9,1730.5 500.9,1730.6 501.9,1731.4 502.9,1731.6 517.9,1731.6 518.9,1730.9 519.9,1730.5 520.9,1730.5 521.9,1730.9 522.9,1731.6 529.9,1731.6 530.9,1729.2 531.9,1723.9 532.9,1719.4 533.9,1717.8 534.9,1717.7 535.9,1718.9 536.9,1723 537.9,1726.1 538.9,1726.1 539.9,1721.9 540.9,1715.2 541.9,1711.8 542.9,1711.3 543.9,1711.7 544.9,1714.8 545.9,1721.3 546.9,1728.1 547.9,1731.6 548.6,1731.6 548.6,1733Z" fill="#2b3a80"/>
<path d="M458.9,1775.1L458.9,1773.7 464.9,1773.7 465.9,1773.3 466.9,1770.3 467.9,1768 468.9,1767.4 469.9,1767.6 470.9,1769 471.9,1771.6 472.9,1770.9 473.9,1765.2 474.9,1759.2 475.9,1756.3 476.9,1755.9 477.9,1756.3 478.9,1758.5 479.9,1761.6 480.9,1763.8 481.9,1764.7 482.9,1765.2 483.9,1767.3 484.9,1770.5 485.9,1770.5 486.9,1770.5 487.9,1768.5 488.9,1765.6 489.9,1764.9 490.9,1765 491.9,1766.7 492.9,1770.4 493.9,1773.7 509.9,1773.7 510.9,1772.8 511.9,1772.1 512.9,1772 513.9,1772.3 514.9,1773.3 515.9,1773.7 528.9,1773.7 529.9,1772.5 530.9,1768.6 531.9,1765.7 532.9,1764.9 533.9,1764.9 534.9,1765.7 535.9,1766.2 536.9,1765.3 537.9,1764.2 538.9,1761.3 539.9,1755.9 540.9,1751.4 541.9,1749.6 542.9,1749.5 543.9,1750 544.9,1753.2 545.9,1760.2 546.9,1768.1 547.9,1773.1 548.6,1773.7 548.6,1775.1Z" fill="#1f8a3c"/>
<path d="M447.4,1817.2L447.4,1815.8 448.4,1815.5 449.4,1815.2 450.4,1815.1 451.4,1815.4 452.4,1815.8 462.4,1815.8 463.4,1813.1 464.4,1809.8 465.4,1808.3 466.4,1808.2 467.4,1809 468.4,1811.6 469.4,1813.1 470.4,1813.1 471.4,1813.1 472.4,1812.8 473.4,1806.4 474.4,1800.2 475.4,1797.1 476.4,1796.7 477.4,1797.2 478.4,1799.7 479.4,1803 480.4,1804.2 481.4,1804.3 482.4,1804.4 483.4,1805.5 484.4,1809.2 485.4,1812.8 486.4,1812.8 487.4,1812.8 488.4,1809.4 489.4,1807.6 490.4,1807.4 491.4,1808.1 492.4,1810.8 493.4,1814.5 494.4,1815.8 500.4,1815.8 501.4,1815.3 502.4,1815.1 503.4,1815.2 504.4,1815.8 509.4,1815.8 510.4,1814.4 511.4,1812.6 512.4,1812.1 513.4,1812.1 514.4,1813.1 515.4,1815.1 516.4,1815.8 519.4,1815.8 520.4,1815.4 521.4,1815.1 522.4,1815.2 523.4,1815.6 524.4,1815.8 530.4,1815.8 531.4,1813.9 532.4,1810 533.4,1807.4 534.4,1806.9 535.4,1807.2 536.4,1809.2 537.4,1812.6 538.4,1812.6 539.4,1809.3 540.4,1804.3 541.4,1802 542.4,1801.8 543.4,1802.6 544.4,1806.1 545.4,1811.5 546.4,1815.6 547.4,1815.8 548.4,1815.8 549.4,1815.5 550.4,1814.4 551.4,1814 552.4,1814.6 553.4,1815.8 555.4,1815.8 556.4,1813.4 557.4,1810.9 558.4,1810 559.4,1810.1 560.4,1811.1 561.4,1813.7 562.4,1815.8 563.8,1815.8 563.8,1817.2Z" fill="#84208a"/>
<path d="M462.8,1859.2L462.8,1857.8 463.8,1857.8 464.8,1855.7 465.8,1853.5 466.8,1852.9 467.8,1852.9 468.8,1854 469.8,1856.4 470.8,1856.4 471.8,1856.4 472.8,1856.4 473.8,1856.4 474.8,1855 475.8,1853.2 476.8,1852.8 477.8,1853 478.8,1854.3 479.8,1855.4 480.8,1854 481.8,1853 482.8,1852.9 483.8,1853.4 484.8,1855.4 485.8,1857.8 486.8,1857.8 487.8,1857.8 488.8,1856.6 489.8,1856.2 490.8,1856.2 491.8,1856.7 492.8,1857.8 530.8,1857.8 531.8,1856.7 532.8,1854.2 533.8,1853 534.8,1852.8 535.8,1853.4 536.8,1855.4 537.8,1856.4 538.8,1855.1 539.8,1848.7 540.8,1841.6 541.8,1837.6 542.8,1836.7 543.8,1837 544.8,1839.6 545.8,1845.7 546.8,1853 547.8,1857.5 548.8,1857.5 549.8,1857.5 550.8,1857.5 551.8,1857.5 552.8,1857.1 553.8,1855.8 554.8,1855.4 555.8,1855.5 556.8,1856.3 557.8,1857.8 558.9,1857.8 558.9,1859.2Z" fill="#ef7f2c"/>
<path d="M443.6,1901.3L443.6,1899.9 461.6,1899.9 462.6,1899.4 463.6,1895.8 464.6,1892.4 465.6,1891.1 466.6,1891.1 467.6,1892.2 468.6,1895.4 469.6,1896.7 470.6,1896.7 471.6,1896.7 472.6,1896.7 473.6,1893 474.6,1886.2 475.6,1881.9 476.6,1880.8 477.6,1881 478.6,1882.8 479.6,1886.6 480.6,1889.2 481.6,1889.6 482.6,1889.8 483.6,1890.3 484.6,1892.9 485.6,1897 486.6,1897.3 487.6,1895.2 488.6,1892.8 489.6,1892.4 490.6,1892.6 491.6,1894.4 492.6,1897.9 493.6,1899.9 507.6,1899.9 508.6,1898.8 509.6,1898.3 510.6,1898.3 511.6,1898.6 512.6,1899.8 513.6,1899.9 518.6,1899.9 519.6,1899 520.6,1897.8 521.6,1897.5 522.6,1897.6 523.6,1898.5 524.6,1899.9 525.6,1899.7 526.6,1899.6 527.6,1899.6 528.6,1899.6 529.6,1899.6 530.6,1899.9 531.6,1899.8 532.6,1897.7 533.6,1896.4 534.6,1896.2 535.6,1896.4 536.6,1897.5 537.6,1896.5 538.6,1892 539.6,1888.3 540.6,1887.2 541.6,1887.3 542.6,1889.1 543.6,1893.5 544.6,1898.3 545.6,1899.9 556.6,1899.9 557.6,1899 558.6,1898.8 559.6,1898.8 560.6,1899.4 561.6,1899.9 563.8,1899.9 563.8,1901.3Z" fill="#f2de1b"/>
<path d="M426.9,1943.4L426.9,1942 461.9,1942 462.9,1938.5 463.9,1933.4 464.9,1930.1 465.9,1929.3 466.9,1929.5 467.9,1931.7 468.9,1936.4 469.9,1937.1 470.9,1937.1 471.9,1937.1 472.9,1931.6 473.9,1920.8 474.9,1912 475.9,1908.1 476.9,1907.5 477.9,1908.2 478.9,1912.4 479.9,1920.2 480.9,1926.7 481.9,1928.9 482.9,1929.2 483.9,1929.4 484.9,1931.1 485.9,1934.7 486.9,1935.1 487.9,1930.4 488.9,1926.5 489.9,1925.5 490.9,1925.6 491.9,1927.8 492.9,1933.1 493.9,1939 494.9,1942 509.9,1942 510.9,1941.5 511.9,1940.9 512.9,1940.8 513.9,1941 514.9,1941.9 515.9,1942 517.9,1942 518.9,1941.3 519.9,1940.8 520.9,1940.8 521.9,1941.2 522.9,1942 530.9,1942 531.9,1941.8 532.9,1940.3 533.9,1939.6 534.9,1939.6 535.9,1940 536.9,1941.2 537.9,1940.1 538.9,1933.7 539.9,1924.2 540.9,1916 541.9,1912 542.9,1911.4 543.9,1911.8 544.9,1915.3 545.9,1923 546.9,1932.6 547.9,1939.7 548.9,1942 558.9,1942 559.9,1941.3 560.9,1940.8 561.9,1940.8 562.9,1941.2 563.8,1942 563.8,1943.4Z" fill="#8296c8"/>
<path d="M426.9,1985.5L426.9,1984.1 427.9,1984.1 428.9,1983.7 429.9,1983.4 430.9,1983.4 431.9,1983.9 432.9,1984.1 460.9,1984.1 461.9,1982.7 462.9,1977.3 463.9,1970.9 464.9,1967.1 465.9,1966.2 466.9,1966.5 467.9,1969 468.9,1974.6 469.9,1976.8 470.9,1976.8 471.9,1976.8 472.9,1974.5 473.9,1964.5 474.9,1956.4 475.9,1952.7 476.9,1952.1 477.9,1952.7 478.9,1955.9 479.9,1961.5 480.9,1966.9 481.9,1970.1 482.9,1971.3 483.9,1972.6 484.9,1976.4 485.9,1978 486.9,1978 487.9,1973.7 488.9,1969.8 489.9,1968.8 490.9,1969 491.9,1971.1 492.9,1976.1 493.9,1981.7 494.9,1984.1 512.9,1984.1 513.9,1983.2 514.9,1982.9 515.9,1982.9 516.9,1983.3 517.9,1983.7 518.9,1983.3 519.9,1982.9 520.9,1982.9 521.9,1983.3 522.9,1984.1 531.9,1984.1 532.9,1983.4 533.9,1982.9 534.9,1982.9 535.9,1983.2 536.9,1983.9 537.9,1981.9 538.9,1974.7 539.9,1964 540.9,1954.8 541.9,1950.4 542.9,1949.6 543.9,1950.1 544.9,1953.9 545.9,1962.6 546.9,1973.4 547.9,1981.3 548.9,1984.1 558.9,1984.1 559.9,1983.8 560.9,1983.4 561.9,1983.4 562.9,1983.7 563.8,1984.1 563.8,1985.5Z" fill="#b865a3"/>
<path d="M426.9,2027.5L426.9,2026.1 460.9,2026.1 461.9,2024.3 462.9,2018.5 463.9,2011.8 464.9,2007.9 465.9,2007 466.9,2007.3 467.9,2009.8 468.9,2015.7 469.9,2018.3 470.9,2018.3 471.9,2018.3 472.9,2007.8 473.9,1996 474.9,1988.7 475.9,1987 476.9,1987 477.9,1989.2 478.9,1996.7 479.9,2006.7 480.9,2011.9 481.9,2011.5 482.9,2010.9 483.9,2011 484.9,2012.7 485.9,2016.2 486.9,2016.1 487.9,2010.9 488.9,2006.8 489.9,2005.8 490.9,2005.9 491.9,2008.2 492.9,2014 493.9,2021.1 494.9,2025.7 495.9,2026.1 507.9,2026.1 508.9,2025.2 509.9,2023.2 510.9,2022.4 511.9,2022.4 512.9,2023.1 513.9,2025 514.9,2025.8 515.9,2025.8 516.9,2025.8 517.9,2025.8 518.9,2024.3 519.9,2023.7 520.9,2023.7 521.9,2024.3 522.9,2025.7 523.9,2026.1 524.9,2025.8 525.9,2025.8 526.9,2025.8 527.9,2025.8 528.9,2026.1 529.9,2026.1 530.9,2025.4 531.9,2021.4 532.9,2017.6 533.9,2016.1 534.9,2016 535.9,2017 536.9,2020.3 537.9,2022.3 538.9,2016.6 539.9,2006.1 540.9,1996.9 541.9,1992.4 542.9,1991.7 543.9,1992.2 544.9,1996 545.9,2004.7 546.9,2015.5 547.9,2023.3 548.9,2026.1 556.9,2026.1 557.9,2025.8 558.9,2024.7 559.9,2024.5 560.9,2024.5 561.9,2025.2 562.9,2026.1 563.8,2026.1 563.8,2027.5Z" fill="#d3a062"/>
<path d="M425.6,2069.6L425.6,2068.2 461.6,2068.2 462.6,2065.3 463.6,2059.9 464.6,2055.7 465.6,2054.3 466.6,2054.3 467.6,2055.8 468.6,2060.1 469.6,2062.7 470.6,2062.7 471.6,2062.7 472.6,2059.8 473.6,2048.7 474.6,2038.2 475.6,2032.5 476.6,2031.2 477.6,2031.4 478.6,2033.9 479.6,2039.5 480.6,2046.1 481.6,2050.7 482.6,2052.6 483.6,2053.6 484.6,2057 485.6,2062.4 486.6,2062.7 487.6,2060.3 488.6,2055.9 489.6,2054.3 490.6,2054.3 491.6,2055.5 492.6,2059.7 493.6,2065.1 494.6,2068.2 507.6,2068.2 508.6,2067.1 509.6,2066 510.6,2065.8 511.6,2065.9 512.6,2066.9 513.6,2068.2 517.6,2068.2 518.6,2068.1 519.6,2067.6 520.6,2067.6 521.6,2067.7 522.6,2068.2 530.6,2068.2 531.6,2067.4 532.6,2064.9 533.6,2063.4 534.6,2063.2 535.6,2063.6 536.6,2065.3 537.6,2066.2 538.6,2061 539.6,2050.6 540.6,2040.1 541.6,2034 542.6,2032.5 543.6,2032.6 544.6,2035.3 545.6,2043 546.6,2054.1 547.6,2063.5 548.6,2068.1 549.6,2068.2 552.6,2068.2 553.6,2067.9 554.6,2067.9 555.6,2068.2 558.6,2068.2 559.6,2066.7 560.6,2065.9 561.6,2065.8 562.6,2066.1 563.6,2067.4 563.8,2067.6 563.8,2069.6Z" fill="#8fd0dc"/>
<path d="M426.9,2111.7L426.9,2110.3 462.9,2110.3 463.9,2106.9 464.9,2100.2 465.9,2093.6 466.9,2090.4 467.9,2089.9 468.9,2090.4 469.9,2093.7 470.9,2099.4 471.9,2100.7 472.9,2091.7 473.9,2080.1 474.9,2072.8 475.9,2071.1 476.9,2071.1 477.9,2073.2 478.9,2080.3 479.9,2089.3 480.9,2095.1 481.9,2097.1 482.9,2097.6 483.9,2098.8 484.9,2102.5 485.9,2103 486.9,2103 487.9,2097.6 488.9,2093.5 489.9,2092.5 490.9,2092.6 491.9,2094.8 492.9,2100.3 493.9,2106.7 494.9,2110.3 509.9,2110.3 510.9,2109.8 511.9,2109.2 512.9,2109.1 513.9,2109.3 514.9,2110.2 515.9,2110.3 516.9,2110.3 517.9,2109.9 518.9,2108.4 519.9,2107.9 520.9,2107.8 521.9,2108.4 522.9,2109.9 523.9,2110.3 524.9,2110.3 525.9,2110 526.9,2110 527.9,2110 528.9,2110.2 529.9,2110.3 530.9,2110.3 531.9,2108.8 532.9,2106.3 533.9,2105.3 534.9,2105.3 535.9,2106 536.9,2107.9 537.9,2107.2 538.9,2099.3 539.9,2087.2 540.9,2076.6 541.9,2071.6 542.9,2071.1 543.9,2071.3 544.9,2075.7 545.9,2085.6 546.9,2097.9 547.9,2106.9 548.9,2110.3 555.9,2110.3 556.9,2109.6 557.9,2108.7 558.9,2108.6 559.9,2108.8 560.9,2109.7 561.9,2110.3 563.8,2110.3 563.8,2111.7Z" fill="#86c05c"/>
<path d="M426.9,2153.7L426.9,2152.3 463.9,2152.3 464.9,2149.8 465.9,2147.8 466.9,2147.3 467.9,2147.5 468.9,2148.7 469.9,2150.9 470.9,2150.9 471.9,2150.9 472.9,2148.8 473.9,2142 474.9,2135.5 475.9,2132.4 476.9,2132 477.9,2132.5 478.9,2135.4 479.9,2139.9 480.9,2142.6 481.9,2143.3 482.9,2143.5 483.9,2144.5 484.9,2147.6 485.9,2149.1 486.9,2149.1 487.9,2147.2 488.9,2144.3 489.9,2143.5 490.9,2143.6 491.9,2145.3 492.9,2148.9 493.9,2152.2 494.9,2152.3 509.9,2152.3 510.9,2152.3 511.9,2151.8 512.9,2151.7 513.9,2151.9 514.9,2152.3 530.9,2152.3 531.9,2150.8 532.9,2148.4 533.9,2147.4 534.9,2147.4 535.9,2148.1 536.9,2150.2 537.9,2150.9 538.9,2150.9 539.9,2145.6 540.9,2139.7 541.9,2136.4 542.9,2135.8 543.9,2136.2 544.9,2139 545.9,2144.8 546.9,2150.4 547.9,2152.3 563.8,2152.3 563.8,2153.7Z" fill="#9580bb"/>
<path d="M447.4,2195.8L447.4,2194.4 448.4,2194.1 449.4,2193.8 450.4,2193.8 451.4,2194.1 452.4,2194.4 454.4,2194.4 455.4,2194.1 456.4,2193.8 457.4,2193.8 458.4,2194.1 459.4,2194.4 461.4,2194.4 462.4,2193 463.4,2188.3 464.4,2183.8 465.4,2181.9 466.4,2181.7 467.4,2182.7 468.4,2186.2 469.4,2189.5 470.4,2189.5 471.4,2189.5 472.4,2189.5 473.4,2185 474.4,2177 475.4,2171.8 476.4,2170.2 477.4,2170.3 478.4,2172 479.4,2177.2 480.4,2183 481.4,2184.9 482.4,2184.4 483.4,2184.3 484.4,2184.9 485.4,2187.6 486.4,2191.7 487.4,2192.6 488.4,2190.2 489.4,2188.8 490.4,2188.6 491.4,2189.2 492.4,2191.3 493.4,2194.1 494.4,2194.4 509.4,2194.4 510.4,2193 511.4,2191.2 512.4,2190.7 513.4,2190.8 514.4,2191.7 515.4,2193.5 516.4,2193.5 517.4,2193.5 518.4,2193.4 519.4,2191.5 520.4,2190.7 521.4,2190.7 522.4,2191.4 523.4,2193.3 524.4,2194.4 525.4,2194.3 526.4,2193.6 527.4,2193.5 528.4,2193.5 529.4,2193.8 530.4,2194.4 531.4,2194.4 532.4,2192.5 533.4,2191 534.4,2190.7 535.4,2190.9 536.4,2192.1 537.4,2193.5 538.4,2192.8 539.4,2187.9 540.4,2182.9 541.4,2180.7 542.4,2180.4 543.4,2181.2 544.4,2184.7 545.4,2190.1 546.4,2194.2 547.4,2194.4 559.4,2194.4 560.4,2194.1 561.4,2193.8 562.4,2193.8 563.4,2194.1 563.8,2194.4 563.8,2195.8Z" fill="#cf4a26"/>
<path d="M426.9,2237.9L426.9,2236.5 427.9,2236.5 428.9,2236.1 429.9,2235.8 430.9,2235.9 431.9,2236.3 432.9,2236.5 452.9,2236.5 453.9,2236 454.9,2235.8 455.9,2235.9 456.9,2236.4 457.9,2236.5 461.9,2236.5 462.9,2236 463.9,2231.6 464.9,2225.8 465.9,2222.1 466.9,2221.2 467.9,2221.4 468.9,2223.7 469.9,2228.6 470.9,2230.4 471.9,2225.8 472.9,2217.1 473.9,2210.9 474.9,2208.6 475.9,2208.4 476.9,2209.6 477.9,2214 478.9,2220.1 479.9,2222.1 480.9,2220.1 481.9,2218.7 482.9,2218.7 483.9,2220 484.9,2224.5 485.9,2230.3 486.9,2231.5 487.9,2228.4 488.9,2226.5 489.9,2226.4 490.9,2227.1 491.9,2230.1 492.9,2234.4 493.9,2236.5 505.9,2236.5 506.9,2236.2 507.9,2232.5 508.9,2228.5 509.9,2226.5 510.9,2226.4 511.9,2227.1 512.9,2230.1 513.9,2234.4 514.9,2236.5 518.9,2236.5 519.9,2235.6 520.9,2234.9 521.9,2234.8 522.9,2235.1 523.9,2236.1 524.9,2236.5 529.9,2236.5 530.9,2236.1 531.9,2232.6 532.9,2229.1 533.9,2227.7 534.9,2227.7 535.9,2228.6 536.9,2231.6 537.9,2233.3 538.9,2228.5 539.9,2219.5 540.9,2211.6 541.9,2207.8 542.9,2207.1 543.9,2207.6 544.9,2210.9 545.9,2218.3 546.9,2227.5 547.9,2234.3 548.9,2236.5 549.9,2236.5 550.9,2235.7 551.9,2234.7 552.9,2234.4 553.9,2234.4 554.9,2236.3 555.9,2236.5 556.9,2236 557.9,2233.1 558.9,2230.8 559.9,2230.2 560.9,2230.3 561.9,2231.8 562.9,2234.7 563.8,2236.5 563.8,2237.9Z" fill="#3bb09e"/>
<path d="M447.4,2280L447.4,2278.6 454.4,2278.6 455.4,2277.8 456.4,2277.4 457.4,2277.4 458.4,2277.8 459.4,2278.6 461.4,2278.6 462.4,2278.1 463.4,2274.2 464.4,2270.3 465.4,2268.6 466.4,2268.4 467.4,2269.3 468.4,2272.5 469.4,2274.8 470.4,2274.8 471.4,2274.8 472.4,2274.8 473.4,2267.2 474.4,2258.7 475.4,2253.4 476.4,2251.8 477.4,2251.8 478.4,2253.5 479.4,2258.4 480.4,2264.6 481.4,2268.9 482.4,2270.6 483.4,2271.2 484.4,2272.5 485.4,2272.5 486.4,2272.5 487.4,2271 488.4,2265.8 489.4,2263.5 490.4,2263.3 491.4,2264.1 492.4,2267.8 493.4,2273.6 494.4,2278 495.4,2278.6 509.4,2278.6 510.4,2277.9 511.4,2276.5 512.4,2276.1 513.4,2276.2 514.4,2276.9 515.4,2278.2 516.4,2278.2 517.4,2278.2 518.4,2277.4 519.4,2276.3 520.4,2276.1 521.4,2276.3 522.4,2277.3 523.4,2278.6 524.4,2278.6 525.4,2278.2 526.4,2278.2 527.4,2278.2 528.4,2278.3 529.4,2278.6 530.4,2278.6 531.4,2277.8 532.4,2274.8 533.4,2272.7 534.4,2272.3 535.4,2272.5 536.4,2274.1 537.4,2276.3 538.4,2273.7 539.4,2265.1 540.4,2255.3 541.4,2248.9 542.4,2246.8 543.4,2246.7 544.4,2248.3 545.4,2254.2 546.4,2263.8 547.4,2272.9 548.4,2278.1 549.4,2278.6 558.4,2278.6 559.4,2278.3 560.4,2277.5 561.4,2277.4 562.4,2277.5 563.4,2278.3 563.8,2278.6 563.8,2280Z" fill="#7a1618"/>
<path d="M615.7,1691L615.7,1689.6 616.7,1689.6 617.7,1689.2 618.7,1688.9 619.7,1689 620.7,1689.4 621.7,1689.6 623.7,1689.6 624.7,1689.3 625.7,1688.5 626.7,1688.4 627.7,1688.5 628.7,1689.3 629.7,1689.6 640.7,1689.6 641.7,1689.4 642.7,1689 643.7,1688.9 644.7,1689.2 645.7,1689.6 657.7,1689.6 658.7,1688.5 659.7,1687.4 660.7,1687.1 661.7,1687.3 662.7,1688.3 663.7,1689.6 664.7,1689.6 665.7,1689.3 666.7,1688.5 667.7,1688.4 668.7,1688.5 669.7,1689.3 670.7,1689.6 679.7,1689.6 680.7,1689.1 681.7,1688.9 682.7,1689 683.7,1689.6 684.9,1689.6 684.9,1691Z" fill="#d42127"/>
<path d="M587,1733L587,1731.6 588,1731.6 589,1731.2 590,1730.6 591,1730.5 592,1730.7 593,1731.5 594,1731.6 602,1731.6 603,1729.8 604,1728.6 605,1728.4 606,1728.5 607,1728.8 608,1728.7 609,1728.4 610,1728.4 611,1729.1 612,1730.8 613,1731.2 614,1731.2 615,1731.2 616,1730.7 617,1730.4 618,1729.9 619,1729.1 620,1729 621,1729.2 622,1729.5 623,1730.5 624,1730.4 625,1728.6 626,1727.5 627,1727.4 628,1727.9 629,1729.8 630,1731.6 640,1731.6 641,1731.5 642,1730.3 643,1730 644,1730 645,1730.6 646,1731.6 665,1731.6 666,1729.9 667,1726.5 668,1724.4 669,1724.1 670,1724.4 671,1726.5 672,1730 673,1731.6 712,1731.6 713,1731.1 714,1729.3 715,1728.5 716,1728.4 717,1729 718,1730.6 719,1731.6 722.3,1731.6 722.3,1733Z" fill="#2b3a80"/>
<path d="M589.6,1775.1L589.6,1773.7 590.6,1773.7 591.6,1773.2 592.6,1773.1 593.6,1773.1 594.6,1773.7 602.6,1773.7 603.6,1772.9 604.6,1772.6 605.6,1772.6 606.6,1773.1 607.6,1773.7 608.6,1773.4 609.6,1772.7 610.6,1772.5 611.6,1772.7 612.6,1773.4 613.6,1773.7 617.6,1773.7 618.6,1773.6 619.6,1773.1 620.6,1773.1 621.6,1773.3 622.6,1773.7 625.6,1773.7 626.6,1773.1 627.6,1773.1 628.6,1773.2 629.6,1773.7 641.6,1773.7 642.6,1772.7 643.6,1771.5 644.6,1771.3 645.6,1771.4 646.6,1772.4 647.6,1773.7 649.6,1773.7 650.6,1772.8 651.6,1772.1 652.6,1772 653.6,1772.3 654.6,1773.4 655.6,1773.7 657.6,1773.7 658.6,1773.2 659.6,1771.1 660.6,1770.1 661.6,1770 662.6,1770.4 663.6,1772.1 664.6,1773.4 665.6,1772.7 666.6,1771.5 667.6,1771.3 668.6,1771.4 669.6,1772.3 670.6,1773.7 672.6,1773.7 673.6,1773.3 674.6,1772.6 675.6,1772.5 676.6,1772.8 677.6,1773.6 678.6,1773.7 684.6,1773.7 685.6,1773.3 686.6,1773.1 687.6,1773.1 688.6,1773.5 689.6,1773.7 705.6,1773.7 706.6,1773.1 707.6,1773.1 708.6,1773.2 709.6,1773.7 711.6,1773.7 712.6,1773.6 713.6,1771.3 714.6,1769.8 715.6,1769.5 716.6,1769.7 717.6,1771.1 718.6,1773.4 719.6,1773.7 721.5,1773.7 721.5,1775.1Z" fill="#1f8a3c"/>
<path d="M583.2,1817.2L583.2,1815.8 584.2,1815.8 585.2,1815.7 586.2,1815.2 587.2,1815.1 588.2,1815 589.2,1814.9 590.2,1815 591.2,1815.1 592.2,1815.4 593.2,1815.8 603.2,1815.8 604.2,1814.7 605.2,1813.6 606.2,1813.3 607.2,1813.5 608.2,1814.5 609.2,1815.8 617.2,1815.8 618.2,1815.2 619.2,1814.7 620.2,1814.6 621.2,1814.9 622.2,1815.8 623.2,1815.8 624.2,1815.5 625.2,1814 626.2,1813.4 627.2,1813.4 628.2,1813.9 629.2,1815.3 630.2,1815.8 640.2,1815.8 641.2,1815.4 642.2,1814.4 643.2,1814.1 644.2,1814.2 645.2,1814.9 646.2,1815.8 657.2,1815.8 658.2,1815.1 659.2,1812.1 660.2,1810 661.2,1809.5 662.2,1809.7 663.2,1811.3 664.2,1813.7 665.2,1813.7 666.2,1812 667.2,1807.9 668.2,1805.9 669.2,1805.7 670.2,1806.3 671.2,1809.2 672.2,1813.5 673.2,1815.8 714.2,1815.8 715.2,1814 716.2,1811.7 717.2,1810.8 718.2,1810.8 719.2,1811.6 720.2,1814 721.2,1815.8 723.3,1815.8 723.3,1817.2Z" fill="#84208a"/>
<path d="M580.6,1859.2L580.6,1857.8 581.6,1857.8 582.6,1857.4 583.6,1856.8 584.6,1856.7 585.6,1856.9 586.6,1857.7 587.6,1857.8 588.6,1857.8 589.6,1856.9 590.6,1856.7 591.6,1856.7 592.6,1857.3 593.6,1857.8 601.6,1857.8 602.6,1856.5 603.6,1854.7 604.6,1854.1 605.6,1854.2 606.6,1855.1 607.6,1857.1 608.6,1857.8 609.6,1857.7 610.6,1856.9 611.6,1856.9 612.6,1857 613.6,1857.4 614.6,1857.8 615.6,1857.8 616.6,1855.9 617.6,1853.6 618.6,1852.9 619.6,1852.9 620.6,1853.8 621.6,1856 622.6,1855.8 623.6,1850.6 624.6,1844.3 625.6,1840.7 626.6,1840 627.6,1840.4 628.6,1843.1 629.6,1849 630.6,1855.1 631.6,1857.8 632.6,1857.8 633.6,1856.3 634.6,1855 635.6,1854.6 636.6,1854.6 637.6,1857.4 638.6,1857.8 639.6,1856.5 640.6,1852.6 641.6,1849.7 642.6,1849 643.6,1849.2 644.6,1850.8 645.6,1854.5 646.6,1857.8 651.6,1857.8 652.6,1857.1 653.6,1857.8 657.6,1857.8 658.6,1856.6 659.6,1854.1 660.6,1852.9 661.6,1852.9 662.6,1853.4 663.6,1855.5 664.6,1856.4 665.6,1856.3 666.6,1852.2 667.6,1848.8 668.6,1847.7 669.6,1847.8 670.6,1849.3 671.6,1853.1 672.6,1856.7 673.6,1857.2 674.6,1856.8 675.6,1856.7 676.6,1856.9 677.6,1857.8 678.6,1857.8 724.1,1857.8 724.1,1859.2Z" fill="#ef7f2c"/>
<path d="M571.2,1901.3L571.2,1899.9 602.2,1899.9 603.2,1899.8 604.2,1899.3 605.2,1899.3 606.2,1899.4 607.2,1899.9 623.2,1899.9 624.2,1899.3 625.2,1897.5 626.2,1896.8 627.2,1896.7 628.2,1897.3 629.2,1899 630.2,1899.9 640.2,1899.9 641.2,1899.4 642.2,1899.3 643.2,1899.4 644.2,1899.9 658.2,1899.9 659.2,1899.9 660.2,1899 661.2,1898.8 662.2,1898.8 663.2,1899.5 664.2,1899.9 666.2,1899.9 667.2,1899.5 668.2,1898.8 669.2,1898.8 670.2,1898.9 671.2,1899.8 672.2,1899.9 701.1,1899.9 701.1,1901.3Z" fill="#f2de1b"/>
<path d="M565.3,1943.4L565.3,1942 589.3,1942 590.3,1941.6 591.3,1940.9 592.3,1940.8 593.3,1941 594.3,1941.8 595.3,1942 599.3,1942 600.3,1938.3 601.3,1930 602.3,1920.1 603.3,1912.9 604.3,1910.3 605.3,1909.7 606.3,1909 607.3,1909.4 608.3,1912.5 609.3,1916.9 610.3,1919.7 611.3,1921.1 612.3,1925.1 613.3,1932.2 614.3,1938 615.3,1937.1 616.3,1933.9 617.3,1932.7 618.3,1933.4 619.3,1932.4 620.3,1931.8 621.3,1931.4 622.3,1929.4 623.3,1922.3 624.3,1912 625.3,1904.7 626.3,1902.8 627.3,1902.8 628.3,1904.8 629.3,1912.5 630.3,1924.4 631.3,1935.4 632.3,1937.2 633.3,1932.6 634.3,1927.9 635.3,1926 636.3,1929.5 637.3,1934.9 638.3,1934.5 639.3,1929.6 640.3,1919.4 641.3,1909 642.3,1903.5 643.3,1902.8 644.3,1902.9 645.3,1906.8 646.3,1916.3 647.3,1928.7 648.3,1938.1 649.3,1941.7 650.3,1940.6 651.3,1937.1 652.3,1933.8 653.3,1932.2 654.3,1936.8 655.3,1941 656.3,1941.6 657.3,1937.1 658.3,1929.4 659.3,1922.1 660.3,1918.4 661.3,1917.8 662.3,1918.2 663.3,1921.2 664.3,1926.9 665.3,1929.7 666.3,1925.1 667.3,1919.2 668.3,1916.7 669.3,1916.5 670.3,1917.5 671.3,1921.8 672.3,1929.6 673.3,1937.4 674.3,1940.5 675.3,1940.5 676.3,1938.3 677.3,1937.1 678.3,1937 679.3,1937.5 680.3,1939.6 681.3,1940.8 682.3,1940.5 683.3,1940.5 684.3,1940.5 685.3,1940.5 686.3,1940.8 687.3,1939.6 688.3,1937.5 689.3,1937 690.3,1937.1 691.3,1938.3 692.3,1940.8 693.3,1942 712.3,1942 713.3,1940.8 714.3,1937.4 715.3,1935 716.3,1934.4 717.3,1934.6 718.3,1936.4 719.3,1939.7 720.3,1941.7 721.3,1940.9 722.3,1939.8 723.3,1939.5 724.1,1939.6 724.1,1943.4Z" fill="#8296c8"/>
<path d="M566,1985.5L566,1984.1 567,1984.1 568,1983.5 569,1983.4 570,1983.5 571,1984.1 590,1984.1 591,1983.6 592,1983.4 593,1983.5 594,1984 601,1984.1 602,1981.3 603,1974.7 604,1967.5 605,1963.3 606,1962.4 607,1962.6 608,1965.2 609,1971.3 610,1978.7 611,1983.5 612,1983.7 613,1983.7 614,1983.7 615,1982.7 616,1979.1 617,1982.4 618,1981.8 619,1981.6 620,1981.8 621,1982.1 622,1979.2 623,1970.2 624,1958.7 625,1950.4 626,1947.3 627,1947 628,1948.4 629,1954.3 630,1965 631,1976 632,1980.3 633,1977.4 634,1975 635,1974 636,1973.9 637,1976.2 638,1978 639,1973.9 640,1967.5 641,1962.3 642,1960.1 643,1959.8 644,1960.6 645,1964.5 646,1972 647,1979.6 648,1983.9 649,1984.1 650,1983.9 651,1981.5 652,1979.1 653,1979.4 654,1982.8 655,1984.1 656,1984.1 657,1982 658,1976.6 659,1971.4 660,1969 661,1968.8 662,1969.6 663,1973.2 664,1979 665,1982 666,1982 667,1980 668,1978.1 669,1977.8 670,1978.1 671,1980 672,1982.6 673,1982.6 674,1982.6 675,1982.6 676,1980.9 677,1979.3 678,1979.1 679,1979.4 680,1981.1 681,1983 682,1982.6 683,1982.6 684,1982.6 685,1982.6 686,1982.7 687,1982.2 688,1979.9 689,1979.1 690,1979.1 691,1980 692,1982.3 693,1984.1 700,1984.1 701,1983.2 702,1982.9 703,1982.9 704,1983.5 705,1984.1 713,1984.1 714,1982 715,1979.8 716,1979.1 717,1979.1 718,1980 719,1981.3 720,1979.6 721,1977.2 722,1976.5 723,1976.6 724,1978.1 724.1,1978.3 724.1,1985.5Z" fill="#b865a3"/>
<path d="M585.8,2027.5L585.8,2026.1 601.8,2026.1 602.8,2024.8 603.8,2023.3 604.8,2022.9 605.8,2023 606.8,2024 607.8,2025.9 608.8,2026.1 609.8,2026.1 610.8,2025.4 611.8,2024.6 612.8,2024.5 613.8,2024.7 614.8,2025.6 615.8,2026.1 622.8,2026.1 623.8,2024.4 624.8,2021 625.8,2018.9 626.8,2018.6 627.8,2018.9 628.8,2021 629.8,2024.5 630.8,2026.1 632.8,2026.1 633.8,2025.4 634.8,2024.5 635.8,2024.6 636.8,2026.1 638.8,2026.1 639.8,2025.6 640.8,2022.8 641.8,2020.8 642.8,2020.4 643.8,2020.6 644.8,2022.1 645.8,2024.9 646.8,2026.1 657.8,2026.1 658.8,2025.5 659.8,2023.7 660.8,2023 661.8,2022.9 662.8,2023.5 663.8,2025.2 664.8,2026.1 665.8,2026.1 666.8,2025.9 667.8,2024.8 668.8,2024.5 669.8,2024.5 670.8,2025.2 671.8,2026.1 679.8,2026.1 680.8,2025.6 681.8,2025.5 682.8,2025.6 683.8,2026.1 724.1,2026.1 724.1,2027.5Z" fill="#d3a062"/>
<path d="M582.4,2069.6L582.4,2068.2 601.4,2068.2 602.4,2066.5 603.4,2064.2 604.4,2063.2 605.4,2063.2 606.4,2064 607.4,2066.3 608.4,2068.2 622.4,2068.2 623.4,2065.9 624.4,2061.2 625.4,2057.8 626.4,2056.8 627.4,2056.9 628.4,2058.7 629.4,2062.9 630.4,2067.2 631.4,2068.2 632.4,2068.2 633.4,2067 634.4,2065.5 635.4,2065 636.4,2066.6 637.4,2068.2 638.4,2068.2 639.4,2067.5 640.4,2063.8 641.4,2060.5 642.4,2059.4 643.4,2059.4 644.4,2060.7 645.4,2064 646.4,2067.6 647.4,2068.2 650.4,2068.2 651.4,2067.8 652.4,2067.1 653.4,2068.2 657.4,2068.2 658.4,2065.6 659.4,2063.2 660.4,2062.4 661.4,2062.5 662.4,2063.6 663.4,2066.2 664.4,2066.4 665.4,2066.4 666.4,2064.3 667.4,2060.8 668.4,2059.4 669.4,2059.4 670.4,2060.4 671.4,2063.5 672.4,2067.3 673.4,2068.2 724.1,2068.2 724.1,2069.6Z" fill="#8fd0dc"/>
<path d="M575.5,2111.7L575.5,2110.3 602.5,2110.3 603.5,2109.7 604.5,2107.7 605.5,2106.6 606.5,2106.5 607.5,2107 608.5,2108.7 609.5,2110.3 622.5,2110.3 623.5,2107.6 624.5,2102.9 625.5,2099.7 626.5,2098.9 627.5,2099 628.5,2101 629.5,2105.4 630.5,2109.5 631.5,2110.3 632.5,2110.3 633.5,2109.8 634.5,2108.1 635.5,2107.2 636.5,2108.8 637.5,2110.3 639.5,2110.3 640.5,2107.6 641.5,2103.7 642.5,2101.7 643.5,2101.4 644.5,2101.9 645.5,2104.4 646.5,2108.3 647.5,2110.3 651.5,2110.3 652.5,2109.9 653.5,2110.2 654.5,2110.3 657.5,2110.3 658.5,2109.9 659.5,2107.8 660.5,2106.7 661.5,2106.5 662.5,2106.9 663.5,2108.5 664.5,2109.4 665.5,2109.4 666.5,2106 667.5,2102.7 668.5,2101.5 669.5,2101.5 670.5,2102.6 671.5,2105.9 672.5,2109.6 673.5,2110.3 712.5,2110.3 713.5,2109.3 714.5,2108.1 715.5,2107.8 716.5,2107.9 717.5,2108.9 718.5,2110.3 724.1,2110.3 724.1,2111.7Z" fill="#86c05c"/>
<path d="M581.4,2153.7L581.4,2152.3 603.4,2152.3 604.4,2150.9 605.4,2150 606.4,2149.9 607.4,2150.2 608.4,2151.4 609.4,2152.3 618.4,2152.3 619.4,2151.1 620.4,2150.7 621.4,2150.7 622.4,2151.2 623.4,2151.7 624.4,2150.1 625.4,2148 626.4,2147.3 627.4,2147.4 628.4,2148.5 629.4,2150.9 630.4,2152.3 633.4,2152.3 634.4,2151.7 635.4,2151.4 636.4,2152.3 639.4,2152.3 640.4,2151.8 641.4,2149.3 642.4,2147.6 643.4,2147.3 644.4,2147.6 645.4,2149.2 646.4,2151.8 647.4,2152.3 658.4,2152.3 659.4,2151.6 660.4,2150.8 661.4,2150.7 662.4,2150.9 663.4,2151.8 664.4,2152.3 665.4,2152.3 666.4,2151.3 667.4,2149.1 668.4,2148.2 669.4,2148.1 670.4,2148.7 671.4,2150.7 672.4,2152.3 687.4,2152.3 688.4,2151.8 689.4,2151.7 690.4,2151.8 691.4,2152.3 712.4,2152.3 713.4,2150.8 714.4,2149.1 715.4,2148.6 716.4,2148.7 717.4,2149.8 718.4,2151.8 719.4,2152.3 724.1,2152.3 724.1,2153.7Z" fill="#9580bb"/>
<path d="M587,2195.8L587,2194.4 588,2194.4 589,2194.4 590,2193.8 591,2193.8 592,2193.9 593,2194.4 603,2194.4 604,2193.6 605,2192.3 606,2192 607,2192.1 608,2192.9 609,2194.4 623,2194.4 624,2192.5 625,2189.6 626,2188.2 627,2188.1 628,2188.8 629,2191.2 630,2194.1 631,2194.4 632,2194.4 633,2194.3 634,2193.8 635,2193.5 636,2193.7 637,2194.4 638,2193.3 639,2192.7 640,2192.4 641,2191.4 642,2190.7 643,2190.6 644,2190.7 645,2191.6 646,2193.6 647,2194.4 659,2194.4 660,2193.5 661,2193.3 662,2193.3 663,2193.8 664,2194.4 665,2194.4 666,2192.7 667,2189.2 668,2187.2 669,2186.8 670,2187.2 671,2189.3 672,2192.8 673,2194.4 679,2194.4 680,2194.3 681,2193.8 682,2193.8 683,2193.9 684,2194.4 713,2194.4 714,2194.3 715,2193.1 716,2192.7 717,2192.8 718,2193.3 719,2194.4 721.5,2194.4 721.5,2195.8Z" fill="#cf4a26"/>
<path d="M583.2,2237.9L583.2,2236.5 588.2,2236.5 589.2,2236.3 590.2,2235.9 591.2,2235.8 592.2,2236.1 593.2,2236.5 604.2,2236.5 605.2,2235.9 606.2,2234.5 607.2,2234 608.2,2234.1 609.2,2234.8 610.2,2236.4 611.2,2236.5 622.2,2236.5 623.2,2236.4 624.2,2233.3 625.2,2230.2 626.2,2229 627.2,2228.9 628.2,2229.9 629.2,2232.9 630.2,2236.1 631.2,2236.5 633.2,2236.5 634.2,2236.1 635.2,2235.2 636.2,2235.6 637.2,2236.5 639.2,2236.5 640.2,2236.4 641.2,2233.9 642.2,2232 643.2,2231.5 644.2,2231.6 645.2,2232.9 646.2,2235.4 647.2,2236.5 651.2,2236.5 652.2,2236 653.2,2236.5 657.2,2236.5 658.2,2236.3 659.2,2233.8 660.2,2231.9 661.2,2231.5 662.2,2231.7 663.2,2233.1 664.2,2235 665.2,2234.4 666.2,2229.2 667.2,2223.9 668.2,2221.5 669.2,2221.2 670.2,2222 671.2,2225.5 672.2,2231.2 673.2,2235.8 674.2,2236.5 676.2,2236.5 677.2,2236 678.2,2235 679.2,2234.8 680.2,2234.9 681.2,2235.8 682.2,2236.5 686.2,2236.5 687.2,2235.1 688.2,2233.3 689.2,2232.8 690.2,2232.8 691.2,2233.8 692.2,2235.8 693.2,2236.5 699.2,2236.4 700.2,2235.9 701.2,2235.8 702.2,2236 703.2,2236.5 705.2,2236.5 706.2,2235.6 707.2,2235.3 708.2,2235.4 709.2,2235.9 710.2,2236.5 712.2,2236.5 713.2,2236.2 714.2,2233.4 715.2,2231.3 716.2,2230.7 717.2,2230.8 718.2,2232.2 719.2,2235 720.2,2236.5 721.5,2236.5 721.5,2237.9Z" fill="#3bb09e"/>
<path d="M587,2280L587,2278.6 603,2278.6 604,2278 605,2275.4 606,2273.8 607,2273.5 608,2273.8 609,2275.5 610,2278.1 611,2278.6 623,2278.6 624,2275.9 625,2272.6 626,2271.1 627,2271 628,2271.7 629,2274.4 630,2277.8 631,2278.6 633,2278.6 634,2278.1 635,2277.1 636,2277.4 637,2278.6 640,2278.6 641,2275.9 642,2273.5 643,2272.8 644,2272.9 645,2274 646,2276.7 647,2278.6 652,2278.6 653,2278.5 654,2278.6 658,2278.6 659,2277.1 660,2275.3 661,2274.8 662,2274.9 663,2275.9 664,2277.9 665,2278.2 666,2278.2 667,2277.4 668,2276.3 669,2276.1 670,2276.3 671,2277.4 672,2278.6 687,2278.6 688,2278.2 689,2277.9 690,2277.9 691,2278.3 692,2278.6 719,2278.6 720,2278.3 721,2277.9 722,2277.9 723,2278.2 724,2278.6 724.1,2278.6 724.1,2280Z" fill="#7a1618"/>
<path d="M798.9,1691L798.9,1688.4 799.9,1684.1 800.9,1680.1 801.9,1678.4 802.9,1677.4 803.9,1676.4 804.9,1678.2 805.9,1681.4 806.9,1683.2 807.9,1685.5 808.9,1688.6 809.9,1689.6 822.9,1689.6 823.9,1688.4 824.9,1686.8 825.9,1686.4 826.9,1686.4 827.9,1687.3 828.9,1689.2 829.9,1689.6 865.9,1689.6 866.9,1687.8 867.9,1686.6 868.9,1686.4 869.9,1686.6 870.9,1687.8 871.9,1689.6 872.5,1689.6 872.5,1691Z" fill="#d42127"/>
<path d="M726.6,1733L726.6,1731.6 727.6,1730 728.6,1728.3 729.6,1727.7 730.6,1727.8 731.6,1728.8 732.6,1730.9 733.6,1731.6 802.6,1731.6 803.6,1728.3 804.6,1724.5 805.6,1722.6 806.6,1722.4 807.6,1723.1 808.6,1725.9 809.6,1729.9 810.4,1731.6 810.4,1733Z" fill="#2b3a80"/>
<path d="M748.7,1775.1L748.7,1773.7 749.7,1772.4 750.7,1770.1 751.7,1769.2 752.7,1769.1 753.7,1769.8 754.7,1771.9 755.7,1773.7 798.7,1773.7 799.7,1772.9 800.7,1770.5 801.7,1769.2 802.7,1768.2 803.7,1765.7 804.7,1763.4 805.7,1762.9 806.7,1763.2 807.7,1764.1 808.7,1767.3 809.7,1771.7 810.4,1773.7 810.4,1775.1Z" fill="#1f8a3c"/>
<path d="M734.5,1817.2L734.5,1815.8 735.5,1815.8 736.5,1814.6 737.5,1813.9 738.5,1813.9 739.5,1814.2 740.5,1815.4 741.5,1815.7 742.5,1815.7 743.5,1815.7 744.5,1815.7 745.5,1815.6 746.5,1814.3 747.5,1813.9 748.5,1813.9 749.5,1814.5 750.5,1815.8 795.5,1815.8 796.5,1814.9 797.5,1814.6 798.5,1814.6 799.5,1815.1 800.5,1815.5 801.5,1812.9 802.5,1808.8 803.5,1806.4 804.5,1806 805.5,1806.4 806.5,1808.8 807.5,1813 808.5,1815.8 851.5,1815.8 852.5,1815.1 853.5,1814.1 854.5,1813.9 855.5,1814 856.5,1814.9 857.5,1815.7 858.5,1815.5 859.5,1814.3 860.5,1813.9 861.5,1813.9 862.5,1814.5 863.5,1815.7 864.5,1815.7 865.5,1815.2 866.5,1811.8 867.5,1808.9 868.5,1808 869.5,1808.1 870.5,1809.3 871.5,1812.6 872.5,1815.7 872.5,1815.7 872.5,1817.2Z" fill="#84208a"/>
<path d="M724.5,1859.2L724.5,1857.8 725.5,1855.7 726.5,1853.4 727.5,1852.7 728.5,1852.7 729.5,1853.7 730.5,1856.2 731.5,1857.8 744.5,1857.8 745.5,1855.7 746.5,1853.4 747.5,1852.7 748.5,1852.7 749.5,1853.7 750.5,1856.2 751.5,1857.8 792.5,1857.8 793.5,1856.7 794.5,1854.1 795.5,1852.8 796.5,1852.7 797.5,1853.1 798.5,1855.1 799.5,1856.3 800.5,1855.4 801.5,1849.3 802.5,1843.1 803.5,1840 804.5,1839.5 805.5,1840 806.5,1843.1 807.5,1849.3 808.5,1855.4 809.5,1857.8 822.5,1857.8 823.5,1856.1 824.5,1853.3 825.5,1852.1 826.5,1852 827.5,1852.6 828.5,1854.9 829.5,1857.7 830.5,1857.8 865.5,1857.8 866.5,1855.2 867.5,1852.8 868.5,1852 869.5,1852 870.5,1853.1 871.5,1855.8 872.5,1857.8 872.5,1857.8 872.5,1859.2Z" fill="#ef7f2c"/>
<path d="M726.6,1901.3L726.6,1899.9 728.6,1899.9 729.6,1899.7 730.6,1899.8 731.6,1899.9 743.6,1899.9 744.6,1899.3 745.6,1896.4 746.6,1894.4 747.6,1894 748.6,1894.2 749.6,1895.9 750.6,1898.7 751.6,1899.9 792.6,1899.9 793.6,1899.7 794.6,1899.3 795.6,1899.3 796.6,1899.6 797.6,1899.9 801.6,1899.9 802.6,1899 803.6,1898.1 804.6,1898 805.6,1898.2 806.6,1899.3 807.6,1899.9 856.6,1899.9 857.6,1899.4 858.6,1899.3 859.6,1899.5 860.6,1899.9 865.6,1899.9 866.6,1897.9 867.6,1895.9 868.6,1895.3 869.6,1895.4 870.6,1896.5 871.6,1898.9 872.5,1899.9 872.5,1901.3Z" fill="#f2de1b"/>
<path d="M725,1943.4L725,1936.7 726,1934 727,1933.4 728,1933.6 729,1935.4 730,1939 731,1942 743,1942 744,1940.2 745,1938.1 746,1937.4 747,1937.4 748,1938.4 749,1940.7 750,1942 779,1942 780,1940.3 781,1939 782,1938.8 783,1939 784,1940.3 785,1942 786,1942 787,1941.5 788,1941.3 789,1941.3 790,1941.4 791,1942 792,1942 793,1940.6 794,1939.2 795,1938.8 796,1938.9 797,1939.9 798,1941.3 799,1941.3 800,1937 801,1928.4 802,1919 803,1913 804,1911.2 805,1911.2 806,1913 807,1919 808,1928.4 809,1937.1 810,1941.7 811,1942 848,1942 849,1941.3 850,1940.8 851,1940.8 852,1941.1 853,1942 858,1942 859,1941.7 860,1941.4 861,1941.4 862,1941.7 863,1942 865,1942 866,1940.5 867,1937.4 868,1935.6 869,1935.4 870,1935.8 871,1937.9 872,1941.1 873,1942 876,1942 877,1941.7 878,1941.4 879,1941.4 880,1941.8 881,1942 884.5,1942 884.5,1943.4Z" fill="#8296c8"/>
<path d="M725,1985.5L725,1979.9 726,1977.4 727,1976.9 728,1977 729,1978.7 730,1981.9 731,1984.1 744,1984.1 745,1983 746,1980.7 747,1979.6 748,1979.5 749,1980 750,1982 751,1984.1 754,1984.1 755,1984 756,1984 757,1984 758,1984.1 759,1984.1 760,1983.6 761,1982.4 762,1982.2 763,1982.2 764,1983 765,1984.1 777,1984.1 778,1983.7 779,1979.6 780,1974.7 781,1972 782,1971.6 783,1971.8 784,1973.6 785,1976.6 786,1978.8 787,1979.4 788,1980.2 789,1982.3 790,1984 791,1984 792,1984 793,1982.4 794,1982.2 795,1982.2 796,1982.7 797,1984 798,1984 799,1983.6 800,1978.3 801,1968.6 802,1958 803,1951.3 804,1949.2 805,1949.2 806,1951.3 807,1958 808,1968.6 809,1978.3 810,1983.6 811,1984.1 812,1984.1 813,1984 814,1984 815,1984 816,1984 817,1984.1 818,1983.7 819,1982.5 820,1982.2 821,1982.2 822,1982.9 823,1984.1 850,1984.1 851,1982.8 852,1982.2 853,1982.2 854,1982.6 855,1983.8 856,1984.1 857,1984 858,1984 859,1984 860,1984 861,1984.1 862,1984 863,1982.7 864,1982.2 865,1982.1 866,1981.5 867,1980.4 868,1979.6 869,1979.5 870,1979.8 871,1981.5 872,1983.9 872.5,1984.1 872.5,1985.5Z" fill="#b865a3"/>
<path d="M725,2027.5L725,1996.5 726,1994.6 727,1994.2 728,1994.1 729,1996.4 730,2002.1 731,2008 732,2010.8 733,2013.6 734,2018.8 735,2024.2 736,2026.1 737,2026.1 738,2025.7 739,2024.9 740,2024.8 741,2024.8 742,2026 743,2026.1 744,2025.8 745,2023.4 746,2021.8 747,2021.5 748,2021.8 749,2023.4 750,2025.8 751,2026.1 777,2026.1 778,2026 779,2024.4 780,2023.6 781,2023.5 782,2023.9 783,2025.3 784,2026.1 786,2026.1 787,2025.9 788,2025.7 789,2025.9 790,2026.1 792,2026.1 793,2025.2 794,2023.9 795,2023.5 796,2023.6 797,2024.5 798,2025.7 799,2025.4 800,2019.8 801,2009.1 802,1997.6 803,1990.2 804,1988 805,1988 806,1990.2 807,1997.6 808,2009.1 809,2019.8 810,2025.5 811,2026.1 850,2026.1 851,2025.6 852,2025.5 853,2025.6 854,2026.1 856,2026.1 857,2025.9 858,2025.5 859,2025.5 860,2025.9 861,2026.1 867,2026.1 868,2025.6 869,2025.5 870,2025.7 871,2026.1 884.5,2026.1 884.5,2027.5Z" fill="#d3a062"/>
<path d="M725,2069.6L725,2068.2 745,2068.2 746,2066.8 747,2065.7 748,2065.6 749,2065.9 750,2067.1 751,2068.2 782,2068.2 783,2066.9 784,2066.3 785,2066.3 786,2066.7 787,2068 788,2068.1 789,2068.1 790,2068.1 791,2068.1 792,2068.1 793,2066.8 794,2066.3 795,2066.3 796,2066.8 797,2068.1 798,2068.1 799,2068.1 800,2068.1 801,2066.1 802,2062.8 803,2061.2 804,2061 805,2061.6 806,2064 807,2067.3 808,2068.2 884.5,2068.2 884.5,2069.6Z" fill="#8fd0dc"/>
<path d="M725,2111.7L725,2110.2 726,2109.3 727,2109.1 728,2109.1 729,2109.8 730,2110.3 780,2110.3 781,2110.2 782,2110.1 783,2110.2 784,2110.3 791,2110.3 792,2110.2 793,2108.9 794,2108.4 795,2108.4 796,2108.9 797,2110.2 798,2110.2 799,2110.2 800,2110.2 801,2109.3 802,2105.3 803,2101.8 804,2100.5 805,2100.5 806,2101.8 807,2105.3 808,2109.3 809,2110.3 848,2110.3 849,2109.6 850,2109.1 851,2109.1 852,2109.4 853,2110.3 865,2110.3 866,2110 867,2107.8 868,2106.5 869,2106.4 870,2106.7 871,2108.2 872,2110.3 872.5,2110.3 872.5,2111.7Z" fill="#86c05c"/>
<path d="M725,2153.7L725,2151.1 726,2150.5 727,2150.5 728,2150.9 729,2152.1 730,2152.3 737,2152.3 738,2152.3 739,2151.8 740,2151.7 741,2151.9 742,2152.3 779,2152.3 780,2152.2 781,2149.4 782,2147.1 783,2146.4 784,2146.1 785,2145.6 786,2146.1 787,2146.9 788,2147.2 789,2148.4 790,2151 791,2151.7 792,2151.6 793,2149.8 794,2149.2 795,2149.2 796,2149.8 797,2151.6 798,2151.7 799,2151.7 800,2147.7 801,2139.3 802,2130.3 803,2124.6 804,2122.8 805,2122.8 806,2124.6 807,2130.3 808,2139.3 809,2147.6 810,2151.6 811,2151.9 812,2151.7 813,2151.8 814,2152.1 815,2152.3 850,2152.3 851,2151.1 852,2150.5 853,2150.5 854,2150.9 855,2152.1 856,2152.3 858,2152.3 859,2151.8 860,2151.7 861,2151.9 862,2152.3 865,2152.3 866,2149.4 867,2145.5 868,2143.4 869,2143.1 870,2143.6 871,2146.2 872,2150.2 873,2152.3 876,2152.3 877,2152 878,2151.7 879,2151.8 880,2152.1 881,2152.3 884.5,2152.3 884.5,2153.7Z" fill="#9580bb"/>
<path d="M725,2195.8L725,2189.7 726,2184.4 727,2181.2 728,2180.6 729,2180.9 730,2183.5 731,2188.6 732,2193.3 733,2194.3 734,2194.3 735,2194.3 736,2193.4 737,2192.6 738,2192.5 739,2192.8 740,2193.9 741,2194.3 742,2194.3 743,2194.3 744,2194.3 745,2194.3 746,2193.2 747,2192.6 748,2192.5 749,2192.9 750,2194 751,2194.4 761,2194.4 762,2194.3 763,2193.4 764,2193.2 765,2193.3 766,2193.9 767,2194.4 777,2194.4 778,2192.7 779,2189.9 780,2188.6 781,2188.5 782,2189 783,2189.6 784,2188.1 785,2185.8 786,2185.2 787,2185.4 788,2187.3 789,2191.1 790,2192.2 791,2191 792,2190.4 793,2188.7 794,2188.5 795,2188.8 796,2189.5 797,2187.7 798,2183.6 799,2180.9 800,2177 801,2168.8 802,2160.2 803,2155.6 804,2155.2 805,2155.2 806,2157.2 807,2164.7 808,2176.4 809,2187 810,2192.5 811,2193.9 812,2194.4 823,2194.4 824,2194.3 825,2193.4 826,2193.2 827,2193.3 828,2193.9 829,2194.4 849,2194.4 850,2191.9 851,2189.1 852,2187.9 853,2187.8 854,2188.7 855,2191.3 856,2194.2 857,2194.4 858,2194.4 859,2192.6 860,2192.2 861,2192.6 862,2193.8 863,2194.4 864,2194.4 865,2193.3 866,2188.6 867,2183.5 868,2180.9 869,2180.6 870,2181.2 871,2184.4 872,2189.7 873,2194 874,2194.4 876,2194.4 877,2193.6 878,2193.2 879,2193.2 880,2193.7 881,2194.2 882,2193.7 883,2193.3 884,2193.2 884.5,2193.3 884.5,2195.8Z" fill="#cf4a26"/>
<path d="M725,2237.9L725,2236.5 726,2235.4 727,2234.1 728,2233.9 729,2234 730,2235 731,2236.1 732,2236.1 733,2236.1 734,2236.1 735,2236.1 736,2234.9 737,2234 738,2233.9 739,2234.2 740,2235.5 741,2236.1 742,2236.1 743,2236.1 744,2236.1 745,2234.7 746,2232 747,2230.7 748,2230.6 749,2231.2 750,2233.5 751,2236.3 752,2236.5 778,2236.5 779,2235.6 780,2232.7 781,2230.9 782,2230.6 783,2230.9 784,2232.7 785,2235.6 786,2236.1 787,2236.1 788,2235 789,2234 790,2233.9 791,2234 792,2234.3 793,2234.1 794,2233.9 795,2233.9 796,2234.5 797,2236 798,2236.1 799,2235.8 800,2230.1 801,2219.5 802,2207.9 803,2200.6 804,2198.4 805,2198.4 806,2200.6 807,2207.9 808,2219.5 809,2230 810,2234.9 811,2234.9 812,2234.6 813,2234.6 814,2235.2 815,2236.5 857,2236.5 858,2236 859,2234.5 860,2233.9 861,2233.9 862,2234.5 863,2236 864,2236.1 865,2236.1 866,2233.2 867,2229.1 868,2227 869,2226.7 870,2227.2 871,2229.9 872,2234.1 873,2236.1 874,2236.1 875,2236.1 876,2236.1 877,2236.1 878,2236.1 879,2234.7 880,2233.9 881,2233.9 882,2234.3 883,2235.7 884,2236.5 884.5,2236.5 884.5,2237.9Z" fill="#3bb09e"/>
<path d="M725,2280L725,2278.6 726,2277.6 727,2276.8 728,2276.7 729,2276.9 730,2277.9 731,2278.6 745,2278.6 746,2278.4 747,2278 748,2278 749,2278.2 750,2278.6 777,2278.6 778,2277.2 779,2274.6 780,2273.4 781,2273.3 782,2273.6 783,2273.1 784,2270.2 785,2267.5 786,2266.8 787,2267 788,2269.1 789,2273.6 790,2277.8 791,2278.6 792,2278.1 793,2277.4 794,2274.1 795,2275.1 796,2277.1 797,2278.6 798,2278.6 799,2278.5 800,2274.2 801,2266.3 802,2257.5 803,2252 804,2250.3 805,2250.3 806,2252 807,2257.5 808,2266.3 809,2274.2 810,2278.5 811,2278.6 849,2278.6 850,2278.3 851,2276.7 852,2276 853,2276 854,2276.5 855,2277.9 856,2278.6 858,2278.6 859,2278.2 860,2278.2 861,2278.4 862,2278.6 865,2278.6 866,2276 867,2272.3 868,2270.3 869,2270.1 870,2270.5 871,2273 872,2276.8 873,2278.1 874,2278.1 875,2277.3 876,2276.1 877,2275.9 878,2276.1 879,2277.3 880,2278.6 884.5,2278.6 884.5,2280Z" fill="#7a1618"/>
<line x1="81.5" y1="1691.6" x2="242.3" y2="1691.6" stroke="#45403f" stroke-width="1.5"/>
<line x1="242.3" y1="1691.6" x2="885.3" y2="1691.6" stroke="#231f20" stroke-width="1.5"/>
<line x1="81.5" y1="1733.6" x2="242.3" y2="1733.6" stroke="#45403f" stroke-width="1.5"/>
<line x1="242.3" y1="1733.6" x2="885.3" y2="1733.6" stroke="#231f20" stroke-width="1.5"/>
<line x1="81.5" y1="1775.7" x2="242.3" y2="1775.7" stroke="#6b6563" stroke-width="1.5"/>
<line x1="242.3" y1="1775.7" x2="885.3" y2="1775.7" stroke="#231f20" stroke-width="1.5"/>
<line x1="81.5" y1="1817.8" x2="242.3" y2="1817.8" stroke="#45403f" stroke-width="1.5"/>
<line x1="242.3" y1="1817.8" x2="885.3" y2="1817.8" stroke="#231f20" stroke-width="1.5"/>
<line x1="81.5" y1="1859.8" x2="885.3" y2="1859.8" stroke="#231f20" stroke-width="1.5"/>
<line x1="81.5" y1="1901.9" x2="885.3" y2="1901.9" stroke="#231f20" stroke-width="1.5"/>
<line x1="81.5" y1="1944" x2="885.3" y2="1944" stroke="#231f20" stroke-width="1.5"/>
<line x1="81.5" y1="1986.1" x2="885.3" y2="1986.1" stroke="#231f20" stroke-width="1.5"/>
<line x1="81.5" y1="2028.1" x2="885.3" y2="2028.1" stroke="#231f20" stroke-width="1.5"/>
<line x1="81.5" y1="2070.2" x2="885.3" y2="2070.2" stroke="#231f20" stroke-width="1.5"/>
<line x1="81.5" y1="2112.3" x2="885.3" y2="2112.3" stroke="#231f20" stroke-width="1.5"/>
<line x1="81.5" y1="2154.3" x2="885.3" y2="2154.3" stroke="#231f20" stroke-width="1.5"/>
<line x1="81.5" y1="2196.4" x2="885.3" y2="2196.4" stroke="#231f20" stroke-width="1.5"/>
<line x1="81.5" y1="2238.5" x2="885.3" y2="2238.5" stroke="#231f20" stroke-width="1.5"/>
<line x1="81.5" y1="2280.6" x2="885.3" y2="2280.6" stroke="#231f20" stroke-width="1.5"/>
<line x1="242.3" y1="1649.5" x2="242.3" y2="2349.8" stroke="#231f20" stroke-width="1.5"/>
<line x1="403" y1="1649.5" x2="403" y2="2349.8" stroke="#231f20" stroke-width="1.5"/>
<line x1="563.8" y1="1649.5" x2="563.8" y2="2349.8" stroke="#231f20" stroke-width="1.5"/>
<line x1="724.5" y1="1649.5" x2="724.5" y2="2349.8" stroke="#231f20" stroke-width="1.5"/>
<path d="M937.1,1673.8 L937.4,1673.8 L937.8,1673.7 L938.1,1673.3 L938.5,1672.8 L938.8,1672.3 L939.1,1671.8 L939.5,1671.2 L939.8,1670.5 L940.1,1669.8 L940.5,1669.1 L940.8,1668.3 L941.2,1667.5 L941.5,1666.7 L941.8,1665.8 L942.1,1666.2 L942.2,1666.1 L942.5,1665.9 L942.9,1665.7 L943.2,1665.4 L943.5,1665.2 L943.7,1665.1 L943.9,1665.2 L944.2,1665.4 L944.6,1665.6 L944.9,1665.9 L945.2,1666.1 L945.4,1666.2 L945.6,1665.7 L945.9,1666.8 L946.2,1667.9 L946.6,1668.9 L946.9,1669.8 L947.3,1670.7 L947.6,1671.5 L947.9,1672.3 L948.3,1672.9 L948.6,1673.4 L949,1673.8 L949.3,1673.8 L949.3,1674.4 L949,1674.4 L948.6,1674.8 L948.3,1675.3 L947.9,1675.9 L947.6,1676.7 L947.3,1677.5 L946.9,1678.4 L946.6,1679.3 L946.2,1680.3 L945.9,1681.4 L945.6,1682.5 L945.4,1682 L945.2,1682.1 L944.9,1682.3 L944.6,1682.6 L944.2,1682.8 L943.9,1683 L943.7,1683.1 L943.5,1683 L943.2,1682.8 L942.9,1682.5 L942.5,1682.3 L942.2,1682.1 L942.1,1682 L941.8,1682.4 L941.5,1681.5 L941.2,1680.7 L940.8,1679.9 L940.5,1679.1 L940.1,1678.4 L939.8,1677.7 L939.5,1677 L939.1,1676.4 L938.8,1675.9 L938.5,1675.4 L938.1,1674.9 L937.8,1674.5 L937.4,1674.4 L937.1,1674.4 Z" fill="#1d8a3e" stroke="#2b2b2b" stroke-width="1.9" stroke-linejoin="round"/>
<rect x="937.1" y="1668.1" width="5.9" height="12" rx="2.9" ry="5" fill="#1d8a3e" stroke="#2b2b2b" stroke-width="0.5"/>
<rect x="942.1" y="1654.8" width="3.3" height="38.5" fill="#1d8a3e" stroke="#1d8a3e" stroke-width="1.6"/>
<path d="M941.8,1715.3 L942.8,1715.3 L943.8,1715.3 L944.7,1715.1 L945.7,1714.8 L946.7,1714.5 L947.7,1714.1 L948.6,1713.7 L949.6,1713.3 L950.6,1712.9 L951.6,1712.4 L952.6,1711.9 L953.5,1711.4 L954.5,1710.9 L955.5,1710.3 L956.5,1709.7 L957.4,1709.1 L958.2,1709.5 L958.4,1709.4 L959.4,1709 L960.2,1708.6 L960.4,1708.7 L961.4,1709.1 L962.3,1709.5 L962.3,1708.7 L963.3,1709.3 L964.3,1710 L965.3,1710.6 L966.2,1711.2 L967.2,1711.8 L968.2,1712.4 L969.2,1712.9 L970.2,1713.4 L971.1,1713.9 L972.1,1714.3 L973.1,1714.7 L974.1,1715 L975,1715.3 L976,1715.3 L977,1715.3 L977,1715.9 L976,1715.9 L975,1716 L974.1,1716.3 L973.1,1716.6 L972.1,1717 L971.1,1717.4 L970.2,1717.9 L969.2,1718.3 L968.2,1718.9 L967.2,1719.4 L966.2,1720 L965.3,1720.6 L964.3,1721.3 L963.3,1721.9 L962.3,1722.6 L962.3,1721.8 L961.4,1722.2 L960.4,1722.6 L960.2,1722.6 L959.4,1722.3 L958.4,1721.9 L958.2,1721.8 L957.4,1722.2 L956.5,1721.6 L955.5,1721 L954.5,1720.4 L953.5,1719.9 L952.6,1719.3 L951.6,1718.9 L950.6,1718.4 L949.6,1717.9 L948.6,1717.5 L947.7,1717.1 L946.7,1716.8 L945.7,1716.4 L944.7,1716.2 L943.8,1715.9 L942.8,1715.9 L941.8,1715.9 Z" fill="#1d8a3e" stroke="#2b2b2b" stroke-width="1.9" stroke-linejoin="round"/>
<rect x="941.8" y="1709.6" width="7.5" height="12" rx="3.5" ry="5" fill="#1d8a3e" stroke="#2b2b2b" stroke-width="0.5"/>
<rect x="971.6" y="1709.6" width="5.4" height="12" rx="2.7" ry="5" fill="#1d8a3e" stroke="#2b2b2b" stroke-width="0.5"/>
<rect x="958.2" y="1696.4" width="4.1" height="38.5" fill="#1d8a3e" stroke="#1d8a3e" stroke-width="1.6"/>
<path d="M906.4,1756.9 L907.2,1756.9 L908,1756.3 L908.8,1755.6 L909.6,1754.8 L910.4,1753.8 L911.2,1752.8 L912,1751.6 L912.8,1750.4 L913,1751 L913.6,1750.8 L914.5,1750.6 L915.3,1750.3 L915.8,1750.2 L916.1,1750.2 L916.9,1750.5 L917.7,1750.7 L918.5,1751 L918.6,1751 L919.3,1750.6 L920.1,1751.1 L920.9,1751.5 L921.7,1752 L922.5,1752.5 L923.3,1752.9 L924.1,1753.3 L924.9,1753.7 L925.7,1754.1 L926.5,1754.5 L927.3,1754.8 L928.1,1755.2 L929,1755.5 L929.8,1755.8 L930.6,1756.1 L931.4,1756.3 L932.2,1756.6 L933,1756.8 L933.8,1756.9 L934.6,1756.9 L935.4,1756.9 L935.4,1757.5 L934.6,1757.5 L933.8,1757.5 L933,1757.5 L932.2,1757.7 L931.4,1758 L930.6,1758.2 L929.8,1758.5 L929,1758.8 L928.1,1759.1 L927.3,1759.5 L926.5,1759.8 L925.7,1760.2 L924.9,1760.6 L924.1,1761 L923.3,1761.4 L922.5,1761.9 L921.7,1762.3 L920.9,1762.8 L920.1,1763.2 L919.3,1763.7 L918.6,1763.3 L918.5,1763.4 L917.7,1763.6 L916.9,1763.8 L916.1,1764.1 L915.8,1764.2 L915.3,1764 L914.5,1763.8 L913.6,1763.5 L913,1763.3 L912.8,1763.9 L912,1762.7 L911.2,1761.5 L910.4,1760.5 L909.6,1759.5 L908.8,1758.7 L908,1758 L907.2,1757.5 L906.4,1757.5 Z" fill="#1d8a3e" stroke="#2b2b2b" stroke-width="1.9" stroke-linejoin="round"/>
<rect x="927.9" y="1751.2" width="5.3" height="12" rx="2.7" ry="5" fill="#1d8a3e" stroke="#2b2b2b" stroke-width="0.5"/>
<rect x="913" y="1737.9" width="5.6" height="38.5" fill="none" stroke="#1d8a3e" stroke-width="1.8"/>
<line x1="915.8" y1="1737.9" x2="915.8" y2="1776.4" stroke="#1d8a3e" stroke-width="1.8"/>
<path d="M899.3,1798.4 L900.6,1798.4 L902,1798.4 L903.3,1798.4 L904.7,1798.2 L906,1798 L907.3,1797.8 L908.7,1797.5 L910,1797.3 L911.3,1797 L912.7,1796.7 L914,1796.4 L915.4,1796.1 L916.7,1795.7 L916.8,1796 L918,1796 L919.4,1795.9 L920.7,1795.9 L922.1,1795.8 L923.4,1795.8 L924.7,1795.7 L925.2,1795.7 L926.1,1795.7 L927.4,1795.8 L928.8,1795.8 L930.1,1795.9 L931.4,1796 L932.8,1796 L933.6,1796 L934.1,1795.9 L935.5,1796.3 L936.8,1796.7 L938.1,1797 L939.5,1797.4 L940.8,1797.7 L942.1,1798 L943.5,1798.2 L944.8,1798.4 L946.2,1798.4 L947.5,1798.4 L947.5,1799 L946.2,1799 L944.8,1799 L943.5,1799.2 L942.1,1799.4 L940.8,1799.7 L939.5,1800 L938.1,1800.4 L936.8,1800.7 L935.5,1801.1 L934.1,1801.5 L933.6,1801.3 L932.8,1801.4 L931.4,1801.4 L930.1,1801.5 L928.8,1801.5 L927.4,1801.6 L926.1,1801.7 L925.2,1801.7 L924.7,1801.7 L923.4,1801.6 L922.1,1801.6 L920.7,1801.5 L919.4,1801.4 L918,1801.4 L916.8,1801.3 L916.7,1801.7 L915.4,1801.3 L914,1801 L912.7,1800.7 L911.3,1800.4 L910,1800.1 L908.7,1799.9 L907.3,1799.6 L906,1799.4 L904.7,1799.2 L903.3,1799 L902,1799 L900.6,1799 L899.3,1799 Z" fill="#1d8a3e" stroke="#2b2b2b" stroke-width="1.9" stroke-linejoin="round"/>
<rect x="916.8" y="1779.4" width="16.8" height="38.5" fill="none" stroke="#1d8a3e" stroke-width="1.8"/>
<line x1="925.2" y1="1779.4" x2="925.2" y2="1817.9" stroke="#1d8a3e" stroke-width="1.8"/>
<path d="M978.2,1839.9 L980.7,1839.9 L983.1,1839.9 L985.6,1839.7 L988,1839.4 L990.5,1839 L993,1838.7 L995.4,1838.3 L997.9,1837.8 L998.4,1838 L1000.4,1837.9 L1002.8,1837.9 L1005.3,1837.8 L1006.4,1837.7 L1007.7,1837.8 L1010.2,1837.9 L1012.7,1838 L1014.5,1838 L1015.1,1837.8 L1017.6,1837.9 L1020,1838.1 L1022.5,1838.3 L1025,1838.4 L1027.4,1838.6 L1029.9,1838.7 L1032.3,1838.9 L1034.8,1839 L1037.3,1839.2 L1039.7,1839.3 L1042.2,1839.4 L1044.7,1839.5 L1047.1,1839.6 L1049.6,1839.7 L1052,1839.8 L1054.5,1839.9 L1057,1839.9 L1059.4,1839.9 L1061.9,1839.9 L1064.3,1839.9 L1066.8,1839.9 L1066.8,1840.5 L1064.3,1840.5 L1061.9,1840.5 L1059.4,1840.5 L1057,1840.5 L1054.5,1840.5 L1052,1840.6 L1049.6,1840.7 L1047.1,1840.8 L1044.7,1840.9 L1042.2,1841 L1039.7,1841.2 L1037.3,1841.3 L1034.8,1841.4 L1032.3,1841.6 L1029.9,1841.7 L1027.4,1841.9 L1025,1842 L1022.5,1842.2 L1020,1842.3 L1017.6,1842.5 L1015.1,1842.7 L1014.5,1842.4 L1012.7,1842.5 L1010.2,1842.6 L1007.7,1842.7 L1006.4,1842.7 L1005.3,1842.7 L1002.8,1842.6 L1000.4,1842.5 L998.4,1842.4 L997.9,1842.6 L995.4,1842.2 L993,1841.8 L990.5,1841.4 L988,1841.1 L985.6,1840.8 L983.1,1840.5 L980.7,1840.5 L978.2,1840.5 Z" fill="#1d8a3e" stroke="#2b2b2b" stroke-width="1.9" stroke-linejoin="round"/>
<rect x="1049.3" y="1834.2" width="5.3" height="12" rx="2.6" ry="5" fill="#1d8a3e" stroke="#2b2b2b" stroke-width="0.5"/>
<rect x="998.4" y="1821" width="16.1" height="38.5" fill="none" stroke="#1d8a3e" stroke-width="1.8"/>
<line x1="1006.4" y1="1821" x2="1006.4" y2="1859.5" stroke="#1d8a3e" stroke-width="1.8"/>
<path d="M895.4,1881.5 L898.3,1881.5 L901.2,1881.5 L904.1,1881.5 L907,1881.5 L910,1881.4 L912.9,1881.3 L915.8,1881.2 L918.7,1881 L921.6,1880.9 L924.5,1880.8 L927.4,1880.6 L930.3,1880.5 L933.2,1880.3 L934.1,1880.4 L936.2,1880.4 L939.1,1880.3 L942,1880.3 L943.9,1880.2 L944.9,1880.3 L947.8,1880.3 L950.7,1880.4 L952.5,1880.4 L953.6,1880.3 L956.5,1880.4 L959.4,1880.6 L962.4,1880.7 L965.3,1880.8 L968.2,1880.9 L971.1,1881 L974,1881.1 L976.9,1881.2 L979.8,1881.3 L982.7,1881.4 L985.6,1881.5 L988.6,1881.5 L991.5,1881.5 L994.4,1881.5 L997.3,1881.5 L1000.2,1881.5 L1000.2,1882 L997.3,1882 L994.4,1882 L991.5,1882 L988.6,1882 L985.6,1882 L982.7,1882.1 L979.8,1882.2 L976.9,1882.3 L974,1882.4 L971.1,1882.5 L968.2,1882.6 L965.3,1882.7 L962.4,1882.8 L959.4,1882.9 L956.5,1883.1 L953.6,1883.2 L952.5,1883.1 L950.7,1883.1 L947.8,1883.2 L944.9,1883.2 L943.9,1883.2 L942,1883.2 L939.1,1883.2 L936.2,1883.1 L934.1,1883.1 L933.2,1883.2 L930.3,1883 L927.4,1882.9 L924.5,1882.7 L921.6,1882.6 L918.7,1882.5 L915.8,1882.3 L912.9,1882.2 L910,1882.1 L907,1882 L904.1,1882 L901.2,1882 L898.3,1882 L895.4,1882 Z" fill="#1d8a3e" stroke="#2b2b2b" stroke-width="1.9" stroke-linejoin="round"/>
<rect x="982.3" y="1875.8" width="5.9" height="12" rx="3" ry="5" fill="#1d8a3e" stroke="#2b2b2b" stroke-width="0.5"/>
<rect x="934.1" y="1862.5" width="18.4" height="38.5" fill="none" stroke="#1d8a3e" stroke-width="1.8"/>
<line x1="943.9" y1="1862.5" x2="943.9" y2="1901" stroke="#1d8a3e" stroke-width="1.8"/>
<path d="M1015,1923 L1016.8,1923 L1018.5,1923 L1020.3,1922.9 L1022.1,1922.7 L1023.9,1922.5 L1025.6,1922.3 L1027.4,1922 L1029.2,1921.7 L1031,1921.4 L1032.7,1921.1 L1034.5,1920.8 L1036.3,1920.4 L1038,1920.1 L1039.8,1919.7 L1041.6,1919.3 L1041.6,1919.8 L1043.4,1919.6 L1045.1,1919.5 L1046.9,1919.3 L1047.5,1919.3 L1048.7,1919.4 L1050.4,1919.5 L1052.2,1919.7 L1052.9,1919.8 L1054,1919.5 L1055.8,1919.9 L1057.5,1920.3 L1059.3,1920.7 L1061.1,1921 L1062.8,1921.3 L1064.6,1921.7 L1066.4,1922 L1068.2,1922.2 L1069.9,1922.5 L1071.7,1922.7 L1073.5,1922.9 L1075.3,1923 L1077,1923 L1078.8,1923 L1078.8,1923.6 L1077,1923.6 L1075.3,1923.6 L1073.5,1923.7 L1071.7,1923.9 L1069.9,1924.1 L1068.2,1924.3 L1066.4,1924.6 L1064.6,1924.9 L1062.8,1925.2 L1061.1,1925.5 L1059.3,1925.9 L1057.5,1926.3 L1055.8,1926.6 L1054,1927 L1052.9,1926.8 L1052.2,1926.9 L1050.4,1927 L1048.7,1927.2 L1047.5,1927.3 L1046.9,1927.2 L1045.1,1927.1 L1043.4,1926.9 L1041.6,1926.8 L1041.6,1927.3 L1039.8,1926.9 L1038,1926.5 L1036.3,1926.1 L1034.5,1925.8 L1032.7,1925.5 L1031,1925.1 L1029.2,1924.8 L1027.4,1924.6 L1025.6,1924.3 L1023.9,1924 L1022.1,1923.8 L1020.3,1923.6 L1018.5,1923.6 L1016.8,1923.6 L1015,1923.6 Z" fill="#1d8a3e" stroke="#2b2b2b" stroke-width="1.9" stroke-linejoin="round"/>
<rect x="1018.9" y="1917.3" width="9.9" height="12" rx="3.5" ry="5" fill="#1d8a3e" stroke="#2b2b2b" stroke-width="0.5"/>
<rect x="1069.8" y="1917.3" width="5.9" height="12" rx="3" ry="5" fill="#1d8a3e" stroke="#2b2b2b" stroke-width="0.5"/>
<rect x="1041.6" y="1904" width="11.3" height="38.5" fill="none" stroke="#1d8a3e" stroke-width="1.8"/>
<line x1="1047.5" y1="1904" x2="1047.5" y2="1942.5" stroke="#1d8a3e" stroke-width="1.8"/>
<path d="M1039.5,1964.5 L1040.4,1964.5 L1041.3,1964.5 L1042.2,1964.4 L1043.1,1964.2 L1044,1963.9 L1044.8,1963.7 L1045.7,1963.4 L1046.6,1963 L1047.5,1962.7 L1048.4,1962.3 L1049.3,1962 L1050.2,1961.6 L1051.1,1961.2 L1052,1960.7 L1052.9,1960.3 L1053.8,1959.8 L1053.8,1960.4 L1054.7,1960.3 L1055.5,1960.1 L1056.4,1960 L1057.3,1959.8 L1057.3,1959.8 L1058.2,1959.9 L1059.1,1960.1 L1060,1960.2 L1060.9,1960.3 L1061.8,1960.4 L1061.8,1960.4 L1062.7,1960.5 L1063.6,1961.1 L1064.5,1961.7 L1065.4,1962.3 L1066.2,1962.8 L1067.1,1963.3 L1068,1963.7 L1068.9,1964.1 L1069.8,1964.4 L1070.7,1964.5 L1071.6,1964.5 L1071.6,1965.1 L1070.7,1965.1 L1069.8,1965.2 L1068.9,1965.5 L1068,1965.9 L1067.1,1966.3 L1066.2,1966.8 L1065.4,1967.4 L1064.5,1967.9 L1063.6,1968.5 L1062.7,1969.1 L1061.8,1969.2 L1061.8,1969.2 L1060.9,1969.3 L1060,1969.4 L1059.1,1969.6 L1058.2,1969.7 L1057.3,1969.8 L1057.3,1969.8 L1056.4,1969.7 L1055.5,1969.5 L1054.7,1969.4 L1053.8,1969.2 L1053.8,1969.8 L1052.9,1969.3 L1052,1968.9 L1051.1,1968.5 L1050.2,1968 L1049.3,1967.7 L1048.4,1967.3 L1047.5,1966.9 L1046.6,1966.6 L1045.7,1966.3 L1044.8,1966 L1044,1965.7 L1043.1,1965.4 L1042.2,1965.2 L1041.3,1965.1 L1040.4,1965.1 L1039.5,1965.1 Z" fill="#1d8a3e" stroke="#2b2b2b" stroke-width="1.9" stroke-linejoin="round"/>
<rect x="1053.8" y="1945.6" width="8" height="38.5" fill="none" stroke="#1d8a3e" stroke-width="1.8"/>
<line x1="1057.3" y1="1945.6" x2="1057.3" y2="1984.1" stroke="#1d8a3e" stroke-width="1.8"/>
<path d="M1027.9,2006 L1029,2006 L1030.2,2006 L1031.3,2006 L1032.5,2005.8 L1033.6,2005.6 L1034.7,2005.4 L1035.9,2005.2 L1037,2004.9 L1038.2,2004.6 L1039.3,2004.3 L1040.4,2004 L1041.6,2003.7 L1042.7,2003.4 L1043.8,2003 L1045,2002.6 L1046.1,2002.3 L1047.3,2001.9 L1048.4,2001.5 L1048.8,2001.9 L1049.5,2001.8 L1050.7,2001.6 L1051.8,2001.4 L1052.3,2001.3 L1053,2001.4 L1054.1,2001.6 L1055.2,2001.8 L1056.4,2001.9 L1056.4,2001.9 L1057.5,2002 L1058.7,2002.6 L1059.8,2003.2 L1060.9,2003.8 L1062.1,2004.3 L1063.2,2004.8 L1064.3,2005.2 L1065.5,2005.6 L1066.6,2006 L1067.8,2006 L1068.9,2006 L1068.9,2006.6 L1067.8,2006.6 L1066.6,2006.7 L1065.5,2007.1 L1064.3,2007.4 L1063.2,2007.9 L1062.1,2008.4 L1060.9,2008.9 L1059.8,2009.5 L1058.7,2010.1 L1057.5,2010.7 L1056.4,2010.7 L1056.4,2010.7 L1055.2,2010.9 L1054.1,2011.1 L1053,2011.2 L1052.3,2011.3 L1051.8,2011.3 L1050.7,2011.1 L1049.5,2010.9 L1048.8,2010.7 L1048.4,2011.2 L1047.3,2010.8 L1046.1,2010.4 L1045,2010 L1043.8,2009.7 L1042.7,2009.3 L1041.6,2009 L1040.4,2008.7 L1039.3,2008.4 L1038.2,2008.1 L1037,2007.8 L1035.9,2007.5 L1034.7,2007.3 L1033.6,2007.1 L1032.5,2006.8 L1031.3,2006.7 L1030.2,2006.6 L1029,2006.6 L1027.9,2006.6 Z" fill="#1d8a3e" stroke="#2b2b2b" stroke-width="1.9" stroke-linejoin="round"/>
<rect x="1028.8" y="2000.3" width="11.6" height="12" rx="3.5" ry="5" fill="#1d8a3e" stroke="#2b2b2b" stroke-width="0.5"/>
<rect x="1048.8" y="1987.1" width="7.6" height="38.5" fill="none" stroke="#1d8a3e" stroke-width="1.8"/>
<line x1="1052.3" y1="1987.1" x2="1052.3" y2="2025.6" stroke="#1d8a3e" stroke-width="1.8"/>
<path d="M1060,2047.6 L1061.3,2047.6 L1062.5,2047.6 L1063.8,2047.6 L1065.1,2047.6 L1066.3,2047.4 L1067.6,2047.3 L1068.8,2047.1 L1070.1,2047 L1071.4,2046.8 L1072.6,2046.6 L1073.9,2046.4 L1075.2,2046.2 L1076.4,2046 L1077.7,2045.8 L1079,2045.6 L1080,2045.7 L1080.2,2045.7 L1081.5,2045.6 L1082.8,2045.5 L1084,2045.4 L1085,2045.4 L1085.3,2045.4 L1086.5,2045.5 L1087.8,2045.5 L1089.1,2045.6 L1090,2045.7 L1090.3,2045.5 L1091.6,2045.7 L1092.9,2046 L1094.1,2046.3 L1095.4,2046.6 L1096.7,2046.8 L1097.9,2047 L1099.2,2047.2 L1100.4,2047.4 L1101.7,2047.6 L1103,2047.6 L1104.2,2047.6 L1105.5,2047.6 L1105.5,2048.2 L1104.2,2048.2 L1103,2048.2 L1101.7,2048.2 L1100.4,2048.3 L1099.2,2048.5 L1097.9,2048.7 L1096.7,2048.9 L1095.4,2049.2 L1094.1,2049.4 L1092.9,2049.7 L1091.6,2050 L1090.3,2050.3 L1090,2050.1 L1089.1,2050.1 L1087.8,2050.2 L1086.5,2050.3 L1085.3,2050.4 L1085,2050.4 L1084,2050.3 L1082.8,2050.2 L1081.5,2050.2 L1080.2,2050.1 L1080,2050.1 L1079,2050.2 L1077.7,2050 L1076.4,2049.7 L1075.2,2049.5 L1073.9,2049.3 L1072.6,2049.1 L1071.4,2048.9 L1070.1,2048.8 L1068.8,2048.6 L1067.6,2048.5 L1066.3,2048.3 L1065.1,2048.2 L1063.8,2048.2 L1062.5,2048.2 L1061.3,2048.2 L1060,2048.2 Z" fill="#1d8a3e" stroke="#2b2b2b" stroke-width="1.9" stroke-linejoin="round"/>
<rect x="1080" y="2028.6" width="10" height="38.5" fill="none" stroke="#1d8a3e" stroke-width="1.8"/>
<line x1="1085" y1="2028.6" x2="1085" y2="2067.1" stroke="#1d8a3e" stroke-width="1.8"/>
<path d="M1079.3,2089.1 L1080,2089.1 L1080.6,2089 L1081.3,2088.7 L1082,2088.3 L1082.6,2087.8 L1083.3,2087.3 L1083.9,2086.8 L1084.6,2086.2 L1085.3,2085.5 L1085.9,2084.9 L1086.4,2085 L1086.6,2085 L1087.3,2084.8 L1087.9,2084.7 L1088.6,2084.5 L1089.2,2084.4 L1089.3,2084.4 L1089.9,2084.5 L1090.6,2084.7 L1091.2,2084.8 L1091.9,2085 L1092.1,2085 L1092.6,2084.7 L1093.2,2085.2 L1093.9,2085.6 L1094.6,2086 L1095.2,2086.4 L1095.9,2086.7 L1096.6,2087.1 L1097.2,2087.4 L1097.9,2087.7 L1098.6,2088 L1099.2,2088.3 L1099.9,2088.6 L1100.5,2088.8 L1101.2,2089 L1101.9,2089.1 L1102.5,2089.1 L1103.2,2089.1 L1103.2,2089.7 L1102.5,2089.7 L1101.9,2089.7 L1101.2,2089.8 L1100.5,2090 L1099.9,2090.2 L1099.2,2090.5 L1098.6,2090.8 L1097.9,2091.1 L1097.2,2091.4 L1096.6,2091.7 L1095.9,2092.1 L1095.2,2092.4 L1094.6,2092.8 L1093.9,2093.2 L1093.2,2093.6 L1092.6,2094.1 L1092.1,2093.8 L1091.9,2093.8 L1091.2,2094 L1090.6,2094.1 L1089.9,2094.3 L1089.3,2094.4 L1089.2,2094.4 L1088.6,2094.3 L1087.9,2094.1 L1087.3,2094 L1086.6,2093.8 L1086.4,2093.8 L1085.9,2093.9 L1085.3,2093.3 L1084.6,2092.6 L1083.9,2092 L1083.3,2091.5 L1082.6,2091 L1082,2090.5 L1081.3,2090.1 L1080.6,2089.8 L1080,2089.7 L1079.3,2089.7 Z" fill="#1d8a3e" stroke="#2b2b2b" stroke-width="1.9" stroke-linejoin="round"/>
<rect x="1097.9" y="2083.4" width="5.3" height="12" rx="2.6" ry="5" fill="#1d8a3e" stroke="#2b2b2b" stroke-width="0.5"/>
<rect x="1086.4" y="2070.2" width="5.7" height="38.5" fill="none" stroke="#1d8a3e" stroke-width="1.8"/>
<line x1="1089.2" y1="2070.2" x2="1089.2" y2="2108.7" stroke="#1d8a3e" stroke-width="1.8"/>
<path d="M1015,2130.6 L1016.1,2130.6 L1017.2,2130.6 L1018.3,2130.6 L1019.4,2130.5 L1020.5,2130.4 L1021.5,2130.2 L1022.6,2130 L1023.7,2129.8 L1024.8,2129.5 L1025.9,2129.3 L1027,2129.1 L1028.1,2128.8 L1029.2,2128.5 L1030.3,2128.2 L1031.4,2127.9 L1031.4,2128.3 L1032.5,2128.2 L1033.6,2128.1 L1034.7,2128.1 L1035.7,2128 L1036.4,2127.9 L1036.8,2128 L1037.9,2128 L1039,2128.1 L1040.1,2128.2 L1041.2,2128.3 L1041.6,2128.3 L1042.3,2128.2 L1043.4,2128.5 L1044.5,2128.9 L1045.6,2129.2 L1046.7,2129.5 L1047.8,2129.8 L1048.8,2130.1 L1049.9,2130.3 L1051,2130.5 L1052.1,2130.6 L1053.2,2130.6 L1054.3,2130.6 L1054.3,2131.2 L1053.2,2131.2 L1052.1,2131.2 L1051,2131.3 L1049.9,2131.5 L1048.8,2131.8 L1047.8,2132 L1046.7,2132.3 L1045.6,2132.6 L1044.5,2133 L1043.4,2133.3 L1042.3,2133.7 L1041.6,2133.6 L1041.2,2133.6 L1040.1,2133.7 L1039,2133.7 L1037.9,2133.8 L1036.8,2133.9 L1036.4,2133.9 L1035.7,2133.9 L1034.7,2133.8 L1033.6,2133.7 L1032.5,2133.6 L1031.4,2133.6 L1031.4,2133.9 L1030.3,2133.6 L1029.2,2133.3 L1028.1,2133.1 L1027,2132.8 L1025.9,2132.6 L1024.8,2132.3 L1023.7,2132.1 L1022.6,2131.9 L1021.5,2131.7 L1020.5,2131.5 L1019.4,2131.3 L1018.3,2131.2 L1017.2,2131.2 L1016.1,2131.2 L1015,2131.2 Z" fill="#1d8a3e" stroke="#2b2b2b" stroke-width="1.9" stroke-linejoin="round"/>
<rect x="1031.4" y="2111.7" width="10.2" height="38.5" fill="none" stroke="#1d8a3e" stroke-width="1.8"/>
<line x1="1036.4" y1="2111.7" x2="1036.4" y2="2150.2" stroke="#1d8a3e" stroke-width="1.8"/>
<path d="M1082,2172.2 L1082.4,2172.2 L1082.8,2172.1 L1083.3,2171.7 L1083.7,2171.3 L1084.1,2170.9 L1084.5,2170.4 L1084.9,2169.9 L1085.4,2169.3 L1085.8,2168.7 L1086.2,2168 L1086.6,2167.4 L1087,2166.7 L1087.5,2165.9 L1087.7,2166.3 L1087.9,2166.2 L1088.3,2166.1 L1088.7,2165.9 L1089.1,2165.8 L1089.5,2165.7 L1090,2165.5 L1090.1,2165.5 L1090.4,2165.6 L1090.8,2165.7 L1091.2,2165.9 L1091.6,2166 L1092.1,2166.1 L1092.5,2166.3 L1092.5,2166.3 L1092.9,2166.4 L1093.3,2167.3 L1093.7,2168.1 L1094.2,2168.9 L1094.6,2169.6 L1095,2170.3 L1095.4,2170.9 L1095.8,2171.5 L1096.3,2171.9 L1096.7,2172.2 L1097.1,2172.2 L1097.1,2172.8 L1096.7,2172.8 L1096.3,2173 L1095.8,2173.5 L1095.4,2174 L1095,2174.6 L1094.6,2175.3 L1094.2,2176 L1093.7,2176.8 L1093.3,2177.7 L1092.9,2178.6 L1092.5,2178.6 L1092.5,2178.6 L1092.1,2178.8 L1091.6,2178.9 L1091.2,2179.1 L1090.8,2179.2 L1090.4,2179.4 L1090.1,2179.5 L1090,2179.4 L1089.5,2179.3 L1089.1,2179.1 L1088.7,2179 L1088.3,2178.8 L1087.9,2178.7 L1087.7,2178.6 L1087.5,2179 L1087,2178.3 L1086.6,2177.6 L1086.2,2176.9 L1085.8,2176.2 L1085.4,2175.6 L1084.9,2175 L1084.5,2174.5 L1084.1,2174 L1083.7,2173.6 L1083.3,2173.2 L1082.8,2172.9 L1082.4,2172.8 L1082,2172.8 Z" fill="#1d8a3e" stroke="#2b2b2b" stroke-width="1.9" stroke-linejoin="round"/>
<rect x="1087.7" y="2153.2" width="4.8" height="38.5" fill="#1d8a3e" stroke="#1d8a3e" stroke-width="1.6"/>
<path d="M1033.2,2213.7 L1034,2213.7 L1034.7,2213.5 L1035.5,2213 L1036.3,2212.5 L1037,2211.9 L1037.8,2211.2 L1038.6,2210.5 L1039.4,2209.7 L1040.1,2208.9 L1040.9,2208 L1040.9,2208.7 L1041.7,2208.5 L1042.4,2208.3 L1043.2,2208.1 L1043.7,2208 L1044,2208.1 L1044.7,2208.2 L1045.5,2208.4 L1046.3,2208.6 L1046.6,2208.7 L1047.1,2208.3 L1047.8,2208.7 L1048.6,2209.2 L1049.4,2209.6 L1050.1,2210.1 L1050.9,2210.5 L1051.7,2210.9 L1052.4,2211.3 L1053.2,2211.6 L1054,2212 L1054.7,2212.3 L1055.5,2212.6 L1056.3,2212.9 L1057.1,2213.2 L1057.8,2213.4 L1058.6,2213.6 L1059.4,2213.7 L1060.1,2213.7 L1060.9,2213.7 L1060.9,2214.3 L1060.1,2214.3 L1059.4,2214.3 L1058.6,2214.4 L1057.8,2214.6 L1057.1,2214.8 L1056.3,2215.1 L1055.5,2215.4 L1054.7,2215.7 L1054,2216 L1053.2,2216.4 L1052.4,2216.7 L1051.7,2217.1 L1050.9,2217.5 L1050.1,2217.9 L1049.4,2218.3 L1048.6,2218.8 L1047.8,2219.2 L1047.1,2219.7 L1046.6,2219.3 L1046.3,2219.3 L1045.5,2219.5 L1044.7,2219.7 L1044,2219.9 L1043.7,2220 L1043.2,2219.9 L1042.4,2219.7 L1041.7,2219.5 L1040.9,2219.3 L1040.9,2220 L1040.1,2219.1 L1039.4,2218.3 L1038.6,2217.5 L1037.8,2216.8 L1037,2216.1 L1036.3,2215.5 L1035.5,2215 L1034.7,2214.5 L1034,2214.3 L1033.2,2214.3 Z" fill="#1d8a3e" stroke="#2b2b2b" stroke-width="1.9" stroke-linejoin="round"/>
<rect x="1052" y="2208" width="7.6" height="12" rx="3.5" ry="5" fill="#1d8a3e" stroke="#2b2b2b" stroke-width="0.5"/>
<rect x="1040.9" y="2194.7" width="5.7" height="38.5" fill="none" stroke="#1d8a3e" stroke-width="1.8"/>
<line x1="1043.7" y1="2194.7" x2="1043.7" y2="2233.2" stroke="#1d8a3e" stroke-width="1.8"/>
<path d="M1022.5,2255.2 L1023.7,2255.2 L1024.8,2255.2 L1026,2255.2 L1027.2,2255.1 L1028.3,2255 L1029.5,2254.8 L1030.7,2254.6 L1031.8,2254.4 L1033,2254.2 L1034.2,2254 L1035.3,2253.7 L1036.5,2253.5 L1037.7,2253.2 L1038.8,2253 L1040,2252.7 L1041.2,2252.4 L1042.3,2252.1 L1043.5,2251.8 L1044.7,2251.5 L1045.8,2251.1 L1047,2250.8 L1048,2251.1 L1048.2,2251.1 L1049.3,2250.9 L1050.5,2250.6 L1051,2250.5 L1051.7,2250.6 L1052.8,2250.9 L1054,2251.1 L1054.1,2251.1 L1055.2,2251.3 L1056.3,2252 L1057.5,2252.8 L1058.7,2253.4 L1059.8,2254 L1061,2254.5 L1062.2,2255 L1063.3,2255.2 L1064.5,2255.2 L1064.5,2255.8 L1063.3,2255.8 L1062.2,2256.1 L1061,2256.5 L1059.8,2257 L1058.7,2257.6 L1057.5,2258.3 L1056.3,2259 L1055.2,2259.8 L1054.1,2259.9 L1054,2259.9 L1052.8,2260.2 L1051.7,2260.4 L1051,2260.5 L1050.5,2260.4 L1049.3,2260.2 L1048.2,2260 L1048,2259.9 L1047,2260.2 L1045.8,2259.9 L1044.7,2259.6 L1043.5,2259.3 L1042.3,2258.9 L1041.2,2258.7 L1040,2258.4 L1038.8,2258.1 L1037.7,2257.8 L1036.5,2257.6 L1035.3,2257.3 L1034.2,2257.1 L1033,2256.8 L1031.8,2256.6 L1030.7,2256.4 L1029.5,2256.2 L1028.3,2256.1 L1027.2,2255.9 L1026,2255.8 L1024.8,2255.8 L1023.7,2255.8 L1022.5,2255.8 Z" fill="#1d8a3e" stroke="#2b2b2b" stroke-width="1.9" stroke-linejoin="round"/>
<rect x="1022.5" y="2249.5" width="22.3" height="12" rx="3.5" ry="5" fill="#1d8a3e" stroke="#2b2b2b" stroke-width="0.5"/>
<rect x="1058.2" y="2249.5" width="6.3" height="12" rx="3.1" ry="5" fill="#1d8a3e" stroke="#2b2b2b" stroke-width="0.5"/>
<rect x="1048" y="2236.3" width="6.1" height="38.5" fill="none" stroke="#1d8a3e" stroke-width="1.8"/>
<line x1="1051" y1="2236.3" x2="1051" y2="2274.8" stroke="#1d8a3e" stroke-width="1.8"/>
<rect x="81.5" y="1649.5" width="803.8" height="700.2" fill="none" stroke="#231f20" stroke-width="1.6"/>
<rect x="885.3" y="1649.5" width="230" height="631.1" fill="none" stroke="#231f20" stroke-width="1.6"/>
<line x1="922.5" y1="2280.6" x2="922.5" y2="2290.1" stroke="#231f20" stroke-width="1.6"/>
<text transform="translate(925,2314.4) scale(1,1.04)" font-size="24.4" text-anchor="middle" font-style="normal" fill="#231f20" >0.2</text>
<line x1="970.7" y1="2280.6" x2="970.7" y2="2290.1" stroke="#231f20" stroke-width="1.6"/>
<text transform="translate(973.2,2314.4) scale(1,1.04)" font-size="24.4" text-anchor="middle" font-style="normal" fill="#231f20" >0.3</text>
<line x1="1019.5" y1="2280.6" x2="1019.5" y2="2290.1" stroke="#231f20" stroke-width="1.6"/>
<text transform="translate(1022,2314.4) scale(1,1.04)" font-size="24.4" text-anchor="middle" font-style="normal" fill="#231f20" >0.4</text>
<line x1="1068.4" y1="2280.6" x2="1068.4" y2="2290.1" stroke="#231f20" stroke-width="1.6"/>
<text transform="translate(1070.9,2314.4) scale(1,1.04)" font-size="24.4" text-anchor="middle" font-style="normal" fill="#231f20" >0.5</text>
<text transform="translate(1000.3,2341.6) scale(1,1.04)" font-size="24.4" text-anchor="middle" font-style="normal" fill="#000" >SignatureScore</text>
<rect x="160.6" y="2287.8" width="5.9" height="16" fill="#e1322a"/>
<rect x="166.5" y="2291.8" width="7.2" height="8" fill="#e1322a"/>
<rect x="173.7" y="2287.8" width="13.7" height="16" fill="#e1322a"/>
<rect x="242.3" y="2291.8" width="78.7" height="8" fill="#3b7bc2"/>
<rect x="254.5" y="2287.8" width="1.4" height="16" fill="#3b7bc2"/>
<rect x="319.8" y="2287.8" width="1.6" height="16" fill="#3b7bc2"/>
<rect x="482.7" y="2287.8" width="3.5" height="16" fill="#e1322a"/>
<rect x="486.2" y="2291.8" width="24.4" height="8" fill="#e1322a"/>
<rect x="487.8" y="2287.8" width="1.4" height="16" fill="#e1322a"/>
<rect x="499.6" y="2287.8" width="1.2" height="16" fill="#e1322a"/>
<rect x="510.6" y="2287.8" width="18.3" height="16" fill="#e1322a"/>
<rect x="644.6" y="2291.8" width="79.9" height="8" fill="#e1322a"/>
<rect x="644.3" y="2287.8" width="1.4" height="16" fill="#e1322a"/>
<rect x="658.6" y="2287.8" width="1.4" height="16" fill="#e1322a"/>
<rect x="665.2" y="2287.8" width="1.4" height="16" fill="#e1322a"/>
<rect x="699" y="2287.8" width="1.4" height="16" fill="#e1322a"/>
<rect x="724.5" y="2291.8" width="80.4" height="8" fill="#3b7bc2"/>
<rect x="755" y="2287.8" width="1.2" height="16" fill="#3b7bc2"/>
<rect x="803.7" y="2287.8" width="1.6" height="16" fill="#3b7bc2"/>
<text transform="translate(161.9,2336.6) scale(1,1.04)" font-size="24.4" text-anchor="middle" font-style="italic" fill="#000" >NUDT16P1</text>
<text transform="translate(322.6,2336.6) scale(1,1.04)" font-size="24.4" text-anchor="middle" font-style="italic" fill="#000" >SLC16A6</text>
<text transform="translate(483.4,2336.6) scale(1,1.04)" font-size="24.4" text-anchor="middle" font-style="italic" fill="#000" >BHLHE40</text>
<text transform="translate(644.2,2336.6) scale(1,1.04)" font-size="24.4" text-anchor="middle" font-style="italic" fill="#000" >CCND1</text>
<text transform="translate(804.9,2336.6) scale(1,1.04)" font-size="24.4" text-anchor="middle" font-style="italic" fill="#000" >CA12</text>
<circle cx="1132.1" cy="1674.1" r="11.1" fill="#d3a062"/>
<circle cx="1132.1" cy="1715.7" r="11.1" fill="#b865a3"/>
<circle cx="1132.1" cy="1757.3" r="11.1" fill="#b865a3"/>
<circle cx="1132.1" cy="1798.9" r="11.1" fill="#e87777"/>
<circle cx="1132.1" cy="1840.5" r="11.1" fill="#6a449b"/>
<circle cx="1132.1" cy="1882.1" r="11.1" fill="#cf2027"/>
<circle cx="1132.1" cy="1923.7" r="11.1" fill="#3bb09e"/>
<circle cx="1132.1" cy="1965.3" r="11.1" fill="#3bb09e"/>
<circle cx="1132.1" cy="2006.9" r="11.1" fill="#8fd0dc"/>
<circle cx="1132.1" cy="2048.5" r="11.1" fill="#86c05c"/>
<circle cx="1132.1" cy="2090.1" r="11.1" fill="#86c05c"/>
<circle cx="1132.1" cy="2131.7" r="11.1" fill="#2b3a80"/>
<circle cx="1132.1" cy="2173.3" r="11.1" fill="#84208a"/>
<circle cx="1132.1" cy="2214.9" r="11.1" fill="#f2de1b"/>
<circle cx="1132.1" cy="2256.5" r="11.1" fill="#8296c8"/>
<text transform="translate(1197.9,1681.7) scale(1,1.04)" font-size="24.4" text-anchor="middle" font-style="normal" fill="#000" >P44</text>
<text transform="translate(1260.9,1681.7) scale(1,1.04)" font-size="24.4" text-anchor="middle" font-style="normal" fill="#000" >TN</text>
<text transform="translate(1197.9,1806.5) scale(1,1.04)" font-size="24.4" text-anchor="middle" font-style="normal" fill="#000" >P51</text>
<text transform="translate(1260.9,1806.5) scale(1,1.04)" font-size="24.4" text-anchor="middle" font-style="normal" fill="#000" >LM</text>
<text transform="translate(1197.9,1848.1) scale(1,1.04)" font-size="24.4" text-anchor="middle" font-style="normal" fill="#000" >P93</text>
<text transform="translate(1260.9,1848.1) scale(1,1.04)" font-size="24.4" text-anchor="middle" font-style="normal" fill="#000" >LH</text>
<text transform="translate(1197.9,1889.7) scale(1,1.04)" font-size="24.4" text-anchor="middle" font-style="normal" fill="#000" >P20N</text>
<text transform="translate(1260.9,1889.7) scale(1,1.04)" font-size="24.4" text-anchor="middle" font-style="normal" fill="#000" >TN</text>
<text transform="translate(1197.9,2014.5) scale(1,1.04)" font-size="24.4" text-anchor="middle" font-style="normal" fill="#000" >P49</text>
<text transform="translate(1260.9,2014.5) scale(1,1.04)" font-size="24.4" text-anchor="middle" font-style="normal" fill="#000" >LM</text>
<text transform="translate(1197.9,2139.3) scale(1,1.04)" font-size="24.4" text-anchor="middle" font-style="normal" fill="#000" >P33</text>
<text transform="translate(1260.9,2139.3) scale(1,1.04)" font-size="24.4" text-anchor="middle" font-style="normal" fill="#000" >LM</text>
<text transform="translate(1197.9,2180.9) scale(1,1.04)" font-size="24.4" text-anchor="middle" font-style="normal" fill="#000" >P35</text>
<text transform="translate(1260.9,2180.9) scale(1,1.04)" font-size="24.4" text-anchor="middle" font-style="normal" fill="#000" >LM</text>
<text transform="translate(1197.9,2222.5) scale(1,1.04)" font-size="24.4" text-anchor="middle" font-style="normal" fill="#000" >P39</text>
<text transform="translate(1260.9,2222.5) scale(1,1.04)" font-size="24.4" text-anchor="middle" font-style="normal" fill="#000" >LM</text>
<text transform="translate(1197.9,2264.1) scale(1,1.04)" font-size="24.4" text-anchor="middle" font-style="normal" fill="#000" >P40</text>
<text transform="translate(1260.9,2264.1) scale(1,1.04)" font-size="24.4" text-anchor="middle" font-style="normal" fill="#000" >LM</text>
<text transform="translate(1197.9,1744.1) scale(1,1.04)" font-size="24.4" text-anchor="middle" font-style="normal" fill="#000" >P41</text>
<text transform="translate(1260.9,1744.1) scale(1,1.04)" font-size="24.4" text-anchor="middle" font-style="normal" fill="#000" >TN</text>
<path d="M1153.1,1715.7 H1167 V1757.3 H1153.1" fill="none" stroke="#231f20" stroke-width="1.8"/>
<text transform="translate(1197.9,1952.1) scale(1,1.04)" font-size="24.4" text-anchor="middle" font-style="normal" fill="#000" >P64</text>
<text transform="translate(1260.9,1952.1) scale(1,1.04)" font-size="24.4" text-anchor="middle" font-style="normal" fill="#000" >LM</text>
<path d="M1153.1,1923.7 H1167 V1965.3 H1153.1" fill="none" stroke="#231f20" stroke-width="1.8"/>
<text transform="translate(1197.9,2076.9) scale(1,1.04)" font-size="24.4" text-anchor="middle" font-style="normal" fill="#000" >P50</text>
<text transform="translate(1260.9,2076.9) scale(1,1.04)" font-size="24.4" text-anchor="middle" font-style="normal" fill="#000" >LM</text>
<path d="M1153.1,2048.5 H1167 V2090.1 H1153.1" fill="none" stroke="#231f20" stroke-width="1.8"/>
<line x1="1176.4" y1="2285.1" x2="1218.6" y2="2285.1" stroke="#231f20" stroke-width="1.6"/>
<line x1="1243.3" y1="2285.1" x2="1279.1" y2="2285.1" stroke="#231f20" stroke-width="1.6"/>
<text transform="translate(1191.5,2300.6) rotate(-90) scale(1,1.04)" font-size="24.4" text-anchor="end">Most enriched</text>
<text transform="translate(1219.5,2300.6) rotate(-90) scale(1,1.04)" font-size="24.4" text-anchor="end">samples in cluster</text>
<text transform="translate(1266.9,2300.6) rotate(-90) scale(1,1.04)" font-size="24.4" text-anchor="end">subtype</text>
</svg></body></html>
